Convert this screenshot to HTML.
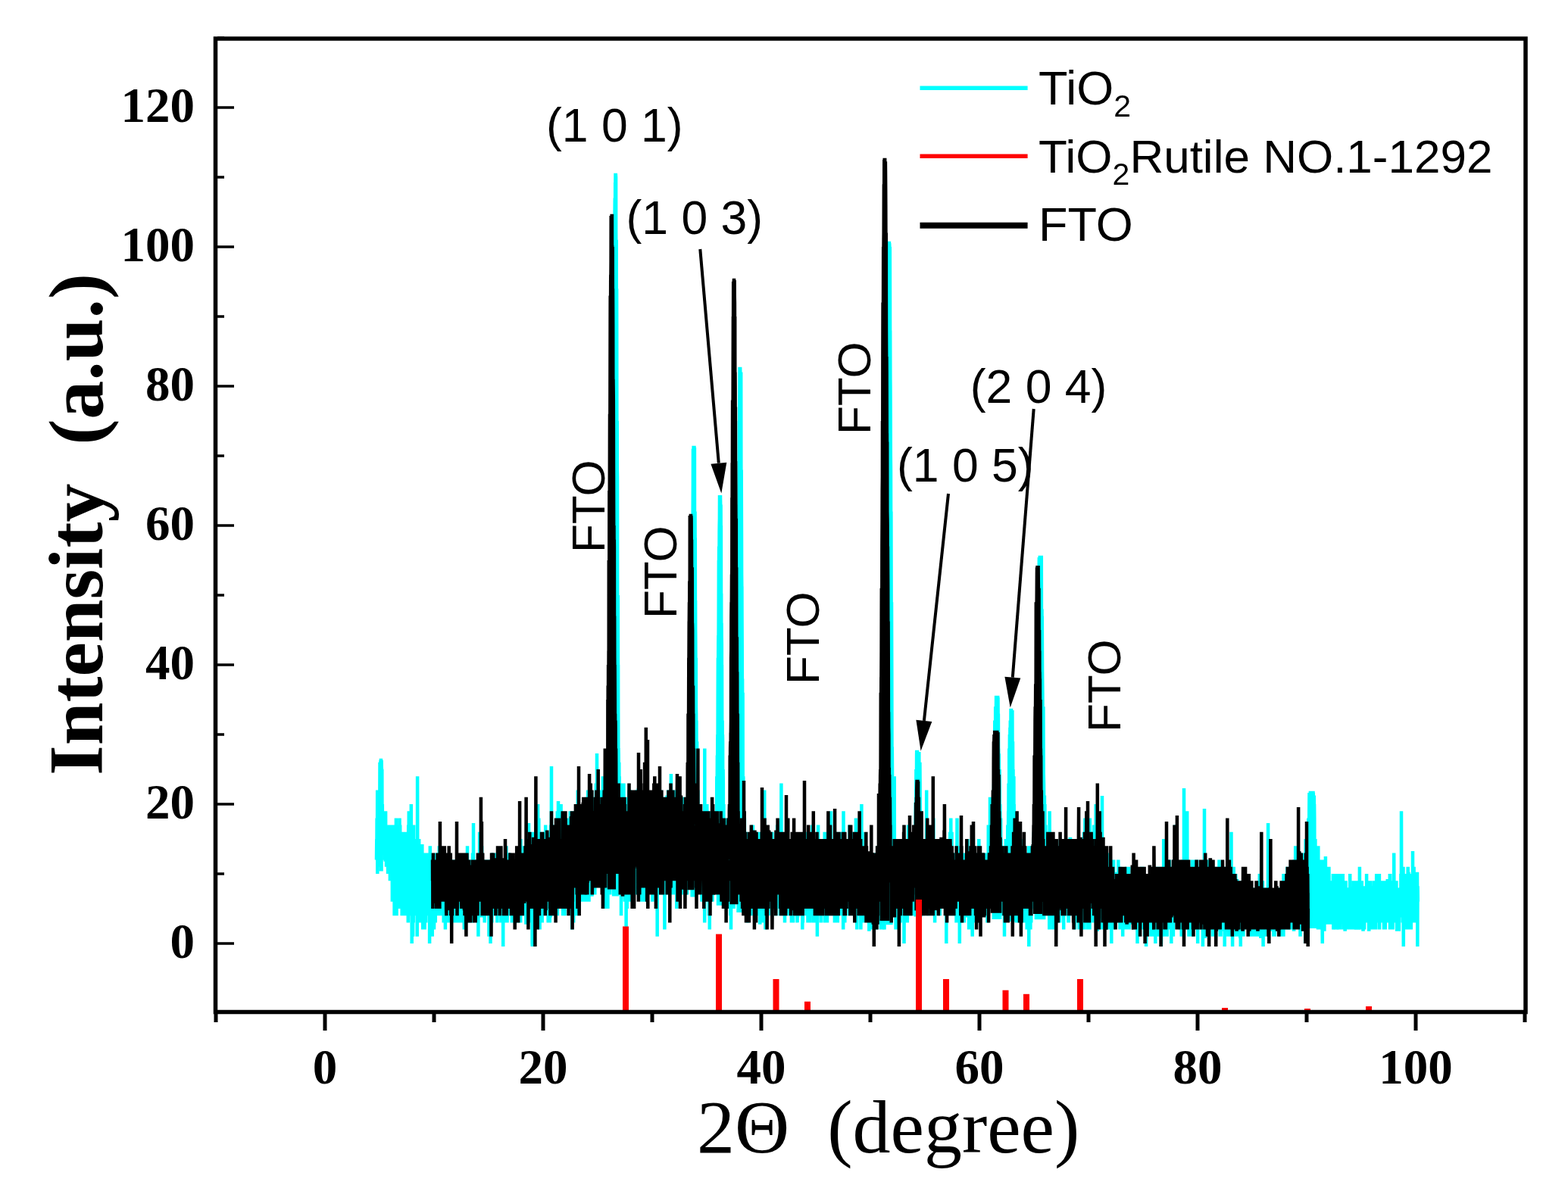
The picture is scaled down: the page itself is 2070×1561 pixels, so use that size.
<!DOCTYPE html>
<html><head><meta charset="utf-8"><title>XRD</title>
<style>html,body{margin:0;padding:0;background:#fff;} svg{display:block;}</style>
</head><body>
<svg width="2070" height="1561" viewBox="0 0 2070 1561"><rect width="2070" height="1561" fill="#fff"/><polygon fill="#00ffff" points="500.3,1150.5 500.3,1098.8 500.5,1108.0 500.6,1080.4 500.7,1089.6 500.9,1117.2 501.0,1080.4 501.2,1062.0 501.3,1062.0 501.5,1006.8 501.6,1043.6 501.8,1098.8 501.9,1016.0 502.0,1062.0 502.2,1034.4 502.3,1025.2 502.5,1004.0 502.6,1034.4 502.8,1016.0 502.9,1004.0 503.0,1004.0 503.2,1006.8 503.3,1043.6 503.5,1006.8 503.6,1004.0 503.8,1016.0 503.9,1016.0 504.1,1025.2 504.2,1025.2 504.3,1016.0 504.5,1098.8 504.6,1080.4 504.8,1062.0 504.9,1089.6 505.1,1117.2 505.2,1108.0 505.4,1089.6 505.5,1126.4 505.6,1126.4 505.8,1080.4 505.8,1150.5"/><polygon fill="#00ffff" points="807.9,1183.6 807.9,1043.6 808.0,1025.2 808.2,1006.8 808.3,1071.2 808.5,960.8 808.6,942.4 808.8,951.6 808.9,850.4 809.0,850.4 809.2,878.0 809.3,813.6 809.5,804.4 809.6,721.6 809.8,694.0 809.9,638.8 810.1,638.8 810.2,638.8 810.3,565.2 810.5,528.4 810.6,473.2 810.8,418.0 810.9,390.4 811.1,482.4 811.2,390.4 811.4,362.8 811.5,344.4 811.6,280.0 811.8,261.6 811.9,326.0 812.1,289.2 812.2,243.2 812.4,243.2 812.5,231.0 812.6,231.0 812.8,231.0 812.9,231.0 813.1,234.0 813.2,307.6 813.4,344.4 813.5,326.0 813.7,316.8 813.8,390.4 813.9,399.6 814.1,381.2 814.2,427.2 814.4,583.6 814.5,574.4 814.7,556.0 814.8,620.4 815.0,629.6 815.1,684.8 815.2,822.8 815.4,786.0 815.5,822.8 815.7,804.4 815.8,786.0 816.0,924.0 816.1,878.0 816.2,942.4 816.4,1025.2 816.5,988.4 816.7,997.6 816.8,1043.6 817.0,1052.8 817.1,1089.6 817.1,1183.6"/><polygon fill="#00ffff" points="911.4,1184.4 911.4,1052.8 911.6,1052.8 911.7,1071.2 911.9,979.2 912.0,1006.8 912.2,1016.0 912.3,1006.8 912.4,960.8 912.6,951.6 912.7,942.4 912.9,942.4 913.0,933.2 913.2,896.4 913.3,896.4 913.4,822.8 913.6,905.6 913.7,832.0 913.9,804.4 914.0,832.0 914.2,740.0 914.3,786.0 914.5,786.0 914.6,740.0 914.7,675.6 914.9,638.8 915.0,592.8 915.2,684.8 915.3,629.6 915.5,629.6 915.6,591.0 915.8,591.0 915.9,620.4 916.0,591.0 916.2,638.8 916.3,591.0 916.5,591.0 916.6,611.2 916.8,684.8 916.9,591.0 917.0,712.4 917.2,721.6 917.3,740.0 917.5,675.6 917.6,712.4 917.8,712.4 917.9,795.2 918.1,795.2 918.2,832.0 918.3,841.2 918.5,878.0 918.6,878.0 918.8,868.8 918.9,933.2 919.1,942.4 919.2,1006.8 919.4,951.6 919.5,979.2 919.6,997.6 919.8,1043.6 919.9,1034.4 920.1,979.2 920.2,1016.0 920.4,1080.4 920.5,1052.8 920.6,1135.6 920.6,1184.4"/><polygon fill="#00ffff" points="945.8,1195.8 945.8,1071.2 946.0,1108.0 946.1,1080.4 946.3,1025.2 946.4,1043.6 946.6,1025.2 946.7,1043.6 946.9,997.6 947.0,1034.4 947.1,1016.0 947.3,979.2 947.4,970.0 947.6,979.2 947.7,924.0 947.9,868.8 948.0,878.0 948.2,896.4 948.3,850.4 948.4,841.2 948.6,841.2 948.7,813.6 948.9,740.0 949.0,758.4 949.2,721.6 949.3,740.0 949.4,767.6 949.6,703.2 949.7,694.0 949.9,684.8 950.0,654.0 950.2,703.2 950.3,675.6 950.5,654.0 950.6,703.2 950.7,654.0 950.9,712.4 951.0,654.0 951.2,666.4 951.3,740.0 951.5,703.2 951.6,666.4 951.8,730.8 951.9,694.0 952.0,786.0 952.2,786.0 952.3,832.0 952.5,822.8 952.6,841.2 952.8,850.4 952.9,896.4 953.0,878.0 953.2,951.6 953.3,979.2 953.5,1006.8 953.6,951.6 953.8,1025.2 953.9,970.0 954.1,979.2 954.2,1025.2 954.3,1071.2 954.5,1062.0 954.6,1016.0 954.8,1034.4 954.9,1089.6 955.1,1071.2 955.1,1195.8"/><polygon fill="#00ffff" points="972.3,1205.1 972.3,1172.4 972.5,1052.8 972.6,1089.6 972.8,1080.4 972.9,1071.2 973.1,1052.8 973.2,1043.6 973.4,960.8 973.5,970.0 973.6,979.2 973.8,905.6 973.9,960.8 974.1,933.2 974.2,905.6 974.4,905.6 974.5,795.2 974.6,749.2 974.8,804.4 974.9,767.6 975.1,694.0 975.2,740.0 975.4,666.4 975.5,730.8 975.7,629.6 975.8,611.2 975.9,556.0 976.1,592.8 976.2,537.6 976.4,519.2 976.5,487.0 976.7,487.0 976.8,487.0 977.0,487.0 977.1,487.0 977.2,487.0 977.4,500.8 977.5,546.8 977.7,500.8 977.8,565.2 978.0,528.4 978.1,574.4 978.2,491.6 978.4,648.0 978.5,657.2 978.7,620.4 978.8,657.2 979.0,712.4 979.1,758.4 979.3,776.8 979.4,776.8 979.5,813.6 979.7,850.4 979.8,887.2 980.0,933.2 980.1,896.4 980.3,1006.8 980.4,970.0 980.6,914.8 980.7,1043.6 980.8,1034.4 981.0,1043.6 981.1,1089.6 981.3,1025.2 981.4,1089.6 981.6,1043.6 981.6,1205.1"/><polygon fill="#00ffff" points="1169.3,1221.3 1169.3,1089.6 1169.5,1089.6 1169.6,1043.6 1169.8,1062.0 1169.9,1025.2 1170.1,1043.6 1170.2,997.6 1170.3,942.4 1170.5,942.4 1170.6,942.4 1170.8,924.0 1170.9,914.8 1171.1,832.0 1171.2,859.6 1171.4,804.4 1171.5,758.4 1171.6,740.0 1171.8,684.8 1171.9,638.8 1172.1,638.8 1172.2,574.4 1172.4,556.0 1172.5,473.2 1172.6,427.2 1172.8,464.0 1172.9,427.2 1173.1,399.6 1173.2,353.6 1173.4,326.0 1173.5,362.8 1173.7,321.0 1173.8,321.0 1173.9,321.0 1174.1,372.0 1174.2,321.0 1174.4,326.0 1174.5,344.4 1174.7,408.8 1174.8,326.0 1175.0,399.6 1175.1,464.0 1175.2,436.4 1175.4,500.8 1175.5,510.0 1175.7,556.0 1175.8,602.0 1176.0,620.4 1176.1,675.6 1176.2,721.6 1176.4,675.6 1176.5,730.8 1176.7,832.0 1176.8,868.8 1177.0,795.2 1177.1,832.0 1177.3,887.2 1177.4,942.4 1177.5,988.4 1177.7,988.4 1177.8,988.4 1178.0,1016.0 1178.1,1052.8 1178.3,1089.6 1178.4,1052.8 1178.6,1080.4 1178.6,1221.3"/><polygon fill="#00ffff" points="1206.5,1210.5 1206.5,1154.0 1206.6,1190.8 1206.8,1144.8 1206.9,1126.4 1207.1,1181.6 1207.2,1135.6 1207.4,1108.0 1207.5,1135.6 1207.6,1117.2 1207.8,1181.6 1207.9,1108.0 1208.1,1098.8 1208.2,1117.2 1208.4,1135.6 1208.5,1135.6 1208.6,1089.6 1208.8,1062.0 1208.9,1062.0 1209.1,1071.2 1209.2,1062.0 1209.4,1016.0 1209.5,1098.8 1209.7,1062.0 1209.8,1089.6 1209.9,1052.8 1210.1,997.6 1210.2,993.0 1210.4,993.0 1210.5,1006.8 1210.7,1052.8 1210.8,993.0 1211.0,993.0 1211.1,1016.0 1211.2,993.0 1211.4,1034.4 1211.5,1016.0 1211.7,1043.6 1211.8,1006.8 1212.0,993.0 1212.1,1043.6 1212.2,1016.0 1212.4,1052.8 1212.5,997.6 1212.7,993.0 1212.8,1016.0 1213.0,1034.4 1213.1,997.6 1213.3,993.0 1213.4,1043.6 1213.5,1006.8 1213.7,1025.2 1213.8,1080.4 1214.0,1006.8 1214.1,1025.2 1214.3,1071.2 1214.4,1006.8 1214.6,1034.4 1214.7,1071.2 1214.8,1071.2 1215.0,1089.6 1215.1,1071.2 1215.3,1080.4 1215.4,1144.8 1215.6,1080.4 1215.7,1117.2 1215.8,1117.2 1216.0,1117.2 1216.1,1126.4 1216.3,1154.0 1216.4,1071.2 1216.6,1154.0 1216.7,1089.6 1216.9,1190.8 1217.0,1154.0 1217.1,1163.2 1217.3,1126.4 1217.4,1154.0 1217.6,1172.4 1217.6,1210.5"/><polygon fill="#00ffff" points="1309.6,1213.9 1309.6,1135.6 1309.7,1117.2 1309.9,1200.0 1310.0,1154.0 1310.2,1144.8 1310.3,1154.0 1310.5,1098.8 1310.6,1163.2 1310.7,1108.0 1310.9,1080.4 1311.0,1108.0 1311.2,1144.8 1311.3,1071.2 1311.5,1080.4 1311.6,1071.2 1311.8,1071.2 1311.9,1071.2 1312.0,1043.6 1312.2,1034.4 1312.3,1043.6 1312.5,1089.6 1312.6,1016.0 1312.8,1043.6 1312.9,1025.2 1313.0,1006.8 1313.2,970.0 1313.3,951.6 1313.5,997.6 1313.6,979.2 1313.8,988.4 1313.9,951.6 1314.1,988.4 1314.2,933.2 1314.3,951.6 1314.5,933.2 1314.6,979.2 1314.8,988.4 1314.9,942.4 1315.1,921.0 1315.2,921.0 1315.4,942.4 1315.5,921.0 1315.6,924.0 1315.8,921.0 1315.9,924.0 1316.1,921.0 1316.2,921.0 1316.4,951.6 1316.5,960.8 1316.6,921.0 1316.8,960.8 1316.9,942.4 1317.1,921.0 1317.2,921.0 1317.4,970.0 1317.5,921.0 1317.7,960.8 1317.8,979.2 1317.9,942.4 1318.1,1006.8 1318.2,988.4 1318.4,1006.8 1318.5,1043.6 1318.7,997.6 1318.8,997.6 1319.0,1043.6 1319.1,1016.0 1319.2,1043.6 1319.4,1062.0 1319.5,1016.0 1319.7,1034.4 1319.8,1080.4 1320.0,1098.8 1320.1,1117.2 1320.2,1062.0 1320.4,1080.4 1320.5,1108.0 1320.7,1089.6 1320.8,1117.2 1321.0,1126.4 1321.1,1080.4 1321.3,1154.0 1321.4,1163.2 1321.5,1108.0 1321.7,1126.4 1321.8,1144.8 1322.0,1163.2 1322.1,1135.6 1322.3,1163.2 1322.4,1172.4 1322.4,1213.9"/><polygon fill="#00ffff" points="1329.5,1216.9 1329.5,1181.6 1329.6,1135.6 1329.8,1190.8 1329.9,1172.4 1330.0,1117.2 1330.2,1163.2 1330.3,1089.6 1330.5,1172.4 1330.6,1098.8 1330.8,1135.6 1330.9,1108.0 1331.0,1117.2 1331.2,1071.2 1331.3,1098.8 1331.5,1062.0 1331.6,1034.4 1331.8,1052.8 1331.9,1043.6 1332.1,1071.2 1332.2,1071.2 1332.3,988.4 1332.5,1034.4 1332.6,1016.0 1332.8,988.4 1332.9,970.0 1333.1,1025.2 1333.2,1006.8 1333.4,960.8 1333.5,970.0 1333.6,988.4 1333.8,951.6 1333.9,970.0 1334.1,970.0 1334.2,951.6 1334.4,960.8 1334.5,938.0 1334.6,938.0 1334.8,938.0 1334.9,938.0 1335.1,938.0 1335.2,951.6 1335.4,970.0 1335.5,970.0 1335.7,938.0 1335.8,979.2 1335.9,960.8 1336.1,951.6 1336.2,988.4 1336.4,938.0 1336.5,979.2 1336.7,1016.0 1336.8,1025.2 1337.0,979.2 1337.1,1006.8 1337.2,1025.2 1337.4,1043.6 1337.5,1016.0 1337.7,1062.0 1337.8,1025.2 1338.0,1089.6 1338.1,1034.4 1338.2,1080.4 1338.4,1025.2 1338.5,1126.4 1338.7,1062.0 1338.8,1089.6 1339.0,1089.6 1339.1,1144.8 1339.3,1098.8 1339.4,1172.4 1339.5,1117.2 1339.7,1154.0 1339.8,1144.8 1340.0,1163.2 1340.1,1126.4 1340.3,1144.8 1340.4,1181.6 1340.6,1181.6 1340.6,1216.9"/><polygon fill="#00ffff" points="1365.6,1214.3 1365.6,1144.8 1365.8,1117.2 1365.9,1172.4 1366.0,1117.2 1366.2,1062.0 1366.3,1108.0 1366.5,1043.6 1366.6,1126.4 1366.8,1098.8 1366.9,1034.4 1367.0,1108.0 1367.2,1080.4 1367.3,1034.4 1367.5,1062.0 1367.6,1016.0 1367.8,1052.8 1367.9,1080.4 1368.1,1071.2 1368.2,970.0 1368.3,988.4 1368.5,1016.0 1368.6,1062.0 1368.8,933.2 1368.9,924.0 1369.1,905.6 1369.2,914.8 1369.4,979.2 1369.5,914.8 1369.6,896.4 1369.8,896.4 1369.9,896.4 1370.1,832.0 1370.2,887.2 1370.4,832.0 1370.5,878.0 1370.6,813.6 1370.8,822.8 1370.9,832.0 1371.1,795.2 1371.2,813.6 1371.4,786.0 1371.5,795.2 1371.7,767.6 1371.8,740.0 1371.9,736.0 1372.1,758.4 1372.2,749.2 1372.4,749.2 1372.5,736.0 1372.7,795.2 1372.8,736.0 1373.0,736.0 1373.1,740.0 1373.2,758.4 1373.4,736.0 1373.5,736.0 1373.7,767.6 1373.8,749.2 1374.0,749.2 1374.1,736.0 1374.2,736.0 1374.4,795.2 1374.5,795.2 1374.7,736.0 1374.8,736.0 1375.0,841.2 1375.1,804.4 1375.3,813.6 1375.4,832.0 1375.5,804.4 1375.7,887.2 1375.8,813.6 1376.0,868.8 1376.1,887.2 1376.3,905.6 1376.4,914.8 1376.6,960.8 1376.7,933.2 1376.8,960.8 1377.0,951.6 1377.1,942.4 1377.3,997.6 1377.4,933.2 1377.6,997.6 1377.7,1025.2 1377.8,1025.2 1378.0,1034.4 1378.1,1043.6 1378.3,1080.4 1378.4,1052.8 1378.6,1071.2 1378.7,1052.8 1378.9,1052.8 1379.0,1089.6 1379.1,1098.8 1379.3,1117.2 1379.4,1062.0 1379.6,1135.6 1379.7,1126.4 1379.9,1098.8 1380.0,1098.8 1380.2,1089.6 1380.3,1108.0 1380.4,1089.6 1380.4,1214.3"/><polygon fill="#00ffff" points="1724.6,1226.0 1724.6,1117.2 1724.7,1126.4 1724.9,1144.8 1725.0,1154.0 1725.2,1135.6 1725.3,1163.2 1725.5,1108.0 1725.6,1181.6 1725.8,1154.0 1725.9,1144.8 1726.0,1172.4 1726.2,1154.0 1726.3,1154.0 1726.5,1172.4 1726.6,1098.8 1726.8,1144.8 1726.9,1144.8 1727.0,1126.4 1727.2,1163.2 1727.3,1080.4 1727.5,1154.0 1727.6,1154.0 1727.8,1108.0 1727.9,1135.6 1728.1,1144.8 1728.2,1126.4 1728.3,1071.2 1728.5,1047.0 1728.6,1117.2 1728.8,1080.4 1728.9,1126.4 1729.1,1080.4 1729.2,1071.2 1729.4,1098.8 1729.5,1062.0 1729.6,1062.0 1729.8,1062.0 1729.9,1047.0 1730.1,1047.0 1730.2,1062.0 1730.4,1098.8 1730.5,1062.0 1730.6,1047.0 1730.8,1089.6 1730.9,1071.2 1731.1,1071.2 1731.2,1089.6 1731.4,1047.0 1731.5,1047.0 1731.7,1062.0 1731.8,1052.8 1731.9,1047.0 1732.1,1052.8 1732.2,1062.0 1732.4,1071.2 1732.5,1098.8 1732.7,1047.0 1732.8,1062.0 1733.0,1071.2 1733.1,1080.4 1733.2,1071.2 1733.4,1047.0 1733.5,1047.0 1733.7,1089.6 1733.8,1047.0 1734.0,1117.2 1734.1,1117.2 1734.2,1062.0 1734.4,1098.8 1734.5,1098.8 1734.7,1052.8 1734.8,1052.8 1735.0,1071.2 1735.1,1062.0 1735.3,1080.4 1735.4,1144.8 1735.5,1117.2 1735.7,1126.4 1735.8,1108.0 1736.0,1144.8 1736.1,1117.2 1736.3,1135.6 1736.4,1108.0 1736.6,1163.2 1736.7,1144.8 1736.8,1135.6 1737.0,1117.2 1737.1,1172.4 1737.3,1144.8 1737.4,1144.8 1737.6,1163.2 1737.7,1163.2 1737.8,1172.4 1738.0,1135.6 1738.1,1172.4 1738.3,1117.2 1738.4,1144.8 1738.6,1181.6 1738.7,1181.6 1738.9,1154.0 1739.0,1218.4 1739.1,1154.0 1739.3,1200.0 1739.4,1181.6 1739.4,1226.0"/><polyline fill="none" stroke="#00ffff" stroke-width="4.5" stroke-linejoin="miter" stroke-miterlimit="2" points="497.0,1135.6 497.1,1126.4 497.3,1108.0 497.4,1135.6 497.6,1080.4 497.7,1098.8 497.9,1126.4 498.0,1126.4 498.2,1043.6 498.3,1154.0 498.4,1135.6 498.6,1080.4 498.7,1144.8 498.9,1080.4 499.0,1098.8 499.2,1117.2 499.3,1089.6 499.4,1080.4 499.6,1089.6 499.7,1071.2 499.9,1108.0 500.0,1080.4 500.2,1080.4 500.3,1098.8 500.5,1108.0 500.6,1080.4 500.7,1089.6 500.9,1117.2 501.0,1080.4 501.2,1062.0 501.3,1062.0 501.5,1006.8 501.6,1043.6 501.8,1098.8 501.9,1016.0 502.0,1062.0 502.2,1034.4 502.3,1025.2 502.5,1004.0 502.6,1034.4 502.8,1016.0 502.9,1004.0 503.0,1004.0 503.2,1006.8 503.3,1043.6 503.5,1006.8 503.6,1004.0 503.8,1016.0 503.9,1016.0 504.1,1025.2 504.2,1025.2 504.3,1016.0 504.5,1098.8 504.6,1080.4 504.8,1062.0 504.9,1089.6 505.1,1117.2 505.2,1108.0 505.4,1089.6 505.5,1126.4 505.6,1126.4 505.8,1080.4 505.9,1089.6 506.1,1080.4 506.2,1098.8 506.4,1117.2 506.5,1126.4 506.6,1098.8 506.8,1117.2 506.9,1108.0 507.1,1126.4 507.2,1080.4 507.4,1135.6 507.5,1126.4 507.7,1135.6 507.8,1126.4 507.9,1135.6 508.1,1108.0 508.2,1126.4 508.4,1089.6 508.5,1117.2 508.7,1135.6 508.8,1135.6 509.0,1108.0 509.1,1071.2 509.2,1098.8 509.4,1126.4 509.5,1135.6 509.7,1117.2 509.8,1108.0 510.0,1144.8 510.1,1126.4 510.2,1098.8 510.4,1117.2 510.5,1144.8 510.7,1126.4 510.8,1126.4 511.0,1117.2 511.1,1126.4 511.3,1117.2 511.4,1098.8 511.5,1108.0 511.7,1144.8 511.8,1117.2 512.0,1135.6 512.1,1154.0 512.3,1135.6 512.4,1154.0 512.6,1117.2 512.7,1126.4 512.8,1135.6 513.0,1144.8 513.1,1126.4 513.3,1126.4 513.4,1154.0 513.6,1108.0 513.7,1089.6 513.8,1126.4 514.0,1108.0 514.1,1126.4 514.3,1108.0 514.4,1126.4 514.6,1117.2 514.7,1098.8 514.9,1163.2 515.0,1108.0 515.1,1098.8 515.3,1135.6 515.4,1098.8 515.6,1089.6 515.7,1108.0 515.9,1108.0 516.0,1089.6 516.2,1135.6 516.3,1163.2 516.4,1117.2 516.6,1144.8 516.7,1117.2 516.9,1117.2 517.0,1108.0 517.2,1144.8 517.3,1135.6 517.4,1117.2 517.6,1108.0 517.7,1098.8 517.9,1190.8 518.0,1154.0 518.2,1108.0 518.3,1163.2 518.5,1154.0 518.6,1163.2 518.7,1098.8 518.9,1089.6 519.0,1108.0 519.2,1117.2 519.3,1117.2 519.5,1126.4 519.6,1154.0 519.8,1098.8 519.9,1126.4 520.0,1163.2 520.2,1163.2 520.3,1181.6 520.5,1126.4 520.6,1209.2 520.8,1098.8 520.9,1172.4 521.0,1117.2 521.2,1144.8 521.3,1089.6 521.5,1172.4 521.6,1144.8 521.8,1098.8 521.9,1154.0 522.1,1172.4 522.2,1108.0 522.3,1154.0 522.5,1135.6 522.6,1108.0 522.8,1209.2 522.9,1080.4 523.1,1154.0 523.2,1181.6 523.4,1172.4 523.5,1190.8 523.6,1209.2 523.8,1135.6 523.9,1117.2 524.1,1190.8 524.2,1089.6 524.4,1190.8 524.5,1117.2 524.6,1181.6 524.8,1200.0 524.9,1181.6 525.1,1098.8 525.2,1181.6 525.4,1144.8 525.5,1108.0 525.7,1117.2 525.8,1108.0 525.9,1154.0 526.1,1117.2 526.2,1172.4 526.4,1135.6 526.5,1172.4 526.7,1117.2 526.8,1108.0 527.0,1172.4 527.1,1108.0 527.2,1200.0 527.4,1163.2 527.5,1080.4 527.7,1126.4 527.8,1144.8 528.0,1089.6 528.1,1126.4 528.2,1089.6 528.4,1181.6 528.5,1117.2 528.7,1181.6 528.8,1163.2 529.0,1144.8 529.1,1098.8 529.3,1181.6 529.4,1144.8 529.5,1117.2 529.7,1172.4 529.8,1181.6 530.0,1135.6 530.1,1144.8 530.3,1117.2 530.4,1200.0 530.6,1126.4 530.7,1209.2 530.8,1126.4 531.0,1117.2 531.1,1108.0 531.3,1108.0 531.4,1126.4 531.6,1163.2 531.7,1209.2 531.8,1126.4 532.0,1172.4 532.1,1163.2 532.3,1154.0 532.4,1144.8 532.6,1135.6 532.7,1098.8 532.9,1190.8 533.0,1154.0 533.1,1200.0 533.3,1144.8 533.4,1209.2 533.6,1200.0 533.7,1108.0 533.9,1209.2 534.0,1181.6 534.2,1098.8 534.3,1181.6 534.4,1172.4 534.6,1098.8 534.7,1209.2 534.9,1135.6 535.0,1108.0 535.2,1172.4 535.3,1098.8 535.4,1172.4 535.6,1181.6 535.7,1190.8 535.9,1144.8 536.0,1163.2 536.2,1163.2 536.3,1181.6 536.5,1181.6 536.6,1200.0 536.7,1209.2 536.9,1163.2 537.0,1172.4 537.2,1209.2 537.3,1108.0 537.5,1135.6 537.6,1209.2 537.8,1190.8 537.9,1135.6 538.0,1163.2 538.2,1200.0 538.3,1108.0 538.5,1144.8 538.6,1154.0 538.8,1218.4 538.9,1209.2 539.0,1144.8 539.2,1089.6 539.3,1163.2 539.5,1126.4 539.6,1117.2 539.8,1071.2 539.9,1135.6 540.1,1117.2 540.2,1126.4 540.3,1181.6 540.5,1154.0 540.6,1172.4 540.8,1117.2 540.9,1154.0 541.1,1135.6 541.2,1181.6 541.4,1209.2 541.5,1190.8 541.6,1163.2 541.8,1117.2 541.9,1190.8 542.1,1135.6 542.2,1126.4 542.4,1135.6 542.5,1190.8 542.6,1154.0 542.8,1062.0 542.9,1126.4 543.1,1154.0 543.2,1163.2 543.4,1172.4 543.5,1098.8 543.7,1246.0 543.8,1163.2 543.9,1172.4 544.1,1163.2 544.2,1190.8 544.4,1144.8 544.5,1117.2 544.7,1190.8 544.8,1163.2 545.0,1218.4 545.1,1236.8 545.2,1154.0 545.4,1163.2 545.5,1163.2 545.7,1218.4 545.8,1135.6 546.0,1135.6 546.1,1089.6 546.2,1209.2 546.4,1172.4 546.5,1144.8 546.7,1135.6 546.8,1117.2 547.0,1200.0 547.1,1117.2 547.3,1172.4 547.4,1108.0 547.5,1200.0 547.7,1172.4 547.8,1144.8 548.0,1181.6 548.1,1190.8 548.3,1200.0 548.4,1200.0 548.6,1181.6 548.7,1209.2 548.8,1200.0 549.0,1200.0 549.1,1190.8 549.3,1190.8 549.4,1172.4 549.6,1190.8 549.7,1154.0 549.8,1163.2 550.0,1163.2 550.1,1190.8 550.3,1172.4 550.4,1181.6 550.6,1172.4 550.7,1236.8 550.9,1144.8 551.0,1154.0 551.1,1025.2 551.3,1154.0 551.4,1181.6 551.6,1209.2 551.7,1144.8 551.9,1117.2 552.0,1181.6 552.2,1154.0 552.3,1144.8 552.4,1190.8 552.6,1172.4 552.7,1200.0 552.9,1172.4 553.0,1181.6 553.2,1108.0 553.3,1209.2 553.4,1163.2 553.6,1190.8 553.7,1172.4 553.9,1190.8 554.0,1172.4 554.2,1190.8 554.3,1172.4 554.5,1144.8 554.6,1117.2 554.7,1126.4 554.9,1218.4 555.0,1126.4 555.2,1190.8 555.3,1209.2 555.5,1181.6 555.6,1135.6 555.8,1126.4 555.9,1190.8 556.0,1135.6 556.2,1181.6 556.3,1135.6 556.5,1209.2 556.6,1144.8 556.8,1154.0 556.9,1209.2 557.0,1154.0 557.2,1117.2 557.3,1117.2 557.5,1181.6 557.6,1135.6 557.8,1190.8 557.9,1163.2 558.1,1172.4 558.2,1227.6 558.3,1135.6 558.5,1181.6 558.6,1154.0 558.8,1154.0 558.9,1218.4 559.1,1144.8 559.2,1181.6 559.4,1163.2 559.5,1190.8 559.6,1190.8 559.8,1154.0 559.9,1135.6 560.1,1126.4 560.2,1218.4 560.4,1209.2 560.5,1200.0 560.6,1227.6 560.8,1154.0 560.9,1181.6 561.1,1172.4 561.2,1163.2 561.4,1181.6 561.5,1181.6 561.7,1172.4 561.8,1181.6 561.9,1172.4 562.1,1200.0 562.2,1218.4 562.4,1172.4 562.5,1181.6 562.7,1181.6 562.8,1154.0 563.0,1163.2 563.1,1181.6 563.2,1209.2 563.4,1200.0 563.5,1163.2 563.7,1181.6 563.8,1190.8 564.0,1172.4 564.1,1126.4 564.2,1181.6 564.4,1154.0 564.5,1181.6 564.7,1190.8 564.8,1209.2 565.0,1181.6 565.1,1172.4 565.3,1200.0 565.4,1209.2 565.5,1190.8 565.7,1163.2 565.8,1126.4 566.0,1154.0 566.1,1144.8 566.3,1144.8 566.4,1200.0 566.6,1144.8 566.7,1144.8 566.8,1200.0 567.0,1163.2 567.1,1246.0 567.3,1172.4 567.4,1200.0 567.6,1172.4 567.7,1227.6 567.8,1117.2 568.0,1190.8 568.1,1190.8 568.3,1181.6 568.4,1163.2 568.6,1144.8 568.7,1181.6 568.9,1172.4 569.0,1218.4 569.1,1227.6 569.3,1172.4 569.4,1154.0 569.6,1154.0 569.7,1218.4 569.9,1163.2 570.0,1163.2 570.2,1163.2 570.3,1227.6 570.4,1181.6 570.6,1144.8 570.7,1236.8 570.9,1144.8 571.0,1181.6 571.2,1172.4 571.3,1209.2 571.4,1163.2 571.6,1190.8 571.7,1218.4 571.9,1200.0 572.0,1163.2 572.2,1190.8 572.3,1190.8 572.5,1172.4 572.6,1209.2 572.7,1135.6 572.9,1163.2 573.0,1227.6 573.2,1209.2 573.3,1172.4 573.5,1154.0 573.6,1172.4 573.8,1163.2 573.9,1190.8 574.0,1172.4 574.2,1181.6 574.3,1200.0 574.5,1190.8 574.6,1154.0 574.8,1218.4 574.9,1144.8 575.0,1190.8 575.2,1181.6 575.3,1181.6 575.5,1209.2 575.6,1126.4 575.8,1181.6 575.9,1200.0 576.1,1190.8 576.2,1163.2 576.3,1190.8 576.5,1144.8 576.6,1181.6 576.8,1200.0 576.9,1200.0 577.1,1163.2 577.2,1190.8 577.4,1172.4 577.5,1163.2 577.6,1172.4 577.8,1200.0 577.9,1163.2 578.1,1163.2 578.2,1163.2 578.4,1135.6 578.5,1144.8 578.6,1200.0 578.8,1190.8 578.9,1209.2 579.1,1200.0 579.2,1172.4 579.4,1172.4 579.5,1200.0 579.7,1209.2 579.8,1117.2 579.9,1144.8 580.1,1135.6 580.2,1200.0 580.4,1181.6 580.5,1172.4 580.7,1190.8 580.8,1181.6 581.0,1172.4 581.1,1163.2 581.2,1144.8 581.4,1144.8 581.5,1190.8 581.7,1172.4 581.8,1209.2 582.0,1135.6 582.1,1200.0 582.2,1181.6 582.4,1154.0 582.5,1144.8 582.7,1135.6 582.8,1181.6 583.0,1172.4 583.1,1172.4 583.3,1154.0 583.4,1181.6 583.5,1135.6 583.7,1172.4 583.8,1172.4 584.0,1209.2 584.1,1154.0 584.3,1190.8 584.4,1126.4 584.6,1163.2 584.7,1190.8 584.8,1190.8 585.0,1172.4 585.1,1163.2 585.3,1154.0 585.4,1144.8 585.6,1200.0 585.7,1218.4 585.8,1154.0 586.0,1163.2 586.1,1154.0 586.3,1190.8 586.4,1181.6 586.6,1209.2 586.7,1135.6 586.9,1181.6 587.0,1135.6 587.1,1172.4 587.3,1163.2 587.4,1181.6 587.6,1181.6 587.7,1135.6 587.9,1227.6 588.0,1163.2 588.2,1135.6 588.3,1163.2 588.4,1181.6 588.6,1200.0 588.7,1209.2 588.9,1190.8 589.0,1144.8 589.2,1135.6 589.3,1181.6 589.4,1163.2 589.6,1181.6 589.7,1154.0 589.9,1190.8 590.0,1163.2 590.2,1163.2 590.3,1144.8 590.5,1181.6 590.6,1190.8 590.7,1154.0 590.9,1154.0 591.0,1181.6 591.2,1144.8 591.3,1218.4 591.5,1144.8 591.6,1200.0 591.8,1154.0 591.9,1163.2 592.0,1209.2 592.2,1144.8 592.3,1172.4 592.5,1181.6 592.6,1181.6 592.8,1154.0 592.9,1181.6 593.0,1126.4 593.2,1172.4 593.3,1181.6 593.5,1200.0 593.6,1144.8 593.8,1144.8 593.9,1200.0 594.1,1172.4 594.2,1172.4 594.3,1181.6 594.5,1163.2 594.6,1154.0 594.8,1209.2 594.9,1163.2 595.1,1154.0 595.2,1154.0 595.4,1163.2 595.5,1144.8 595.6,1172.4 595.8,1218.4 595.9,1181.6 596.1,1144.8 596.2,1200.0 596.4,1181.6 596.5,1181.6 596.6,1190.8 596.8,1154.0 596.9,1190.8 597.1,1154.0 597.2,1163.2 597.4,1218.4 597.5,1190.8 597.7,1154.0 597.8,1190.8 597.9,1200.0 598.1,1172.4 598.2,1154.0 598.4,1181.6 598.5,1200.0 598.7,1135.6 598.8,1209.2 599.0,1163.2 599.1,1135.6 599.2,1154.0 599.4,1190.8 599.5,1181.6 599.7,1154.0 599.8,1181.6 600.0,1154.0 600.1,1181.6 600.2,1154.0 600.4,1172.4 600.5,1209.2 600.7,1218.4 600.8,1144.8 601.0,1154.0 601.1,1218.4 601.3,1190.8 601.4,1163.2 601.5,1181.6 601.7,1200.0 601.8,1190.8 602.0,1154.0 602.1,1163.2 602.3,1181.6 602.4,1190.8 602.6,1163.2 602.7,1218.4 602.8,1190.8 603.0,1154.0 603.1,1163.2 603.3,1200.0 603.4,1172.4 603.6,1200.0 603.7,1154.0 603.8,1154.0 604.0,1190.8 604.1,1218.4 604.3,1154.0 604.4,1135.6 604.6,1190.8 604.7,1190.8 604.9,1163.2 605.0,1163.2 605.1,1200.0 605.3,1163.2 605.4,1135.6 605.6,1154.0 605.7,1163.2 605.9,1200.0 606.0,1163.2 606.2,1218.4 606.3,1190.8 606.4,1144.8 606.6,1172.4 606.7,1154.0 606.9,1172.4 607.0,1200.0 607.2,1163.2 607.3,1200.0 607.4,1135.6 607.6,1172.4 607.7,1163.2 607.9,1218.4 608.0,1144.8 608.2,1190.8 608.3,1200.0 608.5,1172.4 608.6,1181.6 608.7,1172.4 608.9,1135.6 609.0,1163.2 609.2,1190.8 609.3,1181.6 609.5,1154.0 609.6,1144.8 609.8,1172.4 609.9,1172.4 610.0,1144.8 610.2,1172.4 610.3,1181.6 610.5,1190.8 610.6,1200.0 610.8,1209.2 610.9,1163.2 611.0,1163.2 611.2,1190.8 611.3,1154.0 611.5,1218.4 611.6,1181.6 611.8,1163.2 611.9,1144.8 612.1,1135.6 612.2,1209.2 612.3,1190.8 612.5,1154.0 612.6,1163.2 612.8,1227.6 612.9,1172.4 613.1,1209.2 613.2,1163.2 613.4,1163.2 613.5,1200.0 613.6,1200.0 613.8,1181.6 613.9,1190.8 614.1,1227.6 614.2,1154.0 614.4,1154.0 614.5,1209.2 614.6,1190.8 614.8,1209.2 614.9,1144.8 615.1,1181.6 615.2,1172.4 615.4,1163.2 615.5,1154.0 615.7,1163.2 615.8,1144.8 615.9,1209.2 616.1,1190.8 616.2,1209.2 616.4,1209.2 616.5,1218.4 616.7,1181.6 616.8,1190.8 617.0,1117.2 617.1,1209.2 617.2,1209.2 617.4,1172.4 617.5,1190.8 617.7,1135.6 617.8,1172.4 618.0,1154.0 618.1,1200.0 618.2,1163.2 618.4,1135.6 618.5,1163.2 618.7,1209.2 618.8,1135.6 619.0,1172.4 619.1,1135.6 619.3,1163.2 619.4,1163.2 619.5,1172.4 619.7,1209.2 619.8,1218.4 620.0,1154.0 620.1,1163.2 620.3,1144.8 620.4,1200.0 620.6,1172.4 620.7,1163.2 620.8,1163.2 621.0,1190.8 621.1,1181.6 621.3,1190.8 621.4,1163.2 621.6,1135.6 621.7,1209.2 621.8,1163.2 622.0,1200.0 622.1,1209.2 622.3,1200.0 622.4,1163.2 622.6,1190.8 622.7,1154.0 622.9,1218.4 623.0,1144.8 623.1,1209.2 623.3,1190.8 623.4,1181.6 623.6,1172.4 623.7,1218.4 623.9,1172.4 624.0,1126.4 624.2,1200.0 624.3,1135.6 624.4,1172.4 624.6,1209.2 624.7,1135.6 624.9,1200.0 625.0,1087.0 625.2,1190.8 625.3,1209.2 625.4,1135.6 625.6,1181.6 625.7,1172.4 625.9,1190.8 626.0,1163.2 626.2,1172.4 626.3,1172.4 626.5,1190.8 626.6,1172.4 626.7,1190.8 626.9,1154.0 627.0,1181.6 627.2,1190.8 627.3,1190.8 627.5,1144.8 627.6,1200.0 627.8,1163.2 627.9,1190.8 628.0,1163.2 628.2,1163.2 628.3,1181.6 628.5,1172.4 628.6,1172.4 628.8,1163.2 628.9,1144.8 629.0,1190.8 629.2,1163.2 629.3,1135.6 629.5,1190.8 629.6,1135.6 629.8,1190.8 629.9,1172.4 630.1,1172.4 630.2,1200.0 630.3,1181.6 630.5,1200.0 630.6,1154.0 630.8,1154.0 630.9,1200.0 631.1,1200.0 631.2,1135.6 631.4,1236.8 631.5,1190.8 631.6,1200.0 631.8,1190.8 631.9,1154.0 632.1,1200.0 632.2,1200.0 632.4,1190.8 632.5,1209.2 632.6,1200.0 632.8,1190.8 632.9,1200.0 633.1,1098.8 633.2,1163.2 633.4,1163.2 633.5,1135.6 633.7,1181.6 633.8,1154.0 633.9,1209.2 634.1,1181.6 634.2,1181.6 634.4,1154.0 634.5,1144.8 634.7,1190.8 634.8,1135.6 635.0,1163.2 635.1,1209.2 635.2,1209.2 635.4,1181.6 635.5,1200.0 635.7,1154.0 635.8,1209.2 636.0,1200.0 636.1,1117.2 636.2,1200.0 636.4,1163.2 636.5,1172.4 636.7,1172.4 636.8,1190.8 637.0,1209.2 637.1,1190.8 637.3,1190.8 637.4,1154.0 637.5,1181.6 637.7,1163.2 637.8,1172.4 638.0,1154.0 638.1,1181.6 638.3,1172.4 638.4,1209.2 638.6,1144.8 638.7,1209.2 638.8,1190.8 639.0,1181.6 639.1,1163.2 639.3,1154.0 639.4,1135.6 639.6,1190.8 639.7,1218.4 639.8,1181.6 640.0,1200.0 640.1,1200.0 640.3,1135.6 640.4,1181.6 640.6,1163.2 640.7,1209.2 640.9,1144.8 641.0,1135.6 641.1,1172.4 641.3,1190.8 641.4,1144.8 641.6,1200.0 641.7,1172.4 641.9,1200.0 642.0,1190.8 642.2,1154.0 642.3,1190.8 642.4,1144.8 642.6,1144.8 642.7,1181.6 642.9,1200.0 643.0,1154.0 643.2,1154.0 643.3,1172.4 643.4,1135.6 643.6,1200.0 643.7,1190.8 643.9,1163.2 644.0,1163.2 644.2,1200.0 644.3,1144.8 644.5,1200.0 644.6,1209.2 644.7,1135.6 644.9,1144.8 645.0,1163.2 645.2,1181.6 645.3,1144.8 645.5,1236.8 645.6,1135.6 645.8,1154.0 645.9,1172.4 646.0,1227.6 646.2,1172.4 646.3,1163.2 646.5,1200.0 646.6,1190.8 646.8,1236.8 646.9,1163.2 647.0,1172.4 647.2,1181.6 647.3,1172.4 647.5,1246.0 647.6,1181.6 647.8,1163.2 647.9,1218.4 648.1,1190.8 648.2,1172.4 648.3,1172.4 648.5,1163.2 648.6,1163.2 648.8,1209.2 648.9,1190.8 649.1,1190.8 649.2,1163.2 649.4,1218.4 649.5,1163.2 649.6,1200.0 649.8,1126.4 649.9,1181.6 650.1,1172.4 650.2,1172.4 650.4,1190.8 650.5,1181.6 650.6,1190.8 650.8,1209.2 650.9,1200.0 651.1,1135.6 651.2,1135.6 651.4,1181.6 651.5,1181.6 651.7,1200.0 651.8,1135.6 651.9,1190.8 652.1,1135.6 652.2,1172.4 652.4,1154.0 652.5,1144.8 652.7,1181.6 652.8,1163.2 653.0,1154.0 653.1,1154.0 653.2,1190.8 653.4,1154.0 653.5,1181.6 653.7,1144.8 653.8,1200.0 654.0,1209.2 654.1,1181.6 654.2,1163.2 654.4,1181.6 654.5,1209.2 654.7,1154.0 654.8,1154.0 655.0,1126.4 655.1,1144.8 655.3,1154.0 655.4,1200.0 655.5,1163.2 655.7,1200.0 655.8,1135.6 656.0,1209.2 656.1,1135.6 656.3,1135.6 656.4,1218.4 656.6,1181.6 656.7,1144.8 656.8,1200.0 657.0,1181.6 657.1,1163.2 657.3,1154.0 657.4,1154.0 657.6,1209.2 657.7,1163.2 657.8,1190.8 658.0,1190.8 658.1,1135.6 658.3,1172.4 658.4,1172.4 658.6,1163.2 658.7,1154.0 658.9,1181.6 659.0,1144.8 659.1,1172.4 659.3,1190.8 659.4,1181.6 659.6,1181.6 659.7,1135.6 659.9,1172.4 660.0,1135.6 660.2,1154.0 660.3,1181.6 660.4,1163.2 660.6,1181.6 660.7,1154.0 660.9,1172.4 661.0,1172.4 661.2,1172.4 661.3,1163.2 661.4,1218.4 661.6,1154.0 661.7,1144.8 661.9,1163.2 662.0,1163.2 662.2,1209.2 662.3,1190.8 662.5,1172.4 662.6,1181.6 662.7,1209.2 662.9,1163.2 663.0,1163.2 663.2,1181.6 663.3,1154.0 663.5,1200.0 663.6,1172.4 663.8,1135.6 663.9,1200.0 664.0,1154.0 664.2,1250.0 664.3,1154.0 664.5,1181.6 664.6,1172.4 664.8,1181.6 664.9,1144.8 665.0,1144.8 665.2,1190.8 665.3,1172.4 665.5,1218.4 665.6,1181.6 665.8,1190.8 665.9,1190.8 666.1,1135.6 666.2,1190.8 666.3,1163.2 666.5,1135.6 666.6,1181.6 666.8,1154.0 666.9,1135.6 667.1,1172.4 667.2,1218.4 667.4,1163.2 667.5,1181.6 667.6,1190.8 667.8,1209.2 667.9,1181.6 668.1,1154.0 668.2,1190.8 668.4,1117.2 668.5,1190.8 668.6,1154.0 668.8,1144.8 668.9,1209.2 669.1,1190.8 669.2,1209.2 669.4,1144.8 669.5,1218.4 669.7,1209.2 669.8,1154.0 669.9,1144.8 670.1,1200.0 670.2,1200.0 670.4,1172.4 670.5,1135.6 670.7,1181.6 670.8,1209.2 671.0,1190.8 671.1,1200.0 671.2,1135.6 671.4,1172.4 671.5,1181.6 671.7,1135.6 671.8,1190.8 672.0,1126.4 672.1,1163.2 672.2,1209.2 672.4,1135.6 672.5,1144.8 672.7,1200.0 672.8,1154.0 673.0,1190.8 673.1,1190.8 673.3,1181.6 673.4,1190.8 673.5,1190.8 673.7,1181.6 673.8,1163.2 674.0,1144.8 674.1,1154.0 674.3,1190.8 674.4,1172.4 674.6,1181.6 674.7,1181.6 674.8,1144.8 675.0,1144.8 675.1,1154.0 675.3,1172.4 675.4,1135.6 675.6,1163.2 675.7,1154.0 675.8,1218.4 676.0,1135.6 676.1,1172.4 676.3,1135.6 676.4,1135.6 676.6,1144.8 676.7,1200.0 676.9,1172.4 677.0,1144.8 677.1,1163.2 677.3,1200.0 677.4,1181.6 677.6,1144.8 677.7,1163.2 677.9,1154.0 678.0,1163.2 678.2,1209.2 678.3,1154.0 678.4,1135.6 678.6,1190.8 678.7,1209.2 678.9,1172.4 679.0,1154.0 679.2,1200.0 679.3,1144.8 679.4,1163.2 679.6,1135.6 679.7,1144.8 679.9,1209.2 680.0,1200.0 680.2,1154.0 680.3,1163.2 680.5,1181.6 680.6,1190.8 680.7,1209.2 680.9,1200.0 681.0,1181.6 681.2,1190.8 681.3,1190.8 681.5,1200.0 681.6,1172.4 681.8,1190.8 681.9,1144.8 682.0,1190.8 682.2,1154.0 682.3,1190.8 682.5,1172.4 682.6,1218.4 682.8,1163.2 682.9,1135.6 683.0,1200.0 683.2,1190.8 683.3,1154.0 683.5,1154.0 683.6,1181.6 683.8,1163.2 683.9,1126.4 684.1,1200.0 684.2,1144.8 684.3,1181.6 684.5,1181.6 684.6,1163.2 684.8,1163.2 684.9,1144.8 685.1,1200.0 685.2,1154.0 685.4,1218.4 685.5,1144.8 685.6,1163.2 685.8,1200.0 685.9,1172.4 686.1,1190.8 686.2,1163.2 686.4,1144.8 686.5,1135.6 686.6,1181.6 686.8,1190.8 686.9,1190.8 687.1,1172.4 687.2,1218.4 687.4,1108.0 687.5,1154.0 687.7,1154.0 687.8,1126.4 687.9,1209.2 688.1,1144.8 688.2,1126.4 688.4,1209.2 688.5,1190.8 688.7,1135.6 688.8,1163.2 689.0,1172.4 689.1,1200.0 689.2,1172.4 689.4,1181.6 689.5,1209.2 689.7,1144.8 689.8,1163.2 690.0,1154.0 690.1,1181.6 690.2,1144.8 690.4,1144.8 690.5,1154.0 690.7,1144.8 690.8,1200.0 691.0,1135.6 691.1,1172.4 691.3,1190.8 691.4,1190.8 691.5,1144.8 691.7,1172.4 691.8,1126.4 692.0,1154.0 692.1,1117.2 692.3,1126.4 692.4,1209.2 692.6,1200.0 692.7,1200.0 692.8,1209.2 693.0,1200.0 693.1,1209.2 693.3,1144.8 693.4,1144.8 693.6,1135.6 693.7,1190.8 693.8,1200.0 694.0,1126.4 694.1,1163.2 694.3,1144.8 694.4,1218.4 694.6,1218.4 694.7,1126.4 694.9,1163.2 695.0,1163.2 695.1,1144.8 695.3,1154.0 695.4,1209.2 695.6,1172.4 695.7,1172.4 695.9,1190.8 696.0,1172.4 696.2,1190.8 696.3,1135.6 696.4,1163.2 696.6,1190.8 696.7,1135.6 696.9,1154.0 697.0,1190.8 697.2,1200.0 697.3,1181.6 697.4,1126.4 697.6,1163.2 697.7,1209.2 697.9,1126.4 698.0,1087.0 698.2,1218.4 698.3,1172.4 698.5,1135.6 698.6,1181.6 698.7,1190.8 698.9,1163.2 699.0,1126.4 699.2,1154.0 699.3,1126.4 699.5,1163.2 699.6,1126.4 699.8,1163.2 699.9,1190.8 700.0,1154.0 700.2,1117.2 700.3,1181.6 700.5,1163.2 700.6,1144.8 700.8,1172.4 700.9,1144.8 701.0,1126.4 701.2,1117.2 701.3,1154.0 701.5,1163.2 701.6,1144.8 701.8,1163.2 701.9,1181.6 702.1,1154.0 702.2,1135.6 702.3,1144.8 702.5,1172.4 702.6,1246.0 702.8,1250.0 702.9,1144.8 703.1,1098.8 703.2,1181.6 703.4,1154.0 703.5,1135.6 703.6,1218.4 703.8,1154.0 703.9,1126.4 704.1,1154.0 704.2,1218.4 704.4,1144.8 704.5,1163.2 704.6,1172.4 704.8,1163.2 704.9,1144.8 705.1,1144.8 705.2,1172.4 705.4,1181.6 705.5,1163.2 705.7,1117.2 705.8,1209.2 705.9,1181.6 706.1,1200.0 706.2,1144.8 706.4,1181.6 706.5,1172.4 706.7,1200.0 706.8,1172.4 707.0,1154.0 707.1,1154.0 707.2,1154.0 707.4,1218.4 707.5,1163.2 707.7,1117.2 707.8,1117.2 708.0,1181.6 708.1,1218.4 708.2,1172.4 708.4,1181.6 708.5,1117.2 708.7,1154.0 708.8,1209.2 709.0,1181.6 709.1,1154.0 709.3,1181.6 709.4,1108.0 709.5,1154.0 709.7,1200.0 709.8,1117.2 710.0,1135.6 710.1,1062.0 710.3,1144.8 710.4,1190.8 710.6,1135.6 710.7,1218.4 710.8,1117.2 711.0,1181.6 711.1,1181.6 711.3,1080.4 711.4,1135.6 711.6,1135.6 711.7,1190.8 711.8,1154.0 712.0,1144.8 712.1,1163.2 712.3,1108.0 712.4,1200.0 712.6,1227.6 712.7,1144.8 712.9,1144.8 713.0,1190.8 713.1,1172.4 713.3,1144.8 713.4,1154.0 713.6,1200.0 713.7,1181.6 713.9,1190.8 714.0,1172.4 714.2,1172.4 714.3,1144.8 714.4,1200.0 714.6,1172.4 714.7,1172.4 714.9,1154.0 715.0,1163.2 715.2,1154.0 715.3,1163.2 715.4,1098.8 715.6,1154.0 715.7,1218.4 715.9,1163.2 716.0,1126.4 716.2,1163.2 716.3,1144.8 716.5,1154.0 716.6,1144.8 716.7,1190.8 716.9,1135.6 717.0,1154.0 717.2,1163.2 717.3,1154.0 717.5,1126.4 717.6,1144.8 717.8,1172.4 717.9,1172.4 718.0,1144.8 718.2,1163.2 718.3,1181.6 718.5,1163.2 718.6,1108.0 718.8,1135.6 718.9,1172.4 719.0,1098.8 719.2,1154.0 719.3,1200.0 719.5,1126.4 719.6,1154.0 719.8,1200.0 719.9,1135.6 720.1,1163.2 720.2,1089.6 720.3,1154.0 720.5,1154.0 720.6,1154.0 720.8,1172.4 720.9,1144.8 721.1,1098.8 721.2,1190.8 721.4,1163.2 721.5,1126.4 721.6,1135.6 721.8,1154.0 721.9,1154.0 722.1,1144.8 722.2,1126.4 722.4,1172.4 722.5,1117.2 722.6,1098.8 722.8,1126.4 722.9,1154.0 723.1,1163.2 723.2,1108.0 723.4,1181.6 723.5,1190.8 723.7,1218.4 723.8,1200.0 723.9,1126.4 724.1,1135.6 724.2,1126.4 724.4,1200.0 724.5,1209.2 724.7,1108.0 724.8,1172.4 725.0,1126.4 725.1,1181.6 725.2,1154.0 725.4,1108.0 725.5,1163.2 725.7,1117.2 725.8,1218.4 726.0,1190.8 726.1,1117.2 726.2,1200.0 726.4,1190.8 726.5,1209.2 726.7,1209.2 726.8,1108.0 727.0,1089.6 727.1,1209.2 727.3,1135.6 727.4,1108.0 727.5,1126.4 727.7,1144.8 727.8,1108.0 728.0,1012.0 728.1,1190.8 728.3,1154.0 728.4,1108.0 728.6,1154.0 728.7,1144.8 728.8,1117.2 729.0,1126.4 729.1,1108.0 729.3,1135.6 729.4,1126.4 729.6,1135.6 729.7,1209.2 729.8,1163.2 730.0,1209.2 730.1,1190.8 730.3,1200.0 730.4,1135.6 730.6,1117.2 730.7,1154.0 730.9,1172.4 731.0,1135.6 731.1,1098.8 731.3,1126.4 731.4,1135.6 731.6,1135.6 731.7,1108.0 731.9,1117.2 732.0,1144.8 732.2,1089.6 732.3,1135.6 732.4,1126.4 732.6,1089.6 732.7,1172.4 732.9,1117.2 733.0,1181.6 733.2,1172.4 733.3,1144.8 733.4,1163.2 733.6,1144.8 733.7,1144.8 733.9,1108.0 734.0,1126.4 734.2,1135.6 734.3,1190.8 734.5,1144.8 734.6,1190.8 734.7,1126.4 734.9,1144.8 735.0,1181.6 735.2,1135.6 735.3,1209.2 735.5,1172.4 735.6,1098.8 735.8,1071.2 735.9,1209.2 736.0,1154.0 736.2,1080.4 736.3,1117.2 736.5,1144.8 736.6,1144.8 736.8,1154.0 736.9,1144.8 737.0,1058.0 737.2,1144.8 737.3,1135.6 737.5,1126.4 737.6,1089.6 737.8,1089.6 737.9,1117.2 738.1,1135.6 738.2,1163.2 738.3,1172.4 738.5,1135.6 738.6,1135.6 738.8,1117.2 738.9,1144.8 739.1,1181.6 739.2,1098.8 739.4,1135.6 739.5,1117.2 739.6,1172.4 739.8,1089.6 739.9,1163.2 740.1,1108.0 740.2,1154.0 740.4,1190.8 740.5,1117.2 740.6,1062.0 740.8,1200.0 740.9,1190.8 741.1,1163.2 741.2,1200.0 741.4,1172.4 741.5,1080.4 741.7,1200.0 741.8,1181.6 741.9,1154.0 742.1,1172.4 742.2,1108.0 742.4,1154.0 742.5,1144.8 742.7,1154.0 742.8,1144.8 743.0,1154.0 743.1,1144.8 743.2,1209.2 743.4,1190.8 743.5,1080.4 743.7,1172.4 743.8,1098.8 744.0,1117.2 744.1,1172.4 744.2,1181.6 744.4,1135.6 744.5,1126.4 744.7,1126.4 744.8,1144.8 745.0,1181.6 745.1,1135.6 745.3,1144.8 745.4,1163.2 745.5,1209.2 745.7,1135.6 745.8,1126.4 746.0,1135.6 746.1,1117.2 746.3,1144.8 746.4,1108.0 746.6,1126.4 746.7,1108.0 746.8,1154.0 747.0,1163.2 747.1,1117.2 747.3,1108.0 747.4,1117.2 747.6,1108.0 747.7,1126.4 747.8,1181.6 748.0,1144.8 748.1,1108.0 748.3,1126.4 748.4,1190.8 748.6,1190.8 748.7,1172.4 748.9,1135.6 749.0,1144.8 749.1,1190.8 749.3,1163.2 749.4,1098.8 749.6,1089.6 749.7,1144.8 749.9,1181.6 750.0,1172.4 750.2,1126.4 750.3,1163.2 750.4,1172.4 750.6,1108.0 750.7,1172.4 750.9,1089.6 751.0,1098.8 751.2,1135.6 751.3,1080.4 751.4,1163.2 751.6,1190.8 751.7,1172.4 751.9,1089.6 752.0,1126.4 752.2,1080.4 752.3,1172.4 752.5,1108.0 752.6,1154.0 752.7,1071.2 752.9,1181.6 753.0,1098.8 753.2,1163.2 753.3,1126.4 753.5,1154.0 753.6,1200.0 753.8,1117.2 753.9,1190.8 754.0,1181.6 754.2,1117.2 754.3,1200.0 754.5,1089.6 754.6,1144.8 754.8,1190.8 754.9,1117.2 755.0,1144.8 755.2,1227.6 755.3,1163.2 755.5,1126.4 755.6,1200.0 755.8,1071.2 755.9,1108.0 756.1,1172.4 756.2,1181.6 756.3,1135.6 756.5,1135.6 756.6,1108.0 756.8,1190.8 756.9,1089.6 757.1,1080.4 757.2,1218.4 757.4,1098.8 757.5,1126.4 757.6,1117.2 757.8,1108.0 757.9,1163.2 758.1,1135.6 758.2,1135.6 758.4,1071.2 758.5,1098.8 758.6,1144.8 758.8,1126.4 758.9,1144.8 759.1,1144.8 759.2,1200.0 759.4,1144.8 759.5,1108.0 759.7,1172.4 759.8,1181.6 759.9,1200.0 760.1,1135.6 760.2,1181.6 760.4,1126.4 760.5,1135.6 760.7,1126.4 760.8,1080.4 761.0,1117.2 761.1,1209.2 761.2,1190.8 761.4,1126.4 761.5,1117.2 761.7,1098.8 761.8,1089.6 762.0,1126.4 762.1,1126.4 762.2,1190.8 762.4,1135.6 762.5,1108.0 762.7,1135.6 762.8,1043.6 763.0,1144.8 763.1,1172.4 763.3,1154.0 763.4,1071.2 763.5,1144.8 763.7,1126.4 763.8,1154.0 764.0,1172.4 764.1,1144.8 764.3,1144.8 764.4,1071.2 764.6,1098.8 764.7,1089.6 764.8,1098.8 765.0,1154.0 765.1,1108.0 765.3,1144.8 765.4,1098.8 765.6,1135.6 765.7,1071.2 765.8,1144.8 766.0,1108.0 766.1,1108.0 766.3,1098.8 766.4,1108.0 766.6,1108.0 766.7,1172.4 766.9,1163.2 767.0,1154.0 767.1,1154.0 767.3,1108.0 767.4,1135.6 767.6,1108.0 767.7,1089.6 767.9,1117.2 768.0,1089.6 768.2,1190.8 768.3,1144.8 768.4,1154.0 768.6,1163.2 768.7,1098.8 768.9,1144.8 769.0,1135.6 769.2,1154.0 769.3,1126.4 769.4,1089.6 769.6,1163.2 769.7,1089.6 769.9,1089.6 770.0,1071.2 770.2,1172.4 770.3,1126.4 770.5,1071.2 770.6,1172.4 770.7,1172.4 770.9,1154.0 771.0,1181.6 771.2,1098.8 771.3,1098.8 771.5,1144.8 771.6,1117.2 771.8,1080.4 771.9,1135.6 772.0,1181.6 772.2,1190.8 772.3,1154.0 772.5,1135.6 772.6,1089.6 772.8,1117.2 772.9,1144.8 773.0,1135.6 773.2,1135.6 773.3,1163.2 773.5,1172.4 773.6,1126.4 773.8,1181.6 773.9,1181.6 774.1,1089.6 774.2,1190.8 774.3,1135.6 774.5,1052.8 774.6,1098.8 774.8,1181.6 774.9,1172.4 775.1,1135.6 775.2,1144.8 775.4,1062.0 775.5,1062.0 775.6,1071.2 775.8,1154.0 775.9,1163.2 776.1,1043.6 776.2,1126.4 776.4,1098.8 776.5,1154.0 776.6,1062.0 776.8,1071.2 776.9,1126.4 777.1,1071.2 777.2,1117.2 777.4,1126.4 777.5,1190.8 777.7,1117.2 777.8,1181.6 777.9,1135.6 778.1,1163.2 778.2,1144.8 778.4,1052.8 778.5,1144.8 778.7,1144.8 778.8,1181.6 779.0,1154.0 779.1,1117.2 779.2,1117.2 779.4,1163.2 779.5,1080.4 779.7,1117.2 779.8,1089.6 780.0,1098.8 780.1,1071.2 780.2,1135.6 780.4,1117.2 780.5,1098.8 780.7,1108.0 780.8,1071.2 781.0,1108.0 781.1,1080.4 781.3,1163.2 781.4,1181.6 781.5,1181.6 781.7,1071.2 781.8,1108.0 782.0,1135.6 782.1,1052.8 782.3,1144.8 782.4,1181.6 782.6,1144.8 782.7,1135.6 782.8,1144.8 783.0,1135.6 783.1,1117.2 783.3,1062.0 783.4,1071.2 783.6,1181.6 783.7,1135.6 783.8,1144.8 784.0,1135.6 784.1,1098.8 784.3,1052.8 784.4,1062.0 784.6,1117.2 784.7,1089.6 784.9,1163.2 785.0,1126.4 785.1,1126.4 785.3,1181.6 785.4,1117.2 785.6,1163.2 785.7,1052.8 785.9,1089.6 786.0,1163.2 786.2,1135.6 786.3,1117.2 786.4,1071.2 786.6,1135.6 786.7,1071.2 786.9,1034.4 787.0,1089.6 787.2,1080.4 787.3,1144.8 787.4,1089.6 787.6,1117.2 787.7,1154.0 787.9,1117.2 788.0,995.0 788.2,1089.6 788.3,1052.8 788.5,1144.8 788.6,1135.6 788.7,1117.2 788.9,1135.6 789.0,1144.8 789.2,1071.2 789.3,1108.0 789.5,1117.2 789.6,1098.8 789.8,1126.4 789.9,1126.4 790.0,1098.8 790.2,1135.6 790.3,1154.0 790.5,1089.6 790.6,1117.2 790.8,1117.2 790.9,1126.4 791.0,1071.2 791.2,1052.8 791.3,1080.4 791.5,1089.6 791.6,1071.2 791.8,1126.4 791.9,1043.6 792.1,1154.0 792.2,1043.6 792.3,1126.4 792.5,1135.6 792.6,1080.4 792.8,1117.2 792.9,1135.6 793.1,1135.6 793.2,1117.2 793.4,1052.8 793.5,1098.8 793.6,1144.8 793.8,1108.0 793.9,1154.0 794.1,1080.4 794.2,1163.2 794.4,1126.4 794.5,1172.4 794.6,1117.2 794.8,1117.2 794.9,1126.4 795.1,1098.8 795.2,1117.2 795.4,1117.2 795.5,1098.8 795.7,1135.6 795.8,1071.2 795.9,1025.2 796.1,1154.0 796.2,1154.0 796.4,1117.2 796.5,1071.2 796.7,1089.6 796.8,1144.8 797.0,1126.4 797.1,1080.4 797.2,1126.4 797.4,1154.0 797.5,1117.2 797.7,1052.8 797.8,1089.6 798.0,1181.6 798.1,1089.6 798.2,1144.8 798.4,1098.8 798.5,1154.0 798.7,1117.2 798.8,1062.0 799.0,1144.8 799.1,1135.6 799.3,1098.8 799.4,1126.4 799.5,1200.0 799.7,1135.6 799.8,1135.6 800.0,1098.8 800.1,1089.6 800.3,1154.0 800.4,1135.6 800.6,1080.4 800.7,1089.6 800.8,1071.2 801.0,1062.0 801.1,1126.4 801.3,1052.8 801.4,1181.6 801.6,1108.0 801.7,1135.6 801.8,1108.0 802.0,1144.8 802.1,1181.6 802.3,1071.2 802.4,1200.0 802.6,1108.0 802.7,1135.6 802.9,1126.4 803.0,1108.0 803.1,1089.6 803.3,1108.0 803.4,1043.6 803.6,1154.0 803.7,1144.8 803.9,1071.2 804.0,1108.0 804.2,1126.4 804.3,1108.0 804.4,1098.8 804.6,1034.4 804.7,1117.2 804.9,1062.0 805.0,1135.6 805.2,1172.4 805.3,1181.6 805.4,1154.0 805.6,1098.8 805.7,1062.0 805.9,1108.0 806.0,1126.4 806.2,1108.0 806.3,1089.6 806.5,1108.0 806.6,1117.2 806.7,1108.0 806.9,1154.0 807.0,1154.0 807.2,1126.4 807.3,1080.4 807.5,1006.8 807.6,1062.0 807.8,1016.0 807.9,1043.6 808.0,1025.2 808.2,1006.8 808.3,1071.2 808.5,960.8 808.6,942.4 808.8,951.6 808.9,850.4 809.0,850.4 809.2,878.0 809.3,813.6 809.5,804.4 809.6,721.6 809.8,694.0 809.9,638.8 810.1,638.8 810.2,638.8 810.3,565.2 810.5,528.4 810.6,473.2 810.8,418.0 810.9,390.4 811.1,482.4 811.2,390.4 811.4,362.8 811.5,344.4 811.6,280.0 811.8,261.6 811.9,326.0 812.1,289.2 812.2,243.2 812.4,243.2 812.5,231.0 812.6,231.0 812.8,231.0 812.9,231.0 813.1,234.0 813.2,307.6 813.4,344.4 813.5,326.0 813.7,316.8 813.8,390.4 813.9,399.6 814.1,381.2 814.2,427.2 814.4,583.6 814.5,574.4 814.7,556.0 814.8,620.4 815.0,629.6 815.1,684.8 815.2,822.8 815.4,786.0 815.5,822.8 815.7,804.4 815.8,786.0 816.0,924.0 816.1,878.0 816.2,942.4 816.4,1025.2 816.5,988.4 816.7,997.6 816.8,1043.6 817.0,1052.8 817.1,1089.6 817.3,1006.8 817.4,1034.4 817.5,1117.2 817.7,1025.2 817.8,1052.8 818.0,1108.0 818.1,1089.6 818.3,1098.8 818.4,1071.2 818.6,1126.4 818.7,1126.4 818.8,1098.8 819.0,1080.4 819.1,1181.6 819.3,1154.0 819.4,1034.4 819.6,1144.8 819.7,1181.6 819.8,1062.0 820.0,1209.2 820.1,1144.8 820.3,1163.2 820.4,1135.6 820.6,1043.6 820.7,1062.0 820.9,1126.4 821.0,1080.4 821.1,1126.4 821.3,1154.0 821.4,1135.6 821.6,1144.8 821.7,1043.6 821.9,1062.0 822.0,1052.8 822.2,1117.2 822.3,1135.6 822.4,1062.0 822.6,1172.4 822.7,1126.4 822.9,1126.4 823.0,1135.6 823.2,1117.2 823.3,1163.2 823.4,1034.4 823.6,1144.8 823.7,1172.4 823.9,1135.6 824.0,1098.8 824.2,1144.8 824.3,1080.4 824.5,1108.0 824.6,1181.6 824.7,1098.8 824.9,1190.8 825.0,1098.8 825.2,1163.2 825.3,1117.2 825.5,1172.4 825.6,1163.2 825.8,1098.8 825.9,1172.4 826.0,1098.8 826.2,1117.2 826.3,1062.0 826.5,1062.0 826.6,1227.6 826.8,1098.8 826.9,1080.4 827.0,1172.4 827.2,1117.2 827.3,1098.8 827.5,1089.6 827.6,1190.8 827.8,1200.0 827.9,1144.8 828.1,1144.8 828.2,1052.8 828.3,1126.4 828.5,1089.6 828.6,1181.6 828.8,1052.8 828.9,1163.2 829.1,1135.6 829.2,1172.4 829.4,1098.8 829.5,1062.0 829.6,1135.6 829.8,1190.8 829.9,1126.4 830.1,1098.8 830.2,1126.4 830.4,1043.6 830.5,1126.4 830.6,1080.4 830.8,1144.8 830.9,1071.2 831.1,1190.8 831.2,1172.4 831.4,1108.0 831.5,1135.6 831.7,1080.4 831.8,1117.2 831.9,1043.6 832.1,1117.2 832.2,1181.6 832.4,1108.0 832.5,1144.8 832.7,1135.6 832.8,1080.4 833.0,1117.2 833.1,1126.4 833.2,1154.0 833.4,1089.6 833.5,1052.8 833.7,1108.0 833.8,1108.0 834.0,1172.4 834.1,1080.4 834.2,1071.2 834.4,1108.0 834.5,1144.8 834.7,1071.2 834.8,1126.4 835.0,1089.6 835.1,1135.6 835.3,1200.0 835.4,1135.6 835.5,1062.0 835.7,1117.2 835.8,1108.0 836.0,1117.2 836.1,1181.6 836.3,1126.4 836.4,1190.8 836.6,1108.0 836.7,1117.2 836.8,1144.8 837.0,1181.6 837.1,1154.0 837.3,1135.6 837.4,1089.6 837.6,1126.4 837.7,1108.0 837.8,1172.4 838.0,1144.8 838.1,1089.6 838.3,1154.0 838.4,1126.4 838.6,1052.8 838.7,1052.8 838.9,1135.6 839.0,1089.6 839.1,1098.8 839.3,1071.2 839.4,1098.8 839.6,1144.8 839.7,1181.6 839.9,1117.2 840.0,1181.6 840.2,1144.8 840.3,1181.6 840.4,1098.8 840.6,1043.6 840.7,1071.2 840.9,1117.2 841.0,1071.2 841.2,1126.4 841.3,1089.6 841.4,1108.0 841.6,1172.4 841.7,1135.6 841.9,1135.6 842.0,1089.6 842.2,1117.2 842.3,1144.8 842.5,1098.8 842.6,1117.2 842.7,1043.6 842.9,1043.6 843.0,1071.2 843.2,1172.4 843.3,1126.4 843.5,1181.6 843.6,1089.6 843.8,1089.6 843.9,1080.4 844.0,1108.0 844.2,1144.8 844.3,1052.8 844.5,1154.0 844.6,1163.2 844.8,1126.4 844.9,1052.8 845.0,1144.8 845.2,1144.8 845.3,1135.6 845.5,1117.2 845.6,1135.6 845.8,1126.4 845.9,1052.8 846.1,1108.0 846.2,1154.0 846.3,1181.6 846.5,1181.6 846.6,1089.6 846.8,1135.6 846.9,1135.6 847.1,1154.0 847.2,1126.4 847.4,1190.8 847.5,1098.8 847.6,1117.2 847.8,1108.0 847.9,1163.2 848.1,1117.2 848.2,1098.8 848.4,1126.4 848.5,1080.4 848.6,1135.6 848.8,1052.8 848.9,1089.6 849.1,1144.8 849.2,1144.8 849.4,1062.0 849.5,1172.4 849.7,1117.2 849.8,1154.0 849.9,1144.8 850.1,1108.0 850.2,1144.8 850.4,1190.8 850.5,1089.6 850.7,1144.8 850.8,1062.0 851.0,1098.8 851.1,1135.6 851.2,1108.0 851.4,1126.4 851.5,1126.4 851.7,1154.0 851.8,1126.4 852.0,1117.2 852.1,1062.0 852.2,1080.4 852.4,1135.6 852.5,1108.0 852.7,1144.8 852.8,1034.4 853.0,1154.0 853.1,1098.8 853.3,1154.0 853.4,1108.0 853.5,1108.0 853.7,1052.8 853.8,1190.8 854.0,1089.6 854.1,1117.2 854.3,1108.0 854.4,1126.4 854.6,1071.2 854.7,1062.0 854.8,1071.2 855.0,1108.0 855.1,1144.8 855.3,1108.0 855.4,1117.2 855.6,1089.6 855.7,1117.2 855.8,1144.8 856.0,1163.2 856.1,1062.0 856.3,1154.0 856.4,1108.0 856.6,1144.8 856.7,1117.2 856.9,1135.6 857.0,1135.6 857.1,1071.2 857.3,1135.6 857.4,1108.0 857.6,1089.6 857.7,1172.4 857.9,1098.8 858.0,1080.4 858.2,1154.0 858.3,1052.8 858.4,1117.2 858.6,1154.0 858.7,1071.2 858.9,1117.2 859.0,1062.0 859.2,1071.2 859.3,1117.2 859.4,1172.4 859.6,1117.2 859.7,1089.6 859.9,1135.6 860.0,1098.8 860.2,1098.8 860.3,1172.4 860.5,1144.8 860.6,1062.0 860.7,1108.0 860.9,1098.8 861.0,1163.2 861.2,1108.0 861.3,1190.8 861.5,1098.8 861.6,1071.2 861.8,1052.8 861.9,1062.0 862.0,1108.0 862.2,1062.0 862.3,1181.6 862.5,1052.8 862.6,1135.6 862.8,1144.8 862.9,1117.2 863.0,1154.0 863.2,1163.2 863.3,1154.0 863.5,1172.4 863.6,1117.2 863.8,1154.0 863.9,1163.2 864.1,1117.2 864.2,1181.6 864.3,1089.6 864.5,1172.4 864.6,1043.6 864.8,1144.8 864.9,1144.8 865.1,1154.0 865.2,1117.2 865.4,1172.4 865.5,1080.4 865.6,1052.8 865.8,1144.8 865.9,1126.4 866.1,1135.6 866.2,1117.2 866.4,1071.2 866.5,1135.6 866.6,1117.2 866.8,1163.2 866.9,1098.8 867.1,1080.4 867.2,1144.8 867.4,1071.2 867.5,1062.0 867.7,1236.8 867.8,1098.8 867.9,1163.2 868.1,1163.2 868.2,1154.0 868.4,1089.6 868.5,1163.2 868.7,1062.0 868.8,1089.6 869.0,1154.0 869.1,1117.2 869.2,1108.0 869.4,1117.2 869.5,1062.0 869.7,1144.8 869.8,1108.0 870.0,1154.0 870.1,1080.4 870.2,1108.0 870.4,1181.6 870.5,1080.4 870.7,1089.6 870.8,1108.0 871.0,1172.4 871.1,1043.6 871.3,1172.4 871.4,1080.4 871.5,1154.0 871.7,1052.8 871.8,1154.0 872.0,1080.4 872.1,1043.6 872.3,1172.4 872.4,1062.0 872.6,1154.0 872.7,1181.6 872.8,1071.2 873.0,1062.0 873.1,1172.4 873.3,1080.4 873.4,1172.4 873.6,1080.4 873.7,1144.8 873.8,1108.0 874.0,1163.2 874.1,1135.6 874.3,1135.6 874.4,1071.2 874.6,1144.8 874.7,1117.2 874.9,1163.2 875.0,1135.6 875.1,1117.2 875.3,1117.2 875.4,1117.2 875.6,1089.6 875.7,1098.8 875.9,1080.4 876.0,1062.0 876.2,1108.0 876.3,1181.6 876.4,1144.8 876.6,1117.2 876.7,1062.0 876.9,1062.0 877.0,1144.8 877.2,1154.0 877.3,1181.6 877.4,1227.6 877.6,1052.8 877.7,1144.8 877.9,1089.6 878.0,1071.2 878.2,1089.6 878.3,1144.8 878.5,1181.6 878.6,1135.6 878.7,1163.2 878.9,1172.4 879.0,1144.8 879.2,1126.4 879.3,1144.8 879.5,1052.8 879.6,1080.4 879.8,1108.0 879.9,1154.0 880.0,1181.6 880.2,1135.6 880.3,1098.8 880.5,1052.8 880.6,1052.8 880.8,1098.8 880.9,1080.4 881.0,1098.8 881.2,1172.4 881.3,1071.2 881.5,1071.2 881.6,1117.2 881.8,1126.4 881.9,1117.2 882.1,1043.6 882.2,1108.0 882.3,1181.6 882.5,1108.0 882.6,1108.0 882.8,1080.4 882.9,1163.2 883.1,1135.6 883.2,1043.6 883.4,1098.8 883.5,1135.6 883.6,1117.2 883.8,1071.2 883.9,1098.8 884.1,1071.2 884.2,1135.6 884.4,1172.4 884.5,1144.8 884.6,1062.0 884.8,1080.4 884.9,1144.8 885.1,1098.8 885.2,1108.0 885.4,1144.8 885.5,1071.2 885.7,1098.8 885.8,1098.8 885.9,1022.0 886.1,1135.6 886.2,1144.8 886.4,1080.4 886.5,1172.4 886.7,1163.2 886.8,1163.2 887.0,1117.2 887.1,1117.2 887.2,1163.2 887.4,1135.6 887.5,1163.2 887.7,1071.2 887.8,1080.4 888.0,1181.6 888.1,1098.8 888.2,1071.2 888.4,1108.0 888.5,1126.4 888.7,1126.4 888.8,1108.0 889.0,1126.4 889.1,1117.2 889.3,1108.0 889.4,1071.2 889.5,1144.8 889.7,1154.0 889.8,1135.6 890.0,1126.4 890.1,1098.8 890.3,1043.6 890.4,1071.2 890.6,1126.4 890.7,1089.6 890.8,1181.6 891.0,1098.8 891.1,1089.6 891.3,1163.2 891.4,1052.8 891.6,1154.0 891.7,1052.8 891.8,1108.0 892.0,1117.2 892.1,1108.0 892.3,1052.8 892.4,1163.2 892.6,1144.8 892.7,1163.2 892.9,1135.6 893.0,1117.2 893.1,1071.2 893.3,1200.0 893.4,1117.2 893.6,1163.2 893.7,1098.8 893.9,1126.4 894.0,1062.0 894.2,1172.4 894.3,1126.4 894.4,1144.8 894.6,1163.2 894.7,1163.2 894.9,1172.4 895.0,1052.8 895.2,1144.8 895.3,1098.8 895.4,1163.2 895.6,1062.0 895.7,1098.8 895.9,1135.6 896.0,1108.0 896.2,1154.0 896.3,1172.4 896.5,1098.8 896.6,1089.6 896.7,1089.6 896.9,1126.4 897.0,1135.6 897.2,1098.8 897.3,1163.2 897.5,1117.2 897.6,1126.4 897.8,1126.4 897.9,1135.6 898.0,1117.2 898.2,1089.6 898.3,1089.6 898.5,1052.8 898.6,1089.6 898.8,1089.6 898.9,1098.8 899.0,1163.2 899.2,1135.6 899.3,1062.0 899.5,1154.0 899.6,1144.8 899.8,1052.8 899.9,1126.4 900.1,1181.6 900.2,1163.2 900.3,1135.6 900.5,1089.6 900.6,1135.6 900.8,1071.2 900.9,1108.0 901.1,1135.6 901.2,1135.6 901.4,1144.8 901.5,1108.0 901.6,1071.2 901.8,1172.4 901.9,1163.2 902.1,1126.4 902.2,1135.6 902.4,1108.0 902.5,1135.6 902.6,1126.4 902.8,1052.8 902.9,1108.0 903.1,1071.2 903.2,1080.4 903.4,1098.8 903.5,1172.4 903.7,1154.0 903.8,1154.0 903.9,1062.0 904.1,1126.4 904.2,1126.4 904.4,1163.2 904.5,1154.0 904.7,1098.8 904.8,1071.2 905.0,1163.2 905.1,1154.0 905.2,1080.4 905.4,1108.0 905.5,1108.0 905.7,1089.6 905.8,1126.4 906.0,1089.6 906.1,1117.2 906.2,1163.2 906.4,1163.2 906.5,1117.2 906.7,1126.4 906.8,1098.8 907.0,1108.0 907.1,1181.6 907.3,1080.4 907.4,1126.4 907.5,1126.4 907.7,1144.8 907.8,1154.0 908.0,1154.0 908.1,1163.2 908.3,1144.8 908.4,1089.6 908.6,1117.2 908.7,1089.6 908.8,1154.0 909.0,1154.0 909.1,1144.8 909.3,1108.0 909.4,1135.6 909.6,1135.6 909.7,1135.6 909.8,1126.4 910.0,1089.6 910.1,1144.8 910.3,1135.6 910.4,1163.2 910.6,1052.8 910.7,1108.0 910.9,1126.4 911.0,1080.4 911.1,1071.2 911.3,1126.4 911.4,1052.8 911.6,1052.8 911.7,1071.2 911.9,979.2 912.0,1006.8 912.2,1016.0 912.3,1006.8 912.4,960.8 912.6,951.6 912.7,942.4 912.9,942.4 913.0,933.2 913.2,896.4 913.3,896.4 913.4,822.8 913.6,905.6 913.7,832.0 913.9,804.4 914.0,832.0 914.2,740.0 914.3,786.0 914.5,786.0 914.6,740.0 914.7,675.6 914.9,638.8 915.0,592.8 915.2,684.8 915.3,629.6 915.5,629.6 915.6,591.0 915.8,591.0 915.9,620.4 916.0,591.0 916.2,638.8 916.3,591.0 916.5,591.0 916.6,611.2 916.8,684.8 916.9,591.0 917.0,712.4 917.2,721.6 917.3,740.0 917.5,675.6 917.6,712.4 917.8,712.4 917.9,795.2 918.1,795.2 918.2,832.0 918.3,841.2 918.5,878.0 918.6,878.0 918.8,868.8 918.9,933.2 919.1,942.4 919.2,1006.8 919.4,951.6 919.5,979.2 919.6,997.6 919.8,1043.6 919.9,1034.4 920.1,979.2 920.2,1016.0 920.4,1080.4 920.5,1052.8 920.6,1135.6 920.8,1089.6 920.9,1098.8 921.1,1098.8 921.2,1089.6 921.4,1043.6 921.5,1071.2 921.7,1098.8 921.8,1098.8 921.9,1062.0 922.1,1144.8 922.2,1080.4 922.4,1126.4 922.5,1089.6 922.7,1154.0 922.8,1080.4 923.0,1126.4 923.1,1135.6 923.2,1144.8 923.4,1172.4 923.5,1135.6 923.7,1089.6 923.8,1163.2 924.0,1071.2 924.1,1154.0 924.2,1117.2 924.4,1154.0 924.5,1135.6 924.7,1098.8 924.8,1154.0 925.0,1172.4 925.1,1135.6 925.3,1089.6 925.4,1172.4 925.5,1135.6 925.7,1144.8 925.8,1154.0 926.0,1172.4 926.1,1172.4 926.3,1135.6 926.4,1172.4 926.6,1190.8 926.7,1135.6 926.8,1098.8 927.0,1126.4 927.1,1144.8 927.3,1108.0 927.4,1071.2 927.6,1172.4 927.7,1135.6 927.8,1144.8 928.0,1144.8 928.1,1154.0 928.3,1089.6 928.4,1089.6 928.6,1135.6 928.7,1135.6 928.9,1117.2 929.0,1154.0 929.1,1080.4 929.3,1144.8 929.4,1163.2 929.6,1080.4 929.7,1108.0 929.9,1144.8 930.0,1089.6 930.2,1218.4 930.3,988.4 930.4,1126.4 930.6,1126.4 930.7,1144.8 930.9,1071.2 931.0,1117.2 931.2,1080.4 931.3,1117.2 931.4,1089.6 931.6,1144.8 931.7,1144.8 931.9,1135.6 932.0,1108.0 932.2,1126.4 932.3,1126.4 932.5,1108.0 932.6,1108.0 932.7,1089.6 932.9,1080.4 933.0,1135.6 933.2,1071.2 933.3,1062.0 933.5,1089.6 933.6,1135.6 933.8,1154.0 933.9,1126.4 934.0,1181.6 934.2,1144.8 934.3,1190.8 934.5,1108.0 934.6,1163.2 934.8,1172.4 934.9,1181.6 935.0,1154.0 935.2,1117.2 935.3,1080.4 935.5,1135.6 935.6,1117.2 935.8,1098.8 935.9,1209.2 936.1,1117.2 936.2,1144.8 936.3,1098.8 936.5,1154.0 936.6,1135.6 936.8,1227.6 936.9,1098.8 937.1,1181.6 937.2,1098.8 937.4,1144.8 937.5,1071.2 937.6,1154.0 937.8,1108.0 937.9,1163.2 938.1,1163.2 938.2,1108.0 938.4,1181.6 938.5,1080.4 938.6,1181.6 938.8,1163.2 938.9,1126.4 939.1,1080.4 939.2,1117.2 939.4,1181.6 939.5,1117.2 939.7,1144.8 939.8,1172.4 939.9,1080.4 940.1,1144.8 940.2,1117.2 940.4,1098.8 940.5,1190.8 940.7,1117.2 940.8,1108.0 941.0,1117.2 941.1,1163.2 941.2,1181.6 941.4,1117.2 941.5,1126.4 941.7,1117.2 941.8,1154.0 942.0,1181.6 942.1,1135.6 942.2,1089.6 942.4,1135.6 942.5,1117.2 942.7,1144.8 942.8,1108.0 943.0,1089.6 943.1,1089.6 943.3,1163.2 943.4,1144.8 943.5,1071.2 943.7,1163.2 943.8,1144.8 944.0,1135.6 944.1,1172.4 944.3,1154.0 944.4,1108.0 944.6,1163.2 944.7,1135.6 944.8,1080.4 945.0,1144.8 945.1,1117.2 945.3,1117.2 945.4,1172.4 945.6,1154.0 945.7,1098.8 945.8,1071.2 946.0,1108.0 946.1,1080.4 946.3,1025.2 946.4,1043.6 946.6,1025.2 946.7,1043.6 946.9,997.6 947.0,1034.4 947.1,1016.0 947.3,979.2 947.4,970.0 947.6,979.2 947.7,924.0 947.9,868.8 948.0,878.0 948.2,896.4 948.3,850.4 948.4,841.2 948.6,841.2 948.7,813.6 948.9,740.0 949.0,758.4 949.2,721.6 949.3,740.0 949.4,767.6 949.6,703.2 949.7,694.0 949.9,684.8 950.0,654.0 950.2,703.2 950.3,675.6 950.5,654.0 950.6,703.2 950.7,654.0 950.9,712.4 951.0,654.0 951.2,666.4 951.3,740.0 951.5,703.2 951.6,666.4 951.8,730.8 951.9,694.0 952.0,786.0 952.2,786.0 952.3,832.0 952.5,822.8 952.6,841.2 952.8,850.4 952.9,896.4 953.0,878.0 953.2,951.6 953.3,979.2 953.5,1006.8 953.6,951.6 953.8,1025.2 953.9,970.0 954.1,979.2 954.2,1025.2 954.3,1071.2 954.5,1062.0 954.6,1016.0 954.8,1034.4 954.9,1089.6 955.1,1071.2 955.2,1080.4 955.4,1062.0 955.5,1144.8 955.6,1154.0 955.8,1108.0 955.9,1098.8 956.1,1089.6 956.2,1172.4 956.4,1163.2 956.5,1144.8 956.6,1144.8 956.8,1126.4 956.9,1144.8 957.1,1154.0 957.2,1190.8 957.4,1126.4 957.5,1172.4 957.7,1126.4 957.8,1126.4 957.9,1135.6 958.1,1163.2 958.2,1200.0 958.4,1144.8 958.5,1126.4 958.7,1154.0 958.8,1108.0 959.0,1154.0 959.1,1190.8 959.2,1154.0 959.4,1126.4 959.5,1098.8 959.7,1126.4 959.8,1181.6 960.0,1098.8 960.1,1080.4 960.2,1163.2 960.4,1108.0 960.5,1172.4 960.7,1108.0 960.8,1172.4 961.0,1098.8 961.1,1126.4 961.3,1126.4 961.4,1098.8 961.5,1144.8 961.7,1154.0 961.8,1144.8 962.0,1163.2 962.1,1163.2 962.3,1163.2 962.4,1172.4 962.6,1135.6 962.7,1172.4 962.8,1181.6 963.0,1117.2 963.1,1190.8 963.3,1126.4 963.4,1163.2 963.6,1200.0 963.7,1163.2 963.8,1135.6 964.0,1126.4 964.1,1135.6 964.3,1190.8 964.4,1209.2 964.6,1089.6 964.7,1144.8 964.9,1154.0 965.0,1227.6 965.1,1200.0 965.3,1154.0 965.4,1126.4 965.6,1163.2 965.7,1089.6 965.9,1135.6 966.0,1126.4 966.2,1117.2 966.3,1181.6 966.4,1200.0 966.6,1190.8 966.7,1126.4 966.9,1117.2 967.0,1181.6 967.2,1190.8 967.3,1144.8 967.4,1108.0 967.6,1117.2 967.7,1163.2 967.9,1135.6 968.0,1135.6 968.2,1172.4 968.3,1098.8 968.5,1163.2 968.6,1181.6 968.7,1200.0 968.9,1144.8 969.0,1098.8 969.2,1163.2 969.3,1181.6 969.5,1154.0 969.6,1172.4 969.8,1181.6 969.9,1190.8 970.0,1163.2 970.2,1117.2 970.3,1172.4 970.5,1154.0 970.6,1154.0 970.8,1181.6 970.9,1126.4 971.0,1089.6 971.2,1190.8 971.3,1154.0 971.5,1135.6 971.6,1126.4 971.8,1117.2 971.9,1135.6 972.1,1071.2 972.2,1154.0 972.3,1172.4 972.5,1052.8 972.6,1089.6 972.8,1080.4 972.9,1071.2 973.1,1052.8 973.2,1043.6 973.4,960.8 973.5,970.0 973.6,979.2 973.8,905.6 973.9,960.8 974.1,933.2 974.2,905.6 974.4,905.6 974.5,795.2 974.6,749.2 974.8,804.4 974.9,767.6 975.1,694.0 975.2,740.0 975.4,666.4 975.5,730.8 975.7,629.6 975.8,611.2 975.9,556.0 976.1,592.8 976.2,537.6 976.4,519.2 976.5,487.0 976.7,487.0 976.8,487.0 977.0,487.0 977.1,487.0 977.2,487.0 977.4,500.8 977.5,546.8 977.7,500.8 977.8,565.2 978.0,528.4 978.1,574.4 978.2,491.6 978.4,648.0 978.5,657.2 978.7,620.4 978.8,657.2 979.0,712.4 979.1,758.4 979.3,776.8 979.4,776.8 979.5,813.6 979.7,850.4 979.8,887.2 980.0,933.2 980.1,896.4 980.3,1006.8 980.4,970.0 980.6,914.8 980.7,1043.6 980.8,1034.4 981.0,1043.6 981.1,1089.6 981.3,1025.2 981.4,1089.6 981.6,1043.6 981.7,1089.6 981.8,1144.8 982.0,1117.2 982.1,1071.2 982.3,1108.0 982.4,1089.6 982.6,1163.2 982.7,1117.2 982.9,1080.4 983.0,1135.6 983.1,1163.2 983.3,1154.0 983.4,1154.0 983.6,1163.2 983.7,1098.8 983.9,1163.2 984.0,1163.2 984.2,1163.2 984.3,1126.4 984.4,1172.4 984.6,1126.4 984.7,1181.6 984.9,1108.0 985.0,1154.0 985.2,1135.6 985.3,1209.2 985.4,1098.8 985.6,1190.8 985.7,1135.6 985.9,1209.2 986.0,1190.8 986.2,1117.2 986.3,1117.2 986.5,1144.8 986.6,1163.2 986.7,1126.4 986.9,1108.0 987.0,1218.4 987.2,1181.6 987.3,1108.0 987.5,1126.4 987.6,1117.2 987.8,1172.4 987.9,1172.4 988.0,1209.2 988.2,1181.6 988.3,1135.6 988.5,1190.8 988.6,1135.6 988.8,1172.4 988.9,1163.2 989.0,1172.4 989.2,1190.8 989.3,1190.8 989.5,1117.2 989.6,1126.4 989.8,1154.0 989.9,1154.0 990.1,1135.6 990.2,1172.4 990.3,1181.6 990.5,1154.0 990.6,1163.2 990.8,1144.8 990.9,1163.2 991.1,1117.2 991.2,1172.4 991.4,1163.2 991.5,1154.0 991.6,1144.8 991.8,1190.8 991.9,1163.2 992.1,1126.4 992.2,1181.6 992.4,1108.0 992.5,1181.6 992.6,1154.0 992.8,1154.0 992.9,1200.0 993.1,1209.2 993.2,1126.4 993.4,1209.2 993.5,1154.0 993.7,1144.8 993.8,1209.2 993.9,1089.6 994.1,1144.8 994.2,1144.8 994.4,1209.2 994.5,1163.2 994.7,1163.2 994.8,1108.0 995.0,1163.2 995.1,1154.0 995.2,1154.0 995.4,1108.0 995.5,1154.0 995.7,1126.4 995.8,1190.8 996.0,1209.2 996.1,1172.4 996.2,1181.6 996.4,1163.2 996.5,1135.6 996.7,1190.8 996.8,1154.0 997.0,1190.8 997.1,1135.6 997.3,1172.4 997.4,1163.2 997.5,1144.8 997.7,1135.6 997.8,1108.0 998.0,1144.8 998.1,1154.0 998.3,1172.4 998.4,1181.6 998.6,1117.2 998.7,1154.0 998.8,1154.0 999.0,1172.4 999.1,1209.2 999.3,1126.4 999.4,1209.2 999.6,1098.8 999.7,1154.0 999.8,1154.0 1000.0,1172.4 1000.1,1108.0 1000.3,1098.8 1000.4,1144.8 1000.6,1190.8 1000.7,1163.2 1000.9,1181.6 1001.0,1190.8 1001.1,1163.2 1001.3,1163.2 1001.4,1144.8 1001.6,1117.2 1001.7,1200.0 1001.9,1163.2 1002.0,1163.2 1002.2,1181.6 1002.3,1172.4 1002.4,1108.0 1002.6,1135.6 1002.7,1172.4 1002.9,1154.0 1003.0,1190.8 1003.2,1218.4 1003.3,1218.4 1003.4,1144.8 1003.6,1135.6 1003.7,1172.4 1003.9,1172.4 1004.0,1181.6 1004.2,1181.6 1004.3,1190.8 1004.5,1144.8 1004.6,1172.4 1004.7,1098.8 1004.9,1144.8 1005.0,1181.6 1005.2,1154.0 1005.3,1135.6 1005.5,1144.8 1005.6,1135.6 1005.8,1163.2 1005.9,1163.2 1006.0,1218.4 1006.2,1154.0 1006.3,1108.0 1006.5,1163.2 1006.6,1144.8 1006.8,1200.0 1006.9,1126.4 1007.0,1190.8 1007.2,1218.4 1007.3,1098.8 1007.5,1135.6 1007.6,1163.2 1007.8,1117.2 1007.9,1126.4 1008.1,1181.6 1008.2,1126.4 1008.3,1172.4 1008.5,1172.4 1008.6,1181.6 1008.8,1126.4 1008.9,1144.8 1009.1,1089.6 1009.2,1043.6 1009.4,1181.6 1009.5,1200.0 1009.6,1172.4 1009.8,1135.6 1009.9,1172.4 1010.1,1117.2 1010.2,1190.8 1010.4,1227.6 1010.5,1181.6 1010.6,1154.0 1010.8,1135.6 1010.9,1108.0 1011.1,1218.4 1011.2,1144.8 1011.4,1135.6 1011.5,1117.2 1011.7,1117.2 1011.8,1154.0 1011.9,1126.4 1012.1,1154.0 1012.2,1190.8 1012.4,1172.4 1012.5,1154.0 1012.7,1154.0 1012.8,1135.6 1013.0,1181.6 1013.1,1144.8 1013.2,1126.4 1013.4,1181.6 1013.5,1117.2 1013.7,1144.8 1013.8,1144.8 1014.0,1163.2 1014.1,1172.4 1014.2,1172.4 1014.4,1172.4 1014.5,1209.2 1014.7,1190.8 1014.8,1126.4 1015.0,1135.6 1015.1,1190.8 1015.3,1098.8 1015.4,1190.8 1015.5,1108.0 1015.7,1172.4 1015.8,1181.6 1016.0,1117.2 1016.1,1135.6 1016.3,1098.8 1016.4,1144.8 1016.6,1117.2 1016.7,1144.8 1016.8,1172.4 1017.0,1144.8 1017.1,1172.4 1017.3,1108.0 1017.4,1181.6 1017.6,1163.2 1017.7,1135.6 1017.8,1098.8 1018.0,1144.8 1018.1,1144.8 1018.3,1098.8 1018.4,1154.0 1018.6,1126.4 1018.7,1135.6 1018.9,1117.2 1019.0,1154.0 1019.1,1126.4 1019.3,1144.8 1019.4,1098.8 1019.6,1163.2 1019.7,1135.6 1019.9,1144.8 1020.0,1190.8 1020.2,1144.8 1020.3,1126.4 1020.4,1163.2 1020.6,1200.0 1020.7,1163.2 1020.9,1126.4 1021.0,1144.8 1021.2,1126.4 1021.3,1144.8 1021.4,1108.0 1021.6,1135.6 1021.7,1172.4 1021.9,1117.2 1022.0,1181.6 1022.2,1135.6 1022.3,1117.2 1022.5,1117.2 1022.6,1172.4 1022.7,1200.0 1022.9,1190.8 1023.0,1190.8 1023.2,1117.2 1023.3,1190.8 1023.5,1154.0 1023.6,1144.8 1023.8,1181.6 1023.9,1108.0 1024.0,1172.4 1024.2,1108.0 1024.3,1209.2 1024.5,1144.8 1024.6,1126.4 1024.8,1181.6 1024.9,1190.8 1025.0,1144.8 1025.2,1154.0 1025.3,1126.4 1025.5,1190.8 1025.6,1098.8 1025.8,1190.8 1025.9,1190.8 1026.1,1089.6 1026.2,1172.4 1026.3,1163.2 1026.5,1135.6 1026.6,1172.4 1026.8,1144.8 1026.9,1098.8 1027.1,1163.2 1027.2,1117.2 1027.4,1108.0 1027.5,1172.4 1027.6,1172.4 1027.8,1172.4 1027.9,1200.0 1028.1,1154.0 1028.2,1126.4 1028.4,1181.6 1028.5,1135.6 1028.6,1108.0 1028.8,1108.0 1028.9,1181.6 1029.1,1135.6 1029.2,1181.6 1029.4,1163.2 1029.5,1108.0 1029.7,1135.6 1029.8,1190.8 1029.9,1209.2 1030.1,1172.4 1030.2,1200.0 1030.4,1181.6 1030.5,1200.0 1030.7,1190.8 1030.8,1117.2 1031.0,1163.2 1031.1,1181.6 1031.2,1154.0 1031.4,1034.4 1031.5,1135.6 1031.7,1154.0 1031.8,1098.8 1032.0,1144.8 1032.1,1154.0 1032.2,1163.2 1032.4,1135.6 1032.5,1154.0 1032.7,1117.2 1032.8,1126.4 1033.0,1154.0 1033.1,1144.8 1033.3,1181.6 1033.4,1108.0 1033.5,1135.6 1033.7,1126.4 1033.8,1135.6 1034.0,1154.0 1034.1,1209.2 1034.3,1163.2 1034.4,1117.2 1034.6,1209.2 1034.7,1144.8 1034.8,1181.6 1035.0,1154.0 1035.1,1209.2 1035.3,1117.2 1035.4,1154.0 1035.6,1154.0 1035.7,1144.8 1035.8,1163.2 1036.0,1218.4 1036.1,1144.8 1036.3,1154.0 1036.4,1135.6 1036.6,1209.2 1036.7,1117.2 1036.9,1126.4 1037.0,1181.6 1037.1,1135.6 1037.3,1181.6 1037.4,1117.2 1037.6,1209.2 1037.7,1135.6 1037.9,1154.0 1038.0,1108.0 1038.2,1144.8 1038.3,1163.2 1038.4,1126.4 1038.6,1181.6 1038.7,1117.2 1038.9,1135.6 1039.0,1126.4 1039.2,1144.8 1039.3,1172.4 1039.4,1135.6 1039.6,1209.2 1039.7,1098.8 1039.9,1209.2 1040.0,1172.4 1040.2,1181.6 1040.3,1200.0 1040.5,1117.2 1040.6,1163.2 1040.7,1172.4 1040.9,1163.2 1041.0,1154.0 1041.2,1135.6 1041.3,1154.0 1041.5,1200.0 1041.6,1144.8 1041.8,1163.2 1041.9,1163.2 1042.0,1172.4 1042.2,1163.2 1042.3,1108.0 1042.5,1135.6 1042.6,1190.8 1042.8,1144.8 1042.9,1190.8 1043.0,1190.8 1043.2,1135.6 1043.3,1126.4 1043.5,1126.4 1043.6,1163.2 1043.8,1144.8 1043.9,1154.0 1044.1,1200.0 1044.2,1117.2 1044.3,1172.4 1044.5,1126.4 1044.6,1163.2 1044.8,1163.2 1044.9,1218.4 1045.1,1163.2 1045.2,1218.4 1045.4,1135.6 1045.5,1209.2 1045.6,1181.6 1045.8,1190.8 1045.9,1209.2 1046.1,1200.0 1046.2,1108.0 1046.4,1126.4 1046.5,1172.4 1046.6,1200.0 1046.8,1181.6 1046.9,1154.0 1047.1,1218.4 1047.2,1135.6 1047.4,1135.6 1047.5,1200.0 1047.7,1108.0 1047.8,1190.8 1047.9,1190.8 1048.1,1200.0 1048.2,1163.2 1048.4,1181.6 1048.5,1172.4 1048.7,1163.2 1048.8,1135.6 1049.0,1181.6 1049.1,1117.2 1049.2,1209.2 1049.4,1154.0 1049.5,1108.0 1049.7,1172.4 1049.8,1144.8 1050.0,1135.6 1050.1,1163.2 1050.2,1163.2 1050.4,1108.0 1050.5,1200.0 1050.7,1144.8 1050.8,1163.2 1051.0,1144.8 1051.1,1172.4 1051.3,1144.8 1051.4,1144.8 1051.5,1135.6 1051.7,1108.0 1051.8,1144.8 1052.0,1209.2 1052.1,1135.6 1052.3,1172.4 1052.4,1209.2 1052.6,1218.4 1052.7,1190.8 1052.8,1200.0 1053.0,1209.2 1053.1,1209.2 1053.3,1144.8 1053.4,1135.6 1053.6,1172.4 1053.7,1126.4 1053.8,1135.6 1054.0,1181.6 1054.1,1163.2 1054.3,1190.8 1054.4,1209.2 1054.6,1181.6 1054.7,1200.0 1054.9,1144.8 1055.0,1163.2 1055.1,1200.0 1055.3,1117.2 1055.4,1108.0 1055.6,1126.4 1055.7,1144.8 1055.9,1181.6 1056.0,1190.8 1056.2,1190.8 1056.3,1172.4 1056.4,1126.4 1056.6,1144.8 1056.7,1163.2 1056.9,1190.8 1057.0,1144.8 1057.2,1172.4 1057.3,1126.4 1057.4,1135.6 1057.6,1135.6 1057.7,1135.6 1057.9,1163.2 1058.0,1200.0 1058.2,1126.4 1058.3,1135.6 1058.5,1181.6 1058.6,1181.6 1058.7,1181.6 1058.9,1209.2 1059.0,1154.0 1059.2,1108.0 1059.3,1227.6 1059.5,1190.8 1059.6,1181.6 1059.8,1135.6 1059.9,1218.4 1060.0,1144.8 1060.2,1154.0 1060.3,1200.0 1060.5,1108.0 1060.6,1163.2 1060.8,1144.8 1060.9,1181.6 1061.0,1144.8 1061.2,1172.4 1061.3,1190.8 1061.5,1108.0 1061.6,1163.2 1061.8,1135.6 1061.9,1181.6 1062.1,1126.4 1062.2,1181.6 1062.3,1144.8 1062.5,1172.4 1062.6,1172.4 1062.8,1144.8 1062.9,1144.8 1063.1,1163.2 1063.2,1098.8 1063.4,1154.0 1063.5,1126.4 1063.6,1190.8 1063.8,1117.2 1063.9,1181.6 1064.1,1181.6 1064.2,1190.8 1064.4,1190.8 1064.5,1108.0 1064.6,1209.2 1064.8,1135.6 1064.9,1209.2 1065.1,1126.4 1065.2,1144.8 1065.4,1172.4 1065.5,1144.8 1065.7,1181.6 1065.8,1135.6 1065.9,1172.4 1066.1,1209.2 1066.2,1108.0 1066.4,1181.6 1066.5,1218.4 1066.7,1172.4 1066.8,1144.8 1067.0,1163.2 1067.1,1172.4 1067.2,1108.0 1067.4,1135.6 1067.5,1154.0 1067.7,1218.4 1067.8,1117.2 1068.0,1200.0 1068.1,1163.2 1068.2,1172.4 1068.4,1172.4 1068.5,1209.2 1068.7,1163.2 1068.8,1172.4 1069.0,1163.2 1069.1,1144.8 1069.3,1209.2 1069.4,1218.4 1069.5,1190.8 1069.7,1181.6 1069.8,1209.2 1070.0,1172.4 1070.1,1209.2 1070.3,1154.0 1070.4,1209.2 1070.6,1154.0 1070.7,1181.6 1070.8,1117.2 1071.0,1181.6 1071.1,1117.2 1071.3,1209.2 1071.4,1144.8 1071.6,1144.8 1071.7,1126.4 1071.8,1144.8 1072.0,1126.4 1072.1,1172.4 1072.3,1089.6 1072.4,1209.2 1072.6,1190.8 1072.7,1117.2 1072.9,1181.6 1073.0,1154.0 1073.1,1163.2 1073.3,1190.8 1073.4,1135.6 1073.6,1172.4 1073.7,1181.6 1073.9,1144.8 1074.0,1218.4 1074.2,1126.4 1074.3,1209.2 1074.4,1209.2 1074.6,1163.2 1074.7,1163.2 1074.9,1154.0 1075.0,1144.8 1075.2,1200.0 1075.3,1163.2 1075.4,1181.6 1075.6,1135.6 1075.7,1108.0 1075.9,1172.4 1076.0,1154.0 1076.2,1181.6 1076.3,1163.2 1076.5,1117.2 1076.6,1108.0 1076.7,1190.8 1076.9,1209.2 1077.0,1190.8 1077.2,1144.8 1077.3,1200.0 1077.5,1154.0 1077.6,1135.6 1077.8,1154.0 1077.9,1181.6 1078.0,1190.8 1078.2,1218.4 1078.3,1154.0 1078.5,1181.6 1078.6,1154.0 1078.8,1190.8 1078.9,1236.8 1079.0,1190.8 1079.2,1163.2 1079.3,1190.8 1079.5,1181.6 1079.6,1190.8 1079.8,1200.0 1079.9,1209.2 1080.1,1089.6 1080.2,1209.2 1080.3,1154.0 1080.5,1172.4 1080.6,1172.4 1080.8,1108.0 1080.9,1200.0 1081.1,1200.0 1081.2,1126.4 1081.4,1135.6 1081.5,1117.2 1081.6,1209.2 1081.8,1154.0 1081.9,1163.2 1082.1,1126.4 1082.2,1163.2 1082.4,1209.2 1082.5,1144.8 1082.6,1181.6 1082.8,1190.8 1082.9,1117.2 1083.1,1181.6 1083.2,1108.0 1083.4,1126.4 1083.5,1209.2 1083.7,1172.4 1083.8,1218.4 1083.9,1144.8 1084.1,1117.2 1084.2,1163.2 1084.4,1172.4 1084.5,1172.4 1084.7,1181.6 1084.8,1163.2 1085.0,1117.2 1085.1,1144.8 1085.2,1200.0 1085.4,1126.4 1085.5,1190.8 1085.7,1163.2 1085.8,1144.8 1086.0,1163.2 1086.1,1144.8 1086.2,1163.2 1086.4,1190.8 1086.5,1126.4 1086.7,1190.8 1086.8,1163.2 1087.0,1181.6 1087.1,1190.8 1087.3,1209.2 1087.4,1163.2 1087.5,1117.2 1087.7,1108.0 1087.8,1117.2 1088.0,1135.6 1088.1,1200.0 1088.3,1126.4 1088.4,1190.8 1088.6,1200.0 1088.7,1098.8 1088.8,1218.4 1089.0,1200.0 1089.1,1144.8 1089.3,1144.8 1089.4,1190.8 1089.6,1200.0 1089.7,1144.8 1089.8,1144.8 1090.0,1126.4 1090.1,1172.4 1090.3,1108.0 1090.4,1135.6 1090.6,1200.0 1090.7,1200.0 1090.9,1126.4 1091.0,1218.4 1091.1,1190.8 1091.3,1209.2 1091.4,1108.0 1091.6,1144.8 1091.7,1154.0 1091.9,1144.8 1092.0,1218.4 1092.2,1117.2 1092.3,1200.0 1092.4,1209.2 1092.6,1181.6 1092.7,1154.0 1092.9,1209.2 1093.0,1144.8 1093.2,1181.6 1093.3,1172.4 1093.4,1135.6 1093.6,1200.0 1093.7,1154.0 1093.9,1181.6 1094.0,1154.0 1094.2,1172.4 1094.3,1181.6 1094.5,1117.2 1094.6,1172.4 1094.7,1190.8 1094.9,1181.6 1095.0,1108.0 1095.2,1172.4 1095.3,1190.8 1095.5,1181.6 1095.6,1144.8 1095.8,1181.6 1095.9,1135.6 1096.0,1209.2 1096.2,1144.8 1096.3,1172.4 1096.5,1181.6 1096.6,1126.4 1096.8,1172.4 1096.9,1172.4 1097.0,1071.2 1097.2,1117.2 1097.3,1154.0 1097.5,1135.6 1097.6,1117.2 1097.8,1154.0 1097.9,1154.0 1098.1,1108.0 1098.2,1181.6 1098.3,1154.0 1098.5,1172.4 1098.6,1144.8 1098.8,1172.4 1098.9,1163.2 1099.1,1154.0 1099.2,1163.2 1099.4,1200.0 1099.5,1154.0 1099.6,1209.2 1099.8,1172.4 1099.9,1200.0 1100.1,1144.8 1100.2,1117.2 1100.4,1135.6 1100.5,1200.0 1100.6,1181.6 1100.8,1163.2 1100.9,1163.2 1101.1,1172.4 1101.2,1117.2 1101.4,1108.0 1101.5,1154.0 1101.7,1144.8 1101.8,1117.2 1101.9,1218.4 1102.1,1172.4 1102.2,1200.0 1102.4,1117.2 1102.5,1181.6 1102.7,1181.6 1102.8,1126.4 1103.0,1135.6 1103.1,1190.8 1103.2,1209.2 1103.4,1098.8 1103.5,1163.2 1103.7,1126.4 1103.8,1163.2 1104.0,1163.2 1104.1,1117.2 1104.2,1190.8 1104.4,1117.2 1104.5,1154.0 1104.7,1190.8 1104.8,1181.6 1105.0,1190.8 1105.1,1181.6 1105.3,1126.4 1105.4,1144.8 1105.5,1163.2 1105.7,1098.8 1105.8,1218.4 1106.0,1135.6 1106.1,1144.8 1106.3,1098.8 1106.4,1163.2 1106.6,1144.8 1106.7,1181.6 1106.8,1172.4 1107.0,1200.0 1107.1,1117.2 1107.3,1172.4 1107.4,1200.0 1107.6,1117.2 1107.7,1144.8 1107.8,1181.6 1108.0,1181.6 1108.1,1154.0 1108.3,1126.4 1108.4,1135.6 1108.6,1154.0 1108.7,1200.0 1108.9,1098.8 1109.0,1108.0 1109.1,1209.2 1109.3,1181.6 1109.4,1154.0 1109.6,1135.6 1109.7,1209.2 1109.9,1126.4 1110.0,1163.2 1110.2,1154.0 1110.3,1117.2 1110.4,1190.8 1110.6,1126.4 1110.7,1135.6 1110.9,1200.0 1111.0,1172.4 1111.2,1181.6 1111.3,1181.6 1111.4,1190.8 1111.6,1181.6 1111.7,1098.8 1111.9,1190.8 1112.0,1108.0 1112.2,1172.4 1112.3,1108.0 1112.5,1181.6 1112.6,1172.4 1112.7,1126.4 1112.9,1144.8 1113.0,1181.6 1113.2,1227.6 1113.3,1190.8 1113.5,1071.2 1113.6,1117.2 1113.8,1154.0 1113.9,1135.6 1114.0,1190.8 1114.2,1154.0 1114.3,1200.0 1114.5,1154.0 1114.6,1108.0 1114.8,1209.2 1114.9,1163.2 1115.0,1144.8 1115.2,1126.4 1115.3,1218.4 1115.5,1200.0 1115.6,1144.8 1115.8,1172.4 1115.9,1154.0 1116.1,1200.0 1116.2,1181.6 1116.3,1126.4 1116.5,1126.4 1116.6,1190.8 1116.8,1135.6 1116.9,1117.2 1117.1,1144.8 1117.2,1163.2 1117.4,1172.4 1117.5,1117.2 1117.6,1190.8 1117.8,1163.2 1117.9,1190.8 1118.1,1200.0 1118.2,1154.0 1118.4,1126.4 1118.5,1163.2 1118.6,1126.4 1118.8,1172.4 1118.9,1163.2 1119.1,1200.0 1119.2,1181.6 1119.4,1163.2 1119.5,1154.0 1119.7,1163.2 1119.8,1190.8 1119.9,1200.0 1120.1,1144.8 1120.2,1172.4 1120.4,1144.8 1120.5,1135.6 1120.7,1209.2 1120.8,1200.0 1121.0,1172.4 1121.1,1126.4 1121.2,1200.0 1121.4,1172.4 1121.5,1089.6 1121.7,1144.8 1121.8,1172.4 1122.0,1108.0 1122.1,1154.0 1122.2,1172.4 1122.4,1172.4 1122.5,1098.8 1122.7,1154.0 1122.8,1181.6 1123.0,1144.8 1123.1,1200.0 1123.3,1172.4 1123.4,1117.2 1123.5,1163.2 1123.7,1181.6 1123.8,1135.6 1124.0,1117.2 1124.1,1126.4 1124.3,1200.0 1124.4,1172.4 1124.6,1108.0 1124.7,1172.4 1124.8,1144.8 1125.0,1181.6 1125.1,1163.2 1125.3,1163.2 1125.4,1144.8 1125.6,1108.0 1125.7,1154.0 1125.8,1163.2 1126.0,1172.4 1126.1,1144.8 1126.3,1163.2 1126.4,1209.2 1126.6,1098.8 1126.7,1154.0 1126.9,1154.0 1127.0,1209.2 1127.1,1144.8 1127.3,1126.4 1127.4,1154.0 1127.6,1163.2 1127.7,1190.8 1127.9,1108.0 1128.0,1144.8 1128.2,1126.4 1128.3,1144.8 1128.4,1181.6 1128.6,1172.4 1128.7,1200.0 1128.9,1108.0 1129.0,1154.0 1129.2,1117.2 1129.3,1126.4 1129.4,1163.2 1129.6,1135.6 1129.7,1154.0 1129.9,1080.4 1130.0,1200.0 1130.2,1163.2 1130.3,1135.6 1130.5,1135.6 1130.6,1181.6 1130.7,1154.0 1130.9,1163.2 1131.0,1135.6 1131.2,1172.4 1131.3,1227.6 1131.5,1144.8 1131.6,1200.0 1131.8,1190.8 1131.9,1163.2 1132.0,1117.2 1132.2,1163.2 1132.3,1108.0 1132.5,1181.6 1132.6,1154.0 1132.8,1135.6 1132.9,1144.8 1133.0,1135.6 1133.2,1108.0 1133.3,1190.8 1133.5,1209.2 1133.6,1172.4 1133.8,1117.2 1133.9,1200.0 1134.1,1135.6 1134.2,1181.6 1134.3,1172.4 1134.5,1126.4 1134.6,1144.8 1134.8,1181.6 1134.9,1163.2 1135.1,1200.0 1135.2,1126.4 1135.4,1181.6 1135.5,1144.8 1135.6,1181.6 1135.8,1163.2 1135.9,1181.6 1136.1,1135.6 1136.2,1181.6 1136.4,1227.6 1136.5,1218.4 1136.6,1144.8 1136.8,1117.2 1136.9,1172.4 1137.1,1126.4 1137.2,1163.2 1137.4,1062.0 1137.5,1181.6 1137.7,1218.4 1137.8,1190.8 1137.9,1190.8 1138.1,1218.4 1138.2,1190.8 1138.4,1163.2 1138.5,1098.8 1138.7,1200.0 1138.8,1163.2 1139.0,1126.4 1139.1,1154.0 1139.2,1154.0 1139.4,1218.4 1139.5,1135.6 1139.7,1154.0 1139.8,1190.8 1140.0,1135.6 1140.1,1190.8 1140.2,1200.0 1140.4,1144.8 1140.5,1190.8 1140.7,1172.4 1140.8,1126.4 1141.0,1209.2 1141.1,1163.2 1141.3,1200.0 1141.4,1163.2 1141.5,1172.4 1141.7,1172.4 1141.8,1154.0 1142.0,1181.6 1142.1,1163.2 1142.3,1181.6 1142.4,1209.2 1142.6,1135.6 1142.7,1190.8 1142.8,1154.0 1143.0,1163.2 1143.1,1181.6 1143.3,1209.2 1143.4,1200.0 1143.6,1209.2 1143.7,1163.2 1143.8,1209.2 1144.0,1181.6 1144.1,1172.4 1144.3,1190.8 1144.4,1172.4 1144.6,1181.6 1144.7,1163.2 1144.9,1181.6 1145.0,1190.8 1145.1,1163.2 1145.3,1181.6 1145.4,1200.0 1145.6,1172.4 1145.7,1190.8 1145.9,1172.4 1146.0,1181.6 1146.2,1163.2 1146.3,1218.4 1146.4,1209.2 1146.6,1200.0 1146.7,1200.0 1146.9,1181.6 1147.0,1163.2 1147.2,1144.8 1147.3,1227.6 1147.4,1227.6 1147.6,1154.0 1147.7,1163.2 1147.9,1190.8 1148.0,1144.8 1148.2,1190.8 1148.3,1181.6 1148.5,1200.0 1148.6,1163.2 1148.7,1181.6 1148.9,1181.6 1149.0,1190.8 1149.2,1135.6 1149.3,1163.2 1149.5,1163.2 1149.6,1126.4 1149.8,1218.4 1149.9,1163.2 1150.0,1172.4 1150.2,1200.0 1150.3,1163.2 1150.5,1209.2 1150.6,1209.2 1150.8,1144.8 1150.9,1190.8 1151.0,1209.2 1151.2,1154.0 1151.3,1144.8 1151.5,1135.6 1151.6,1227.6 1151.8,1163.2 1151.9,1190.8 1152.1,1163.2 1152.2,1172.4 1152.3,1209.2 1152.5,1163.2 1152.6,1181.6 1152.8,1218.4 1152.9,1163.2 1153.1,1181.6 1153.2,1144.8 1153.4,1218.4 1153.5,1190.8 1153.6,1200.0 1153.8,1218.4 1153.9,1154.0 1154.1,1209.2 1154.2,1200.0 1154.4,1181.6 1154.5,1190.8 1154.6,1172.4 1154.8,1227.6 1154.9,1218.4 1155.1,1181.6 1155.2,1154.0 1155.4,1200.0 1155.5,1181.6 1155.7,1126.4 1155.8,1135.6 1155.9,1200.0 1156.1,1190.8 1156.2,1163.2 1156.4,1209.2 1156.5,1190.8 1156.7,1181.6 1156.8,1126.4 1157.0,1172.4 1157.1,1227.6 1157.2,1218.4 1157.4,1190.8 1157.5,1154.0 1157.7,1190.8 1157.8,1181.6 1158.0,1200.0 1158.1,1172.4 1158.2,1218.4 1158.4,1117.2 1158.5,1209.2 1158.7,1200.0 1158.8,1190.8 1159.0,1154.0 1159.1,1190.8 1159.3,1218.4 1159.4,1218.4 1159.5,1209.2 1159.7,1209.2 1159.8,1172.4 1160.0,1190.8 1160.1,1154.0 1160.3,1181.6 1160.4,1135.6 1160.6,1200.0 1160.7,1154.0 1160.8,1163.2 1161.0,1135.6 1161.1,1190.8 1161.3,1181.6 1161.4,1209.2 1161.6,1190.8 1161.7,1154.0 1161.8,1181.6 1162.0,1135.6 1162.1,1181.6 1162.3,1154.0 1162.4,1163.2 1162.6,1154.0 1162.7,1144.8 1162.9,1227.6 1163.0,1154.0 1163.1,1181.6 1163.3,1190.8 1163.4,1181.6 1163.6,1144.8 1163.7,1144.8 1163.9,1135.6 1164.0,1135.6 1164.2,1172.4 1164.3,1200.0 1164.4,1227.6 1164.6,1163.2 1164.7,1218.4 1164.9,1144.8 1165.0,1190.8 1165.2,1200.0 1165.3,1154.0 1165.4,1163.2 1165.6,1172.4 1165.7,1144.8 1165.9,1172.4 1166.0,1126.4 1166.2,1190.8 1166.3,1190.8 1166.5,1190.8 1166.6,1181.6 1166.7,1163.2 1166.9,1126.4 1167.0,1135.6 1167.2,1154.0 1167.3,1218.4 1167.5,1227.6 1167.6,1144.8 1167.8,1172.4 1167.9,1154.0 1168.0,1163.2 1168.2,1190.8 1168.3,1117.2 1168.5,1163.2 1168.6,1163.2 1168.8,1108.0 1168.9,1126.4 1169.0,1089.6 1169.2,1135.6 1169.3,1089.6 1169.5,1089.6 1169.6,1043.6 1169.8,1062.0 1169.9,1025.2 1170.1,1043.6 1170.2,997.6 1170.3,942.4 1170.5,942.4 1170.6,942.4 1170.8,924.0 1170.9,914.8 1171.1,832.0 1171.2,859.6 1171.4,804.4 1171.5,758.4 1171.6,740.0 1171.8,684.8 1171.9,638.8 1172.1,638.8 1172.2,574.4 1172.4,556.0 1172.5,473.2 1172.6,427.2 1172.8,464.0 1172.9,427.2 1173.1,399.6 1173.2,353.6 1173.4,326.0 1173.5,362.8 1173.7,321.0 1173.8,321.0 1173.9,321.0 1174.1,372.0 1174.2,321.0 1174.4,326.0 1174.5,344.4 1174.7,408.8 1174.8,326.0 1175.0,399.6 1175.1,464.0 1175.2,436.4 1175.4,500.8 1175.5,510.0 1175.7,556.0 1175.8,602.0 1176.0,620.4 1176.1,675.6 1176.2,721.6 1176.4,675.6 1176.5,730.8 1176.7,832.0 1176.8,868.8 1177.0,795.2 1177.1,832.0 1177.3,887.2 1177.4,942.4 1177.5,988.4 1177.7,988.4 1177.8,988.4 1178.0,1016.0 1178.1,1052.8 1178.3,1089.6 1178.4,1052.8 1178.6,1080.4 1178.7,1034.4 1178.8,1052.8 1179.0,1108.0 1179.1,1154.0 1179.3,1089.6 1179.4,1135.6 1179.6,1098.8 1179.7,1154.0 1179.8,1163.2 1180.0,1144.8 1180.1,1108.0 1180.3,1098.8 1180.4,1200.0 1180.6,1144.8 1180.7,1025.2 1180.9,1163.2 1181.0,1181.6 1181.1,1172.4 1181.3,1117.2 1181.4,1190.8 1181.6,1126.4 1181.7,1209.2 1181.9,1172.4 1182.0,1117.2 1182.2,1144.8 1182.3,1200.0 1182.4,1181.6 1182.6,1227.6 1182.7,1144.8 1182.9,1190.8 1183.0,1227.6 1183.2,1163.2 1183.3,1135.6 1183.4,1190.8 1183.6,1126.4 1183.7,1135.6 1183.9,1117.2 1184.0,1190.8 1184.2,1218.4 1184.3,1163.2 1184.5,1209.2 1184.6,1163.2 1184.7,1163.2 1184.9,1181.6 1185.0,1135.6 1185.2,1190.8 1185.3,1144.8 1185.5,1144.8 1185.6,1163.2 1185.8,1163.2 1185.9,1209.2 1186.0,1181.6 1186.2,1172.4 1186.3,1190.8 1186.5,1181.6 1186.6,1209.2 1186.8,1163.2 1186.9,1218.4 1187.0,1218.4 1187.2,1126.4 1187.3,1218.4 1187.5,1172.4 1187.6,1144.8 1187.8,1172.4 1187.9,1181.6 1188.1,1181.6 1188.2,1190.8 1188.3,1181.6 1188.5,1135.6 1188.6,1218.4 1188.8,1181.6 1188.9,1135.6 1189.1,1172.4 1189.2,1108.0 1189.4,1172.4 1189.5,1181.6 1189.6,1172.4 1189.8,1117.2 1189.9,1163.2 1190.1,1190.8 1190.2,1126.4 1190.4,1209.2 1190.5,1154.0 1190.6,1209.2 1190.8,1154.0 1190.9,1172.4 1191.1,1163.2 1191.2,1144.8 1191.4,1181.6 1191.5,1108.0 1191.7,1190.8 1191.8,1154.0 1191.9,1144.8 1192.1,1172.4 1192.2,1154.0 1192.4,1144.8 1192.5,1126.4 1192.7,1163.2 1192.8,1163.2 1193.0,1163.2 1193.1,1172.4 1193.2,1117.2 1193.4,1172.4 1193.5,1246.0 1193.7,1200.0 1193.8,1200.0 1194.0,1200.0 1194.1,1209.2 1194.2,1200.0 1194.4,1126.4 1194.5,1190.8 1194.7,1190.8 1194.8,1181.6 1195.0,1163.2 1195.1,1126.4 1195.3,1135.6 1195.4,1144.8 1195.5,1172.4 1195.7,1200.0 1195.8,1172.4 1196.0,1190.8 1196.1,1200.0 1196.3,1172.4 1196.4,1154.0 1196.6,1218.4 1196.7,1117.2 1196.8,1135.6 1197.0,1172.4 1197.1,1172.4 1197.3,1163.2 1197.4,1181.6 1197.6,1144.8 1197.7,1144.8 1197.8,1218.4 1198.0,1126.4 1198.1,1154.0 1198.3,1172.4 1198.4,1209.2 1198.6,1163.2 1198.7,1181.6 1198.9,1108.0 1199.0,1181.6 1199.1,1089.6 1199.3,1117.2 1199.4,1144.8 1199.6,1172.4 1199.7,1209.2 1199.9,1108.0 1200.0,1181.6 1200.2,1126.4 1200.3,1181.6 1200.4,1181.6 1200.6,1144.8 1200.7,1117.2 1200.9,1172.4 1201.0,1117.2 1201.2,1126.4 1201.3,1209.2 1201.4,1154.0 1201.6,1181.6 1201.7,1154.0 1201.9,1163.2 1202.0,1209.2 1202.2,1126.4 1202.3,1163.2 1202.5,1209.2 1202.6,1181.6 1202.7,1126.4 1202.9,1144.8 1203.0,1117.2 1203.2,1154.0 1203.3,1163.2 1203.5,1200.0 1203.6,1126.4 1203.8,1135.6 1203.9,1181.6 1204.0,1163.2 1204.2,1172.4 1204.3,1181.6 1204.5,1190.8 1204.6,1126.4 1204.8,1209.2 1204.9,1181.6 1205.0,1154.0 1205.2,1144.8 1205.3,1154.0 1205.5,1144.8 1205.6,1172.4 1205.8,1135.6 1205.9,1126.4 1206.1,1181.6 1206.2,1117.2 1206.3,1126.4 1206.5,1154.0 1206.6,1190.8 1206.8,1144.8 1206.9,1126.4 1207.1,1181.6 1207.2,1135.6 1207.4,1108.0 1207.5,1135.6 1207.6,1117.2 1207.8,1181.6 1207.9,1108.0 1208.1,1098.8 1208.2,1117.2 1208.4,1135.6 1208.5,1135.6 1208.6,1089.6 1208.8,1062.0 1208.9,1062.0 1209.1,1071.2 1209.2,1062.0 1209.4,1016.0 1209.5,1098.8 1209.7,1062.0 1209.8,1089.6 1209.9,1052.8 1210.1,997.6 1210.2,993.0 1210.4,993.0 1210.5,1006.8 1210.7,1052.8 1210.8,993.0 1211.0,993.0 1211.1,1016.0 1211.2,993.0 1211.4,1034.4 1211.5,1016.0 1211.7,1043.6 1211.8,1006.8 1212.0,993.0 1212.1,1043.6 1212.2,1016.0 1212.4,1052.8 1212.5,997.6 1212.7,993.0 1212.8,1016.0 1213.0,1034.4 1213.1,997.6 1213.3,993.0 1213.4,1043.6 1213.5,1006.8 1213.7,1025.2 1213.8,1080.4 1214.0,1006.8 1214.1,1025.2 1214.3,1071.2 1214.4,1006.8 1214.6,1034.4 1214.7,1071.2 1214.8,1071.2 1215.0,1089.6 1215.1,1071.2 1215.3,1080.4 1215.4,1144.8 1215.6,1080.4 1215.7,1117.2 1215.8,1117.2 1216.0,1117.2 1216.1,1126.4 1216.3,1154.0 1216.4,1071.2 1216.6,1154.0 1216.7,1089.6 1216.9,1190.8 1217.0,1154.0 1217.1,1163.2 1217.3,1126.4 1217.4,1154.0 1217.6,1172.4 1217.7,1144.8 1217.9,1163.2 1218.0,1108.0 1218.2,1126.4 1218.3,1209.2 1218.4,1117.2 1218.6,1200.0 1218.7,1200.0 1218.9,1181.6 1219.0,1163.2 1219.2,1108.0 1219.3,1154.0 1219.4,1117.2 1219.6,1172.4 1219.7,1126.4 1219.9,1190.8 1220.0,1172.4 1220.2,1108.0 1220.3,1117.2 1220.5,1163.2 1220.6,1163.2 1220.7,1154.0 1220.9,1154.0 1221.0,1163.2 1221.2,1126.4 1221.3,1200.0 1221.5,1190.8 1221.6,1181.6 1221.8,1163.2 1221.9,1126.4 1222.0,1172.4 1222.2,1181.6 1222.3,1163.2 1222.5,1117.2 1222.6,1135.6 1222.8,1172.4 1222.9,1135.6 1223.0,1117.2 1223.2,1043.6 1223.3,1200.0 1223.5,1117.2 1223.6,1172.4 1223.8,1163.2 1223.9,1117.2 1224.1,1163.2 1224.2,1200.0 1224.3,1126.4 1224.5,1154.0 1224.6,1200.0 1224.8,1144.8 1224.9,1154.0 1225.1,1144.8 1225.2,1181.6 1225.4,1126.4 1225.5,1126.4 1225.6,1209.2 1225.8,1181.6 1225.9,1154.0 1226.1,1126.4 1226.2,1144.8 1226.4,1163.2 1226.5,1200.0 1226.6,1154.0 1226.8,1135.6 1226.9,1181.6 1227.1,1154.0 1227.2,1126.4 1227.4,1163.2 1227.5,1181.6 1227.7,1154.0 1227.8,1126.4 1227.9,1154.0 1228.1,1135.6 1228.2,1154.0 1228.4,1200.0 1228.5,1190.8 1228.7,1144.8 1228.8,1172.4 1229.0,1200.0 1229.1,1117.2 1229.2,1144.8 1229.4,1135.6 1229.5,1172.4 1229.7,1108.0 1229.8,1181.6 1230.0,1181.6 1230.1,1108.0 1230.2,1154.0 1230.4,1190.8 1230.5,1163.2 1230.7,1172.4 1230.8,1135.6 1231.0,1200.0 1231.1,1144.8 1231.3,1181.6 1231.4,1135.6 1231.5,1163.2 1231.7,1117.2 1231.8,1200.0 1232.0,1181.6 1232.1,1200.0 1232.3,1080.4 1232.4,1172.4 1232.6,1163.2 1232.7,1117.2 1232.8,1172.4 1233.0,1163.2 1233.1,1126.4 1233.3,1163.2 1233.4,1190.8 1233.6,1200.0 1233.7,1172.4 1233.8,1163.2 1234.0,1181.6 1234.1,1218.4 1234.3,1172.4 1234.4,1181.6 1234.6,1144.8 1234.7,1126.4 1234.9,1181.6 1235.0,1154.0 1235.1,1154.0 1235.3,1154.0 1235.4,1154.0 1235.6,1163.2 1235.7,1126.4 1235.9,1126.4 1236.0,1172.4 1236.2,1181.6 1236.3,1163.2 1236.4,1200.0 1236.6,1126.4 1236.7,1117.2 1236.9,1200.0 1237.0,1190.8 1237.2,1190.8 1237.3,1181.6 1237.4,1172.4 1237.6,1200.0 1237.7,1190.8 1237.9,1163.2 1238.0,1154.0 1238.2,1163.2 1238.3,1200.0 1238.5,1126.4 1238.6,1135.6 1238.7,1154.0 1238.9,1190.8 1239.0,1181.6 1239.2,1200.0 1239.3,1181.6 1239.5,1126.4 1239.6,1172.4 1239.8,1190.8 1239.9,1126.4 1240.0,1163.2 1240.2,1209.2 1240.3,1163.2 1240.5,1135.6 1240.6,1108.0 1240.8,1209.2 1240.9,1144.8 1241.0,1190.8 1241.2,1144.8 1241.3,1181.6 1241.5,1126.4 1241.6,1126.4 1241.8,1163.2 1241.9,1190.8 1242.1,1135.6 1242.2,1190.8 1242.3,1172.4 1242.5,1126.4 1242.6,1126.4 1242.8,1163.2 1242.9,1117.2 1243.1,1117.2 1243.2,1172.4 1243.4,1181.6 1243.5,1135.6 1243.6,1144.8 1243.8,1190.8 1243.9,1154.0 1244.1,1163.2 1244.2,1144.8 1244.4,1172.4 1244.5,1181.6 1244.6,1117.2 1244.8,1190.8 1244.9,1135.6 1245.1,1126.4 1245.2,1126.4 1245.4,1154.0 1245.5,1135.6 1245.7,1154.0 1245.8,1181.6 1245.9,1181.6 1246.1,1135.6 1246.2,1190.8 1246.4,1181.6 1246.5,1200.0 1246.7,1172.4 1246.8,1135.6 1247.0,1117.2 1247.1,1154.0 1247.2,1200.0 1247.4,1181.6 1247.5,1144.8 1247.7,1126.4 1247.8,1117.2 1248.0,1117.2 1248.1,1190.8 1248.2,1154.0 1248.4,1172.4 1248.5,1154.0 1248.7,1135.6 1248.8,1209.2 1249.0,1126.4 1249.1,1126.4 1249.3,1246.0 1249.4,1172.4 1249.5,1144.8 1249.7,1172.4 1249.8,1190.8 1250.0,1163.2 1250.1,1200.0 1250.3,1200.0 1250.4,1172.4 1250.6,1154.0 1250.7,1200.0 1250.8,1117.2 1251.0,1190.8 1251.1,1181.6 1251.3,1135.6 1251.4,1181.6 1251.6,1154.0 1251.7,1154.0 1251.8,1135.6 1252.0,1172.4 1252.1,1181.6 1252.3,1190.8 1252.4,1172.4 1252.6,1209.2 1252.7,1190.8 1252.9,1135.6 1253.0,1190.8 1253.1,1135.6 1253.3,1190.8 1253.4,1190.8 1253.6,1163.2 1253.7,1209.2 1253.9,1163.2 1254.0,1181.6 1254.2,1117.2 1254.3,1098.8 1254.4,1181.6 1254.6,1181.6 1254.7,1154.0 1254.9,1117.2 1255.0,1172.4 1255.2,1154.0 1255.3,1080.4 1255.4,1154.0 1255.6,1126.4 1255.7,1190.8 1255.9,1144.8 1256.0,1209.2 1256.2,1117.2 1256.3,1200.0 1256.5,1098.8 1256.6,1163.2 1256.7,1172.4 1256.9,1163.2 1257.0,1190.8 1257.2,1154.0 1257.3,1144.8 1257.5,1126.4 1257.6,1135.6 1257.8,1181.6 1257.9,1126.4 1258.0,1181.6 1258.2,1209.2 1258.3,1144.8 1258.5,1190.8 1258.6,1126.4 1258.8,1209.2 1258.9,1200.0 1259.0,1154.0 1259.2,1209.2 1259.3,1200.0 1259.5,1126.4 1259.6,1190.8 1259.8,1126.4 1259.9,1144.8 1260.1,1154.0 1260.2,1190.8 1260.3,1144.8 1260.5,1126.4 1260.6,1172.4 1260.8,1154.0 1260.9,1135.6 1261.1,1163.2 1261.2,1154.0 1261.4,1190.8 1261.5,1190.8 1261.6,1154.0 1261.8,1126.4 1261.9,1135.6 1262.1,1154.0 1262.2,1163.2 1262.4,1126.4 1262.5,1218.4 1262.6,1172.4 1262.8,1117.2 1262.9,1144.8 1263.1,1163.2 1263.2,1163.2 1263.4,1126.4 1263.5,1080.4 1263.7,1209.2 1263.8,1135.6 1263.9,1200.0 1264.1,1209.2 1264.2,1135.6 1264.4,1181.6 1264.5,1144.8 1264.7,1172.4 1264.8,1200.0 1265.0,1154.0 1265.1,1144.8 1265.2,1172.4 1265.4,1163.2 1265.5,1117.2 1265.7,1209.2 1265.8,1154.0 1266.0,1135.6 1266.1,1126.4 1266.2,1181.6 1266.4,1172.4 1266.5,1154.0 1266.7,1172.4 1266.8,1246.0 1267.0,1200.0 1267.1,1200.0 1267.3,1190.8 1267.4,1126.4 1267.5,1144.8 1267.7,1144.8 1267.8,1190.8 1268.0,1117.2 1268.1,1163.2 1268.3,1172.4 1268.4,1154.0 1268.6,1126.4 1268.7,1200.0 1268.8,1144.8 1269.0,1200.0 1269.1,1126.4 1269.3,1163.2 1269.4,1154.0 1269.6,1172.4 1269.7,1172.4 1269.8,1190.8 1270.0,1218.4 1270.1,1172.4 1270.3,1181.6 1270.4,1181.6 1270.6,1154.0 1270.7,1200.0 1270.9,1209.2 1271.0,1181.6 1271.1,1200.0 1271.3,1190.8 1271.4,1126.4 1271.6,1190.8 1271.7,1172.4 1271.9,1154.0 1272.0,1144.8 1272.2,1190.8 1272.3,1154.0 1272.4,1190.8 1272.6,1163.2 1272.7,1154.0 1272.9,1218.4 1273.0,1126.4 1273.2,1154.0 1273.3,1181.6 1273.4,1135.6 1273.6,1200.0 1273.7,1200.0 1273.9,1190.8 1274.0,1154.0 1274.2,1190.8 1274.3,1135.6 1274.5,1181.6 1274.6,1144.8 1274.7,1144.8 1274.9,1181.6 1275.0,1126.4 1275.2,1135.6 1275.3,1126.4 1275.5,1172.4 1275.6,1126.4 1275.8,1163.2 1275.9,1190.8 1276.0,1209.2 1276.2,1209.2 1276.3,1172.4 1276.5,1144.8 1276.6,1181.6 1276.8,1144.8 1276.9,1181.6 1277.0,1144.8 1277.2,1172.4 1277.3,1172.4 1277.5,1108.0 1277.6,1163.2 1277.8,1126.4 1277.9,1154.0 1278.1,1190.8 1278.2,1154.0 1278.3,1154.0 1278.5,1126.4 1278.6,1135.6 1278.8,1209.2 1278.9,1154.0 1279.1,1227.6 1279.2,1163.2 1279.4,1154.0 1279.5,1172.4 1279.6,1126.4 1279.8,1163.2 1279.9,1181.6 1280.1,1172.4 1280.2,1190.8 1280.4,1135.6 1280.5,1163.2 1280.6,1209.2 1280.8,1209.2 1280.9,1154.0 1281.1,1126.4 1281.2,1135.6 1281.4,1172.4 1281.5,1181.6 1281.7,1144.8 1281.8,1190.8 1281.9,1163.2 1282.1,1181.6 1282.2,1154.0 1282.4,1190.8 1282.5,1209.2 1282.7,1163.2 1282.8,1209.2 1283.0,1154.0 1283.1,1144.8 1283.2,1135.6 1283.4,1218.4 1283.5,1218.4 1283.7,1236.8 1283.8,1172.4 1284.0,1154.0 1284.1,1200.0 1284.2,1135.6 1284.4,1172.4 1284.5,1117.2 1284.7,1181.6 1284.8,1190.8 1285.0,1163.2 1285.1,1144.8 1285.3,1154.0 1285.4,1163.2 1285.5,1209.2 1285.7,1218.4 1285.8,1172.4 1286.0,1190.8 1286.1,1144.8 1286.3,1172.4 1286.4,1144.8 1286.6,1144.8 1286.7,1209.2 1286.8,1209.2 1287.0,1190.8 1287.1,1181.6 1287.3,1209.2 1287.4,1144.8 1287.6,1144.8 1287.7,1218.4 1287.8,1190.8 1288.0,1172.4 1288.1,1144.8 1288.3,1135.6 1288.4,1163.2 1288.6,1181.6 1288.7,1154.0 1288.9,1163.2 1289.0,1190.8 1289.1,1172.4 1289.3,1190.8 1289.4,1190.8 1289.6,1200.0 1289.7,1172.4 1289.9,1181.6 1290.0,1135.6 1290.2,1190.8 1290.3,1190.8 1290.4,1163.2 1290.6,1190.8 1290.7,1190.8 1290.9,1218.4 1291.0,1135.6 1291.2,1190.8 1291.3,1190.8 1291.4,1144.8 1291.6,1126.4 1291.7,1181.6 1291.9,1154.0 1292.0,1190.8 1292.2,1181.6 1292.3,1108.0 1292.5,1126.4 1292.6,1126.4 1292.7,1154.0 1292.9,1200.0 1293.0,1190.8 1293.2,1154.0 1293.3,1209.2 1293.5,1144.8 1293.6,1144.8 1293.8,1126.4 1293.9,1163.2 1294.0,1144.8 1294.2,1181.6 1294.3,1172.4 1294.5,1144.8 1294.6,1172.4 1294.8,1190.8 1294.9,1190.8 1295.0,1154.0 1295.2,1126.4 1295.3,1163.2 1295.5,1190.8 1295.6,1154.0 1295.8,1190.8 1295.9,1144.8 1296.1,1190.8 1296.2,1135.6 1296.3,1172.4 1296.5,1135.6 1296.6,1135.6 1296.8,1181.6 1296.9,1181.6 1297.1,1163.2 1297.2,1135.6 1297.4,1190.8 1297.5,1190.8 1297.6,1135.6 1297.8,1163.2 1297.9,1144.8 1298.1,1126.4 1298.2,1200.0 1298.4,1172.4 1298.5,1144.8 1298.6,1144.8 1298.8,1154.0 1298.9,1172.4 1299.1,1135.6 1299.2,1181.6 1299.4,1209.2 1299.5,1135.6 1299.7,1144.8 1299.8,1135.6 1299.9,1209.2 1300.1,1163.2 1300.2,1200.0 1300.4,1172.4 1300.5,1200.0 1300.7,1135.6 1300.8,1190.8 1301.0,1172.4 1301.1,1154.0 1301.2,1200.0 1301.4,1154.0 1301.5,1126.4 1301.7,1163.2 1301.8,1209.2 1302.0,1172.4 1302.1,1154.0 1302.2,1154.0 1302.4,1163.2 1302.5,1200.0 1302.7,1172.4 1302.8,1172.4 1303.0,1135.6 1303.1,1144.8 1303.3,1144.8 1303.4,1200.0 1303.5,1218.4 1303.7,1144.8 1303.8,1163.2 1304.0,1135.6 1304.1,1172.4 1304.3,1200.0 1304.4,1163.2 1304.6,1190.8 1304.7,1163.2 1304.8,1089.6 1305.0,1135.6 1305.1,1172.4 1305.3,1181.6 1305.4,1126.4 1305.6,1181.6 1305.7,1200.0 1305.8,1163.2 1306.0,1181.6 1306.1,1181.6 1306.3,1181.6 1306.4,1144.8 1306.6,1181.6 1306.7,1172.4 1306.9,1126.4 1307.0,1052.8 1307.1,1181.6 1307.3,1154.0 1307.4,1154.0 1307.6,1181.6 1307.7,1163.2 1307.9,1181.6 1308.0,1172.4 1308.2,1190.8 1308.3,1135.6 1308.4,1190.8 1308.6,1190.8 1308.7,1181.6 1308.9,1108.0 1309.0,1144.8 1309.2,1172.4 1309.3,1154.0 1309.4,1181.6 1309.6,1135.6 1309.7,1117.2 1309.9,1200.0 1310.0,1154.0 1310.2,1144.8 1310.3,1154.0 1310.5,1098.8 1310.6,1163.2 1310.7,1108.0 1310.9,1080.4 1311.0,1108.0 1311.2,1144.8 1311.3,1071.2 1311.5,1080.4 1311.6,1071.2 1311.8,1071.2 1311.9,1071.2 1312.0,1043.6 1312.2,1034.4 1312.3,1043.6 1312.5,1089.6 1312.6,1016.0 1312.8,1043.6 1312.9,1025.2 1313.0,1006.8 1313.2,970.0 1313.3,951.6 1313.5,997.6 1313.6,979.2 1313.8,988.4 1313.9,951.6 1314.1,988.4 1314.2,933.2 1314.3,951.6 1314.5,933.2 1314.6,979.2 1314.8,988.4 1314.9,942.4 1315.1,921.0 1315.2,921.0 1315.4,942.4 1315.5,921.0 1315.6,924.0 1315.8,921.0 1315.9,924.0 1316.1,921.0 1316.2,921.0 1316.4,951.6 1316.5,960.8 1316.6,921.0 1316.8,960.8 1316.9,942.4 1317.1,921.0 1317.2,921.0 1317.4,970.0 1317.5,921.0 1317.7,960.8 1317.8,979.2 1317.9,942.4 1318.1,1006.8 1318.2,988.4 1318.4,1006.8 1318.5,1043.6 1318.7,997.6 1318.8,997.6 1319.0,1043.6 1319.1,1016.0 1319.2,1043.6 1319.4,1062.0 1319.5,1016.0 1319.7,1034.4 1319.8,1080.4 1320.0,1098.8 1320.1,1117.2 1320.2,1062.0 1320.4,1080.4 1320.5,1108.0 1320.7,1089.6 1320.8,1117.2 1321.0,1126.4 1321.1,1080.4 1321.3,1154.0 1321.4,1163.2 1321.5,1108.0 1321.7,1126.4 1321.8,1144.8 1322.0,1163.2 1322.1,1135.6 1322.3,1163.2 1322.4,1172.4 1322.6,1154.0 1322.7,1190.8 1322.8,1135.6 1323.0,1117.2 1323.1,1144.8 1323.3,1135.6 1323.4,1154.0 1323.6,1154.0 1323.7,1200.0 1323.8,1172.4 1324.0,1163.2 1324.1,1209.2 1324.3,1117.2 1324.4,1163.2 1324.6,1135.6 1324.7,1154.0 1324.9,1144.8 1325.0,1172.4 1325.1,1190.8 1325.3,1190.8 1325.4,1172.4 1325.6,1135.6 1325.7,1126.4 1325.9,1135.6 1326.0,1236.8 1326.2,1117.2 1326.3,1190.8 1326.4,1163.2 1326.6,1200.0 1326.7,1200.0 1326.9,1172.4 1327.0,1144.8 1327.2,1126.4 1327.3,1190.8 1327.4,1190.8 1327.6,1200.0 1327.7,1163.2 1327.9,1108.0 1328.0,1163.2 1328.2,1200.0 1328.3,1209.2 1328.5,1209.2 1328.6,1117.2 1328.7,1181.6 1328.9,1181.6 1329.0,1108.0 1329.2,1154.0 1329.3,1181.6 1329.5,1181.6 1329.6,1135.6 1329.8,1190.8 1329.9,1172.4 1330.0,1117.2 1330.2,1163.2 1330.3,1089.6 1330.5,1172.4 1330.6,1098.8 1330.8,1135.6 1330.9,1108.0 1331.0,1117.2 1331.2,1071.2 1331.3,1098.8 1331.5,1062.0 1331.6,1034.4 1331.8,1052.8 1331.9,1043.6 1332.1,1071.2 1332.2,1071.2 1332.3,988.4 1332.5,1034.4 1332.6,1016.0 1332.8,988.4 1332.9,970.0 1333.1,1025.2 1333.2,1006.8 1333.4,960.8 1333.5,970.0 1333.6,988.4 1333.8,951.6 1333.9,970.0 1334.1,970.0 1334.2,951.6 1334.4,960.8 1334.5,938.0 1334.6,938.0 1334.8,938.0 1334.9,938.0 1335.1,938.0 1335.2,951.6 1335.4,970.0 1335.5,970.0 1335.7,938.0 1335.8,979.2 1335.9,960.8 1336.1,951.6 1336.2,988.4 1336.4,938.0 1336.5,979.2 1336.7,1016.0 1336.8,1025.2 1337.0,979.2 1337.1,1006.8 1337.2,1025.2 1337.4,1043.6 1337.5,1016.0 1337.7,1062.0 1337.8,1025.2 1338.0,1089.6 1338.1,1034.4 1338.2,1080.4 1338.4,1025.2 1338.5,1126.4 1338.7,1062.0 1338.8,1089.6 1339.0,1089.6 1339.1,1144.8 1339.3,1098.8 1339.4,1172.4 1339.5,1117.2 1339.7,1154.0 1339.8,1144.8 1340.0,1163.2 1340.1,1126.4 1340.3,1144.8 1340.4,1181.6 1340.6,1181.6 1340.7,1135.6 1340.8,1181.6 1341.0,1108.0 1341.1,1209.2 1341.3,1144.8 1341.4,1181.6 1341.6,1126.4 1341.7,1154.0 1341.8,1218.4 1342.0,1163.2 1342.1,1154.0 1342.3,1172.4 1342.4,1126.4 1342.6,1172.4 1342.7,1163.2 1342.9,1154.0 1343.0,1190.8 1343.1,1200.0 1343.3,1190.8 1343.4,1172.4 1343.6,1135.6 1343.7,1200.0 1343.9,1181.6 1344.0,1209.2 1344.2,1172.4 1344.3,1181.6 1344.4,1172.4 1344.6,1144.8 1344.7,1190.8 1344.9,1117.2 1345.0,1163.2 1345.2,1172.4 1345.3,1218.4 1345.4,1126.4 1345.6,1154.0 1345.7,1126.4 1345.9,1209.2 1346.0,1126.4 1346.2,1209.2 1346.3,1181.6 1346.5,1190.8 1346.6,1172.4 1346.7,1200.0 1346.9,1181.6 1347.0,1218.4 1347.2,1209.2 1347.3,1200.0 1347.5,1154.0 1347.6,1126.4 1347.8,1126.4 1347.9,1172.4 1348.0,1181.6 1348.2,1190.8 1348.3,1135.6 1348.5,1163.2 1348.6,1181.6 1348.8,1144.8 1348.9,1144.8 1349.0,1154.0 1349.2,1200.0 1349.3,1163.2 1349.5,1181.6 1349.6,1163.2 1349.8,1144.8 1349.9,1190.8 1350.1,1135.6 1350.2,1181.6 1350.3,1218.4 1350.5,1190.8 1350.6,1209.2 1350.8,1154.0 1350.9,1209.2 1351.1,1163.2 1351.2,1200.0 1351.4,1172.4 1351.5,1108.0 1351.6,1200.0 1351.8,1181.6 1351.9,1154.0 1352.1,1144.8 1352.2,1163.2 1352.4,1135.6 1352.5,1154.0 1352.6,1209.2 1352.8,1172.4 1352.9,1135.6 1353.1,1135.6 1353.2,1135.6 1353.4,1190.8 1353.5,1172.4 1353.7,1154.0 1353.8,1172.4 1353.9,1172.4 1354.1,1144.8 1354.2,1135.6 1354.4,1218.4 1354.5,1154.0 1354.7,1218.4 1354.8,1200.0 1355.0,1181.6 1355.1,1200.0 1355.2,1154.0 1355.4,1218.4 1355.5,1154.0 1355.7,1227.6 1355.8,1200.0 1356.0,1172.4 1356.1,1209.2 1356.2,1154.0 1356.4,1163.2 1356.5,1135.6 1356.7,1163.2 1356.8,1154.0 1357.0,1126.4 1357.1,1172.4 1357.3,1209.2 1357.4,1144.8 1357.5,1154.0 1357.7,1181.6 1357.8,1172.4 1358.0,1190.8 1358.1,1117.2 1358.3,1250.0 1358.4,1190.8 1358.6,1144.8 1358.7,1181.6 1358.8,1172.4 1359.0,1218.4 1359.1,1200.0 1359.3,1190.8 1359.4,1209.2 1359.6,1209.2 1359.7,1163.2 1359.8,1209.2 1360.0,1144.8 1360.1,1200.0 1360.3,1172.4 1360.4,1227.6 1360.6,1126.4 1360.7,1200.0 1360.9,1209.2 1361.0,1154.0 1361.1,1163.2 1361.3,1218.4 1361.4,1181.6 1361.6,1190.8 1361.7,1117.2 1361.9,1172.4 1362.0,1172.4 1362.2,1181.6 1362.3,1135.6 1362.4,1144.8 1362.6,1163.2 1362.7,1135.6 1362.9,1135.6 1363.0,1163.2 1363.2,1126.4 1363.3,1200.0 1363.4,1181.6 1363.6,1181.6 1363.7,1126.4 1363.9,1126.4 1364.0,1126.4 1364.2,1108.0 1364.3,1144.8 1364.5,1126.4 1364.6,1154.0 1364.7,1154.0 1364.9,1190.8 1365.0,1098.8 1365.2,1126.4 1365.3,1117.2 1365.5,1144.8 1365.6,1144.8 1365.8,1117.2 1365.9,1172.4 1366.0,1117.2 1366.2,1062.0 1366.3,1108.0 1366.5,1043.6 1366.6,1126.4 1366.8,1098.8 1366.9,1034.4 1367.0,1108.0 1367.2,1080.4 1367.3,1034.4 1367.5,1062.0 1367.6,1016.0 1367.8,1052.8 1367.9,1080.4 1368.1,1071.2 1368.2,970.0 1368.3,988.4 1368.5,1016.0 1368.6,1062.0 1368.8,933.2 1368.9,924.0 1369.1,905.6 1369.2,914.8 1369.4,979.2 1369.5,914.8 1369.6,896.4 1369.8,896.4 1369.9,896.4 1370.1,832.0 1370.2,887.2 1370.4,832.0 1370.5,878.0 1370.6,813.6 1370.8,822.8 1370.9,832.0 1371.1,795.2 1371.2,813.6 1371.4,786.0 1371.5,795.2 1371.7,767.6 1371.8,740.0 1371.9,736.0 1372.1,758.4 1372.2,749.2 1372.4,749.2 1372.5,736.0 1372.7,795.2 1372.8,736.0 1373.0,736.0 1373.1,740.0 1373.2,758.4 1373.4,736.0 1373.5,736.0 1373.7,767.6 1373.8,749.2 1374.0,749.2 1374.1,736.0 1374.2,736.0 1374.4,795.2 1374.5,795.2 1374.7,736.0 1374.8,736.0 1375.0,841.2 1375.1,804.4 1375.3,813.6 1375.4,832.0 1375.5,804.4 1375.7,887.2 1375.8,813.6 1376.0,868.8 1376.1,887.2 1376.3,905.6 1376.4,914.8 1376.6,960.8 1376.7,933.2 1376.8,960.8 1377.0,951.6 1377.1,942.4 1377.3,997.6 1377.4,933.2 1377.6,997.6 1377.7,1025.2 1377.8,1025.2 1378.0,1034.4 1378.1,1043.6 1378.3,1080.4 1378.4,1052.8 1378.6,1071.2 1378.7,1052.8 1378.9,1052.8 1379.0,1089.6 1379.1,1098.8 1379.3,1117.2 1379.4,1062.0 1379.6,1135.6 1379.7,1126.4 1379.9,1098.8 1380.0,1098.8 1380.2,1089.6 1380.3,1108.0 1380.4,1089.6 1380.6,1126.4 1380.7,1126.4 1380.9,1126.4 1381.0,1181.6 1381.2,1098.8 1381.3,1172.4 1381.4,1209.2 1381.6,1163.2 1381.7,1098.8 1381.9,1181.6 1382.0,1172.4 1382.2,1172.4 1382.3,1163.2 1382.5,1190.8 1382.6,1117.2 1382.7,1117.2 1382.9,1190.8 1383.0,1144.8 1383.2,1172.4 1383.3,1144.8 1383.5,1163.2 1383.6,1163.2 1383.8,1135.6 1383.9,1135.6 1384.0,1181.6 1384.2,1126.4 1384.3,1163.2 1384.5,1154.0 1384.6,1163.2 1384.8,1190.8 1384.9,1126.4 1385.0,1117.2 1385.2,1200.0 1385.3,1227.6 1385.5,1200.0 1385.6,1071.2 1385.8,1117.2 1385.9,1135.6 1386.1,1181.6 1386.2,1200.0 1386.3,1172.4 1386.5,1144.8 1386.6,1163.2 1386.8,1163.2 1386.9,1190.8 1387.1,1163.2 1387.2,1154.0 1387.4,1126.4 1387.5,1172.4 1387.6,1218.4 1387.8,1126.4 1387.9,1117.2 1388.1,1163.2 1388.2,1181.6 1388.4,1126.4 1388.5,1209.2 1388.6,1200.0 1388.8,1117.2 1388.9,1135.6 1389.1,1135.6 1389.2,1154.0 1389.4,1172.4 1389.5,1135.6 1389.7,1172.4 1389.8,1190.8 1389.9,1227.6 1390.1,1108.0 1390.2,1144.8 1390.4,1144.8 1390.5,1209.2 1390.7,1144.8 1390.8,1209.2 1391.0,1190.8 1391.1,1181.6 1391.2,1172.4 1391.4,1117.2 1391.5,1154.0 1391.7,1144.8 1391.8,1117.2 1392.0,1117.2 1392.1,1135.6 1392.2,1126.4 1392.4,1181.6 1392.5,1144.8 1392.7,1172.4 1392.8,1190.8 1393.0,1126.4 1393.1,1181.6 1393.3,1163.2 1393.4,1163.2 1393.5,1181.6 1393.7,1126.4 1393.8,1135.6 1394.0,1172.4 1394.1,1172.4 1394.3,1135.6 1394.4,1172.4 1394.6,1135.6 1394.7,1190.8 1394.8,1117.2 1395.0,1163.2 1395.1,1144.8 1395.3,1163.2 1395.4,1144.8 1395.6,1181.6 1395.7,1126.4 1395.8,1163.2 1396.0,1163.2 1396.1,1190.8 1396.3,1190.8 1396.4,1181.6 1396.6,1144.8 1396.7,1190.8 1396.9,1181.6 1397.0,1126.4 1397.1,1181.6 1397.3,1218.4 1397.4,1172.4 1397.6,1126.4 1397.7,1117.2 1397.9,1135.6 1398.0,1135.6 1398.2,1200.0 1398.3,1154.0 1398.4,1163.2 1398.6,1181.6 1398.7,1154.0 1398.9,1144.8 1399.0,1218.4 1399.2,1154.0 1399.3,1172.4 1399.4,1200.0 1399.6,1154.0 1399.7,1117.2 1399.9,1108.0 1400.0,1190.8 1400.2,1135.6 1400.3,1135.6 1400.5,1190.8 1400.6,1200.0 1400.7,1200.0 1400.9,1190.8 1401.0,1172.4 1401.2,1117.2 1401.3,1108.0 1401.5,1172.4 1401.6,1154.0 1401.8,1172.4 1401.9,1181.6 1402.0,1117.2 1402.2,1200.0 1402.3,1181.6 1402.5,1172.4 1402.6,1117.2 1402.8,1117.2 1402.9,1200.0 1403.0,1144.8 1403.2,1200.0 1403.3,1144.8 1403.5,1172.4 1403.6,1209.2 1403.8,1154.0 1403.9,1144.8 1404.1,1126.4 1404.2,1227.6 1404.3,1126.4 1404.5,1135.6 1404.6,1200.0 1404.8,1154.0 1404.9,1200.0 1405.1,1117.2 1405.2,1135.6 1405.4,1190.8 1405.5,1163.2 1405.6,1181.6 1405.8,1200.0 1405.9,1126.4 1406.1,1163.2 1406.2,1126.4 1406.4,1172.4 1406.5,1200.0 1406.6,1154.0 1406.8,1154.0 1406.9,1144.8 1407.1,1200.0 1407.2,1181.6 1407.4,1181.6 1407.5,1163.2 1407.7,1209.2 1407.8,1144.8 1407.9,1135.6 1408.1,1108.0 1408.2,1154.0 1408.4,1181.6 1408.5,1190.8 1408.7,1163.2 1408.8,1200.0 1409.0,1163.2 1409.1,1154.0 1409.2,1172.4 1409.4,1172.4 1409.5,1190.8 1409.7,1135.6 1409.8,1190.8 1410.0,1163.2 1410.1,1154.0 1410.2,1163.2 1410.4,1218.4 1410.5,1154.0 1410.7,1218.4 1410.8,1163.2 1411.0,1209.2 1411.1,1163.2 1411.3,1135.6 1411.4,1154.0 1411.5,1172.4 1411.7,1190.8 1411.8,1135.6 1412.0,1172.4 1412.1,1154.0 1412.3,1172.4 1412.4,1135.6 1412.6,1126.4 1412.7,1126.4 1412.8,1108.0 1413.0,1108.0 1413.1,1181.6 1413.3,1154.0 1413.4,1117.2 1413.6,1209.2 1413.7,1190.8 1413.8,1117.2 1414.0,1144.8 1414.1,1144.8 1414.3,1154.0 1414.4,1172.4 1414.6,1154.0 1414.7,1117.2 1414.9,1200.0 1415.0,1117.2 1415.1,1126.4 1415.3,1117.2 1415.4,1135.6 1415.6,1163.2 1415.7,1190.8 1415.9,1144.8 1416.0,1117.2 1416.2,1200.0 1416.3,1163.2 1416.4,1144.8 1416.6,1117.2 1416.7,1144.8 1416.9,1181.6 1417.0,1200.0 1417.2,1181.6 1417.3,1190.8 1417.4,1190.8 1417.6,1108.0 1417.7,1181.6 1417.9,1163.2 1418.0,1163.2 1418.2,1163.2 1418.3,1144.8 1418.5,1154.0 1418.6,1135.6 1418.7,1190.8 1418.9,1190.8 1419.0,1227.6 1419.2,1154.0 1419.3,1200.0 1419.5,1144.8 1419.6,1144.8 1419.8,1209.2 1419.9,1154.0 1420.0,1181.6 1420.2,1172.4 1420.3,1144.8 1420.5,1181.6 1420.6,1163.2 1420.8,1135.6 1420.9,1209.2 1421.0,1163.2 1421.2,1154.0 1421.3,1117.2 1421.5,1144.8 1421.6,1135.6 1421.8,1108.0 1421.9,1163.2 1422.1,1154.0 1422.2,1154.0 1422.3,1190.8 1422.5,1163.2 1422.6,1218.4 1422.8,1200.0 1422.9,1200.0 1423.1,1200.0 1423.2,1126.4 1423.4,1144.8 1423.5,1135.6 1423.6,1135.6 1423.8,1154.0 1423.9,1181.6 1424.1,1135.6 1424.2,1200.0 1424.4,1117.2 1424.5,1200.0 1424.6,1227.6 1424.8,1163.2 1424.9,1181.6 1425.1,1190.8 1425.2,1144.8 1425.4,1135.6 1425.5,1135.6 1425.7,1190.8 1425.8,1135.6 1425.9,1172.4 1426.1,1209.2 1426.2,1181.6 1426.4,1200.0 1426.5,1227.6 1426.7,1163.2 1426.8,1163.2 1427.0,1163.2 1427.1,1144.8 1427.2,1172.4 1427.4,1135.6 1427.5,1163.2 1427.7,1126.4 1427.8,1154.0 1428.0,1172.4 1428.1,1163.2 1428.2,1190.8 1428.4,1163.2 1428.5,1163.2 1428.7,1135.6 1428.8,1181.6 1429.0,1200.0 1429.1,1209.2 1429.3,1154.0 1429.4,1172.4 1429.5,1209.2 1429.7,1172.4 1429.8,1218.4 1430.0,1218.4 1430.1,1172.4 1430.3,1172.4 1430.4,1181.6 1430.6,1144.8 1430.7,1135.6 1430.8,1181.6 1431.0,1098.8 1431.1,1154.0 1431.3,1227.6 1431.4,1126.4 1431.6,1172.4 1431.7,1117.2 1431.8,1190.8 1432.0,1144.8 1432.1,1200.0 1432.3,1135.6 1432.4,1080.4 1432.6,1218.4 1432.7,1163.2 1432.9,1135.6 1433.0,1144.8 1433.1,1200.0 1433.3,1190.8 1433.4,1154.0 1433.6,1154.0 1433.7,1200.0 1433.9,1117.2 1434.0,1190.8 1434.2,1190.8 1434.3,1181.6 1434.4,1154.0 1434.6,1218.4 1434.7,1163.2 1434.9,1135.6 1435.0,1108.0 1435.2,1172.4 1435.3,1200.0 1435.4,1163.2 1435.6,1154.0 1435.7,1209.2 1435.9,1181.6 1436.0,1227.6 1436.2,1181.6 1436.3,1163.2 1436.5,1209.2 1436.6,1163.2 1436.7,1163.2 1436.9,1227.6 1437.0,1126.4 1437.2,1144.8 1437.3,1218.4 1437.5,1144.8 1437.6,1144.8 1437.8,1163.2 1437.9,1163.2 1438.0,1126.4 1438.2,1144.8 1438.3,1181.6 1438.5,1227.6 1438.6,1200.0 1438.8,1080.4 1438.9,1135.6 1439.0,1181.6 1439.2,1144.8 1439.3,1181.6 1439.5,1163.2 1439.6,1181.6 1439.8,1181.6 1439.9,1190.8 1440.1,1144.8 1440.2,1172.4 1440.3,1163.2 1440.5,1172.4 1440.6,1190.8 1440.8,1154.0 1440.9,1181.6 1441.1,1172.4 1441.2,1163.2 1441.4,1172.4 1441.5,1181.6 1441.6,1154.0 1441.8,1218.4 1441.9,1209.2 1442.1,1163.2 1442.2,1098.8 1442.4,1117.2 1442.5,1126.4 1442.6,1218.4 1442.8,1181.6 1442.9,1126.4 1443.1,1181.6 1443.2,1172.4 1443.4,1126.4 1443.5,1172.4 1443.7,1181.6 1443.8,1117.2 1443.9,1135.6 1444.1,1089.6 1444.2,1135.6 1444.4,1126.4 1444.5,1126.4 1444.7,1154.0 1444.8,1200.0 1445.0,1117.2 1445.1,1172.4 1445.2,1089.6 1445.4,1154.0 1445.5,1108.0 1445.7,1098.8 1445.8,1172.4 1446.0,1144.8 1446.1,1163.2 1446.2,1172.4 1446.4,1117.2 1446.5,1163.2 1446.7,1062.0 1446.8,1181.6 1447.0,1154.0 1447.1,1098.8 1447.3,1163.2 1447.4,1144.8 1447.5,1227.6 1447.7,1200.0 1447.8,1190.8 1448.0,1181.6 1448.1,1172.4 1448.3,1126.4 1448.4,1181.6 1448.6,1227.6 1448.7,1227.6 1448.8,1144.8 1449.0,1135.6 1449.1,1126.4 1449.3,1172.4 1449.4,1200.0 1449.6,1209.2 1449.7,1126.4 1449.8,1098.8 1450.0,1144.8 1450.1,1117.2 1450.3,1108.0 1450.4,1181.6 1450.6,1135.6 1450.7,1181.6 1450.9,1108.0 1451.0,1163.2 1451.1,1200.0 1451.3,1144.8 1451.4,1172.4 1451.6,1163.2 1451.7,1108.0 1451.9,1209.2 1452.0,1154.0 1452.2,1154.0 1452.3,1108.0 1452.4,1098.8 1452.6,1172.4 1452.7,1117.2 1452.9,1200.0 1453.0,1144.8 1453.2,1154.0 1453.3,1126.4 1453.4,1154.0 1453.6,1163.2 1453.7,1154.0 1453.9,1190.8 1454.0,1218.4 1454.2,1209.2 1454.3,1172.4 1454.5,1126.4 1454.6,1135.6 1454.7,1227.6 1454.9,1172.4 1455.0,1051.0 1455.2,1181.6 1455.3,1154.0 1455.5,1135.6 1455.6,1181.6 1455.8,1181.6 1455.9,1181.6 1456.0,1181.6 1456.2,1181.6 1456.3,1190.8 1456.5,1200.0 1456.6,1181.6 1456.8,1181.6 1456.9,1154.0 1457.0,1209.2 1457.2,1181.6 1457.3,1209.2 1457.5,1209.2 1457.6,1144.8 1457.8,1144.8 1457.9,1135.6 1458.1,1163.2 1458.2,1144.8 1458.3,1181.6 1458.5,1172.4 1458.6,1218.4 1458.8,1126.4 1458.9,1200.0 1459.1,1144.8 1459.2,1172.4 1459.4,1181.6 1459.5,1209.2 1459.6,1172.4 1459.8,1181.6 1459.9,1126.4 1460.1,1181.6 1460.2,1200.0 1460.4,1154.0 1460.5,1209.2 1460.6,1172.4 1460.8,1126.4 1460.9,1144.8 1461.1,1227.6 1461.2,1154.0 1461.4,1190.8 1461.5,1190.8 1461.7,1190.8 1461.8,1163.2 1461.9,1163.2 1462.1,1190.8 1462.2,1200.0 1462.4,1181.6 1462.5,1144.8 1462.7,1144.8 1462.8,1200.0 1463.0,1135.6 1463.1,1190.8 1463.2,1144.8 1463.4,1126.4 1463.5,1181.6 1463.7,1227.6 1463.8,1218.4 1464.0,1172.4 1464.1,1144.8 1464.2,1200.0 1464.4,1163.2 1464.5,1181.6 1464.7,1172.4 1464.8,1200.0 1465.0,1163.2 1465.1,1200.0 1465.3,1163.2 1465.4,1209.2 1465.5,1172.4 1465.7,1190.8 1465.8,1218.4 1466.0,1144.8 1466.1,1209.2 1466.3,1144.8 1466.4,1181.6 1466.6,1144.8 1466.7,1209.2 1466.8,1200.0 1467.0,1154.0 1467.1,1154.0 1467.3,1246.0 1467.4,1181.6 1467.6,1218.4 1467.7,1181.6 1467.8,1154.0 1468.0,1227.6 1468.1,1172.4 1468.3,1181.6 1468.4,1218.4 1468.6,1209.2 1468.7,1209.2 1468.9,1163.2 1469.0,1154.0 1469.1,1218.4 1469.3,1190.8 1469.4,1163.2 1469.6,1227.6 1469.7,1172.4 1469.9,1227.6 1470.0,1181.6 1470.2,1135.6 1470.3,1200.0 1470.4,1209.2 1470.6,1190.8 1470.7,1209.2 1470.9,1190.8 1471.0,1163.2 1471.2,1209.2 1471.3,1172.4 1471.4,1218.4 1471.6,1209.2 1471.7,1218.4 1471.9,1209.2 1472.0,1154.0 1472.2,1154.0 1472.3,1190.8 1472.5,1200.0 1472.6,1154.0 1472.7,1181.6 1472.9,1200.0 1473.0,1181.6 1473.2,1181.6 1473.3,1218.4 1473.5,1200.0 1473.6,1209.2 1473.8,1209.2 1473.9,1181.6 1474.0,1218.4 1474.2,1200.0 1474.3,1181.6 1474.5,1172.4 1474.6,1181.6 1474.8,1181.6 1474.9,1163.2 1475.0,1163.2 1475.2,1218.4 1475.3,1190.8 1475.5,1181.6 1475.6,1200.0 1475.8,1163.2 1475.9,1209.2 1476.1,1172.4 1476.2,1200.0 1476.3,1135.6 1476.5,1163.2 1476.6,1163.2 1476.8,1190.8 1476.9,1209.2 1477.1,1181.6 1477.2,1209.2 1477.4,1190.8 1477.5,1172.4 1477.6,1190.8 1477.8,1154.0 1477.9,1200.0 1478.1,1163.2 1478.2,1209.2 1478.4,1209.2 1478.5,1227.6 1478.6,1218.4 1478.8,1218.4 1478.9,1200.0 1479.1,1144.8 1479.2,1181.6 1479.4,1209.2 1479.5,1154.0 1479.7,1200.0 1479.8,1209.2 1479.9,1227.6 1480.1,1200.0 1480.2,1227.6 1480.4,1172.4 1480.5,1209.2 1480.7,1218.4 1480.8,1200.0 1481.0,1218.4 1481.1,1172.4 1481.2,1200.0 1481.4,1227.6 1481.5,1154.0 1481.7,1172.4 1481.8,1154.0 1482.0,1200.0 1482.1,1218.4 1482.2,1236.8 1482.4,1154.0 1482.5,1181.6 1482.7,1181.6 1482.8,1190.8 1483.0,1200.0 1483.1,1163.2 1483.3,1163.2 1483.4,1209.2 1483.5,1209.2 1483.7,1227.6 1483.8,1190.8 1484.0,1181.6 1484.1,1218.4 1484.3,1200.0 1484.4,1218.4 1484.6,1190.8 1484.7,1209.2 1484.8,1218.4 1485.0,1181.6 1485.1,1218.4 1485.3,1163.2 1485.4,1190.8 1485.6,1200.0 1485.7,1209.2 1485.8,1181.6 1486.0,1200.0 1486.1,1190.8 1486.3,1190.8 1486.4,1172.4 1486.6,1218.4 1486.7,1163.2 1486.9,1163.2 1487.0,1181.6 1487.1,1227.6 1487.3,1144.8 1487.4,1190.8 1487.6,1163.2 1487.7,1181.6 1487.9,1190.8 1488.0,1181.6 1488.2,1163.2 1488.3,1209.2 1488.4,1227.6 1488.6,1172.4 1488.7,1190.8 1488.9,1209.2 1489.0,1163.2 1489.2,1227.6 1489.3,1154.0 1489.4,1218.4 1489.6,1200.0 1489.7,1209.2 1489.9,1163.2 1490.0,1163.2 1490.2,1144.8 1490.3,1200.0 1490.5,1163.2 1490.6,1227.6 1490.7,1218.4 1490.9,1181.6 1491.0,1209.2 1491.2,1163.2 1491.3,1190.8 1491.5,1163.2 1491.6,1218.4 1491.8,1218.4 1491.9,1200.0 1492.0,1181.6 1492.2,1163.2 1492.3,1218.4 1492.5,1172.4 1492.6,1154.0 1492.8,1218.4 1492.9,1163.2 1493.0,1200.0 1493.2,1218.4 1493.3,1218.4 1493.5,1218.4 1493.6,1200.0 1493.8,1209.2 1493.9,1163.2 1494.1,1181.6 1494.2,1172.4 1494.3,1172.4 1494.5,1163.2 1494.6,1163.2 1494.8,1200.0 1494.9,1200.0 1495.1,1218.4 1495.2,1218.4 1495.4,1200.0 1495.5,1209.2 1495.6,1218.4 1495.8,1181.6 1495.9,1190.8 1496.1,1172.4 1496.2,1190.8 1496.4,1181.6 1496.5,1209.2 1496.6,1200.0 1496.8,1218.4 1496.9,1227.6 1497.1,1200.0 1497.2,1218.4 1497.4,1163.2 1497.5,1163.2 1497.7,1181.6 1497.8,1218.4 1497.9,1190.8 1498.1,1209.2 1498.2,1200.0 1498.4,1209.2 1498.5,1200.0 1498.7,1218.4 1498.8,1209.2 1499.0,1154.0 1499.1,1172.4 1499.2,1181.6 1499.4,1200.0 1499.5,1218.4 1499.7,1172.4 1499.8,1209.2 1500.0,1200.0 1500.1,1163.2 1500.2,1163.2 1500.4,1163.2 1500.5,1181.6 1500.7,1163.2 1500.8,1209.2 1501.0,1163.2 1501.1,1200.0 1501.3,1209.2 1501.4,1190.8 1501.5,1246.0 1501.7,1154.0 1501.8,1181.6 1502.0,1209.2 1502.1,1154.0 1502.3,1190.8 1502.4,1200.0 1502.6,1190.8 1502.7,1200.0 1502.8,1181.6 1503.0,1154.0 1503.1,1172.4 1503.3,1209.2 1503.4,1172.4 1503.6,1209.2 1503.7,1172.4 1503.8,1190.8 1504.0,1190.8 1504.1,1200.0 1504.3,1209.2 1504.4,1190.8 1504.6,1218.4 1504.7,1172.4 1504.9,1209.2 1505.0,1218.4 1505.1,1154.0 1505.3,1200.0 1505.4,1200.0 1505.6,1172.4 1505.7,1227.6 1505.9,1200.0 1506.0,1181.6 1506.2,1190.8 1506.3,1172.4 1506.4,1190.8 1506.6,1181.6 1506.7,1190.8 1506.9,1190.8 1507.0,1144.8 1507.2,1172.4 1507.3,1200.0 1507.4,1227.6 1507.6,1181.6 1507.7,1172.4 1507.9,1218.4 1508.0,1154.0 1508.2,1227.6 1508.3,1172.4 1508.5,1144.8 1508.6,1172.4 1508.7,1209.2 1508.9,1181.6 1509.0,1190.8 1509.2,1218.4 1509.3,1200.0 1509.5,1163.2 1509.6,1209.2 1509.8,1200.0 1509.9,1227.6 1510.0,1218.4 1510.2,1181.6 1510.3,1172.4 1510.5,1154.0 1510.6,1227.6 1510.8,1163.2 1510.9,1236.8 1511.0,1227.6 1511.2,1209.2 1511.3,1154.0 1511.5,1181.6 1511.6,1200.0 1511.8,1200.0 1511.9,1209.2 1512.1,1172.4 1512.2,1172.4 1512.3,1227.6 1512.5,1172.4 1512.6,1154.0 1512.8,1218.4 1512.9,1181.6 1513.1,1250.0 1513.2,1209.2 1513.4,1209.2 1513.5,1200.0 1513.6,1181.6 1513.8,1227.6 1513.9,1200.0 1514.1,1236.8 1514.2,1200.0 1514.4,1200.0 1514.5,1181.6 1514.6,1190.8 1514.8,1200.0 1514.9,1209.2 1515.1,1200.0 1515.2,1181.6 1515.4,1200.0 1515.5,1163.2 1515.7,1227.6 1515.8,1190.8 1515.9,1154.0 1516.1,1218.4 1516.2,1163.2 1516.4,1190.8 1516.5,1181.6 1516.7,1163.2 1516.8,1218.4 1517.0,1190.8 1517.1,1172.4 1517.2,1181.6 1517.4,1172.4 1517.5,1209.2 1517.7,1163.2 1517.8,1154.0 1518.0,1218.4 1518.1,1200.0 1518.2,1190.8 1518.4,1209.2 1518.5,1181.6 1518.7,1172.4 1518.8,1218.4 1519.0,1190.8 1519.1,1200.0 1519.3,1190.8 1519.4,1190.8 1519.5,1236.8 1519.7,1181.6 1519.8,1218.4 1520.0,1181.6 1520.1,1172.4 1520.3,1227.6 1520.4,1190.8 1520.6,1218.4 1520.7,1218.4 1520.8,1181.6 1521.0,1209.2 1521.1,1172.4 1521.3,1236.8 1521.4,1209.2 1521.6,1200.0 1521.7,1209.2 1521.8,1190.8 1522.0,1218.4 1522.1,1181.6 1522.3,1181.6 1522.4,1200.0 1522.6,1200.0 1522.7,1172.4 1522.9,1181.6 1523.0,1181.6 1523.1,1190.8 1523.3,1144.8 1523.4,1181.6 1523.6,1172.4 1523.7,1227.6 1523.9,1163.2 1524.0,1154.0 1524.2,1200.0 1524.3,1209.2 1524.4,1209.2 1524.6,1190.8 1524.7,1172.4 1524.9,1209.2 1525.0,1172.4 1525.2,1172.4 1525.3,1246.0 1525.4,1209.2 1525.6,1227.6 1525.7,1218.4 1525.9,1218.4 1526.0,1190.8 1526.2,1218.4 1526.3,1209.2 1526.5,1227.6 1526.6,1163.2 1526.7,1154.0 1526.9,1200.0 1527.0,1218.4 1527.2,1200.0 1527.3,1144.8 1527.5,1172.4 1527.6,1236.8 1527.8,1227.6 1527.9,1172.4 1528.0,1181.6 1528.2,1218.4 1528.3,1181.6 1528.5,1154.0 1528.6,1190.8 1528.8,1190.8 1528.9,1236.8 1529.0,1190.8 1529.2,1200.0 1529.3,1209.2 1529.5,1209.2 1529.6,1200.0 1529.8,1190.8 1529.9,1200.0 1530.1,1200.0 1530.2,1190.8 1530.3,1144.8 1530.5,1227.6 1530.6,1181.6 1530.8,1154.0 1530.9,1172.4 1531.1,1200.0 1531.2,1163.2 1531.4,1227.6 1531.5,1200.0 1531.6,1163.2 1531.8,1209.2 1531.9,1163.2 1532.1,1200.0 1532.2,1181.6 1532.4,1218.4 1532.5,1209.2 1532.6,1144.8 1532.8,1190.8 1532.9,1250.0 1533.1,1236.8 1533.2,1200.0 1533.4,1181.6 1533.5,1209.2 1533.7,1218.4 1533.8,1200.0 1533.9,1218.4 1534.1,1181.6 1534.2,1227.6 1534.4,1190.8 1534.5,1163.2 1534.7,1190.8 1534.8,1200.0 1535.0,1181.6 1535.1,1236.8 1535.2,1181.6 1535.4,1200.0 1535.5,1209.2 1535.7,1154.0 1535.8,1209.2 1536.0,1144.8 1536.1,1181.6 1536.2,1108.0 1536.4,1163.2 1536.5,1236.8 1536.7,1200.0 1536.8,1209.2 1537.0,1190.8 1537.1,1200.0 1537.3,1181.6 1537.4,1172.4 1537.5,1209.2 1537.7,1181.6 1537.8,1209.2 1538.0,1227.6 1538.1,1200.0 1538.3,1190.8 1538.4,1200.0 1538.6,1218.4 1538.7,1227.6 1538.8,1218.4 1539.0,1190.8 1539.1,1218.4 1539.3,1181.6 1539.4,1200.0 1539.6,1200.0 1539.7,1172.4 1539.8,1209.2 1540.0,1163.2 1540.1,1236.8 1540.3,1190.8 1540.4,1181.6 1540.6,1163.2 1540.7,1236.8 1540.9,1163.2 1541.0,1209.2 1541.1,1181.6 1541.3,1190.8 1541.4,1190.8 1541.6,1181.6 1541.7,1172.4 1541.9,1200.0 1542.0,1172.4 1542.2,1227.6 1542.3,1144.8 1542.4,1190.8 1542.6,1200.0 1542.7,1209.2 1542.9,1218.4 1543.0,1200.0 1543.2,1163.2 1543.3,1209.2 1543.4,1172.4 1543.6,1181.6 1543.7,1135.6 1543.9,1218.4 1544.0,1209.2 1544.2,1190.8 1544.3,1200.0 1544.5,1190.8 1544.6,1172.4 1544.7,1227.6 1544.9,1154.0 1545.0,1163.2 1545.2,1154.0 1545.3,1209.2 1545.5,1172.4 1545.6,1181.6 1545.8,1227.6 1545.9,1218.4 1546.0,1163.2 1546.2,1144.8 1546.3,1246.0 1546.5,1172.4 1546.6,1181.6 1546.8,1200.0 1546.9,1172.4 1547.0,1163.2 1547.2,1172.4 1547.3,1172.4 1547.5,1181.6 1547.6,1172.4 1547.8,1190.8 1547.9,1190.8 1548.1,1190.8 1548.2,1181.6 1548.3,1227.6 1548.5,1181.6 1548.6,1227.6 1548.8,1163.2 1548.9,1236.8 1549.1,1200.0 1549.2,1135.6 1549.4,1200.0 1549.5,1181.6 1549.6,1200.0 1549.8,1190.8 1549.9,1200.0 1550.1,1181.6 1550.2,1172.4 1550.4,1172.4 1550.5,1135.6 1550.6,1181.6 1550.8,1209.2 1550.9,1218.4 1551.1,1154.0 1551.2,1181.6 1551.4,1181.6 1551.5,1089.6 1551.7,1172.4 1551.8,1172.4 1551.9,1200.0 1552.1,1190.8 1552.2,1200.0 1552.4,1154.0 1552.5,1172.4 1552.7,1181.6 1552.8,1163.2 1553.0,1181.6 1553.1,1144.8 1553.2,1209.2 1553.4,1144.8 1553.5,1209.2 1553.7,1209.2 1553.8,1144.8 1554.0,1218.4 1554.1,1190.8 1554.2,1218.4 1554.4,1200.0 1554.5,1200.0 1554.7,1154.0 1554.8,1218.4 1555.0,1163.2 1555.1,1163.2 1555.3,1172.4 1555.4,1190.8 1555.5,1172.4 1555.7,1144.8 1555.8,1181.6 1556.0,1190.8 1556.1,1172.4 1556.3,1172.4 1556.4,1200.0 1556.6,1144.8 1556.7,1200.0 1556.8,1200.0 1557.0,1218.4 1557.1,1172.4 1557.3,1144.8 1557.4,1144.8 1557.6,1227.6 1557.7,1181.6 1557.8,1218.4 1558.0,1144.8 1558.1,1154.0 1558.3,1172.4 1558.4,1181.6 1558.6,1172.4 1558.7,1144.8 1558.9,1190.8 1559.0,1154.0 1559.1,1227.6 1559.3,1200.0 1559.4,1209.2 1559.6,1181.6 1559.7,1236.8 1559.9,1190.8 1560.0,1200.0 1560.2,1200.0 1560.3,1218.4 1560.4,1209.2 1560.6,1135.6 1560.7,1218.4 1560.9,1209.2 1561.0,1172.4 1561.2,1209.2 1561.3,1190.8 1561.4,1190.8 1561.6,1209.2 1561.7,1154.0 1561.9,1154.0 1562.0,1209.2 1562.2,1163.2 1562.3,1190.8 1562.5,1172.4 1562.6,1200.0 1562.7,1209.2 1562.9,1200.0 1563.0,1041.0 1563.2,1181.6 1563.3,1172.4 1563.5,1209.2 1563.6,1209.2 1563.8,1227.6 1563.9,1154.0 1564.0,1144.8 1564.2,1200.0 1564.3,1154.0 1564.5,1181.6 1564.6,1181.6 1564.8,1190.8 1564.9,1190.8 1565.0,1218.4 1565.2,1181.6 1565.3,1172.4 1565.5,1144.8 1565.6,1200.0 1565.8,1172.4 1565.9,1144.8 1566.1,1163.2 1566.2,1200.0 1566.3,1190.8 1566.5,1172.4 1566.6,1144.8 1566.8,1190.8 1566.9,1154.0 1567.1,1163.2 1567.2,1071.2 1567.4,1144.8 1567.5,1190.8 1567.6,1209.2 1567.8,1200.0 1567.9,1163.2 1568.1,1172.4 1568.2,1181.6 1568.4,1163.2 1568.5,1172.4 1568.6,1190.8 1568.8,1227.6 1568.9,1200.0 1569.1,1181.6 1569.2,1209.2 1569.4,1190.8 1569.5,1236.8 1569.7,1144.8 1569.8,1200.0 1569.9,1209.2 1570.1,1181.6 1570.2,1209.2 1570.4,1163.2 1570.5,1218.4 1570.7,1218.4 1570.8,1154.0 1571.0,1144.8 1571.1,1200.0 1571.2,1227.6 1571.4,1181.6 1571.5,1209.2 1571.7,1209.2 1571.8,1209.2 1572.0,1181.6 1572.1,1163.2 1572.2,1172.4 1572.4,1190.8 1572.5,1200.0 1572.7,1154.0 1572.8,1172.4 1573.0,1172.4 1573.1,1218.4 1573.3,1209.2 1573.4,1236.8 1573.5,1181.6 1573.7,1227.6 1573.8,1135.6 1574.0,1172.4 1574.1,1209.2 1574.3,1190.8 1574.4,1163.2 1574.6,1163.2 1574.7,1135.6 1574.8,1200.0 1575.0,1163.2 1575.1,1200.0 1575.3,1135.6 1575.4,1227.6 1575.6,1181.6 1575.7,1209.2 1575.8,1200.0 1576.0,1218.4 1576.1,1181.6 1576.3,1218.4 1576.4,1144.8 1576.6,1144.8 1576.7,1144.8 1576.9,1200.0 1577.0,1163.2 1577.1,1209.2 1577.3,1190.8 1577.4,1200.0 1577.6,1163.2 1577.7,1190.8 1577.9,1172.4 1578.0,1227.6 1578.2,1190.8 1578.3,1135.6 1578.4,1209.2 1578.6,1181.6 1578.7,1135.6 1578.9,1172.4 1579.0,1181.6 1579.2,1172.4 1579.3,1181.6 1579.4,1190.8 1579.6,1144.8 1579.7,1172.4 1579.9,1144.8 1580.0,1172.4 1580.2,1135.6 1580.3,1200.0 1580.5,1172.4 1580.6,1209.2 1580.7,1209.2 1580.9,1209.2 1581.0,1200.0 1581.2,1246.0 1581.3,1154.0 1581.5,1144.8 1581.6,1209.2 1581.8,1218.4 1581.9,1181.6 1582.0,1200.0 1582.2,1209.2 1582.3,1181.6 1582.5,1218.4 1582.6,1163.2 1582.8,1218.4 1582.9,1209.2 1583.0,1172.4 1583.2,1227.6 1583.3,1181.6 1583.5,1218.4 1583.6,1144.8 1583.8,1172.4 1583.9,1181.6 1584.1,1200.0 1584.2,1227.6 1584.3,1200.0 1584.5,1181.6 1584.6,1200.0 1584.8,1218.4 1584.9,1181.6 1585.1,1209.2 1585.2,1200.0 1585.4,1172.4 1585.5,1209.2 1585.6,1144.8 1585.8,1172.4 1585.9,1190.8 1586.1,1190.8 1586.2,1190.8 1586.4,1190.8 1586.5,1190.8 1586.6,1218.4 1586.8,1218.4 1586.9,1209.2 1587.1,1227.6 1587.2,1181.6 1587.4,1144.8 1587.5,1218.4 1587.7,1154.0 1587.8,1209.2 1587.9,1250.0 1588.1,1218.4 1588.2,1144.8 1588.4,1163.2 1588.5,1163.2 1588.7,1181.6 1588.8,1172.4 1589.0,1190.8 1589.1,1200.0 1589.2,1154.0 1589.4,1172.4 1589.5,1154.0 1589.7,1163.2 1589.8,1154.0 1590.0,1068.0 1590.1,1218.4 1590.2,1172.4 1590.4,1218.4 1590.5,1200.0 1590.7,1154.0 1590.8,1236.8 1591.0,1236.8 1591.1,1209.2 1591.3,1209.2 1591.4,1190.8 1591.5,1154.0 1591.7,1154.0 1591.8,1190.8 1592.0,1172.4 1592.1,1190.8 1592.3,1190.8 1592.4,1190.8 1592.6,1190.8 1592.7,1172.4 1592.8,1144.8 1593.0,1181.6 1593.1,1190.8 1593.3,1209.2 1593.4,1236.8 1593.6,1163.2 1593.7,1190.8 1593.8,1236.8 1594.0,1209.2 1594.1,1218.4 1594.3,1227.6 1594.4,1135.6 1594.6,1154.0 1594.7,1172.4 1594.9,1227.6 1595.0,1227.6 1595.1,1200.0 1595.3,1209.2 1595.4,1200.0 1595.6,1163.2 1595.7,1144.8 1595.9,1172.4 1596.0,1163.2 1596.2,1209.2 1596.3,1181.6 1596.4,1135.6 1596.6,1200.0 1596.7,1154.0 1596.9,1200.0 1597.0,1190.8 1597.2,1190.8 1597.3,1190.8 1597.4,1154.0 1597.6,1181.6 1597.7,1227.6 1597.9,1190.8 1598.0,1200.0 1598.2,1172.4 1598.3,1200.0 1598.5,1154.0 1598.6,1181.6 1598.7,1209.2 1598.9,1154.0 1599.0,1209.2 1599.2,1190.8 1599.3,1172.4 1599.5,1227.6 1599.6,1154.0 1599.8,1154.0 1599.9,1154.0 1600.0,1172.4 1600.2,1154.0 1600.3,1190.8 1600.5,1172.4 1600.6,1181.6 1600.8,1181.6 1600.9,1236.8 1601.0,1209.2 1601.2,1218.4 1601.3,1218.4 1601.5,1236.8 1601.6,1200.0 1601.8,1200.0 1601.9,1227.6 1602.1,1209.2 1602.2,1181.6 1602.3,1181.6 1602.5,1227.6 1602.6,1200.0 1602.8,1172.4 1602.9,1190.8 1603.1,1154.0 1603.2,1227.6 1603.4,1218.4 1603.5,1227.6 1603.6,1200.0 1603.8,1209.2 1603.9,1209.2 1604.1,1163.2 1604.2,1144.8 1604.4,1218.4 1604.5,1209.2 1604.6,1200.0 1604.8,1218.4 1604.9,1200.0 1605.1,1163.2 1605.2,1227.6 1605.4,1227.6 1605.5,1190.8 1605.7,1227.6 1605.8,1172.4 1605.9,1200.0 1606.1,1181.6 1606.2,1154.0 1606.4,1218.4 1606.5,1200.0 1606.7,1190.8 1606.8,1209.2 1607.0,1209.2 1607.1,1181.6 1607.2,1209.2 1607.4,1163.2 1607.5,1190.8 1607.7,1163.2 1607.8,1172.4 1608.0,1200.0 1608.1,1163.2 1608.2,1227.6 1608.4,1200.0 1608.5,1181.6 1608.7,1181.6 1608.8,1209.2 1609.0,1144.8 1609.1,1190.8 1609.3,1227.6 1609.4,1200.0 1609.5,1135.6 1609.7,1218.4 1609.8,1209.2 1610.0,1218.4 1610.1,1190.8 1610.3,1190.8 1610.4,1190.8 1610.6,1209.2 1610.7,1236.8 1610.8,1209.2 1611.0,1218.4 1611.1,1218.4 1611.3,1209.2 1611.4,1172.4 1611.6,1236.8 1611.7,1144.8 1611.8,1190.8 1612.0,1154.0 1612.1,1200.0 1612.3,1209.2 1612.4,1200.0 1612.6,1209.2 1612.7,1163.2 1612.9,1181.6 1613.0,1181.6 1613.1,1181.6 1613.3,1227.6 1613.4,1227.6 1613.6,1181.6 1613.7,1190.8 1613.9,1181.6 1614.0,1154.0 1614.2,1227.6 1614.3,1190.8 1614.4,1181.6 1614.6,1218.4 1614.7,1181.6 1614.9,1227.6 1615.0,1200.0 1615.2,1190.8 1615.3,1172.4 1615.4,1181.6 1615.6,1218.4 1615.7,1209.2 1615.9,1227.6 1616.0,1218.4 1616.2,1227.6 1616.3,1227.6 1616.5,1190.8 1616.6,1172.4 1616.7,1250.0 1616.9,1144.8 1617.0,1236.8 1617.2,1200.0 1617.3,1236.8 1617.5,1209.2 1617.6,1154.0 1617.8,1154.0 1617.9,1209.2 1618.0,1163.2 1618.2,1172.4 1618.3,1218.4 1618.5,1154.0 1618.6,1227.6 1618.8,1144.8 1618.9,1200.0 1619.0,1227.6 1619.2,1154.0 1619.3,1181.6 1619.5,1209.2 1619.6,1209.2 1619.8,1181.6 1619.9,1218.4 1620.1,1154.0 1620.2,1163.2 1620.3,1190.8 1620.5,1200.0 1620.6,1154.0 1620.8,1227.6 1620.9,1190.8 1621.1,1200.0 1621.2,1227.6 1621.4,1209.2 1621.5,1227.6 1621.6,1172.4 1621.8,1218.4 1621.9,1236.8 1622.1,1181.6 1622.2,1190.8 1622.4,1218.4 1622.5,1172.4 1622.6,1163.2 1622.8,1154.0 1622.9,1190.8 1623.1,1200.0 1623.2,1218.4 1623.4,1209.2 1623.5,1218.4 1623.7,1190.8 1623.8,1209.2 1623.9,1200.0 1624.1,1190.8 1624.2,1163.2 1624.4,1209.2 1624.5,1190.8 1624.7,1144.8 1624.8,1218.4 1625.0,1200.0 1625.1,1200.0 1625.2,1218.4 1625.4,1209.2 1625.5,1098.8 1625.7,1200.0 1625.8,1209.2 1626.0,1209.2 1626.1,1209.2 1626.2,1181.6 1626.4,1172.4 1626.5,1236.8 1626.7,1218.4 1626.8,1181.6 1627.0,1227.6 1627.1,1250.0 1627.3,1181.6 1627.4,1172.4 1627.5,1209.2 1627.7,1172.4 1627.8,1163.2 1628.0,1218.4 1628.1,1227.6 1628.3,1209.2 1628.4,1163.2 1628.6,1236.8 1628.7,1144.8 1628.8,1154.0 1629.0,1172.4 1629.1,1163.2 1629.3,1190.8 1629.4,1218.4 1629.6,1154.0 1629.7,1227.6 1629.8,1227.6 1630.0,1163.2 1630.1,1190.8 1630.3,1181.6 1630.4,1218.4 1630.6,1154.0 1630.7,1163.2 1630.9,1181.6 1631.0,1154.0 1631.1,1209.2 1631.3,1154.0 1631.4,1163.2 1631.6,1200.0 1631.7,1227.6 1631.9,1227.6 1632.0,1163.2 1632.2,1218.4 1632.3,1181.6 1632.4,1172.4 1632.6,1236.8 1632.7,1209.2 1632.9,1200.0 1633.0,1190.8 1633.2,1163.2 1633.3,1163.2 1633.4,1181.6 1633.6,1200.0 1633.7,1209.2 1633.9,1209.2 1634.0,1172.4 1634.2,1218.4 1634.3,1209.2 1634.5,1181.6 1634.6,1236.8 1634.7,1181.6 1634.9,1200.0 1635.0,1227.6 1635.2,1200.0 1635.3,1200.0 1635.5,1172.4 1635.6,1209.2 1635.8,1209.2 1635.9,1190.8 1636.0,1190.8 1636.2,1200.0 1636.3,1190.8 1636.5,1200.0 1636.6,1218.4 1636.8,1209.2 1636.9,1181.6 1637.0,1218.4 1637.2,1163.2 1637.3,1236.8 1637.5,1236.8 1637.6,1172.4 1637.8,1250.0 1637.9,1172.4 1638.1,1209.2 1638.2,1190.8 1638.3,1172.4 1638.5,1163.2 1638.6,1227.6 1638.8,1190.8 1638.9,1200.0 1639.1,1227.6 1639.2,1209.2 1639.4,1227.6 1639.5,1200.0 1639.6,1227.6 1639.8,1218.4 1639.9,1181.6 1640.1,1181.6 1640.2,1190.8 1640.4,1200.0 1640.5,1227.6 1640.6,1163.2 1640.8,1172.4 1640.9,1172.4 1641.1,1218.4 1641.2,1190.8 1641.4,1236.8 1641.5,1218.4 1641.7,1172.4 1641.8,1181.6 1641.9,1209.2 1642.1,1227.6 1642.2,1163.2 1642.4,1200.0 1642.5,1227.6 1642.7,1181.6 1642.8,1200.0 1643.0,1218.4 1643.1,1200.0 1643.2,1218.4 1643.4,1218.4 1643.5,1209.2 1643.7,1172.4 1643.8,1190.8 1644.0,1200.0 1644.1,1218.4 1644.2,1218.4 1644.4,1190.8 1644.5,1172.4 1644.7,1163.2 1644.8,1190.8 1645.0,1172.4 1645.1,1218.4 1645.3,1209.2 1645.4,1218.4 1645.5,1172.4 1645.7,1190.8 1645.8,1209.2 1646.0,1190.8 1646.1,1218.4 1646.3,1218.4 1646.4,1218.4 1646.6,1218.4 1646.7,1190.8 1646.8,1218.4 1647.0,1218.4 1647.1,1218.4 1647.3,1218.4 1647.4,1200.0 1647.6,1209.2 1647.7,1209.2 1647.8,1209.2 1648.0,1163.2 1648.1,1209.2 1648.3,1218.4 1648.4,1209.2 1648.6,1209.2 1648.7,1181.6 1648.9,1200.0 1649.0,1181.6 1649.1,1181.6 1649.3,1172.4 1649.4,1181.6 1649.6,1227.6 1649.7,1209.2 1649.9,1218.4 1650.0,1227.6 1650.2,1200.0 1650.3,1218.4 1650.4,1227.6 1650.6,1209.2 1650.7,1209.2 1650.9,1200.0 1651.0,1209.2 1651.2,1200.0 1651.3,1200.0 1651.4,1209.2 1651.6,1200.0 1651.7,1172.4 1651.9,1200.0 1652.0,1236.8 1652.2,1190.8 1652.3,1227.6 1652.5,1227.6 1652.6,1190.8 1652.7,1181.6 1652.9,1200.0 1653.0,1227.6 1653.2,1190.8 1653.3,1218.4 1653.5,1190.8 1653.6,1172.4 1653.8,1200.0 1653.9,1236.8 1654.0,1218.4 1654.2,1218.4 1654.3,1181.6 1654.5,1200.0 1654.6,1200.0 1654.8,1227.6 1654.9,1227.6 1655.0,1190.8 1655.2,1218.4 1655.3,1218.4 1655.5,1200.0 1655.6,1190.8 1655.8,1209.2 1655.9,1209.2 1656.1,1209.2 1656.2,1172.4 1656.3,1209.2 1656.5,1172.4 1656.6,1190.8 1656.8,1190.8 1656.9,1181.6 1657.1,1181.6 1657.2,1227.6 1657.4,1227.6 1657.5,1227.6 1657.6,1200.0 1657.8,1190.8 1657.9,1172.4 1658.1,1209.2 1658.2,1236.8 1658.4,1190.8 1658.5,1200.0 1658.6,1181.6 1658.8,1209.2 1658.9,1209.2 1659.1,1218.4 1659.2,1209.2 1659.4,1227.6 1659.5,1200.0 1659.7,1218.4 1659.8,1200.0 1659.9,1200.0 1660.1,1227.6 1660.2,1172.4 1660.4,1190.8 1660.5,1218.4 1660.7,1227.6 1660.8,1181.6 1661.0,1227.6 1661.1,1190.8 1661.2,1190.8 1661.4,1190.8 1661.5,1236.8 1661.7,1200.0 1661.8,1172.4 1662.0,1218.4 1662.1,1227.6 1662.2,1218.4 1662.4,1172.4 1662.5,1227.6 1662.7,1172.4 1662.8,1154.0 1663.0,1227.6 1663.1,1200.0 1663.3,1227.6 1663.4,1181.6 1663.5,1181.6 1663.7,1209.2 1663.8,1181.6 1664.0,1172.4 1664.1,1218.4 1664.3,1236.8 1664.4,1236.8 1664.6,1200.0 1664.7,1172.4 1664.8,1227.6 1665.0,1209.2 1665.1,1190.8 1665.3,1227.6 1665.4,1227.6 1665.6,1209.2 1665.7,1236.8 1665.8,1227.6 1666.0,1218.4 1666.1,1218.4 1666.3,1209.2 1666.4,1218.4 1666.6,1227.6 1666.7,1209.2 1666.9,1163.2 1667.0,1227.6 1667.1,1181.6 1667.3,1209.2 1667.4,1209.2 1667.6,1250.0 1667.7,1200.0 1667.9,1181.6 1668.0,1181.6 1668.2,1209.2 1668.3,1218.4 1668.4,1172.4 1668.6,1218.4 1668.7,1209.2 1668.9,1218.4 1669.0,1200.0 1669.2,1209.2 1669.3,1181.6 1669.4,1227.6 1669.6,1172.4 1669.7,1209.2 1669.9,1209.2 1670.0,1236.8 1670.2,1200.0 1670.3,1181.6 1670.5,1218.4 1670.6,1181.6 1670.7,1172.4 1670.9,1190.8 1671.0,1227.6 1671.2,1209.2 1671.3,1209.2 1671.5,1218.4 1671.6,1218.4 1671.8,1200.0 1671.9,1200.0 1672.0,1227.6 1672.2,1209.2 1672.3,1190.8 1672.5,1200.0 1672.6,1227.6 1672.8,1200.0 1672.9,1218.4 1673.0,1190.8 1673.2,1181.6 1673.3,1218.4 1673.5,1190.8 1673.6,1190.8 1673.8,1227.6 1673.9,1209.2 1674.1,1087.0 1674.2,1200.0 1674.3,1181.6 1674.5,1200.0 1674.6,1172.4 1674.8,1209.2 1674.9,1181.6 1675.1,1227.6 1675.2,1200.0 1675.4,1218.4 1675.5,1200.0 1675.6,1218.4 1675.8,1227.6 1675.9,1209.2 1676.1,1209.2 1676.2,1190.8 1676.4,1163.2 1676.5,1218.4 1676.6,1227.6 1676.8,1209.2 1676.9,1218.4 1677.1,1190.8 1677.2,1227.6 1677.4,1227.6 1677.5,1181.6 1677.7,1218.4 1677.8,1218.4 1677.9,1227.6 1678.1,1200.0 1678.2,1218.4 1678.4,1200.0 1678.5,1218.4 1678.7,1209.2 1678.8,1190.8 1679.0,1200.0 1679.1,1190.8 1679.2,1190.8 1679.4,1218.4 1679.5,1190.8 1679.7,1190.8 1679.8,1218.4 1680.0,1218.4 1680.1,1227.6 1680.2,1200.0 1680.4,1190.8 1680.5,1227.6 1680.7,1209.2 1680.8,1209.2 1681.0,1200.0 1681.1,1218.4 1681.3,1200.0 1681.4,1236.8 1681.5,1218.4 1681.7,1236.8 1681.8,1181.6 1682.0,1236.8 1682.1,1200.0 1682.3,1209.2 1682.4,1209.2 1682.6,1227.6 1682.7,1218.4 1682.8,1236.8 1683.0,1227.6 1683.1,1200.0 1683.3,1181.6 1683.4,1227.6 1683.6,1227.6 1683.7,1190.8 1683.8,1218.4 1684.0,1218.4 1684.1,1200.0 1684.3,1190.8 1684.4,1227.6 1684.6,1218.4 1684.7,1190.8 1684.9,1209.2 1685.0,1200.0 1685.1,1190.8 1685.3,1227.6 1685.4,1200.0 1685.6,1227.6 1685.7,1190.8 1685.9,1190.8 1686.0,1181.6 1686.2,1227.6 1686.3,1209.2 1686.4,1200.0 1686.6,1218.4 1686.7,1200.0 1686.9,1218.4 1687.0,1181.6 1687.2,1227.6 1687.3,1227.6 1687.4,1181.6 1687.6,1200.0 1687.7,1172.4 1687.9,1209.2 1688.0,1218.4 1688.2,1218.4 1688.3,1200.0 1688.5,1209.2 1688.6,1181.6 1688.7,1209.2 1688.9,1227.6 1689.0,1200.0 1689.2,1172.4 1689.3,1181.6 1689.5,1209.2 1689.6,1209.2 1689.8,1200.0 1689.9,1218.4 1690.0,1227.6 1690.2,1236.8 1690.3,1172.4 1690.5,1181.6 1690.6,1236.8 1690.8,1218.4 1690.9,1190.8 1691.0,1172.4 1691.2,1227.6 1691.3,1218.4 1691.5,1200.0 1691.6,1209.2 1691.8,1209.2 1691.9,1227.6 1692.1,1190.8 1692.2,1227.6 1692.3,1227.6 1692.5,1181.6 1692.6,1227.6 1692.8,1163.2 1692.9,1181.6 1693.1,1236.8 1693.2,1218.4 1693.4,1181.6 1693.5,1227.6 1693.6,1200.0 1693.8,1218.4 1693.9,1200.0 1694.1,1227.6 1694.2,1163.2 1694.4,1236.8 1694.5,1154.0 1694.6,1209.2 1694.8,1190.8 1694.9,1163.2 1695.1,1172.4 1695.2,1190.8 1695.4,1209.2 1695.5,1163.2 1695.7,1218.4 1695.8,1227.6 1695.9,1190.8 1696.1,1218.4 1696.2,1190.8 1696.4,1163.2 1696.5,1190.8 1696.7,1209.2 1696.8,1172.4 1697.0,1209.2 1697.1,1209.2 1697.2,1181.6 1697.4,1227.6 1697.5,1163.2 1697.7,1200.0 1697.8,1190.8 1698.0,1181.6 1698.1,1154.0 1698.2,1172.4 1698.4,1172.4 1698.5,1218.4 1698.7,1209.2 1698.8,1181.6 1699.0,1154.0 1699.1,1200.0 1699.3,1200.0 1699.4,1144.8 1699.5,1209.2 1699.7,1218.4 1699.8,1218.4 1700.0,1181.6 1700.1,1200.0 1700.3,1200.0 1700.4,1227.6 1700.6,1218.4 1700.7,1209.2 1700.8,1209.2 1701.0,1172.4 1701.1,1154.0 1701.3,1190.8 1701.4,1181.6 1701.6,1190.8 1701.7,1209.2 1701.8,1190.8 1702.0,1209.2 1702.1,1227.6 1702.3,1163.2 1702.4,1154.0 1702.6,1200.0 1702.7,1200.0 1702.9,1181.6 1703.0,1190.8 1703.1,1172.4 1703.3,1190.8 1703.4,1154.0 1703.6,1209.2 1703.7,1227.6 1703.9,1181.6 1704.0,1209.2 1704.2,1181.6 1704.3,1218.4 1704.4,1154.0 1704.6,1227.6 1704.7,1209.2 1704.9,1190.8 1705.0,1200.0 1705.2,1227.6 1705.3,1190.8 1705.4,1200.0 1705.6,1209.2 1705.7,1209.2 1705.9,1154.0 1706.0,1172.4 1706.2,1144.8 1706.3,1163.2 1706.5,1200.0 1706.6,1190.8 1706.7,1190.8 1706.9,1154.0 1707.0,1190.8 1707.2,1200.0 1707.3,1209.2 1707.5,1190.8 1707.6,1218.4 1707.8,1144.8 1707.9,1200.0 1708.0,1227.6 1708.2,1227.6 1708.3,1154.0 1708.5,1135.6 1708.6,1144.8 1708.8,1209.2 1708.9,1163.2 1709.0,1200.0 1709.2,1154.0 1709.3,1172.4 1709.5,1200.0 1709.6,1181.6 1709.8,1163.2 1709.9,1181.6 1710.1,1154.0 1710.2,1117.2 1710.3,1181.6 1710.5,1200.0 1710.6,1200.0 1710.8,1163.2 1710.9,1135.6 1711.1,1154.0 1711.2,1172.4 1711.4,1218.4 1711.5,1163.2 1711.6,1154.0 1711.8,1135.6 1711.9,1135.6 1712.1,1209.2 1712.2,1181.6 1712.4,1190.8 1712.5,1154.0 1712.6,1218.4 1712.8,1163.2 1712.9,1172.4 1713.1,1181.6 1713.2,1218.4 1713.4,1190.8 1713.5,1144.8 1713.7,1154.0 1713.8,1154.0 1713.9,1209.2 1714.1,1190.8 1714.2,1181.6 1714.4,1218.4 1714.5,1209.2 1714.7,1218.4 1714.8,1154.0 1715.0,1190.8 1715.1,1190.8 1715.2,1181.6 1715.4,1200.0 1715.5,1181.6 1715.7,1218.4 1715.8,1181.6 1716.0,1218.4 1716.1,1163.2 1716.2,1172.4 1716.4,1200.0 1716.5,1236.8 1716.7,1172.4 1716.8,1190.8 1717.0,1209.2 1717.1,1154.0 1717.3,1209.2 1717.4,1135.6 1717.5,1154.0 1717.7,1126.4 1717.8,1227.6 1718.0,1218.4 1718.1,1190.8 1718.3,1190.8 1718.4,1181.6 1718.6,1209.2 1718.7,1181.6 1718.8,1190.8 1719.0,1218.4 1719.1,1172.4 1719.3,1154.0 1719.4,1154.0 1719.6,1181.6 1719.7,1190.8 1719.8,1190.8 1720.0,1181.6 1720.1,1144.8 1720.3,1181.6 1720.4,1181.6 1720.6,1190.8 1720.7,1181.6 1720.9,1154.0 1721.0,1135.6 1721.1,1126.4 1721.3,1144.8 1721.4,1181.6 1721.6,1126.4 1721.7,1154.0 1721.9,1190.8 1722.0,1163.2 1722.2,1190.8 1722.3,1190.8 1722.4,1126.4 1722.6,1218.4 1722.7,1218.4 1722.9,1190.8 1723.0,1163.2 1723.2,1246.0 1723.3,1172.4 1723.4,1190.8 1723.6,1154.0 1723.7,1108.0 1723.9,1135.6 1724.0,1172.4 1724.2,1135.6 1724.3,1135.6 1724.5,1190.8 1724.6,1117.2 1724.7,1126.4 1724.9,1144.8 1725.0,1154.0 1725.2,1135.6 1725.3,1163.2 1725.5,1108.0 1725.6,1181.6 1725.8,1154.0 1725.9,1144.8 1726.0,1172.4 1726.2,1154.0 1726.3,1154.0 1726.5,1172.4 1726.6,1098.8 1726.8,1144.8 1726.9,1144.8 1727.0,1126.4 1727.2,1163.2 1727.3,1080.4 1727.5,1154.0 1727.6,1154.0 1727.8,1108.0 1727.9,1135.6 1728.1,1144.8 1728.2,1126.4 1728.3,1071.2 1728.5,1047.0 1728.6,1117.2 1728.8,1080.4 1728.9,1126.4 1729.1,1080.4 1729.2,1071.2 1729.4,1098.8 1729.5,1062.0 1729.6,1062.0 1729.8,1062.0 1729.9,1047.0 1730.1,1047.0 1730.2,1062.0 1730.4,1098.8 1730.5,1062.0 1730.6,1047.0 1730.8,1089.6 1730.9,1071.2 1731.1,1071.2 1731.2,1089.6 1731.4,1047.0 1731.5,1047.0 1731.7,1062.0 1731.8,1052.8 1731.9,1047.0 1732.1,1052.8 1732.2,1062.0 1732.4,1071.2 1732.5,1098.8 1732.7,1047.0 1732.8,1062.0 1733.0,1071.2 1733.1,1080.4 1733.2,1071.2 1733.4,1047.0 1733.5,1047.0 1733.7,1089.6 1733.8,1047.0 1734.0,1117.2 1734.1,1117.2 1734.2,1062.0 1734.4,1098.8 1734.5,1098.8 1734.7,1052.8 1734.8,1052.8 1735.0,1071.2 1735.1,1062.0 1735.3,1080.4 1735.4,1144.8 1735.5,1117.2 1735.7,1126.4 1735.8,1108.0 1736.0,1144.8 1736.1,1117.2 1736.3,1135.6 1736.4,1108.0 1736.6,1163.2 1736.7,1144.8 1736.8,1135.6 1737.0,1117.2 1737.1,1172.4 1737.3,1144.8 1737.4,1144.8 1737.6,1163.2 1737.7,1163.2 1737.8,1172.4 1738.0,1135.6 1738.1,1172.4 1738.3,1117.2 1738.4,1144.8 1738.6,1181.6 1738.7,1181.6 1738.9,1154.0 1739.0,1218.4 1739.1,1154.0 1739.3,1200.0 1739.4,1181.6 1739.6,1172.4 1739.7,1163.2 1739.9,1154.0 1740.0,1227.6 1740.2,1163.2 1740.3,1117.2 1740.4,1190.8 1740.6,1172.4 1740.7,1172.4 1740.9,1135.6 1741.0,1227.6 1741.2,1181.6 1741.3,1200.0 1741.4,1181.6 1741.6,1227.6 1741.7,1190.8 1741.9,1200.0 1742.0,1190.8 1742.2,1135.6 1742.3,1209.2 1742.5,1218.4 1742.6,1181.6 1742.7,1218.4 1742.9,1163.2 1743.0,1190.8 1743.2,1190.8 1743.3,1190.8 1743.5,1200.0 1743.6,1172.4 1743.8,1190.8 1743.9,1181.6 1744.0,1209.2 1744.2,1181.6 1744.3,1154.0 1744.5,1218.4 1744.6,1135.6 1744.8,1163.2 1744.9,1190.8 1745.0,1144.8 1745.2,1144.8 1745.3,1172.4 1745.5,1181.6 1745.6,1227.6 1745.8,1246.0 1745.9,1135.6 1746.1,1218.4 1746.2,1144.8 1746.3,1181.6 1746.5,1227.6 1746.6,1218.4 1746.8,1154.0 1746.9,1190.8 1747.1,1135.6 1747.2,1181.6 1747.4,1163.2 1747.5,1200.0 1747.6,1190.8 1747.8,1190.8 1747.9,1181.6 1748.1,1227.6 1748.2,1227.6 1748.4,1227.6 1748.5,1172.4 1748.6,1209.2 1748.8,1190.8 1748.9,1200.0 1749.1,1200.0 1749.2,1200.0 1749.4,1209.2 1749.5,1154.0 1749.7,1181.6 1749.8,1190.8 1749.9,1131.0 1750.1,1200.0 1750.2,1200.0 1750.4,1209.2 1750.5,1209.2 1750.7,1172.4 1750.8,1144.8 1751.0,1209.2 1751.1,1209.2 1751.2,1200.0 1751.4,1218.4 1751.5,1218.4 1751.7,1163.2 1751.8,1190.8 1752.0,1172.4 1752.1,1200.0 1752.2,1218.4 1752.4,1154.0 1752.5,1200.0 1752.7,1209.2 1752.8,1181.6 1753.0,1172.4 1753.1,1154.0 1753.3,1172.4 1753.4,1200.0 1753.5,1209.2 1753.7,1190.8 1753.8,1209.2 1754.0,1200.0 1754.1,1200.0 1754.3,1190.8 1754.4,1144.8 1754.6,1172.4 1754.7,1209.2 1754.8,1209.2 1755.0,1218.4 1755.1,1218.4 1755.3,1181.6 1755.4,1172.4 1755.6,1209.2 1755.7,1190.8 1755.8,1163.2 1756.0,1209.2 1756.1,1181.6 1756.3,1209.2 1756.4,1172.4 1756.6,1181.6 1756.7,1209.2 1756.9,1172.4 1757.0,1218.4 1757.1,1218.4 1757.3,1209.2 1757.4,1190.8 1757.6,1190.8 1757.7,1181.6 1757.9,1181.6 1758.0,1200.0 1758.2,1200.0 1758.3,1218.4 1758.4,1163.2 1758.6,1218.4 1758.7,1209.2 1758.9,1181.6 1759.0,1181.6 1759.2,1172.4 1759.3,1218.4 1759.4,1190.8 1759.6,1209.2 1759.7,1209.2 1759.9,1154.0 1760.0,1190.8 1760.2,1172.4 1760.3,1227.6 1760.5,1218.4 1760.6,1181.6 1760.7,1209.2 1760.9,1154.0 1761.0,1172.4 1761.2,1227.6 1761.3,1172.4 1761.5,1172.4 1761.6,1154.0 1761.8,1218.4 1761.9,1181.6 1762.0,1172.4 1762.2,1190.8 1762.3,1218.4 1762.5,1172.4 1762.6,1200.0 1762.8,1209.2 1762.9,1209.2 1763.0,1227.6 1763.2,1209.2 1763.3,1190.8 1763.5,1218.4 1763.6,1190.8 1763.8,1209.2 1763.9,1209.2 1764.1,1181.6 1764.2,1218.4 1764.3,1190.8 1764.5,1190.8 1764.6,1209.2 1764.8,1218.4 1764.9,1227.6 1765.1,1218.4 1765.2,1209.2 1765.4,1209.2 1765.5,1181.6 1765.6,1181.6 1765.8,1154.0 1765.9,1200.0 1766.1,1200.0 1766.2,1181.6 1766.4,1154.0 1766.5,1181.6 1766.6,1209.2 1766.8,1209.2 1766.9,1227.6 1767.1,1209.2 1767.2,1200.0 1767.4,1181.6 1767.5,1181.6 1767.7,1227.6 1767.8,1163.2 1767.9,1209.2 1768.1,1190.8 1768.2,1163.2 1768.4,1163.2 1768.5,1154.0 1768.7,1181.6 1768.8,1163.2 1769.0,1181.6 1769.1,1227.6 1769.2,1209.2 1769.4,1163.2 1769.5,1181.6 1769.7,1190.8 1769.8,1181.6 1770.0,1181.6 1770.1,1209.2 1770.2,1172.4 1770.4,1209.2 1770.5,1163.2 1770.7,1209.2 1770.8,1172.4 1771.0,1200.0 1771.1,1181.6 1771.3,1181.6 1771.4,1181.6 1771.5,1190.8 1771.7,1181.6 1771.8,1172.4 1772.0,1190.8 1772.1,1209.2 1772.3,1181.6 1772.4,1190.8 1772.6,1190.8 1772.7,1190.8 1772.8,1154.0 1773.0,1200.0 1773.1,1200.0 1773.3,1181.6 1773.4,1209.2 1773.6,1209.2 1773.7,1227.6 1773.8,1200.0 1774.0,1209.2 1774.1,1181.6 1774.3,1190.8 1774.4,1200.0 1774.6,1200.0 1774.7,1181.6 1774.9,1200.0 1775.0,1181.6 1775.1,1218.4 1775.3,1190.8 1775.4,1163.2 1775.6,1227.6 1775.7,1227.6 1775.9,1200.0 1776.0,1172.4 1776.2,1163.2 1776.3,1190.8 1776.4,1181.6 1776.6,1163.2 1776.7,1181.6 1776.9,1209.2 1777.0,1200.0 1777.2,1227.6 1777.3,1200.0 1777.4,1209.2 1777.6,1200.0 1777.7,1209.2 1777.9,1209.2 1778.0,1200.0 1778.2,1200.0 1778.3,1200.0 1778.5,1200.0 1778.6,1209.2 1778.7,1190.8 1778.9,1190.8 1779.0,1200.0 1779.2,1209.2 1779.3,1218.4 1779.5,1181.6 1779.6,1172.4 1779.8,1181.6 1779.9,1181.6 1780.0,1200.0 1780.2,1181.6 1780.3,1218.4 1780.5,1209.2 1780.6,1227.6 1780.8,1190.8 1780.9,1209.2 1781.0,1181.6 1781.2,1200.0 1781.3,1181.6 1781.5,1209.2 1781.6,1200.0 1781.8,1181.6 1781.9,1218.4 1782.1,1181.6 1782.2,1154.0 1782.3,1181.6 1782.5,1181.6 1782.6,1209.2 1782.8,1209.2 1782.9,1190.8 1783.1,1172.4 1783.2,1209.2 1783.4,1227.6 1783.5,1200.0 1783.6,1218.4 1783.8,1200.0 1783.9,1200.0 1784.1,1190.8 1784.2,1181.6 1784.4,1200.0 1784.5,1200.0 1784.6,1181.6 1784.8,1190.8 1784.9,1190.8 1785.1,1209.2 1785.2,1172.4 1785.4,1181.6 1785.5,1209.2 1785.7,1227.6 1785.8,1190.8 1785.9,1190.8 1786.1,1209.2 1786.2,1227.6 1786.4,1209.2 1786.5,1181.6 1786.7,1218.4 1786.8,1163.2 1787.0,1172.4 1787.1,1218.4 1787.2,1190.8 1787.4,1181.6 1787.5,1227.6 1787.7,1181.6 1787.8,1218.4 1788.0,1181.6 1788.1,1181.6 1788.2,1181.6 1788.4,1218.4 1788.5,1227.6 1788.7,1163.2 1788.8,1209.2 1789.0,1200.0 1789.1,1181.6 1789.3,1218.4 1789.4,1190.8 1789.5,1181.6 1789.7,1209.2 1789.8,1218.4 1790.0,1227.6 1790.1,1200.0 1790.3,1218.4 1790.4,1181.6 1790.6,1209.2 1790.7,1218.4 1790.8,1163.2 1791.0,1190.8 1791.1,1190.8 1791.3,1218.4 1791.4,1209.2 1791.6,1181.6 1791.7,1218.4 1791.8,1209.2 1792.0,1200.0 1792.1,1181.6 1792.3,1200.0 1792.4,1209.2 1792.6,1209.2 1792.7,1218.4 1792.9,1209.2 1793.0,1163.2 1793.1,1181.6 1793.3,1227.6 1793.4,1181.6 1793.6,1218.4 1793.7,1227.6 1793.9,1218.4 1794.0,1163.2 1794.2,1172.4 1794.3,1200.0 1794.4,1200.0 1794.6,1172.4 1794.7,1190.8 1794.9,1144.8 1795.0,1200.0 1795.2,1200.0 1795.3,1218.4 1795.4,1209.2 1795.6,1190.8 1795.7,1190.8 1795.9,1190.8 1796.0,1181.6 1796.2,1181.6 1796.3,1172.4 1796.5,1172.4 1796.6,1163.2 1796.7,1172.4 1796.9,1181.6 1797.0,1209.2 1797.2,1181.6 1797.3,1227.6 1797.5,1163.2 1797.6,1200.0 1797.8,1163.2 1797.9,1200.0 1798.0,1181.6 1798.2,1181.6 1798.3,1227.6 1798.5,1200.0 1798.6,1181.6 1798.8,1209.2 1798.9,1227.6 1799.0,1218.4 1799.2,1181.6 1799.3,1172.4 1799.5,1227.6 1799.6,1227.6 1799.8,1200.0 1799.9,1218.4 1800.1,1181.6 1800.2,1209.2 1800.3,1200.0 1800.5,1218.4 1800.6,1200.0 1800.8,1181.6 1800.9,1181.6 1801.1,1227.6 1801.2,1200.0 1801.4,1181.6 1801.5,1200.0 1801.6,1181.6 1801.8,1209.2 1801.9,1209.2 1802.1,1172.4 1802.2,1172.4 1802.4,1209.2 1802.5,1190.8 1802.6,1209.2 1802.8,1181.6 1802.9,1200.0 1803.1,1209.2 1803.2,1190.8 1803.4,1190.8 1803.5,1200.0 1803.7,1190.8 1803.8,1181.6 1803.9,1218.4 1804.1,1154.0 1804.2,1181.6 1804.4,1200.0 1804.5,1163.2 1804.7,1181.6 1804.8,1172.4 1805.0,1163.2 1805.1,1181.6 1805.2,1181.6 1805.4,1163.2 1805.5,1209.2 1805.7,1200.0 1805.8,1190.8 1806.0,1200.0 1806.1,1181.6 1806.2,1163.2 1806.4,1181.6 1806.5,1172.4 1806.7,1172.4 1806.8,1209.2 1807.0,1209.2 1807.1,1227.6 1807.3,1227.6 1807.4,1209.2 1807.5,1190.8 1807.7,1227.6 1807.8,1181.6 1808.0,1200.0 1808.1,1218.4 1808.3,1181.6 1808.4,1209.2 1808.6,1218.4 1808.7,1172.4 1808.8,1209.2 1809.0,1163.2 1809.1,1181.6 1809.3,1172.4 1809.4,1209.2 1809.6,1209.2 1809.7,1190.8 1809.8,1200.0 1810.0,1209.2 1810.1,1181.6 1810.3,1209.2 1810.4,1190.8 1810.6,1190.8 1810.7,1172.4 1810.9,1172.4 1811.0,1172.4 1811.1,1172.4 1811.3,1181.6 1811.4,1190.8 1811.6,1227.6 1811.7,1209.2 1811.9,1209.2 1812.0,1181.6 1812.2,1200.0 1812.3,1209.2 1812.4,1227.6 1812.6,1209.2 1812.7,1190.8 1812.9,1227.6 1813.0,1209.2 1813.2,1181.6 1813.3,1181.6 1813.4,1181.6 1813.6,1172.4 1813.7,1163.2 1813.9,1190.8 1814.0,1190.8 1814.2,1218.4 1814.3,1227.6 1814.5,1190.8 1814.6,1218.4 1814.7,1190.8 1814.9,1209.2 1815.0,1209.2 1815.2,1209.2 1815.3,1181.6 1815.5,1227.6 1815.6,1172.4 1815.8,1181.6 1815.9,1163.2 1816.0,1209.2 1816.2,1227.6 1816.3,1209.2 1816.5,1209.2 1816.6,1209.2 1816.8,1181.6 1816.9,1181.6 1817.0,1181.6 1817.2,1154.0 1817.3,1181.6 1817.5,1190.8 1817.6,1209.2 1817.8,1209.2 1817.9,1209.2 1818.1,1218.4 1818.2,1190.8 1818.3,1190.8 1818.5,1209.2 1818.6,1200.0 1818.8,1181.6 1818.9,1181.6 1819.1,1181.6 1819.2,1181.6 1819.4,1209.2 1819.5,1200.0 1819.6,1200.0 1819.8,1172.4 1819.9,1209.2 1820.1,1218.4 1820.2,1209.2 1820.4,1200.0 1820.5,1154.0 1820.6,1218.4 1820.8,1181.6 1820.9,1154.0 1821.1,1227.6 1821.2,1200.0 1821.4,1209.2 1821.5,1181.6 1821.7,1209.2 1821.8,1190.8 1821.9,1190.8 1822.1,1218.4 1822.2,1209.2 1822.4,1190.8 1822.5,1163.2 1822.7,1209.2 1822.8,1163.2 1823.0,1218.4 1823.1,1209.2 1823.2,1209.2 1823.4,1209.2 1823.5,1172.4 1823.7,1181.6 1823.8,1190.8 1824.0,1200.0 1824.1,1209.2 1824.2,1181.6 1824.4,1181.6 1824.5,1163.2 1824.7,1181.6 1824.8,1209.2 1825.0,1172.4 1825.1,1200.0 1825.3,1163.2 1825.4,1181.6 1825.5,1181.6 1825.7,1200.0 1825.8,1190.8 1826.0,1209.2 1826.1,1209.2 1826.3,1209.2 1826.4,1190.8 1826.6,1181.6 1826.7,1209.2 1826.8,1200.0 1827.0,1227.6 1827.1,1190.8 1827.3,1163.2 1827.4,1209.2 1827.6,1172.4 1827.7,1209.2 1827.8,1209.2 1828.0,1181.6 1828.1,1218.4 1828.3,1209.2 1828.4,1209.2 1828.6,1181.6 1828.7,1227.6 1828.9,1209.2 1829.0,1181.6 1829.1,1163.2 1829.3,1172.4 1829.4,1181.6 1829.6,1200.0 1829.7,1172.4 1829.9,1200.0 1830.0,1190.8 1830.2,1190.8 1830.3,1190.8 1830.4,1209.2 1830.6,1218.4 1830.7,1172.4 1830.9,1209.2 1831.0,1190.8 1831.2,1181.6 1831.3,1218.4 1831.4,1200.0 1831.6,1209.2 1831.7,1163.2 1831.9,1163.2 1832.0,1190.8 1832.2,1200.0 1832.3,1209.2 1832.5,1181.6 1832.6,1209.2 1832.7,1200.0 1832.9,1181.6 1833.0,1181.6 1833.2,1209.2 1833.3,1200.0 1833.5,1200.0 1833.6,1190.8 1833.8,1200.0 1833.9,1172.4 1834.0,1218.4 1834.2,1190.8 1834.3,1163.2 1834.5,1200.0 1834.6,1200.0 1834.8,1154.0 1834.9,1181.6 1835.0,1227.6 1835.2,1154.0 1835.3,1163.2 1835.5,1172.4 1835.6,1172.4 1835.8,1163.2 1835.9,1218.4 1836.1,1190.8 1836.2,1218.4 1836.3,1172.4 1836.5,1181.6 1836.6,1181.6 1836.8,1181.6 1836.9,1172.4 1837.1,1218.4 1837.2,1172.4 1837.4,1218.4 1837.5,1209.2 1837.6,1218.4 1837.8,1200.0 1837.9,1227.6 1838.1,1190.8 1838.2,1218.4 1838.4,1218.4 1838.5,1190.8 1838.6,1227.6 1838.8,1163.2 1838.9,1200.0 1839.1,1181.6 1839.2,1172.4 1839.4,1200.0 1839.5,1218.4 1839.7,1200.0 1839.8,1200.0 1839.9,1218.4 1840.1,1209.2 1840.2,1126.4 1840.4,1172.4 1840.5,1172.4 1840.7,1218.4 1840.8,1200.0 1841.0,1181.6 1841.1,1218.4 1841.2,1209.2 1841.4,1200.0 1841.5,1200.0 1841.7,1218.4 1841.8,1209.2 1842.0,1163.2 1842.1,1181.6 1842.2,1218.4 1842.4,1209.2 1842.5,1209.2 1842.7,1200.0 1842.8,1181.6 1843.0,1209.2 1843.1,1200.0 1843.3,1209.2 1843.4,1163.2 1843.5,1209.2 1843.7,1181.6 1843.8,1190.8 1844.0,1218.4 1844.1,1227.6 1844.3,1227.6 1844.4,1218.4 1844.6,1200.0 1844.7,1209.2 1844.8,1181.6 1845.0,1218.4 1845.1,1209.2 1845.3,1209.2 1845.4,1209.2 1845.6,1209.2 1845.7,1181.6 1845.8,1200.0 1846.0,1209.2 1846.1,1200.0 1846.3,1209.2 1846.4,1190.8 1846.6,1190.8 1846.7,1227.6 1846.9,1227.6 1847.0,1209.2 1847.1,1209.2 1847.3,1209.2 1847.4,1181.6 1847.6,1172.4 1847.7,1181.6 1847.9,1200.0 1848.0,1200.0 1848.2,1200.0 1848.3,1200.0 1848.4,1209.2 1848.6,1181.6 1848.7,1209.2 1848.9,1172.4 1849.0,1181.6 1849.2,1172.4 1849.3,1190.8 1849.4,1154.0 1849.6,1209.2 1849.7,1209.2 1849.9,1172.4 1850.0,1071.2 1850.2,1144.8 1850.3,1190.8 1850.5,1209.2 1850.6,1181.6 1850.7,1163.2 1850.9,1200.0 1851.0,1209.2 1851.2,1181.6 1851.3,1172.4 1851.5,1209.2 1851.6,1172.4 1851.8,1218.4 1851.9,1209.2 1852.0,1190.8 1852.2,1209.2 1852.3,1181.6 1852.5,1144.8 1852.6,1200.0 1852.8,1250.0 1852.9,1200.0 1853.0,1163.2 1853.2,1172.4 1853.3,1163.2 1853.5,1172.4 1853.6,1172.4 1853.8,1172.4 1853.9,1172.4 1854.1,1163.2 1854.2,1209.2 1854.3,1172.4 1854.5,1172.4 1854.6,1181.6 1854.8,1200.0 1854.9,1172.4 1855.1,1209.2 1855.2,1190.8 1855.4,1209.2 1855.5,1163.2 1855.6,1154.0 1855.8,1190.8 1855.9,1190.8 1856.1,1172.4 1856.2,1190.8 1856.4,1181.6 1856.5,1209.2 1856.6,1154.0 1856.8,1190.8 1856.9,1181.6 1857.1,1209.2 1857.2,1190.8 1857.4,1227.6 1857.5,1209.2 1857.7,1218.4 1857.8,1218.4 1857.9,1190.8 1858.1,1227.6 1858.2,1209.2 1858.4,1227.6 1858.5,1163.2 1858.7,1144.8 1858.8,1181.6 1859.0,1163.2 1859.1,1154.0 1859.2,1163.2 1859.4,1154.0 1859.5,1154.0 1859.7,1200.0 1859.8,1172.4 1860.0,1209.2 1860.1,1209.2 1860.2,1218.4 1860.4,1218.4 1860.5,1227.6 1860.7,1190.8 1860.8,1190.8 1861.0,1200.0 1861.1,1172.4 1861.3,1200.0 1861.4,1181.6 1861.5,1163.2 1861.7,1200.0 1861.8,1227.6 1862.0,1200.0 1862.1,1154.0 1862.3,1200.0 1862.4,1209.2 1862.6,1190.8 1862.7,1172.4 1862.8,1227.6 1863.0,1172.4 1863.1,1172.4 1863.3,1209.2 1863.4,1181.6 1863.6,1209.2 1863.7,1154.0 1863.8,1218.4 1864.0,1190.8 1864.1,1154.0 1864.3,1172.4 1864.4,1200.0 1864.6,1163.2 1864.7,1154.0 1864.9,1209.2 1865.0,1124.0 1865.1,1172.4 1865.3,1200.0 1865.4,1154.0 1865.6,1144.8 1865.7,1200.0 1865.9,1181.6 1866.0,1181.6 1866.2,1190.8 1866.3,1163.2 1866.4,1218.4 1866.6,1144.8 1866.7,1200.0 1866.9,1190.8 1867.0,1190.8 1867.2,1163.2 1867.3,1200.0 1867.4,1172.4 1867.6,1218.4 1867.7,1172.4 1867.9,1209.2 1868.0,1200.0 1868.2,1218.4 1868.3,1209.2 1868.5,1190.8 1868.6,1218.4 1868.7,1163.2 1868.9,1209.2 1869.0,1209.2 1869.2,1209.2 1869.3,1172.4 1869.5,1172.4 1869.6,1218.4 1869.8,1163.2 1869.9,1218.4 1870.0,1163.2 1870.2,1181.6 1870.3,1181.6 1870.5,1172.4 1870.6,1218.4 1870.8,1163.2 1870.9,1154.0 1871.0,1154.0 1871.2,1190.8 1871.3,1250.0 1871.5,1172.4 1871.6,1172.4 1871.8,1190.8 1871.9,1190.8"/><polygon fill="#000" points="802.0,1174.6 802.0,1025.2 802.1,997.6 802.3,1062.0 802.4,924.0 802.6,1052.8 802.7,905.6 802.8,970.0 803.0,942.4 803.1,878.0 803.3,960.8 803.4,914.8 803.6,859.6 803.7,896.4 803.8,740.0 804.0,767.6 804.1,776.8 804.3,786.0 804.4,648.0 804.6,740.0 804.7,675.6 804.9,592.8 805.0,546.8 805.1,629.6 805.3,574.4 805.4,528.4 805.6,427.2 805.7,390.4 805.9,399.6 806.0,436.4 806.2,372.0 806.3,362.8 806.4,372.0 806.6,344.4 806.7,285.0 806.9,298.4 807.0,316.8 807.2,335.2 807.3,335.2 807.4,285.0 807.6,326.0 807.7,285.0 807.9,285.0 808.0,326.0 808.2,326.0 808.3,372.0 808.5,399.6 808.6,344.4 808.7,326.0 808.9,418.0 809.0,381.2 809.2,427.2 809.3,510.0 809.5,500.8 809.6,510.0 809.8,528.4 809.9,565.2 810.0,620.4 810.2,694.0 810.3,703.2 810.5,694.0 810.6,749.2 810.8,712.4 810.9,721.6 811.0,832.0 811.2,813.6 811.3,868.8 811.5,896.4 811.6,878.0 811.8,924.0 811.9,988.4 812.1,942.4 812.2,1043.6 812.3,960.8 812.5,951.6 812.6,960.8 812.8,1052.8 812.9,1025.2 813.1,988.4 813.1,1174.6"/><polygon fill="#000" points="907.4,1175.2 907.4,1089.6 907.5,1117.2 907.7,1016.0 907.8,1006.8 908.0,1089.6 908.1,1034.4 908.2,1016.0 908.4,1062.0 908.5,942.4 908.7,1006.8 908.8,1006.8 909.0,997.6 909.1,933.2 909.3,868.8 909.4,905.6 909.5,868.8 909.7,822.8 909.8,822.8 910.0,795.2 910.1,841.2 910.3,767.6 910.4,832.0 910.6,767.6 910.7,786.0 910.8,681.0 911.0,703.2 911.1,684.8 911.3,681.0 911.4,703.2 911.6,730.8 911.7,684.8 911.8,681.0 912.0,681.0 912.1,730.8 912.3,684.8 912.4,681.0 912.6,684.8 912.7,712.4 912.9,721.6 913.0,712.4 913.1,786.0 913.3,786.0 913.4,804.4 913.6,795.2 913.7,749.2 913.9,832.0 914.0,822.8 914.2,832.0 914.3,905.6 914.4,933.2 914.6,914.8 914.7,960.8 914.9,933.2 915.0,905.6 915.2,988.4 915.3,942.4 915.4,1034.4 915.6,1006.8 915.7,1071.2 915.9,1016.0 916.0,988.4 916.2,1025.2 916.3,1089.6 916.5,1080.4 916.6,1052.8 916.6,1175.2"/><polygon fill="#000" points="963.4,1194.3 963.4,1117.2 963.5,1108.0 963.7,997.6 963.8,1043.6 964.0,1126.4 964.1,988.4 964.3,979.2 964.4,1025.2 964.6,1006.8 964.7,970.0 964.8,970.0 965.0,951.6 965.1,868.8 965.3,859.6 965.4,813.6 965.6,795.2 965.7,850.4 965.8,795.2 966.0,758.4 966.1,767.6 966.3,749.2 966.4,657.2 966.6,684.8 966.7,611.2 966.9,620.4 967.0,565.2 967.1,528.4 967.3,565.2 967.4,546.8 967.6,556.0 967.7,500.8 967.9,418.0 968.0,464.0 968.2,372.0 968.3,436.4 968.4,381.2 968.6,381.2 968.7,372.0 968.9,370.0 969.0,370.0 969.2,427.2 969.3,399.6 969.4,372.0 969.6,370.0 969.7,390.4 969.9,399.6 970.0,445.6 970.2,418.0 970.3,510.0 970.5,491.6 970.6,510.0 970.7,592.8 970.9,537.6 971.0,611.2 971.2,611.2 971.3,638.8 971.5,703.2 971.6,703.2 971.8,684.8 971.9,795.2 972.0,786.0 972.2,749.2 972.3,868.8 972.5,850.4 972.6,850.4 972.8,841.2 972.9,896.4 973.0,896.4 973.2,887.2 973.3,970.0 973.5,970.0 973.6,960.8 973.8,942.4 973.9,1043.6 974.1,1052.8 974.2,1006.8 974.3,1080.4 974.5,1108.0 974.5,1194.3"/><polygon fill="#000" points="1161.5,1216.0 1161.5,1062.0 1161.7,1034.4 1161.8,1098.8 1162.0,1062.0 1162.1,1025.2 1162.3,1016.0 1162.4,1043.6 1162.6,1016.0 1162.7,960.8 1162.8,914.8 1163.0,970.0 1163.1,942.4 1163.3,896.4 1163.4,896.4 1163.6,859.6 1163.7,813.6 1163.8,776.8 1164.0,813.6 1164.1,776.8 1164.3,786.0 1164.4,721.6 1164.6,684.8 1164.7,648.0 1164.9,629.6 1165.0,556.0 1165.1,620.4 1165.3,556.0 1165.4,473.2 1165.6,399.6 1165.7,427.2 1165.9,427.2 1166.0,418.0 1166.2,326.0 1166.3,372.0 1166.4,344.4 1166.6,316.8 1166.7,307.6 1166.9,243.2 1167.0,270.8 1167.2,252.4 1167.3,211.0 1167.4,243.2 1167.6,234.0 1167.7,211.0 1167.9,211.0 1168.0,211.0 1168.2,211.0 1168.3,270.8 1168.5,252.4 1168.6,243.2 1168.7,215.6 1168.9,215.6 1169.0,224.8 1169.2,252.4 1169.3,270.8 1169.5,335.2 1169.6,353.6 1169.8,307.6 1169.9,390.4 1170.0,436.4 1170.2,473.2 1170.3,473.2 1170.5,473.2 1170.6,491.6 1170.8,574.4 1170.9,574.4 1171.0,602.0 1171.2,583.6 1171.3,675.6 1171.5,684.8 1171.6,694.0 1171.8,786.0 1171.9,721.6 1172.1,758.4 1172.2,776.8 1172.3,832.0 1172.5,822.8 1172.6,822.8 1172.8,887.2 1172.9,942.4 1173.1,942.4 1173.2,960.8 1173.4,970.0 1173.5,1025.2 1173.6,1016.0 1173.8,1016.0 1173.9,1052.8 1174.1,1025.2 1174.2,1025.2 1174.4,1062.0 1174.5,1098.8 1174.5,1216.0"/><polygon fill="#000" points="1207.3,1202.6 1207.3,1154.0 1207.5,1154.0 1207.6,1144.8 1207.8,1163.2 1207.9,1126.4 1208.1,1108.0 1208.2,1089.6 1208.3,1098.8 1208.5,1108.0 1208.6,1098.8 1208.8,1117.2 1208.9,1098.8 1209.1,1062.0 1209.2,1062.0 1209.4,1080.4 1209.5,1089.6 1209.6,1080.4 1209.8,1089.6 1209.9,1052.8 1210.1,1080.4 1210.2,1043.6 1210.4,1034.4 1210.5,1032.0 1210.6,1032.0 1210.8,1032.0 1210.9,1032.0 1211.1,1071.2 1211.2,1071.2 1211.4,1032.0 1211.5,1032.0 1211.7,1071.2 1211.8,1034.4 1211.9,1080.4 1212.1,1032.0 1212.2,1089.6 1212.4,1071.2 1212.5,1108.0 1212.7,1080.4 1212.8,1052.8 1213.0,1098.8 1213.1,1108.0 1213.2,1089.6 1213.4,1080.4 1213.5,1126.4 1213.7,1108.0 1213.8,1098.8 1214.0,1163.2 1214.1,1154.0 1214.2,1071.2 1214.4,1172.4 1214.5,1190.8 1214.7,1144.8 1214.7,1202.6"/><polygon fill="#000" points="1307.6,1205.8 1307.6,1190.8 1307.7,1172.4 1307.8,1144.8 1308.0,1117.2 1308.1,1144.8 1308.3,1154.0 1308.4,1163.2 1308.6,1154.0 1308.7,1154.0 1308.9,1117.2 1309.0,1089.6 1309.1,1135.6 1309.3,1135.6 1309.4,1135.6 1309.6,1098.8 1309.7,1062.0 1309.9,1126.4 1310.0,1117.2 1310.2,1108.0 1310.3,1108.0 1310.4,1098.8 1310.6,1089.6 1310.7,1062.0 1310.9,1043.6 1311.0,1052.8 1311.2,1071.2 1311.3,1089.6 1311.4,1043.6 1311.6,1062.0 1311.7,1006.8 1311.9,979.2 1312.0,1025.2 1312.2,1034.4 1312.3,979.2 1312.5,970.0 1312.6,988.4 1312.7,979.2 1312.9,997.6 1313.0,1006.8 1313.2,967.0 1313.3,967.0 1313.5,1043.6 1313.6,997.6 1313.8,967.0 1313.9,967.0 1314.0,967.0 1314.2,967.0 1314.3,967.0 1314.5,967.0 1314.6,979.2 1314.8,988.4 1314.9,967.0 1315.0,967.0 1315.2,967.0 1315.3,970.0 1315.5,967.0 1315.6,1006.8 1315.8,970.0 1315.9,997.6 1316.1,970.0 1316.2,967.0 1316.3,967.0 1316.5,1006.8 1316.6,1006.8 1316.8,979.2 1316.9,997.6 1317.1,1034.4 1317.2,1006.8 1317.4,967.0 1317.5,997.6 1317.6,1052.8 1317.8,1025.2 1317.9,1016.0 1318.1,1034.4 1318.2,1062.0 1318.4,1034.4 1318.5,1025.2 1318.6,1025.2 1318.8,1043.6 1318.9,1098.8 1319.1,1080.4 1319.2,1071.2 1319.4,1098.8 1319.5,1080.4 1319.7,1126.4 1319.8,1108.0 1319.9,1135.6 1320.1,1117.2 1320.2,1108.0 1320.4,1108.0 1320.5,1108.0 1320.7,1144.8 1320.8,1144.8 1321.0,1172.4 1321.1,1126.4 1321.2,1135.6 1321.4,1126.4 1321.5,1154.0 1321.7,1144.8 1321.8,1154.0 1322.0,1135.6 1322.1,1126.4 1322.2,1154.0 1322.4,1172.4 1322.4,1205.8"/><polygon fill="#000" points="1364.0,1207.0 1364.0,1117.2 1364.2,1135.6 1364.3,1108.0 1364.4,1108.0 1364.6,1089.6 1364.7,1135.6 1364.9,1062.0 1365.0,1117.2 1365.2,1080.4 1365.3,1062.0 1365.4,1080.4 1365.6,997.6 1365.7,1025.2 1365.9,1071.2 1366.0,1006.8 1366.2,1052.8 1366.3,997.6 1366.5,951.6 1366.6,942.4 1366.7,933.2 1366.9,942.4 1367.0,942.4 1367.2,905.6 1367.3,905.6 1367.5,905.6 1367.6,914.8 1367.8,795.2 1367.9,878.0 1368.0,868.8 1368.2,804.4 1368.3,813.6 1368.5,850.4 1368.6,804.4 1368.8,776.8 1368.9,758.4 1369.0,749.2 1369.2,767.6 1369.3,767.6 1369.5,747.0 1369.6,776.8 1369.8,767.6 1369.9,767.6 1370.1,747.0 1370.2,776.8 1370.3,776.8 1370.5,749.2 1370.6,747.0 1370.8,767.6 1370.9,776.8 1371.1,813.6 1371.2,795.2 1371.4,804.4 1371.5,776.8 1371.6,832.0 1371.8,868.8 1371.9,878.0 1372.1,832.0 1372.2,868.8 1372.4,859.6 1372.5,933.2 1372.6,887.2 1372.8,905.6 1372.9,896.4 1373.1,970.0 1373.2,960.8 1373.4,997.6 1373.5,924.0 1373.7,979.2 1373.8,1052.8 1373.9,988.4 1374.1,1016.0 1374.2,997.6 1374.4,1052.8 1374.5,1062.0 1374.7,1062.0 1374.8,1043.6 1375.0,1117.2 1375.1,1062.0 1375.2,1117.2 1375.4,1135.6 1375.5,1089.6 1375.7,1117.2 1375.8,1154.0 1376.0,1098.8 1376.0,1207.0"/><polyline fill="none" stroke="#000" stroke-width="4.5" stroke-linejoin="miter" stroke-miterlimit="2" points="571.0,1135.6 571.1,1163.2 571.3,1154.0 571.4,1200.0 571.6,1135.6 571.7,1172.4 571.9,1126.4 572.0,1181.6 572.2,1181.6 572.3,1154.0 572.4,1135.6 572.6,1144.8 572.7,1154.0 572.9,1163.2 573.0,1163.2 573.2,1144.8 573.3,1172.4 573.4,1172.4 573.6,1190.8 573.7,1154.0 573.9,1163.2 574.0,1172.4 574.2,1154.0 574.3,1181.6 574.5,1190.8 574.6,1190.8 574.7,1163.2 574.9,1172.4 575.0,1154.0 575.2,1172.4 575.3,1172.4 575.5,1154.0 575.6,1181.6 575.8,1181.6 575.9,1190.8 576.0,1172.4 576.2,1200.0 576.3,1154.0 576.5,1135.6 576.6,1144.8 576.8,1154.0 576.9,1154.0 577.0,1154.0 577.2,1172.4 577.3,1163.2 577.5,1172.4 577.6,1126.4 577.8,1190.8 577.9,1200.0 578.1,1172.4 578.2,1181.6 578.3,1144.8 578.5,1144.8 578.6,1154.0 578.8,1200.0 578.9,1154.0 579.1,1181.6 579.2,1144.8 579.4,1144.8 579.5,1181.6 579.6,1181.6 579.8,1172.4 579.9,1154.0 580.1,1200.0 580.2,1181.6 580.4,1200.0 580.5,1144.8 580.6,1144.8 580.8,1126.4 580.9,1085.0 581.1,1190.8 581.2,1163.2 581.4,1190.8 581.5,1163.2 581.7,1163.2 581.8,1154.0 581.9,1172.4 582.1,1190.8 582.2,1135.6 582.4,1135.6 582.5,1163.2 582.7,1190.8 582.8,1181.6 583.0,1190.8 583.1,1154.0 583.2,1135.6 583.4,1154.0 583.5,1190.8 583.7,1144.8 583.8,1154.0 584.0,1144.8 584.1,1154.0 584.2,1163.2 584.4,1117.2 584.5,1154.0 584.7,1181.6 584.8,1163.2 585.0,1172.4 585.1,1154.0 585.3,1190.8 585.4,1126.4 585.5,1172.4 585.7,1126.4 585.8,1135.6 586.0,1135.6 586.1,1172.4 586.3,1190.8 586.4,1181.6 586.6,1154.0 586.7,1163.2 586.8,1117.2 587.0,1154.0 587.1,1172.4 587.3,1181.6 587.4,1172.4 587.6,1190.8 587.7,1135.6 587.8,1154.0 588.0,1190.8 588.1,1163.2 588.3,1181.6 588.4,1190.8 588.6,1144.8 588.7,1144.8 588.9,1135.6 589.0,1126.4 589.1,1200.0 589.3,1209.2 589.4,1154.0 589.6,1154.0 589.7,1200.0 589.9,1135.6 590.0,1144.8 590.2,1181.6 590.3,1163.2 590.4,1190.8 590.6,1163.2 590.7,1181.6 590.9,1181.6 591.0,1200.0 591.2,1181.6 591.3,1181.6 591.4,1154.0 591.6,1154.0 591.7,1181.6 591.9,1200.0 592.0,1200.0 592.2,1172.4 592.3,1190.8 592.5,1154.0 592.6,1154.0 592.7,1117.2 592.9,1163.2 593.0,1126.4 593.2,1190.8 593.3,1144.8 593.5,1144.8 593.6,1181.6 593.8,1200.0 593.9,1144.8 594.0,1190.8 594.2,1200.0 594.3,1181.6 594.5,1190.8 594.6,1181.6 594.8,1126.4 594.9,1154.0 595.0,1144.8 595.2,1209.2 595.3,1144.8 595.5,1144.8 595.6,1154.0 595.8,1163.2 595.9,1181.6 596.1,1190.8 596.2,1246.0 596.3,1135.6 596.5,1200.0 596.6,1163.2 596.8,1181.6 596.9,1154.0 597.1,1209.2 597.2,1172.4 597.4,1135.6 597.5,1154.0 597.6,1181.6 597.8,1163.2 597.9,1154.0 598.1,1190.8 598.2,1163.2 598.4,1135.6 598.5,1200.0 598.6,1154.0 598.8,1144.8 598.9,1181.6 599.1,1154.0 599.2,1181.6 599.4,1154.0 599.5,1154.0 599.7,1154.0 599.8,1144.8 599.9,1144.8 600.1,1172.4 600.2,1154.0 600.4,1154.0 600.5,1144.8 600.7,1163.2 600.8,1172.4 601.0,1181.6 601.1,1135.6 601.2,1154.0 601.4,1172.4 601.5,1135.6 601.7,1154.0 601.8,1163.2 602.0,1190.8 602.1,1181.6 602.2,1200.0 602.4,1172.4 602.5,1200.0 602.7,1163.2 602.8,1172.4 603.0,1085.0 603.1,1200.0 603.3,1181.6 603.4,1190.8 603.5,1209.2 603.7,1190.8 603.8,1200.0 604.0,1190.8 604.1,1154.0 604.3,1126.4 604.4,1181.6 604.6,1163.2 604.7,1135.6 604.8,1144.8 605.0,1181.6 605.1,1190.8 605.3,1154.0 605.4,1181.6 605.6,1135.6 605.7,1190.8 605.8,1163.2 606.0,1190.8 606.1,1135.6 606.3,1163.2 606.4,1190.8 606.6,1126.4 606.7,1144.8 606.9,1181.6 607.0,1181.6 607.1,1190.8 607.3,1181.6 607.4,1172.4 607.6,1172.4 607.7,1144.8 607.9,1181.6 608.0,1154.0 608.2,1163.2 608.3,1163.2 608.4,1190.8 608.6,1163.2 608.7,1154.0 608.9,1163.2 609.0,1154.0 609.2,1181.6 609.3,1200.0 609.4,1135.6 609.6,1135.6 609.7,1190.8 609.9,1154.0 610.0,1126.4 610.2,1190.8 610.3,1163.2 610.5,1163.2 610.6,1190.8 610.7,1126.4 610.9,1181.6 611.0,1172.4 611.2,1172.4 611.3,1163.2 611.5,1163.2 611.6,1154.0 611.8,1172.4 611.9,1172.4 612.0,1190.8 612.2,1135.6 612.3,1154.0 612.5,1190.8 612.6,1163.2 612.8,1172.4 612.9,1200.0 613.0,1200.0 613.2,1190.8 613.3,1154.0 613.5,1209.2 613.6,1190.8 613.8,1190.8 613.9,1200.0 614.1,1200.0 614.2,1154.0 614.3,1163.2 614.5,1126.4 614.6,1209.2 614.8,1144.8 614.9,1190.8 615.1,1144.8 615.2,1209.2 615.4,1236.8 615.5,1172.4 615.6,1154.0 615.8,1144.8 615.9,1172.4 616.1,1154.0 616.2,1218.4 616.4,1126.4 616.5,1135.6 616.6,1172.4 616.8,1154.0 616.9,1209.2 617.1,1172.4 617.2,1209.2 617.4,1181.6 617.5,1172.4 617.7,1163.2 617.8,1181.6 617.9,1190.8 618.1,1154.0 618.2,1163.2 618.4,1200.0 618.5,1218.4 618.7,1135.6 618.8,1172.4 619.0,1154.0 619.1,1190.8 619.2,1172.4 619.4,1154.0 619.5,1200.0 619.7,1181.6 619.8,1209.2 620.0,1172.4 620.1,1172.4 620.2,1190.8 620.4,1209.2 620.5,1163.2 620.7,1163.2 620.8,1190.8 621.0,1172.4 621.1,1190.8 621.3,1218.4 621.4,1172.4 621.5,1190.8 621.7,1154.0 621.8,1154.0 622.0,1144.8 622.1,1144.8 622.3,1181.6 622.4,1190.8 622.6,1190.8 622.7,1172.4 622.8,1200.0 623.0,1163.2 623.1,1172.4 623.3,1144.8 623.4,1209.2 623.6,1135.6 623.7,1190.8 623.8,1154.0 624.0,1209.2 624.1,1172.4 624.3,1181.6 624.4,1163.2 624.6,1154.0 624.7,1190.8 624.9,1144.8 625.0,1190.8 625.1,1190.8 625.3,1209.2 625.4,1181.6 625.6,1190.8 625.7,1163.2 625.9,1154.0 626.0,1181.6 626.2,1181.6 626.3,1135.6 626.4,1218.4 626.6,1163.2 626.7,1172.4 626.9,1154.0 627.0,1163.2 627.2,1218.4 627.3,1200.0 627.4,1144.8 627.6,1172.4 627.7,1218.4 627.9,1172.4 628.0,1181.6 628.2,1172.4 628.3,1200.0 628.5,1209.2 628.6,1181.6 628.7,1172.4 628.9,1144.8 629.0,1209.2 629.2,1135.6 629.3,1190.8 629.5,1154.0 629.6,1172.4 629.8,1135.6 629.9,1181.6 630.0,1163.2 630.2,1135.6 630.3,1190.8 630.5,1209.2 630.6,1190.8 630.8,1144.8 630.9,1126.4 631.0,1163.2 631.2,1154.0 631.3,1144.8 631.5,1172.4 631.6,1126.4 631.8,1172.4 631.9,1190.8 632.1,1126.4 632.2,1181.6 632.3,1154.0 632.5,1154.0 632.6,1154.0 632.8,1190.8 632.9,1181.6 633.1,1163.2 633.2,1190.8 633.4,1126.4 633.5,1154.0 633.6,1181.6 633.8,1163.2 633.9,1144.8 634.1,1181.6 634.2,1163.2 634.4,1172.4 634.5,1154.0 634.6,1181.6 634.8,1154.0 634.9,1052.8 635.1,1190.8 635.2,1135.6 635.4,1154.0 635.5,1181.6 635.7,1190.8 635.8,1181.6 635.9,1085.0 636.1,1172.4 636.2,1190.8 636.4,1172.4 636.5,1154.0 636.7,1209.2 636.8,1144.8 637.0,1172.4 637.1,1181.6 637.2,1126.4 637.4,1163.2 637.5,1154.0 637.7,1172.4 637.8,1181.6 638.0,1154.0 638.1,1200.0 638.2,1154.0 638.4,1172.4 638.5,1163.2 638.7,1209.2 638.8,1163.2 639.0,1172.4 639.1,1190.8 639.3,1163.2 639.4,1154.0 639.5,1163.2 639.7,1135.6 639.8,1200.0 640.0,1181.6 640.1,1190.8 640.3,1154.0 640.4,1181.6 640.6,1200.0 640.7,1209.2 640.8,1163.2 641.0,1209.2 641.1,1172.4 641.3,1209.2 641.4,1181.6 641.6,1163.2 641.7,1163.2 641.8,1154.0 642.0,1172.4 642.1,1200.0 642.3,1200.0 642.4,1154.0 642.6,1181.6 642.7,1135.6 642.9,1209.2 643.0,1135.6 643.1,1181.6 643.3,1154.0 643.4,1163.2 643.6,1144.8 643.7,1190.8 643.9,1181.6 644.0,1154.0 644.2,1181.6 644.3,1154.0 644.4,1135.6 644.6,1172.4 644.7,1135.6 644.9,1181.6 645.0,1154.0 645.2,1172.4 645.3,1181.6 645.4,1163.2 645.6,1209.2 645.7,1181.6 645.9,1190.8 646.0,1172.4 646.2,1200.0 646.3,1154.0 646.5,1209.2 646.6,1190.8 646.7,1144.8 646.9,1200.0 647.0,1172.4 647.2,1154.0 647.3,1181.6 647.5,1200.0 647.6,1200.0 647.8,1172.4 647.9,1144.8 648.0,1172.4 648.2,1172.4 648.3,1181.6 648.5,1236.8 648.6,1172.4 648.8,1190.8 648.9,1190.8 649.0,1126.4 649.2,1135.6 649.3,1154.0 649.5,1172.4 649.6,1163.2 649.8,1172.4 649.9,1163.2 650.1,1163.2 650.2,1163.2 650.3,1154.0 650.5,1163.2 650.6,1172.4 650.8,1144.8 650.9,1126.4 651.1,1190.8 651.2,1126.4 651.4,1172.4 651.5,1144.8 651.6,1172.4 651.8,1200.0 651.9,1163.2 652.1,1181.6 652.2,1163.2 652.4,1172.4 652.5,1190.8 652.6,1135.6 652.8,1172.4 652.9,1200.0 653.1,1190.8 653.2,1144.8 653.4,1163.2 653.5,1172.4 653.7,1181.6 653.8,1144.8 653.9,1181.6 654.1,1135.6 654.2,1135.6 654.4,1209.2 654.5,1190.8 654.7,1154.0 654.8,1172.4 655.0,1200.0 655.1,1135.6 655.2,1135.6 655.4,1190.8 655.5,1200.0 655.7,1172.4 655.8,1190.8 656.0,1163.2 656.1,1181.6 656.2,1135.6 656.4,1163.2 656.5,1135.6 656.7,1181.6 656.8,1172.4 657.0,1117.2 657.1,1190.8 657.3,1172.4 657.4,1163.2 657.5,1163.2 657.7,1163.2 657.8,1172.4 658.0,1200.0 658.1,1181.6 658.3,1144.8 658.4,1154.0 658.6,1163.2 658.7,1190.8 658.8,1144.8 659.0,1181.6 659.1,1172.4 659.3,1126.4 659.4,1190.8 659.6,1181.6 659.7,1209.2 659.8,1163.2 660.0,1172.4 660.1,1154.0 660.3,1200.0 660.4,1144.8 660.6,1163.2 660.7,1135.6 660.9,1154.0 661.0,1172.4 661.1,1181.6 661.3,1172.4 661.4,1117.2 661.6,1154.0 661.7,1181.6 661.9,1181.6 662.0,1154.0 662.2,1144.8 662.3,1135.6 662.4,1181.6 662.6,1154.0 662.7,1172.4 662.9,1135.6 663.0,1135.6 663.2,1135.6 663.3,1200.0 663.4,1181.6 663.6,1172.4 663.7,1172.4 663.9,1172.4 664.0,1163.2 664.2,1163.2 664.3,1163.2 664.5,1163.2 664.6,1181.6 664.7,1144.8 664.9,1163.2 665.0,1209.2 665.2,1172.4 665.3,1190.8 665.5,1172.4 665.6,1135.6 665.8,1163.2 665.9,1135.6 666.0,1144.8 666.2,1144.8 666.3,1144.8 666.5,1172.4 666.6,1200.0 666.8,1163.2 666.9,1190.8 667.0,1108.0 667.2,1172.4 667.3,1117.2 667.5,1135.6 667.6,1154.0 667.8,1163.2 667.9,1172.4 668.1,1144.8 668.2,1209.2 668.3,1190.8 668.5,1181.6 668.6,1190.8 668.8,1190.8 668.9,1209.2 669.1,1144.8 669.2,1172.4 669.4,1172.4 669.5,1154.0 669.6,1154.0 669.8,1200.0 669.9,1154.0 670.1,1172.4 670.2,1181.6 670.4,1172.4 670.5,1135.6 670.6,1190.8 670.8,1172.4 670.9,1172.4 671.1,1163.2 671.2,1154.0 671.4,1163.2 671.5,1135.6 671.7,1163.2 671.8,1154.0 671.9,1154.0 672.1,1154.0 672.2,1135.6 672.4,1200.0 672.5,1154.0 672.7,1163.2 672.8,1135.6 673.0,1163.2 673.1,1163.2 673.2,1172.4 673.4,1126.4 673.5,1190.8 673.7,1163.2 673.8,1135.6 674.0,1126.4 674.1,1172.4 674.2,1154.0 674.4,1172.4 674.5,1154.0 674.7,1163.2 674.8,1163.2 675.0,1209.2 675.1,1172.4 675.3,1181.6 675.4,1154.0 675.5,1126.4 675.7,1181.6 675.8,1144.8 676.0,1154.0 676.1,1181.6 676.3,1172.4 676.4,1154.0 676.6,1154.0 676.7,1154.0 676.8,1181.6 677.0,1172.4 677.1,1209.2 677.3,1154.0 677.4,1163.2 677.6,1126.4 677.7,1181.6 677.8,1144.8 678.0,1154.0 678.1,1181.6 678.3,1172.4 678.4,1135.6 678.6,1163.2 678.7,1181.6 678.9,1181.6 679.0,1163.2 679.1,1154.0 679.3,1190.8 679.4,1172.4 679.6,1144.8 679.7,1227.6 679.9,1181.6 680.0,1163.2 680.2,1172.4 680.3,1181.6 680.4,1181.6 680.6,1200.0 680.7,1209.2 680.9,1144.8 681.0,1144.8 681.2,1181.6 681.3,1172.4 681.4,1163.2 681.6,1172.4 681.7,1209.2 681.9,1181.6 682.0,1172.4 682.2,1117.2 682.3,1200.0 682.5,1135.6 682.6,1135.6 682.7,1154.0 682.9,1135.6 683.0,1163.2 683.2,1144.8 683.3,1181.6 683.5,1181.6 683.6,1200.0 683.8,1126.4 683.9,1117.2 684.0,1181.6 684.2,1218.4 684.3,1135.6 684.5,1190.8 684.6,1144.8 684.8,1200.0 684.9,1135.6 685.0,1163.2 685.2,1135.6 685.3,1190.8 685.5,1144.8 685.6,1209.2 685.8,1172.4 685.9,1190.8 686.1,1058.0 686.2,1163.2 686.3,1154.0 686.5,1135.6 686.6,1135.6 686.8,1163.2 686.9,1163.2 687.1,1190.8 687.2,1144.8 687.4,1200.0 687.5,1172.4 687.6,1154.0 687.8,1172.4 687.9,1190.8 688.1,1126.4 688.2,1163.2 688.4,1144.8 688.5,1154.0 688.6,1181.6 688.8,1144.8 688.9,1190.8 689.1,1144.8 689.2,1190.8 689.4,1181.6 689.5,1144.8 689.7,1181.6 689.8,1209.2 689.9,1172.4 690.1,1135.6 690.2,1126.4 690.4,1181.6 690.5,1172.4 690.7,1154.0 690.8,1154.0 691.0,1144.8 691.1,1144.8 691.2,1144.8 691.4,1181.6 691.5,1144.8 691.7,1144.8 691.8,1181.6 692.0,1154.0 692.1,1190.8 692.2,1190.8 692.4,1135.6 692.5,1181.6 692.7,1181.6 692.8,1144.8 693.0,1154.0 693.1,1181.6 693.3,1172.4 693.4,1172.4 693.5,1117.2 693.7,1135.6 693.8,1126.4 694.0,1190.8 694.1,1163.2 694.3,1190.8 694.4,1181.6 694.6,1052.8 694.7,1144.8 694.8,1117.2 695.0,1172.4 695.1,1163.2 695.3,1154.0 695.4,1144.8 695.6,1154.0 695.7,1154.0 695.8,1126.4 696.0,1163.2 696.1,1144.8 696.3,1117.2 696.4,1163.2 696.6,1144.8 696.7,1108.0 696.9,1135.6 697.0,1163.2 697.1,1172.4 697.3,1172.4 697.4,1227.6 697.6,1190.8 697.7,1181.6 697.9,1135.6 698.0,1172.4 698.2,1163.2 698.3,1144.8 698.4,1172.4 698.6,1172.4 698.7,1190.8 698.9,1163.2 699.0,1200.0 699.2,1135.6 699.3,1098.8 699.4,1200.0 699.6,1117.2 699.7,1163.2 699.9,1181.6 700.0,1135.6 700.2,1181.6 700.3,1181.6 700.5,1200.0 700.6,1181.6 700.7,1135.6 700.9,1190.8 701.0,1144.8 701.2,1126.4 701.3,1181.6 701.5,1154.0 701.6,1154.0 701.8,1172.4 701.9,1144.8 702.0,1117.2 702.2,1144.8 702.3,1181.6 702.5,1181.6 702.6,1135.6 702.8,1117.2 702.9,1172.4 703.0,1117.2 703.2,1117.2 703.3,1135.6 703.5,1163.2 703.6,1181.6 703.8,1200.0 703.9,1190.8 704.1,1135.6 704.2,1108.0 704.3,1108.0 704.5,1181.6 704.6,1154.0 704.8,1163.2 704.9,1144.8 705.1,1144.8 705.2,1154.0 705.4,1154.0 705.5,1126.4 705.6,1172.4 705.8,1126.4 705.9,1172.4 706.1,1190.8 706.2,1144.8 706.4,1250.0 706.5,1144.8 706.6,1172.4 706.8,1144.8 706.9,1172.4 707.1,1144.8 707.2,1172.4 707.4,1025.2 707.5,1181.6 707.7,1108.0 707.8,1172.4 707.9,1190.8 708.1,1200.0 708.2,1190.8 708.4,1163.2 708.5,1181.6 708.7,1163.2 708.8,1209.2 709.0,1126.4 709.1,1154.0 709.2,1181.6 709.4,1108.0 709.5,1126.4 709.7,1227.6 709.8,1154.0 710.0,1163.2 710.1,1181.6 710.2,1144.8 710.4,1209.2 710.5,1144.8 710.7,1108.0 710.8,1126.4 711.0,1172.4 711.1,1135.6 711.3,1181.6 711.4,1163.2 711.5,1126.4 711.7,1163.2 711.8,1190.8 712.0,1209.2 712.1,1163.2 712.3,1172.4 712.4,1190.8 712.6,1181.6 712.7,1172.4 712.8,1135.6 713.0,1172.4 713.1,1117.2 713.3,1126.4 713.4,1135.6 713.6,1126.4 713.7,1144.8 713.8,1200.0 714.0,1126.4 714.1,1172.4 714.3,1144.8 714.4,1181.6 714.6,1154.0 714.7,1126.4 714.9,1200.0 715.0,1098.8 715.1,1154.0 715.3,1117.2 715.4,1108.0 715.6,1117.2 715.7,1126.4 715.9,1117.2 716.0,1163.2 716.2,1172.4 716.3,1181.6 716.4,1098.8 716.6,1154.0 716.7,1144.8 716.9,1144.8 717.0,1135.6 717.2,1144.8 717.3,1108.0 717.4,1200.0 717.6,1163.2 717.7,1163.2 717.9,1126.4 718.0,1144.8 718.2,1172.4 718.3,1172.4 718.5,1163.2 718.6,1154.0 718.7,1135.6 718.9,1144.8 719.0,1117.2 719.2,1154.0 719.3,1163.2 719.5,1126.4 719.6,1163.2 719.8,1209.2 719.9,1135.6 720.0,1108.0 720.2,1172.4 720.3,1190.8 720.5,1200.0 720.6,1200.0 720.8,1117.2 720.9,1181.6 721.0,1181.6 721.2,1190.8 721.3,1126.4 721.5,1154.0 721.6,1154.0 721.8,1172.4 721.9,1117.2 722.1,1135.6 722.2,1098.8 722.3,1098.8 722.5,1190.8 722.6,1181.6 722.8,1135.6 722.9,1154.0 723.1,1135.6 723.2,1135.6 723.4,1163.2 723.5,1117.2 723.6,1181.6 723.8,1172.4 723.9,1108.0 724.1,1181.6 724.2,1144.8 724.4,1144.8 724.5,1144.8 724.6,1135.6 724.8,1163.2 724.9,1163.2 725.1,1181.6 725.2,1126.4 725.4,1144.8 725.5,1135.6 725.7,1144.8 725.8,1108.0 725.9,1108.0 726.1,1200.0 726.2,1144.8 726.4,1200.0 726.5,1209.2 726.7,1154.0 726.8,1108.0 727.0,1181.6 727.1,1135.6 727.2,1181.6 727.4,1200.0 727.5,1135.6 727.7,1108.0 727.8,1144.8 728.0,1071.2 728.1,1190.8 728.2,1200.0 728.4,1154.0 728.5,1172.4 728.7,1144.8 728.8,1163.2 729.0,1172.4 729.1,1163.2 729.3,1190.8 729.4,1098.8 729.5,1163.2 729.7,1108.0 729.8,1117.2 730.0,1181.6 730.1,1163.2 730.3,1126.4 730.4,1117.2 730.6,1209.2 730.7,1200.0 730.8,1117.2 731.0,1163.2 731.1,1126.4 731.3,1181.6 731.4,1108.0 731.6,1181.6 731.7,1117.2 731.8,1181.6 732.0,1108.0 732.1,1098.8 732.3,1089.6 732.4,1117.2 732.6,1154.0 732.7,1154.0 732.9,1163.2 733.0,1172.4 733.1,1181.6 733.3,1126.4 733.4,1163.2 733.6,1218.4 733.7,1089.6 733.9,1117.2 734.0,1080.4 734.2,1135.6 734.3,1154.0 734.4,1172.4 734.6,1126.4 734.7,1108.0 734.9,1200.0 735.0,1154.0 735.2,1154.0 735.3,1089.6 735.4,1172.4 735.6,1163.2 735.7,1190.8 735.9,1172.4 736.0,1144.8 736.2,1126.4 736.3,1172.4 736.5,1144.8 736.6,1117.2 736.7,1154.0 736.9,1181.6 737.0,1098.8 737.2,1172.4 737.3,1144.8 737.5,1117.2 737.6,1200.0 737.8,1144.8 737.9,1080.4 738.0,1108.0 738.2,1200.0 738.3,1154.0 738.5,1108.0 738.6,1117.2 738.8,1154.0 738.9,1154.0 739.0,1117.2 739.2,1154.0 739.3,1200.0 739.5,1163.2 739.6,1135.6 739.8,1144.8 739.9,1190.8 740.1,1190.8 740.2,1181.6 740.3,1163.2 740.5,1154.0 740.6,1154.0 740.8,1154.0 740.9,1200.0 741.1,1163.2 741.2,1126.4 741.4,1181.6 741.5,1172.4 741.6,1108.0 741.8,1126.4 741.9,1154.0 742.1,1135.6 742.2,1154.0 742.4,1154.0 742.5,1172.4 742.6,1080.4 742.8,1071.2 742.9,1117.2 743.1,1144.8 743.2,1200.0 743.4,1117.2 743.5,1080.4 743.7,1080.4 743.8,1181.6 743.9,1181.6 744.1,1144.8 744.2,1126.4 744.4,1126.4 744.5,1144.8 744.7,1190.8 744.8,1154.0 745.0,1163.2 745.1,1181.6 745.2,1098.8 745.4,1098.8 745.5,1163.2 745.7,1108.0 745.8,1163.2 746.0,1144.8 746.1,1108.0 746.2,1126.4 746.4,1071.2 746.5,1163.2 746.7,1080.4 746.8,1172.4 747.0,1163.2 747.1,1135.6 747.3,1163.2 747.4,1200.0 747.5,1135.6 747.7,1135.6 747.8,1117.2 748.0,1200.0 748.1,1126.4 748.3,1144.8 748.4,1154.0 748.6,1126.4 748.7,1163.2 748.8,1108.0 749.0,1200.0 749.1,1135.6 749.3,1154.0 749.4,1135.6 749.6,1200.0 749.7,1163.2 749.8,1144.8 750.0,1163.2 750.1,1108.0 750.3,1163.2 750.4,1089.6 750.6,1209.2 750.7,1154.0 750.9,1135.6 751.0,1154.0 751.1,1135.6 751.3,1135.6 751.4,1190.8 751.6,1126.4 751.7,1200.0 751.9,1126.4 752.0,1172.4 752.2,1144.8 752.3,1098.8 752.4,1098.8 752.6,1108.0 752.7,1126.4 752.9,1200.0 753.0,1117.2 753.2,1144.8 753.3,1181.6 753.4,1172.4 753.6,1144.8 753.7,1154.0 753.9,1108.0 754.0,1080.4 754.2,1080.4 754.3,1200.0 754.5,1135.6 754.6,1117.2 754.7,1135.6 754.9,1071.2 755.0,1154.0 755.2,1144.8 755.3,1144.8 755.5,1163.2 755.6,1227.6 755.8,1172.4 755.9,1190.8 756.0,1071.2 756.2,1108.0 756.3,1135.6 756.5,1089.6 756.6,1126.4 756.8,1117.2 756.9,1154.0 757.0,1108.0 757.2,1135.6 757.3,1163.2 757.5,1126.4 757.6,1108.0 757.8,1135.6 757.9,1144.8 758.1,1135.6 758.2,1154.0 758.3,1126.4 758.5,1117.2 758.6,1172.4 758.8,1117.2 758.9,1126.4 759.1,1098.8 759.2,1154.0 759.4,1126.4 759.5,1117.2 759.6,1117.2 759.8,1117.2 759.9,1062.0 760.1,1135.6 760.2,1089.6 760.4,1080.4 760.5,1172.4 760.6,1080.4 760.8,1126.4 760.9,1098.8 761.1,1154.0 761.2,1089.6 761.4,1098.8 761.5,1126.4 761.7,1181.6 761.8,1089.6 761.9,1089.6 762.1,1163.2 762.2,1144.8 762.4,1200.0 762.5,1135.6 762.7,1098.8 762.8,1172.4 763.0,1154.0 763.1,1126.4 763.2,1163.2 763.4,1108.0 763.5,1080.4 763.7,1135.6 763.8,1181.6 764.0,1012.0 764.1,1089.6 764.2,1126.4 764.4,1144.8 764.5,1190.8 764.7,1209.2 764.8,1117.2 765.0,1108.0 765.1,1181.6 765.3,1126.4 765.4,1108.0 765.5,1108.0 765.7,1062.0 765.8,1163.2 766.0,1080.4 766.1,1135.6 766.3,1117.2 766.4,1062.0 766.6,1117.2 766.7,1144.8 766.8,1062.0 767.0,1172.4 767.1,1144.8 767.3,1117.2 767.4,1117.2 767.6,1163.2 767.7,1108.0 767.8,1154.0 768.0,1154.0 768.1,1154.0 768.3,1172.4 768.4,1181.6 768.6,1080.4 768.7,1126.4 768.9,1108.0 769.0,1117.2 769.1,1181.6 769.3,1117.2 769.4,1117.2 769.6,1098.8 769.7,1062.0 769.9,1062.0 770.0,1108.0 770.2,1089.6 770.3,1052.8 770.4,1108.0 770.6,1089.6 770.7,1126.4 770.9,1117.2 771.0,1135.6 771.2,1062.0 771.3,1089.6 771.4,1135.6 771.6,1098.8 771.7,1126.4 771.9,1098.8 772.0,1108.0 772.2,1154.0 772.3,1181.6 772.5,1172.4 772.6,1135.6 772.7,1089.6 772.9,1098.8 773.0,1117.2 773.2,1071.2 773.3,1126.4 773.5,1181.6 773.6,1135.6 773.8,1062.0 773.9,1126.4 774.0,1163.2 774.2,1154.0 774.3,1144.8 774.5,1052.8 774.6,1117.2 774.8,1098.8 774.9,1071.2 775.0,1080.4 775.2,1126.4 775.3,1181.6 775.5,1154.0 775.6,1117.2 775.8,1163.2 775.9,1163.2 776.1,1135.6 776.2,1135.6 776.3,1071.2 776.5,1098.8 776.6,1062.0 776.8,1108.0 776.9,1117.2 777.1,1108.0 777.2,1062.0 777.4,1135.6 777.5,1089.6 777.6,1071.2 777.8,1052.8 777.9,1135.6 778.1,1022.0 778.2,1163.2 778.4,1117.2 778.5,1108.0 778.6,1126.4 778.8,1144.8 778.9,1080.4 779.1,1080.4 779.2,1080.4 779.4,1098.8 779.5,1117.2 779.7,1089.6 779.8,1034.4 779.9,1117.2 780.1,1080.4 780.2,1144.8 780.4,1163.2 780.5,1154.0 780.7,1098.8 780.8,1052.8 781.0,1080.4 781.1,1052.8 781.2,1052.8 781.4,1043.6 781.5,1089.6 781.7,1135.6 781.8,1181.6 782.0,1163.2 782.1,1071.2 782.2,1108.0 782.4,1080.4 782.5,1135.6 782.7,1144.8 782.8,1080.4 783.0,1071.2 783.1,1117.2 783.3,1135.6 783.4,1098.8 783.5,1071.2 783.7,1098.8 783.8,1080.4 784.0,1108.0 784.1,1163.2 784.3,1108.0 784.4,1098.8 784.6,1172.4 784.7,1144.8 784.8,1154.0 785.0,1135.6 785.1,1135.6 785.3,1071.2 785.4,1154.0 785.6,1172.4 785.7,1135.6 785.8,1080.4 786.0,1089.6 786.1,1052.8 786.3,1154.0 786.4,1089.6 786.6,1126.4 786.7,1144.8 786.9,1144.8 787.0,1163.2 787.1,1172.4 787.3,1043.6 787.4,1144.8 787.6,1080.4 787.7,1108.0 787.9,1172.4 788.0,1071.2 788.2,1098.8 788.3,1144.8 788.4,1071.2 788.6,1071.2 788.7,1135.6 788.9,1071.2 789.0,1098.8 789.2,1071.2 789.3,1117.2 789.4,1126.4 789.6,1126.4 789.7,1016.0 789.9,1126.4 790.0,1163.2 790.2,1154.0 790.3,1172.4 790.5,1126.4 790.6,1117.2 790.7,1154.0 790.9,1108.0 791.0,1098.8 791.2,1117.2 791.3,1135.6 791.5,1144.8 791.6,1126.4 791.8,1108.0 791.9,1126.4 792.0,1080.4 792.2,1126.4 792.3,1154.0 792.5,1089.6 792.6,1098.8 792.8,1108.0 792.9,1089.6 793.0,1062.0 793.2,1108.0 793.3,1089.6 793.5,1135.6 793.6,1126.4 793.8,1126.4 793.9,1172.4 794.1,1089.6 794.2,1117.2 794.3,1098.8 794.5,1052.8 794.6,1135.6 794.8,1181.6 794.9,1144.8 795.1,1117.2 795.2,1163.2 795.4,1052.8 795.5,1144.8 795.6,1144.8 795.8,1071.2 795.9,1200.0 796.1,1172.4 796.2,1098.8 796.4,1135.6 796.5,1126.4 796.6,1080.4 796.8,1144.8 796.9,1062.0 797.1,1052.8 797.2,1135.6 797.4,1126.4 797.5,1062.0 797.7,1043.6 797.8,1108.0 797.9,1071.2 798.1,1043.6 798.2,1144.8 798.4,1108.0 798.5,1098.8 798.7,1043.6 798.8,988.4 799.0,1172.4 799.1,1080.4 799.2,1172.4 799.4,1126.4 799.5,1034.4 799.7,1043.6 799.8,1154.0 800.0,1052.8 800.1,1126.4 800.2,1126.4 800.4,1043.6 800.5,1154.0 800.7,1043.6 800.8,1080.4 801.0,1144.8 801.1,1080.4 801.3,1080.4 801.4,1126.4 801.5,1098.8 801.7,1034.4 801.8,1089.6 802.0,1025.2 802.1,997.6 802.3,1062.0 802.4,924.0 802.6,1052.8 802.7,905.6 802.8,970.0 803.0,942.4 803.1,878.0 803.3,960.8 803.4,914.8 803.6,859.6 803.7,896.4 803.8,740.0 804.0,767.6 804.1,776.8 804.3,786.0 804.4,648.0 804.6,740.0 804.7,675.6 804.9,592.8 805.0,546.8 805.1,629.6 805.3,574.4 805.4,528.4 805.6,427.2 805.7,390.4 805.9,399.6 806.0,436.4 806.2,372.0 806.3,362.8 806.4,372.0 806.6,344.4 806.7,285.0 806.9,298.4 807.0,316.8 807.2,335.2 807.3,335.2 807.4,285.0 807.6,326.0 807.7,285.0 807.9,285.0 808.0,326.0 808.2,326.0 808.3,372.0 808.5,399.6 808.6,344.4 808.7,326.0 808.9,418.0 809.0,381.2 809.2,427.2 809.3,510.0 809.5,500.8 809.6,510.0 809.8,528.4 809.9,565.2 810.0,620.4 810.2,694.0 810.3,703.2 810.5,694.0 810.6,749.2 810.8,712.4 810.9,721.6 811.0,832.0 811.2,813.6 811.3,868.8 811.5,896.4 811.6,878.0 811.8,924.0 811.9,988.4 812.1,942.4 812.2,1043.6 812.3,960.8 812.5,951.6 812.6,960.8 812.8,1052.8 812.9,1025.2 813.1,988.4 813.2,1006.8 813.4,1080.4 813.5,1062.0 813.6,1144.8 813.8,1052.8 813.9,1108.0 814.1,1080.4 814.2,1071.2 814.4,1126.4 814.5,1126.4 814.6,1080.4 814.8,1098.8 814.9,1135.6 815.1,1154.0 815.2,1117.2 815.4,1071.2 815.5,1154.0 815.7,1135.6 815.8,1144.8 815.9,1117.2 816.1,1144.8 816.2,1135.6 816.4,1117.2 816.5,1108.0 816.7,1034.4 816.8,1062.0 817.0,1098.8 817.1,1098.8 817.2,1080.4 817.4,1080.4 817.5,1089.6 817.7,1117.2 817.8,1154.0 818.0,1062.0 818.1,1135.6 818.2,1080.4 818.4,1071.2 818.5,1108.0 818.7,1126.4 818.8,1181.6 819.0,1052.8 819.1,1071.2 819.3,1181.6 819.4,1089.6 819.5,1071.2 819.7,1117.2 819.8,1071.2 820.0,1126.4 820.1,1098.8 820.3,1108.0 820.4,1052.8 820.6,1135.6 820.7,1181.6 820.8,1052.8 821.0,1098.8 821.1,1135.6 821.3,1052.8 821.4,1080.4 821.6,1108.0 821.7,1154.0 821.8,1154.0 822.0,1181.6 822.1,1181.6 822.3,1126.4 822.4,1062.0 822.6,1126.4 822.7,1080.4 822.9,1154.0 823.0,1163.2 823.1,1135.6 823.3,1135.6 823.4,1080.4 823.6,1108.0 823.7,1117.2 823.9,1126.4 824.0,1117.2 824.2,1080.4 824.3,1098.8 824.4,1052.8 824.6,1126.4 824.7,1163.2 824.9,1108.0 825.0,1062.0 825.2,1126.4 825.3,1181.6 825.4,1144.8 825.6,1154.0 825.7,1108.0 825.9,1071.2 826.0,1154.0 826.2,1163.2 826.3,1126.4 826.5,1181.6 826.6,1154.0 826.7,1089.6 826.9,1181.6 827.0,1117.2 827.2,1071.2 827.3,1135.6 827.5,1144.8 827.6,1135.6 827.8,1163.2 827.9,1135.6 828.0,1080.4 828.2,1144.8 828.3,1172.4 828.5,1098.8 828.6,1080.4 828.8,1126.4 828.9,1117.2 829.0,1071.2 829.2,1135.6 829.3,1098.8 829.5,1117.2 829.6,1089.6 829.8,1089.6 829.9,1098.8 830.1,1144.8 830.2,1071.2 830.3,1117.2 830.5,1034.4 830.6,1154.0 830.8,1043.6 830.9,1071.2 831.1,1172.4 831.2,1181.6 831.4,1098.8 831.5,1080.4 831.6,1117.2 831.8,1117.2 831.9,1181.6 832.1,1080.4 832.2,1154.0 832.4,1089.6 832.5,1062.0 832.6,1108.0 832.8,1043.6 832.9,1062.0 833.1,1144.8 833.2,1089.6 833.4,1062.0 833.5,1154.0 833.7,1135.6 833.8,1144.8 833.9,1172.4 834.1,1052.8 834.2,1098.8 834.4,1108.0 834.5,1126.4 834.7,1200.0 834.8,1144.8 835.0,1117.2 835.1,1144.8 835.2,1117.2 835.4,1154.0 835.5,1172.4 835.7,1062.0 835.8,1098.8 836.0,1117.2 836.1,1108.0 836.2,1154.0 836.4,1126.4 836.5,1052.8 836.7,1108.0 836.8,1135.6 837.0,1043.6 837.1,1200.0 837.3,1089.6 837.4,1144.8 837.5,1144.8 837.7,1108.0 837.8,1108.0 838.0,1126.4 838.1,1126.4 838.3,1135.6 838.4,1126.4 838.6,1080.4 838.7,1098.8 838.8,1117.2 839.0,1117.2 839.1,1117.2 839.3,1062.0 839.4,1117.2 839.6,1089.6 839.7,1043.6 839.8,1117.2 840.0,1108.0 840.1,1071.2 840.3,1080.4 840.4,1089.6 840.6,1043.6 840.7,1052.8 840.9,1117.2 841.0,1144.8 841.1,1071.2 841.3,1080.4 841.4,1089.6 841.6,1062.0 841.7,1108.0 841.9,1080.4 842.0,1135.6 842.2,1117.2 842.3,1181.6 842.4,1163.2 842.6,1144.8 842.7,1117.2 842.9,1190.8 843.0,994.0 843.2,1080.4 843.3,1154.0 843.4,1080.4 843.6,1098.8 843.7,1080.4 843.9,1043.6 844.0,1043.6 844.2,1062.0 844.3,1181.6 844.5,1144.8 844.6,1098.8 844.7,1117.2 844.9,1135.6 845.0,1089.6 845.2,1062.0 845.3,1052.8 845.5,1062.0 845.6,1172.4 845.8,1016.0 845.9,1108.0 846.0,1144.8 846.2,1098.8 846.3,1089.6 846.5,1126.4 846.6,1043.6 846.8,1052.8 846.9,1154.0 847.0,1098.8 847.2,1108.0 847.3,1172.4 847.5,1062.0 847.6,1117.2 847.8,1135.6 847.9,1098.8 848.1,1117.2 848.2,1172.4 848.3,1108.0 848.5,1089.6 848.6,1154.0 848.8,1108.0 848.9,1062.0 849.1,1154.0 849.2,1144.8 849.4,1117.2 849.5,1062.0 849.6,1052.8 849.8,1154.0 849.9,1172.4 850.1,1163.2 850.2,1080.4 850.4,1135.6 850.5,1135.6 850.6,1034.4 850.8,1089.6 850.9,1071.2 851.1,1006.8 851.2,1126.4 851.4,1071.2 851.5,1071.2 851.7,1135.6 851.8,1117.2 851.9,1034.4 852.1,1052.8 852.2,1108.0 852.4,1098.8 852.5,1080.4 852.7,1098.8 852.8,960.8 853.0,1108.0 853.1,1135.6 853.2,1025.2 853.4,1043.6 853.5,1117.2 853.7,1089.6 853.8,1135.6 854.0,1108.0 854.1,1108.0 854.2,1190.8 854.4,1172.4 854.5,1080.4 854.7,1126.4 854.8,1154.0 855.0,977.0 855.1,1172.4 855.3,1200.0 855.4,1098.8 855.5,1117.2 855.7,1089.6 855.8,1135.6 856.0,1080.4 856.1,1062.0 856.3,1163.2 856.4,1043.6 856.6,1181.6 856.7,1126.4 856.8,1117.2 857.0,1062.0 857.1,1135.6 857.3,1172.4 857.4,1052.8 857.6,1071.2 857.7,1098.8 857.8,1108.0 858.0,1080.4 858.1,1126.4 858.3,1098.8 858.4,1062.0 858.6,1043.6 858.7,1080.4 858.9,1052.8 859.0,1181.6 859.1,1117.2 859.3,1108.0 859.4,1163.2 859.6,1043.6 859.7,1117.2 859.9,1080.4 860.0,1117.2 860.2,1089.6 860.3,1163.2 860.4,1144.8 860.6,1163.2 860.7,1089.6 860.9,1172.4 861.0,1181.6 861.2,1135.6 861.3,1098.8 861.4,1080.4 861.6,1126.4 861.7,1080.4 861.9,1117.2 862.0,1117.2 862.2,1052.8 862.3,1172.4 862.5,1089.6 862.6,1080.4 862.7,1144.8 862.9,1062.0 863.0,1135.6 863.2,1154.0 863.3,1034.4 863.5,1126.4 863.6,1181.6 863.8,1089.6 863.9,1163.2 864.0,1126.4 864.2,1043.6 864.3,1025.2 864.5,1154.0 864.6,1089.6 864.8,1163.2 864.9,1144.8 865.0,1135.6 865.2,1089.6 865.3,1126.4 865.5,1034.4 865.6,1126.4 865.8,1163.2 865.9,1200.0 866.1,1089.6 866.2,1062.0 866.3,1154.0 866.5,1080.4 866.6,1034.4 866.8,1135.6 866.9,1126.4 867.1,1154.0 867.2,1163.2 867.4,1108.0 867.5,1062.0 867.6,1080.4 867.8,1144.8 867.9,1126.4 868.1,1071.2 868.2,1089.6 868.4,1052.8 868.5,1163.2 868.6,1052.8 868.8,1080.4 868.9,1126.4 869.1,1126.4 869.2,1108.0 869.4,1071.2 869.5,1117.2 869.7,1172.4 869.8,1071.2 869.9,1108.0 870.1,1126.4 870.2,1043.6 870.4,1071.2 870.5,1126.4 870.7,1098.8 870.8,1154.0 871.0,1012.0 871.1,1098.8 871.2,1135.6 871.4,1135.6 871.5,1043.6 871.7,1126.4 871.8,1135.6 872.0,1135.6 872.1,1181.6 872.2,1144.8 872.4,1117.2 872.5,1089.6 872.7,1144.8 872.8,1071.2 873.0,1144.8 873.1,1144.8 873.3,1154.0 873.4,1043.6 873.5,1163.2 873.7,1163.2 873.8,1098.8 874.0,1144.8 874.1,1052.8 874.3,1117.2 874.4,1126.4 874.6,1052.8 874.7,1126.4 874.8,1154.0 875.0,1181.6 875.1,1144.8 875.3,1071.2 875.4,1126.4 875.6,1126.4 875.7,1135.6 875.8,1108.0 876.0,1154.0 876.1,1098.8 876.3,1071.2 876.4,1117.2 876.6,1062.0 876.7,1098.8 876.9,1098.8 877.0,1089.6 877.1,1163.2 877.3,1126.4 877.4,1117.2 877.6,1052.8 877.7,1071.2 877.9,1108.0 878.0,1154.0 878.2,1080.4 878.3,1080.4 878.4,1117.2 878.6,1126.4 878.7,1052.8 878.9,1126.4 879.0,1144.8 879.2,1080.4 879.3,1080.4 879.4,1163.2 879.6,1144.8 879.7,1135.6 879.9,1117.2 880.0,1117.2 880.2,1126.4 880.3,1089.6 880.5,1052.8 880.6,1117.2 880.7,1181.6 880.9,1144.8 881.0,1089.6 881.2,1135.6 881.3,1089.6 881.5,1144.8 881.6,1154.0 881.8,1062.0 881.9,1108.0 882.0,1080.4 882.2,1172.4 882.3,1108.0 882.5,1043.6 882.6,1144.8 882.8,1117.2 882.9,1135.6 883.0,1117.2 883.2,1071.2 883.3,1089.6 883.5,1135.6 883.6,1135.6 883.8,1108.0 883.9,1062.0 884.1,1144.8 884.2,1062.0 884.3,1218.4 884.5,1071.2 884.6,1098.8 884.8,1052.8 884.9,1098.8 885.1,1043.6 885.2,1126.4 885.4,1154.0 885.5,1034.4 885.6,1172.4 885.8,1117.2 885.9,1135.6 886.1,1080.4 886.2,1098.8 886.4,1108.0 886.5,1071.2 886.6,1117.2 886.8,1108.0 886.9,1098.8 887.1,1080.4 887.2,1163.2 887.4,1098.8 887.5,1117.2 887.7,1108.0 887.8,1108.0 887.9,1126.4 888.1,1163.2 888.2,1080.4 888.4,1043.6 888.5,1144.8 888.7,1098.8 888.8,1108.0 889.0,1062.0 889.1,1135.6 889.2,1117.2 889.4,1062.0 889.5,1071.2 889.7,1144.8 889.8,1052.8 890.0,1117.2 890.1,1135.6 890.2,1089.6 890.4,1135.6 890.5,1126.4 890.7,1071.2 890.8,1052.8 891.0,1163.2 891.1,1108.0 891.3,1126.4 891.4,1126.4 891.5,1144.8 891.7,1089.6 891.8,1080.4 892.0,1089.6 892.1,1108.0 892.3,1080.4 892.4,1089.6 892.6,1098.8 892.7,1089.6 892.8,1108.0 893.0,1154.0 893.1,1098.8 893.3,1080.4 893.4,1135.6 893.6,1117.2 893.7,1135.6 893.8,1052.8 894.0,1022.0 894.1,1089.6 894.3,1089.6 894.4,1098.8 894.6,1190.8 894.7,1144.8 894.9,1062.0 895.0,1117.2 895.1,1126.4 895.3,1080.4 895.4,1135.6 895.6,1098.8 895.7,1163.2 895.9,1080.4 896.0,1071.2 896.2,1098.8 896.3,1089.6 896.4,1117.2 896.6,1135.6 896.7,1117.2 896.9,1126.4 897.0,1126.4 897.2,1052.8 897.3,1034.4 897.4,1117.2 897.6,1025.2 897.7,1108.0 897.9,1181.6 898.0,1200.0 898.2,1071.2 898.3,1144.8 898.5,1089.6 898.6,1135.6 898.7,1144.8 898.9,1052.8 899.0,1052.8 899.2,1154.0 899.3,1052.8 899.5,1089.6 899.6,1126.4 899.8,1098.8 899.9,1163.2 900.0,1144.8 900.2,1172.4 900.3,1172.4 900.5,1126.4 900.6,1098.8 900.8,1071.2 900.9,1163.2 901.0,1117.2 901.2,1108.0 901.3,1144.8 901.5,1089.6 901.6,1126.4 901.8,1126.4 901.9,1172.4 902.1,1098.8 902.2,1089.6 902.3,1144.8 902.5,1071.2 902.6,1154.0 902.8,1135.6 902.9,1117.2 903.1,1080.4 903.2,1154.0 903.4,1117.2 903.5,1117.2 903.6,1163.2 903.8,1098.8 903.9,1154.0 904.1,1062.0 904.2,1108.0 904.4,1200.0 904.5,1181.6 904.6,1135.6 904.8,1163.2 904.9,1052.8 905.1,1071.2 905.2,1181.6 905.4,1126.4 905.5,1089.6 905.7,1126.4 905.8,1117.2 905.9,1089.6 906.1,1126.4 906.2,1163.2 906.4,1071.2 906.5,1089.6 906.7,1089.6 906.8,1135.6 907.0,1154.0 907.1,1117.2 907.2,1062.0 907.4,1089.6 907.5,1117.2 907.7,1016.0 907.8,1006.8 908.0,1089.6 908.1,1034.4 908.2,1016.0 908.4,1062.0 908.5,942.4 908.7,1006.8 908.8,1006.8 909.0,997.6 909.1,933.2 909.3,868.8 909.4,905.6 909.5,868.8 909.7,822.8 909.8,822.8 910.0,795.2 910.1,841.2 910.3,767.6 910.4,832.0 910.6,767.6 910.7,786.0 910.8,681.0 911.0,703.2 911.1,684.8 911.3,681.0 911.4,703.2 911.6,730.8 911.7,684.8 911.8,681.0 912.0,681.0 912.1,730.8 912.3,684.8 912.4,681.0 912.6,684.8 912.7,712.4 912.9,721.6 913.0,712.4 913.1,786.0 913.3,786.0 913.4,804.4 913.6,795.2 913.7,749.2 913.9,832.0 914.0,822.8 914.2,832.0 914.3,905.6 914.4,933.2 914.6,914.8 914.7,960.8 914.9,933.2 915.0,905.6 915.2,988.4 915.3,942.4 915.4,1034.4 915.6,1006.8 915.7,1071.2 915.9,1016.0 916.0,988.4 916.2,1025.2 916.3,1089.6 916.5,1080.4 916.6,1052.8 916.7,1062.0 916.9,1108.0 917.0,1080.4 917.2,1062.0 917.3,1062.0 917.5,1135.6 917.6,1108.0 917.8,1071.2 917.9,1163.2 918.0,1108.0 918.2,1034.4 918.3,1154.0 918.5,1071.2 918.6,1117.2 918.8,1172.4 918.9,1135.6 919.0,1163.2 919.2,1135.6 919.3,1135.6 919.5,1200.0 919.6,1108.0 919.8,1117.2 919.9,1098.8 920.1,1135.6 920.2,1126.4 920.3,1163.2 920.5,1052.8 920.6,1181.6 920.8,1154.0 920.9,1163.2 921.1,1172.4 921.2,1154.0 921.4,988.4 921.5,1144.8 921.6,1144.8 921.8,1154.0 921.9,1144.8 922.1,1135.6 922.2,1126.4 922.4,1098.8 922.5,1108.0 922.6,1098.8 922.8,1163.2 922.9,1089.6 923.1,1144.8 923.2,1089.6 923.4,1144.8 923.5,1098.8 923.7,1154.0 923.8,1098.8 923.9,1098.8 924.1,1135.6 924.2,1172.4 924.4,1135.6 924.5,1181.6 924.7,1163.2 924.8,1126.4 925.0,1108.0 925.1,1062.0 925.2,1154.0 925.4,1126.4 925.5,1135.6 925.7,1144.8 925.8,1108.0 926.0,1154.0 926.1,1117.2 926.2,1098.8 926.4,1135.6 926.5,1154.0 926.7,1117.2 926.8,1098.8 927.0,1117.2 927.1,1080.4 927.3,1071.2 927.4,1098.8 927.5,1126.4 927.7,1117.2 927.8,1163.2 928.0,1126.4 928.1,1117.2 928.3,1154.0 928.4,1135.6 928.6,1126.4 928.7,1071.2 928.8,1126.4 929.0,1117.2 929.1,1080.4 929.3,1200.0 929.4,1098.8 929.6,1126.4 929.7,1144.8 929.8,1154.0 930.0,1098.8 930.1,1126.4 930.3,1089.6 930.4,1071.2 930.6,1172.4 930.7,1089.6 930.9,1154.0 931.0,1172.4 931.1,1098.8 931.3,1080.4 931.4,1108.0 931.6,1117.2 931.7,1172.4 931.9,1080.4 932.0,1135.6 932.2,1163.2 932.3,1190.8 932.4,1144.8 932.6,1172.4 932.7,1108.0 932.9,1181.6 933.0,1172.4 933.2,1144.8 933.3,1080.4 933.4,1117.2 933.6,1108.0 933.7,1163.2 933.9,1135.6 934.0,1135.6 934.2,1071.2 934.3,1172.4 934.5,1080.4 934.6,1108.0 934.7,1071.2 934.9,1190.8 935.0,1126.4 935.2,1144.8 935.3,1071.2 935.5,1144.8 935.6,1098.8 935.8,1108.0 935.9,1117.2 936.0,1135.6 936.2,1098.8 936.3,1163.2 936.5,1098.8 936.6,1117.2 936.8,1126.4 936.9,1117.2 937.0,1144.8 937.2,1163.2 937.3,1163.2 937.5,1209.2 937.6,1154.0 937.8,1190.8 937.9,1080.4 938.1,1108.0 938.2,1098.8 938.3,1190.8 938.5,1154.0 938.6,1154.0 938.8,1144.8 938.9,1126.4 939.1,1163.2 939.2,1172.4 939.4,1135.6 939.5,1108.0 939.6,1117.2 939.8,1144.8 939.9,1154.0 940.1,1052.8 940.2,1117.2 940.4,1098.8 940.5,1098.8 940.6,1172.4 940.8,1117.2 940.9,1089.6 941.1,1062.0 941.2,1163.2 941.4,1154.0 941.5,1154.0 941.7,1154.0 941.8,1135.6 941.9,1181.6 942.1,1172.4 942.2,1108.0 942.4,1108.0 942.5,1126.4 942.7,1163.2 942.8,1154.0 943.0,1144.8 943.1,1108.0 943.2,1163.2 943.4,1080.4 943.5,1098.8 943.7,1098.8 943.8,1071.2 944.0,1126.4 944.1,1181.6 944.2,1163.2 944.4,1108.0 944.5,1126.4 944.7,1117.2 944.8,1154.0 945.0,1126.4 945.1,1108.0 945.3,1117.2 945.4,1071.2 945.5,1098.8 945.7,1154.0 945.8,1117.2 946.0,1181.6 946.1,1126.4 946.3,1144.8 946.4,1144.8 946.6,1098.8 946.7,1071.2 946.8,1117.2 947.0,1108.0 947.1,1135.6 947.3,1108.0 947.4,1089.6 947.6,1108.0 947.7,1172.4 947.8,1181.6 948.0,1154.0 948.1,1163.2 948.3,1117.2 948.4,1126.4 948.6,1144.8 948.7,1089.6 948.9,1172.4 949.0,1126.4 949.1,1089.6 949.3,1089.6 949.4,1163.2 949.6,1126.4 949.7,1108.0 949.9,1135.6 950.0,1163.2 950.2,1172.4 950.3,1117.2 950.4,1154.0 950.6,1163.2 950.7,1108.0 950.9,1163.2 951.0,1117.2 951.2,1181.6 951.3,1135.6 951.4,1163.2 951.6,1071.2 951.7,1126.4 951.9,1080.4 952.0,1098.8 952.2,1117.2 952.3,1144.8 952.5,1190.8 952.6,1154.0 952.7,1163.2 952.9,1172.4 953.0,1144.8 953.2,1172.4 953.3,1163.2 953.5,1108.0 953.6,1181.6 953.8,1154.0 953.9,1098.8 954.0,1190.8 954.2,1080.4 954.3,1163.2 954.5,1126.4 954.6,1190.8 954.8,1144.8 954.9,1144.8 955.0,1200.0 955.2,1190.8 955.3,1108.0 955.5,1108.0 955.6,1098.8 955.8,1117.2 955.9,1080.4 956.1,1135.6 956.2,1163.2 956.3,1163.2 956.5,1108.0 956.6,1117.2 956.8,1163.2 956.9,1144.8 957.1,1154.0 957.2,1154.0 957.4,1108.0 957.5,1172.4 957.6,1108.0 957.8,1089.6 957.9,1117.2 958.1,1144.8 958.2,1098.8 958.4,1108.0 958.5,1126.4 958.6,1218.4 958.8,1098.8 958.9,1126.4 959.1,1117.2 959.2,1154.0 959.4,1089.6 959.5,1108.0 959.7,1200.0 959.8,1181.6 959.9,1190.8 960.1,1135.6 960.2,1154.0 960.4,1181.6 960.5,1108.0 960.7,1108.0 960.8,1108.0 961.0,1190.8 961.1,1163.2 961.2,1117.2 961.4,1080.4 961.5,1098.8 961.7,1108.0 961.8,1163.2 962.0,1108.0 962.1,1135.6 962.2,1163.2 962.4,1080.4 962.5,1126.4 962.7,1135.6 962.8,1071.2 963.0,1062.0 963.1,1080.4 963.3,1117.2 963.4,1117.2 963.5,1108.0 963.7,997.6 963.8,1043.6 964.0,1126.4 964.1,988.4 964.3,979.2 964.4,1025.2 964.6,1006.8 964.7,970.0 964.8,970.0 965.0,951.6 965.1,868.8 965.3,859.6 965.4,813.6 965.6,795.2 965.7,850.4 965.8,795.2 966.0,758.4 966.1,767.6 966.3,749.2 966.4,657.2 966.6,684.8 966.7,611.2 966.9,620.4 967.0,565.2 967.1,528.4 967.3,565.2 967.4,546.8 967.6,556.0 967.7,500.8 967.9,418.0 968.0,464.0 968.2,372.0 968.3,436.4 968.4,381.2 968.6,381.2 968.7,372.0 968.9,370.0 969.0,370.0 969.2,427.2 969.3,399.6 969.4,372.0 969.6,370.0 969.7,390.4 969.9,399.6 970.0,445.6 970.2,418.0 970.3,510.0 970.5,491.6 970.6,510.0 970.7,592.8 970.9,537.6 971.0,611.2 971.2,611.2 971.3,638.8 971.5,703.2 971.6,703.2 971.8,684.8 971.9,795.2 972.0,786.0 972.2,749.2 972.3,868.8 972.5,850.4 972.6,850.4 972.8,841.2 972.9,896.4 973.0,896.4 973.2,887.2 973.3,970.0 973.5,970.0 973.6,960.8 973.8,942.4 973.9,1043.6 974.1,1052.8 974.2,1006.8 974.3,1080.4 974.5,1108.0 974.6,1071.2 974.8,1117.2 974.9,1117.2 975.1,1135.6 975.2,1108.0 975.4,1117.2 975.5,1154.0 975.6,1163.2 975.8,1181.6 975.9,1117.2 976.1,1098.8 976.2,1135.6 976.4,1089.6 976.5,1154.0 976.6,1117.2 976.8,1154.0 976.9,1108.0 977.1,1163.2 977.2,1154.0 977.4,1154.0 977.5,1181.6 977.7,1108.0 977.8,1089.6 977.9,1117.2 978.1,1154.0 978.2,1172.4 978.4,1098.8 978.5,1190.8 978.7,1117.2 978.8,1181.6 979.0,1108.0 979.1,1144.8 979.2,1080.4 979.4,1117.2 979.5,1144.8 979.7,1181.6 979.8,1108.0 980.0,1172.4 980.1,1200.0 980.2,1144.8 980.4,1163.2 980.5,1163.2 980.7,1144.8 980.8,1181.6 981.0,1135.6 981.1,1163.2 981.3,1154.0 981.4,1209.2 981.5,1135.6 981.7,1144.8 981.8,1181.6 982.0,1031.0 982.1,1108.0 982.3,1163.2 982.4,1172.4 982.6,1190.8 982.7,1071.2 982.8,1163.2 983.0,1163.2 983.1,1144.8 983.3,1135.6 983.4,1163.2 983.6,1117.2 983.7,1098.8 983.8,1200.0 984.0,1172.4 984.1,1126.4 984.3,1108.0 984.4,1172.4 984.6,1135.6 984.7,1144.8 984.9,1200.0 985.0,1218.4 985.1,1126.4 985.3,1117.2 985.4,1163.2 985.6,1154.0 985.7,1154.0 985.9,1181.6 986.0,1154.0 986.2,1126.4 986.3,1163.2 986.4,1172.4 986.6,1135.6 986.7,1126.4 986.9,1163.2 987.0,1135.6 987.2,1117.2 987.3,1181.6 987.4,1181.6 987.6,1117.2 987.7,1154.0 987.9,1172.4 988.0,1117.2 988.2,1163.2 988.3,1108.0 988.5,1172.4 988.6,1163.2 988.7,1098.8 988.9,1218.4 989.0,1117.2 989.2,1181.6 989.3,1209.2 989.5,1144.8 989.6,1163.2 989.8,1135.6 989.9,1117.2 990.0,1108.0 990.2,1181.6 990.3,1135.6 990.5,1172.4 990.6,1154.0 990.8,1172.4 990.9,1172.4 991.0,1163.2 991.2,1098.8 991.3,1181.6 991.5,1098.8 991.6,1126.4 991.8,1089.6 991.9,1144.8 992.1,1200.0 992.2,1181.6 992.3,1154.0 992.5,1126.4 992.6,1144.8 992.8,1154.0 992.9,1190.8 993.1,1117.2 993.2,1126.4 993.4,1135.6 993.5,1163.2 993.6,1190.8 993.8,1172.4 993.9,1144.8 994.1,1126.4 994.2,1135.6 994.4,1200.0 994.5,1098.8 994.6,1098.8 994.8,1126.4 994.9,1200.0 995.1,1144.8 995.2,1144.8 995.4,1154.0 995.5,1154.0 995.7,1117.2 995.8,1135.6 995.9,1227.6 996.1,1144.8 996.2,1163.2 996.4,1098.8 996.5,1098.8 996.7,1108.0 996.8,1190.8 997.0,1117.2 997.1,1209.2 997.2,1154.0 997.4,1163.2 997.5,1190.8 997.7,1181.6 997.8,1154.0 998.0,1126.4 998.1,1218.4 998.2,1098.8 998.4,1172.4 998.5,1098.8 998.7,1190.8 998.8,1181.6 999.0,1172.4 999.1,1135.6 999.3,1200.0 999.4,1108.0 999.5,1144.8 999.7,1144.8 999.8,1144.8 1000.0,1108.0 1000.1,1144.8 1000.3,1126.4 1000.4,1117.2 1000.6,1163.2 1000.7,1172.4 1000.8,1154.0 1001.0,1172.4 1001.1,1126.4 1001.3,1144.8 1001.4,1135.6 1001.6,1126.4 1001.7,1181.6 1001.8,1108.0 1002.0,1117.2 1002.1,1181.6 1002.3,1108.0 1002.4,1135.6 1002.6,1200.0 1002.7,1181.6 1002.9,1117.2 1003.0,1190.8 1003.1,1126.4 1003.3,1154.0 1003.4,1154.0 1003.6,1163.2 1003.7,1126.4 1003.9,1190.8 1004.0,1144.8 1004.2,1144.8 1004.3,1135.6 1004.4,1144.8 1004.6,1126.4 1004.7,1108.0 1004.9,1163.2 1005.0,1181.6 1005.2,1117.2 1005.3,1144.8 1005.4,1117.2 1005.6,1172.4 1005.7,1098.8 1005.9,1200.0 1006.0,1040.0 1006.2,1163.2 1006.3,1135.6 1006.5,1117.2 1006.6,1144.8 1006.7,1181.6 1006.9,1108.0 1007.0,1163.2 1007.2,1154.0 1007.3,1126.4 1007.5,1080.4 1007.6,1181.6 1007.8,1190.8 1007.9,1190.8 1008.0,1126.4 1008.2,1135.6 1008.3,1154.0 1008.5,1144.8 1008.6,1144.8 1008.8,1117.2 1008.9,1098.8 1009.0,1200.0 1009.2,1163.2 1009.3,1108.0 1009.5,1080.4 1009.6,1144.8 1009.8,1154.0 1009.9,1190.8 1010.1,1135.6 1010.2,1135.6 1010.3,1190.8 1010.5,1154.0 1010.6,1108.0 1010.8,1108.0 1010.9,1181.6 1011.1,1108.0 1011.2,1126.4 1011.4,1117.2 1011.5,1135.6 1011.6,1163.2 1011.8,1209.2 1011.9,1172.4 1012.1,1108.0 1012.2,1098.8 1012.4,1190.8 1012.5,1126.4 1012.6,1227.6 1012.8,1190.8 1012.9,1163.2 1013.1,1190.8 1013.2,1190.8 1013.4,1144.8 1013.5,1172.4 1013.7,1089.6 1013.8,1154.0 1013.9,1200.0 1014.1,1172.4 1014.2,1117.2 1014.4,1098.8 1014.5,1172.4 1014.7,1117.2 1014.8,1144.8 1015.0,1135.6 1015.1,1098.8 1015.2,1098.8 1015.4,1126.4 1015.5,1163.2 1015.7,1172.4 1015.8,1117.2 1016.0,1144.8 1016.1,1172.4 1016.2,1117.2 1016.4,1190.8 1016.5,1172.4 1016.7,1117.2 1016.8,1135.6 1017.0,1098.8 1017.1,1172.4 1017.3,1126.4 1017.4,1098.8 1017.5,1181.6 1017.7,1172.4 1017.8,1126.4 1018.0,1117.2 1018.1,1117.2 1018.3,1135.6 1018.4,1163.2 1018.6,1144.8 1018.7,1117.2 1018.8,1200.0 1019.0,1126.4 1019.1,1181.6 1019.3,1209.2 1019.4,1227.6 1019.6,1200.0 1019.7,1108.0 1019.8,1117.2 1020.0,1117.2 1020.1,1163.2 1020.3,1126.4 1020.4,1108.0 1020.6,1135.6 1020.7,1154.0 1020.9,1181.6 1021.0,1200.0 1021.1,1190.8 1021.3,1135.6 1021.4,1126.4 1021.6,1117.2 1021.7,1144.8 1021.9,1144.8 1022.0,1144.8 1022.2,1144.8 1022.3,1126.4 1022.4,1135.6 1022.6,1135.6 1022.7,1135.6 1022.9,1135.6 1023.0,1172.4 1023.2,1144.8 1023.3,1126.4 1023.4,1190.8 1023.6,1190.8 1023.7,1172.4 1023.9,1181.6 1024.0,1163.2 1024.2,1209.2 1024.3,1126.4 1024.5,1098.8 1024.6,1098.8 1024.7,1108.0 1024.9,1126.4 1025.0,1126.4 1025.2,1144.8 1025.3,1163.2 1025.5,1163.2 1025.6,1181.6 1025.8,1135.6 1025.9,1126.4 1026.0,1163.2 1026.2,1144.8 1026.3,1117.2 1026.5,1163.2 1026.6,1080.4 1026.8,1126.4 1026.9,1117.2 1027.0,1135.6 1027.2,1163.2 1027.3,1117.2 1027.5,1154.0 1027.6,1163.2 1027.8,1098.8 1027.9,1154.0 1028.1,1154.0 1028.2,1117.2 1028.3,1144.8 1028.5,1181.6 1028.6,1117.2 1028.8,1163.2 1028.9,1154.0 1029.1,1126.4 1029.2,1154.0 1029.4,1144.8 1029.5,1172.4 1029.6,1135.6 1029.8,1154.0 1029.9,1172.4 1030.1,1126.4 1030.2,1200.0 1030.4,1163.2 1030.5,1098.8 1030.6,1144.8 1030.8,1172.4 1030.9,1181.6 1031.1,1209.2 1031.2,1098.8 1031.4,1154.0 1031.5,1135.6 1031.7,1144.8 1031.8,1154.0 1031.9,1181.6 1032.1,1181.6 1032.2,1154.0 1032.4,1209.2 1032.5,1126.4 1032.7,1209.2 1032.8,1117.2 1033.0,1172.4 1033.1,1126.4 1033.2,1200.0 1033.4,1163.2 1033.5,1190.8 1033.7,1126.4 1033.8,1163.2 1034.0,1190.8 1034.1,1117.2 1034.2,1117.2 1034.4,1144.8 1034.5,1144.8 1034.7,1190.8 1034.8,1098.8 1035.0,1200.0 1035.1,1135.6 1035.3,1181.6 1035.4,1144.8 1035.5,1154.0 1035.7,1144.8 1035.8,1172.4 1036.0,1117.2 1036.1,1154.0 1036.3,1163.2 1036.4,1163.2 1036.6,1144.8 1036.7,1154.0 1036.8,1098.8 1037.0,1200.0 1037.1,1209.2 1037.3,1200.0 1037.4,1117.2 1037.6,1172.4 1037.7,1144.8 1037.8,1190.8 1038.0,1050.0 1038.1,1144.8 1038.3,1135.6 1038.4,1181.6 1038.6,1117.2 1038.7,1117.2 1038.9,1117.2 1039.0,1117.2 1039.1,1098.8 1039.3,1200.0 1039.4,1126.4 1039.6,1181.6 1039.7,1181.6 1039.9,1172.4 1040.0,1172.4 1040.2,1126.4 1040.3,1080.4 1040.4,1190.8 1040.6,1163.2 1040.7,1154.0 1040.9,1190.8 1041.0,1144.8 1041.2,1154.0 1041.3,1135.6 1041.4,1190.8 1041.6,1144.8 1041.7,1126.4 1041.9,1190.8 1042.0,1117.2 1042.2,1190.8 1042.3,1172.4 1042.5,1154.0 1042.6,1135.6 1042.7,1154.0 1042.9,1200.0 1043.0,1190.8 1043.2,1172.4 1043.3,1117.2 1043.5,1144.8 1043.6,1200.0 1043.8,1108.0 1043.9,1117.2 1044.0,1209.2 1044.2,1154.0 1044.3,1181.6 1044.5,1200.0 1044.6,1117.2 1044.8,1163.2 1044.9,1117.2 1045.0,1200.0 1045.2,1154.0 1045.3,1154.0 1045.5,1108.0 1045.6,1144.8 1045.8,1098.8 1045.9,1135.6 1046.1,1117.2 1046.2,1117.2 1046.3,1098.8 1046.5,1135.6 1046.6,1144.8 1046.8,1163.2 1046.9,1200.0 1047.1,1190.8 1047.2,1135.6 1047.4,1098.8 1047.5,1200.0 1047.6,1200.0 1047.8,1154.0 1047.9,1126.4 1048.1,1080.4 1048.2,1154.0 1048.4,1154.0 1048.5,1163.2 1048.6,1181.6 1048.8,1200.0 1048.9,1200.0 1049.1,1209.2 1049.2,1108.0 1049.4,1172.4 1049.5,1135.6 1049.7,1181.6 1049.8,1154.0 1049.9,1172.4 1050.1,1190.8 1050.2,1135.6 1050.4,1144.8 1050.5,1126.4 1050.7,1117.2 1050.8,1098.8 1051.0,1144.8 1051.1,1181.6 1051.2,1190.8 1051.4,1209.2 1051.5,1154.0 1051.7,1144.8 1051.8,1154.0 1052.0,1172.4 1052.1,1190.8 1052.2,1126.4 1052.4,1154.0 1052.5,1163.2 1052.7,1126.4 1052.8,1108.0 1053.0,1135.6 1053.1,1200.0 1053.3,1190.8 1053.4,1209.2 1053.5,1144.8 1053.7,1135.6 1053.8,1154.0 1054.0,1209.2 1054.1,1163.2 1054.3,1098.8 1054.4,1181.6 1054.6,1126.4 1054.7,1135.6 1054.8,1126.4 1055.0,1126.4 1055.1,1163.2 1055.3,1200.0 1055.4,1135.6 1055.6,1163.2 1055.7,1190.8 1055.8,1190.8 1056.0,1144.8 1056.1,1181.6 1056.3,1144.8 1056.4,1190.8 1056.6,1144.8 1056.7,1209.2 1056.9,1200.0 1057.0,1126.4 1057.1,1126.4 1057.3,1200.0 1057.4,1154.0 1057.6,1144.8 1057.7,1163.2 1057.9,1108.0 1058.0,1144.8 1058.2,1117.2 1058.3,1126.4 1058.4,1126.4 1058.6,1144.8 1058.7,1098.8 1058.9,1117.2 1059.0,1181.6 1059.2,1144.8 1059.3,1135.6 1059.4,1117.2 1059.6,1126.4 1059.7,1209.2 1059.9,1172.4 1060.0,1135.6 1060.2,1163.2 1060.3,1117.2 1060.5,1181.6 1060.6,1154.0 1060.7,1154.0 1060.9,1163.2 1061.0,1117.2 1061.2,1154.0 1061.3,1117.2 1061.5,1144.8 1061.6,1200.0 1061.8,1181.6 1061.9,1144.8 1062.0,1031.0 1062.2,1190.8 1062.3,1163.2 1062.5,1200.0 1062.6,1144.8 1062.8,1117.2 1062.9,1181.6 1063.0,1135.6 1063.2,1172.4 1063.3,1135.6 1063.5,1163.2 1063.6,1144.8 1063.8,1135.6 1063.9,1154.0 1064.1,1181.6 1064.2,1163.2 1064.3,1135.6 1064.5,1154.0 1064.6,1172.4 1064.8,1200.0 1064.9,1172.4 1065.1,1154.0 1065.2,1190.8 1065.4,1108.0 1065.5,1163.2 1065.6,1135.6 1065.8,1163.2 1065.9,1108.0 1066.1,1200.0 1066.2,1172.4 1066.4,1181.6 1066.5,1144.8 1066.6,1181.6 1066.8,1190.8 1066.9,1144.8 1067.1,1108.0 1067.2,1089.6 1067.4,1135.6 1067.5,1126.4 1067.7,1117.2 1067.8,1163.2 1067.9,1154.0 1068.1,1172.4 1068.2,1190.8 1068.4,1126.4 1068.5,1126.4 1068.7,1144.8 1068.8,1135.6 1069.0,1172.4 1069.1,1108.0 1069.2,1154.0 1069.4,1098.8 1069.5,1108.0 1069.7,1098.8 1069.8,1154.0 1070.0,1154.0 1070.1,1154.0 1070.2,1144.8 1070.4,1200.0 1070.5,1126.4 1070.7,1172.4 1070.8,1135.6 1071.0,1154.0 1071.1,1163.2 1071.3,1135.6 1071.4,1154.0 1071.5,1181.6 1071.7,1154.0 1071.8,1172.4 1072.0,1126.4 1072.1,1200.0 1072.3,1126.4 1072.4,1163.2 1072.6,1154.0 1072.7,1144.8 1072.8,1154.0 1073.0,1190.8 1073.1,1154.0 1073.3,1190.8 1073.4,1172.4 1073.6,1144.8 1073.7,1117.2 1073.8,1071.2 1074.0,1190.8 1074.1,1154.0 1074.3,1144.8 1074.4,1163.2 1074.6,1144.8 1074.7,1117.2 1074.9,1135.6 1075.0,1190.8 1075.1,1144.8 1075.3,1172.4 1075.4,1154.0 1075.6,1190.8 1075.7,1172.4 1075.9,1209.2 1076.0,1163.2 1076.2,1154.0 1076.3,1126.4 1076.4,1209.2 1076.6,1190.8 1076.7,1135.6 1076.9,1200.0 1077.0,1126.4 1077.2,1108.0 1077.3,1172.4 1077.4,1190.8 1077.6,1181.6 1077.7,1135.6 1077.9,1135.6 1078.0,1154.0 1078.2,1135.6 1078.3,1181.6 1078.5,1098.8 1078.6,1181.6 1078.7,1108.0 1078.9,1172.4 1079.0,1144.8 1079.2,1126.4 1079.3,1108.0 1079.5,1190.8 1079.6,1172.4 1079.8,1209.2 1079.9,1154.0 1080.0,1172.4 1080.2,1154.0 1080.3,1154.0 1080.5,1144.8 1080.6,1190.8 1080.8,1172.4 1080.9,1163.2 1081.0,1108.0 1081.2,1154.0 1081.3,1163.2 1081.5,1154.0 1081.6,1135.6 1081.8,1200.0 1081.9,1190.8 1082.1,1209.2 1082.2,1200.0 1082.3,1154.0 1082.5,1144.8 1082.6,1154.0 1082.8,1200.0 1082.9,1181.6 1083.1,1117.2 1083.2,1172.4 1083.4,1117.2 1083.5,1172.4 1083.6,1163.2 1083.8,1126.4 1083.9,1181.6 1084.1,1172.4 1084.2,1163.2 1084.4,1126.4 1084.5,1200.0 1084.6,1108.0 1084.8,1117.2 1084.9,1135.6 1085.1,1108.0 1085.2,1200.0 1085.4,1126.4 1085.5,1190.8 1085.7,1163.2 1085.8,1181.6 1085.9,1209.2 1086.1,1144.8 1086.2,1172.4 1086.4,1163.2 1086.5,1200.0 1086.7,1144.8 1086.8,1172.4 1087.0,1154.0 1087.1,1135.6 1087.2,1181.6 1087.4,1108.0 1087.5,1126.4 1087.7,1190.8 1087.8,1144.8 1088.0,1181.6 1088.1,1181.6 1088.2,1163.2 1088.4,1163.2 1088.5,1154.0 1088.7,1144.8 1088.8,1181.6 1089.0,1190.8 1089.1,1163.2 1089.3,1144.8 1089.4,1190.8 1089.5,1181.6 1089.7,1190.8 1089.8,1154.0 1090.0,1172.4 1090.1,1154.0 1090.3,1126.4 1090.4,1172.4 1090.6,1144.8 1090.7,1209.2 1090.8,1200.0 1091.0,1190.8 1091.1,1108.0 1091.3,1135.6 1091.4,1108.0 1091.6,1126.4 1091.7,1163.2 1091.8,1144.8 1092.0,1154.0 1092.1,1108.0 1092.3,1126.4 1092.4,1172.4 1092.6,1181.6 1092.7,1163.2 1092.9,1154.0 1093.0,1200.0 1093.1,1108.0 1093.3,1126.4 1093.4,1071.2 1093.6,1172.4 1093.7,1181.6 1093.9,1172.4 1094.0,1144.8 1094.2,1172.4 1094.3,1172.4 1094.4,1108.0 1094.6,1190.8 1094.7,1163.2 1094.9,1126.4 1095.0,1144.8 1095.2,1209.2 1095.3,1144.8 1095.4,1181.6 1095.6,1135.6 1095.7,1126.4 1095.9,1172.4 1096.0,1089.6 1096.2,1154.0 1096.3,1181.6 1096.5,1108.0 1096.6,1154.0 1096.7,1190.8 1096.9,1126.4 1097.0,1181.6 1097.2,1172.4 1097.3,1144.8 1097.5,1172.4 1097.6,1108.0 1097.8,1181.6 1097.9,1172.4 1098.0,1209.2 1098.2,1154.0 1098.3,1144.8 1098.5,1117.2 1098.6,1126.4 1098.8,1154.0 1098.9,1209.2 1099.0,1126.4 1099.2,1126.4 1099.3,1108.0 1099.5,1135.6 1099.6,1154.0 1099.8,1117.2 1099.9,1108.0 1100.1,1163.2 1100.2,1144.8 1100.3,1172.4 1100.5,1200.0 1100.6,1126.4 1100.8,1135.6 1100.9,1144.8 1101.1,1190.8 1101.2,1209.2 1101.4,1144.8 1101.5,1190.8 1101.6,1144.8 1101.8,1144.8 1101.9,1200.0 1102.1,1068.0 1102.2,1144.8 1102.4,1126.4 1102.5,1190.8 1102.6,1144.8 1102.8,1144.8 1102.9,1154.0 1103.1,1154.0 1103.2,1144.8 1103.4,1144.8 1103.5,1190.8 1103.7,1108.0 1103.8,1190.8 1103.9,1209.2 1104.1,1126.4 1104.2,1144.8 1104.4,1163.2 1104.5,1098.8 1104.7,1181.6 1104.8,1181.6 1105.0,1172.4 1105.1,1172.4 1105.2,1190.8 1105.4,1190.8 1105.5,1181.6 1105.7,1181.6 1105.8,1190.8 1106.0,1209.2 1106.1,1117.2 1106.2,1144.8 1106.4,1144.8 1106.5,1163.2 1106.7,1209.2 1106.8,1108.0 1107.0,1135.6 1107.1,1135.6 1107.3,1163.2 1107.4,1154.0 1107.5,1098.8 1107.7,1200.0 1107.8,1154.0 1108.0,1190.8 1108.1,1163.2 1108.3,1144.8 1108.4,1190.8 1108.6,1135.6 1108.7,1126.4 1108.8,1172.4 1109.0,1144.8 1109.1,1172.4 1109.3,1190.8 1109.4,1108.0 1109.6,1181.6 1109.7,1163.2 1109.8,1135.6 1110.0,1163.2 1110.1,1154.0 1110.3,1144.8 1110.4,1200.0 1110.6,1181.6 1110.7,1108.0 1110.9,1172.4 1111.0,1181.6 1111.1,1181.6 1111.3,1108.0 1111.4,1163.2 1111.6,1190.8 1111.7,1172.4 1111.9,1163.2 1112.0,1144.8 1112.2,1126.4 1112.3,1163.2 1112.4,1117.2 1112.6,1154.0 1112.7,1181.6 1112.9,1098.8 1113.0,1144.8 1113.2,1163.2 1113.3,1181.6 1113.4,1190.8 1113.6,1098.8 1113.7,1108.0 1113.9,1163.2 1114.0,1126.4 1114.2,1190.8 1114.3,1181.6 1114.5,1126.4 1114.6,1209.2 1114.7,1154.0 1114.9,1154.0 1115.0,1190.8 1115.2,1154.0 1115.3,1098.8 1115.5,1135.6 1115.6,1144.8 1115.8,1117.2 1115.9,1209.2 1116.0,1181.6 1116.2,1144.8 1116.3,1163.2 1116.5,1172.4 1116.6,1181.6 1116.8,1163.2 1116.9,1163.2 1117.0,1144.8 1117.2,1172.4 1117.3,1163.2 1117.5,1181.6 1117.6,1200.0 1117.8,1108.0 1117.9,1163.2 1118.1,1172.4 1118.2,1144.8 1118.3,1181.6 1118.5,1126.4 1118.6,1144.8 1118.8,1135.6 1118.9,1144.8 1119.1,1135.6 1119.2,1144.8 1119.4,1144.8 1119.5,1108.0 1119.6,1172.4 1119.8,1135.6 1119.9,1117.2 1120.1,1135.6 1120.2,1154.0 1120.4,1181.6 1120.5,1154.0 1120.6,1135.6 1120.8,1108.0 1120.9,1190.8 1121.1,1172.4 1121.2,1181.6 1121.4,1154.0 1121.5,1163.2 1121.7,1190.8 1121.8,1089.6 1121.9,1181.6 1122.1,1135.6 1122.2,1163.2 1122.4,1209.2 1122.5,1144.8 1122.7,1135.6 1122.8,1181.6 1123.0,1135.6 1123.1,1117.2 1123.2,1089.6 1123.4,1163.2 1123.5,1172.4 1123.7,1163.2 1123.8,1190.8 1124.0,1126.4 1124.1,1172.4 1124.2,1190.8 1124.4,1144.8 1124.5,1144.8 1124.7,1172.4 1124.8,1200.0 1125.0,1154.0 1125.1,1209.2 1125.3,1135.6 1125.4,1117.2 1125.5,1181.6 1125.7,1154.0 1125.8,1163.2 1126.0,1163.2 1126.1,1154.0 1126.3,1135.6 1126.4,1144.8 1126.6,1126.4 1126.7,1172.4 1126.8,1126.4 1127.0,1172.4 1127.1,1154.0 1127.3,1154.0 1127.4,1154.0 1127.6,1190.8 1127.7,1108.0 1127.8,1200.0 1128.0,1117.2 1128.1,1098.8 1128.3,1218.4 1128.4,1108.0 1128.6,1117.2 1128.7,1144.8 1128.9,1190.8 1129.0,1135.6 1129.1,1163.2 1129.3,1181.6 1129.4,1181.6 1129.6,1098.8 1129.7,1181.6 1129.9,1135.6 1130.0,1144.8 1130.2,1163.2 1130.3,1117.2 1130.4,1172.4 1130.6,1172.4 1130.7,1154.0 1130.9,1154.0 1131.0,1172.4 1131.2,1181.6 1131.3,1200.0 1131.4,1098.8 1131.6,1181.6 1131.7,1117.2 1131.9,1126.4 1132.0,1126.4 1132.2,1172.4 1132.3,1163.2 1132.5,1190.8 1132.6,1154.0 1132.7,1117.2 1132.9,1172.4 1133.0,1135.6 1133.2,1144.8 1133.3,1163.2 1133.5,1144.8 1133.6,1209.2 1133.8,1190.8 1133.9,1154.0 1134.0,1154.0 1134.2,1117.2 1134.3,1144.8 1134.5,1200.0 1134.6,1071.2 1134.8,1154.0 1134.9,1181.6 1135.0,1117.2 1135.2,1181.6 1135.3,1135.6 1135.5,1117.2 1135.6,1163.2 1135.8,1154.0 1135.9,1181.6 1136.1,1181.6 1136.2,1108.0 1136.3,1209.2 1136.5,1135.6 1136.6,1144.8 1136.8,1126.4 1136.9,1126.4 1137.1,1163.2 1137.2,1209.2 1137.4,1181.6 1137.5,1190.8 1137.6,1135.6 1137.8,1126.4 1137.9,1135.6 1138.1,1135.6 1138.2,1190.8 1138.4,1200.0 1138.5,1117.2 1138.6,1200.0 1138.8,1163.2 1138.9,1190.8 1139.1,1209.2 1139.2,1117.2 1139.4,1209.2 1139.5,1154.0 1139.7,1154.0 1139.8,1163.2 1139.9,1126.4 1140.1,1117.2 1140.2,1144.8 1140.4,1172.4 1140.5,1190.8 1140.7,1135.6 1140.8,1209.2 1141.0,1126.4 1141.1,1190.8 1141.2,1154.0 1141.4,1144.8 1141.5,1126.4 1141.7,1163.2 1141.8,1135.6 1142.0,1154.0 1142.1,1181.6 1142.2,1172.4 1142.4,1117.2 1142.5,1200.0 1142.7,1200.0 1142.8,1135.6 1143.0,1144.8 1143.1,1190.8 1143.3,1098.8 1143.4,1154.0 1143.5,1218.4 1143.7,1135.6 1143.8,1163.2 1144.0,1117.2 1144.1,1190.8 1144.3,1126.4 1144.4,1190.8 1144.6,1200.0 1144.7,1181.6 1144.8,1181.6 1145.0,1172.4 1145.1,1200.0 1145.3,1200.0 1145.4,1209.2 1145.6,1172.4 1145.7,1126.4 1145.8,1181.6 1146.0,1144.8 1146.1,1172.4 1146.3,1135.6 1146.4,1190.8 1146.6,1200.0 1146.7,1218.4 1146.9,1154.0 1147.0,1200.0 1147.1,1172.4 1147.3,1163.2 1147.4,1209.2 1147.6,1200.0 1147.7,1135.6 1147.9,1163.2 1148.0,1163.2 1148.2,1163.2 1148.3,1190.8 1148.4,1126.4 1148.6,1126.4 1148.7,1190.8 1148.9,1144.8 1149.0,1172.4 1149.2,1209.2 1149.3,1181.6 1149.4,1218.4 1149.6,1144.8 1149.7,1209.2 1149.9,1135.6 1150.0,1172.4 1150.2,1181.6 1150.3,1089.6 1150.5,1218.4 1150.6,1200.0 1150.7,1172.4 1150.9,1126.4 1151.0,1209.2 1151.2,1154.0 1151.3,1126.4 1151.5,1154.0 1151.6,1190.8 1151.8,1154.0 1151.9,1190.8 1152.0,1126.4 1152.2,1135.6 1152.3,1209.2 1152.5,1135.6 1152.6,1154.0 1152.8,1218.4 1152.9,1218.4 1153.0,1172.4 1153.2,1209.2 1153.3,1190.8 1153.5,1163.2 1153.6,1154.0 1153.8,1250.0 1153.9,1190.8 1154.1,1163.2 1154.2,1172.4 1154.3,1181.6 1154.5,1190.8 1154.6,1200.0 1154.8,1135.6 1154.9,1218.4 1155.1,1181.6 1155.2,1181.6 1155.4,1135.6 1155.5,1200.0 1155.6,1190.8 1155.8,1181.6 1155.9,1163.2 1156.1,1200.0 1156.2,1172.4 1156.4,1209.2 1156.5,1200.0 1156.6,1126.4 1156.8,1154.0 1156.9,1172.4 1157.1,1218.4 1157.2,1172.4 1157.4,1227.6 1157.5,1163.2 1157.7,1181.6 1157.8,1126.4 1157.9,1200.0 1158.1,1117.2 1158.2,1181.6 1158.4,1218.4 1158.5,1218.4 1158.7,1190.8 1158.8,1190.8 1159.0,1209.2 1159.1,1172.4 1159.2,1163.2 1159.4,1135.6 1159.5,1144.8 1159.7,1154.0 1159.8,1190.8 1160.0,1048.0 1160.1,1154.0 1160.2,1163.2 1160.4,1089.6 1160.5,1163.2 1160.7,1126.4 1160.8,1071.2 1161.0,1144.8 1161.1,1089.6 1161.3,1071.2 1161.4,1117.2 1161.5,1062.0 1161.7,1034.4 1161.8,1098.8 1162.0,1062.0 1162.1,1025.2 1162.3,1016.0 1162.4,1043.6 1162.6,1016.0 1162.7,960.8 1162.8,914.8 1163.0,970.0 1163.1,942.4 1163.3,896.4 1163.4,896.4 1163.6,859.6 1163.7,813.6 1163.8,776.8 1164.0,813.6 1164.1,776.8 1164.3,786.0 1164.4,721.6 1164.6,684.8 1164.7,648.0 1164.9,629.6 1165.0,556.0 1165.1,620.4 1165.3,556.0 1165.4,473.2 1165.6,399.6 1165.7,427.2 1165.9,427.2 1166.0,418.0 1166.2,326.0 1166.3,372.0 1166.4,344.4 1166.6,316.8 1166.7,307.6 1166.9,243.2 1167.0,270.8 1167.2,252.4 1167.3,211.0 1167.4,243.2 1167.6,234.0 1167.7,211.0 1167.9,211.0 1168.0,211.0 1168.2,211.0 1168.3,270.8 1168.5,252.4 1168.6,243.2 1168.7,215.6 1168.9,215.6 1169.0,224.8 1169.2,252.4 1169.3,270.8 1169.5,335.2 1169.6,353.6 1169.8,307.6 1169.9,390.4 1170.0,436.4 1170.2,473.2 1170.3,473.2 1170.5,473.2 1170.6,491.6 1170.8,574.4 1170.9,574.4 1171.0,602.0 1171.2,583.6 1171.3,675.6 1171.5,684.8 1171.6,694.0 1171.8,786.0 1171.9,721.6 1172.1,758.4 1172.2,776.8 1172.3,832.0 1172.5,822.8 1172.6,822.8 1172.8,887.2 1172.9,942.4 1173.1,942.4 1173.2,960.8 1173.4,970.0 1173.5,1025.2 1173.6,1016.0 1173.8,1016.0 1173.9,1052.8 1174.1,1025.2 1174.2,1025.2 1174.4,1062.0 1174.5,1098.8 1174.6,1117.2 1174.8,1135.6 1174.9,1052.8 1175.1,1080.4 1175.2,1108.0 1175.4,1089.6 1175.5,1144.8 1175.7,1154.0 1175.8,1163.2 1175.9,1163.2 1176.1,1163.2 1176.2,1117.2 1176.4,1126.4 1176.5,1163.2 1176.7,1218.4 1176.8,1135.6 1177.0,1190.8 1177.1,1135.6 1177.2,1172.4 1177.4,1190.8 1177.5,1200.0 1177.7,1163.2 1177.8,1172.4 1178.0,1172.4 1178.1,1126.4 1178.2,1163.2 1178.4,1190.8 1178.5,1172.4 1178.7,1117.2 1178.8,1190.8 1179.0,1172.4 1179.1,1209.2 1179.3,1144.8 1179.4,1181.6 1179.5,1144.8 1179.7,1209.2 1179.8,1154.0 1180.0,1135.6 1180.1,1172.4 1180.3,1154.0 1180.4,1181.6 1180.6,1163.2 1180.7,1108.0 1180.8,1209.2 1181.0,1209.2 1181.1,1108.0 1181.3,1181.6 1181.4,1163.2 1181.6,1190.8 1181.7,1190.8 1181.8,1126.4 1182.0,1172.4 1182.1,1163.2 1182.3,1135.6 1182.4,1144.8 1182.6,1163.2 1182.7,1163.2 1182.9,1200.0 1183.0,1172.4 1183.1,1181.6 1183.3,1172.4 1183.4,1144.8 1183.6,1126.4 1183.7,1117.2 1183.9,1117.2 1184.0,1117.2 1184.2,1117.2 1184.3,1154.0 1184.4,1144.8 1184.6,1135.6 1184.7,1190.8 1184.9,1154.0 1185.0,1108.0 1185.2,1172.4 1185.3,1135.6 1185.4,1135.6 1185.6,1172.4 1185.7,1163.2 1185.9,1117.2 1186.0,1190.8 1186.2,1135.6 1186.3,1172.4 1186.5,1154.0 1186.6,1163.2 1186.7,1172.4 1186.9,1250.0 1187.0,1135.6 1187.2,1126.4 1187.3,1154.0 1187.5,1209.2 1187.6,1144.8 1187.8,1172.4 1187.9,1181.6 1188.0,1190.8 1188.2,1154.0 1188.3,1209.2 1188.5,1190.8 1188.6,1126.4 1188.8,1172.4 1188.9,1209.2 1189.0,1108.0 1189.2,1163.2 1189.3,1172.4 1189.5,1163.2 1189.6,1172.4 1189.8,1172.4 1189.9,1181.6 1190.1,1144.8 1190.2,1126.4 1190.3,1172.4 1190.5,1108.0 1190.6,1154.0 1190.8,1117.2 1190.9,1135.6 1191.1,1200.0 1191.2,1135.6 1191.4,1154.0 1191.5,1163.2 1191.6,1135.6 1191.8,1163.2 1191.9,1126.4 1192.1,1135.6 1192.2,1163.2 1192.4,1108.0 1192.5,1154.0 1192.6,1163.2 1192.8,1126.4 1192.9,1154.0 1193.1,1098.8 1193.2,1154.0 1193.4,1154.0 1193.5,1089.6 1193.7,1144.8 1193.8,1163.2 1193.9,1126.4 1194.1,1154.0 1194.2,1172.4 1194.4,1209.2 1194.5,1172.4 1194.7,1190.8 1194.8,1163.2 1195.0,1200.0 1195.1,1135.6 1195.2,1117.2 1195.4,1154.0 1195.5,1117.2 1195.7,1144.8 1195.8,1181.6 1196.0,1190.8 1196.1,1172.4 1196.2,1135.6 1196.4,1190.8 1196.5,1200.0 1196.7,1209.2 1196.8,1181.6 1197.0,1135.6 1197.1,1172.4 1197.3,1163.2 1197.4,1200.0 1197.5,1108.0 1197.7,1200.0 1197.8,1108.0 1198.0,1172.4 1198.1,1190.8 1198.3,1181.6 1198.4,1144.8 1198.6,1135.6 1198.7,1200.0 1198.8,1126.4 1199.0,1117.2 1199.1,1135.6 1199.3,1154.0 1199.4,1154.0 1199.6,1126.4 1199.7,1126.4 1199.8,1144.8 1200.0,1144.8 1200.1,1117.2 1200.3,1126.4 1200.4,1209.2 1200.6,1135.6 1200.7,1144.8 1200.9,1181.6 1201.0,1077.0 1201.1,1181.6 1201.3,1190.8 1201.4,1172.4 1201.6,1172.4 1201.7,1098.8 1201.9,1126.4 1202.0,1126.4 1202.2,1154.0 1202.3,1200.0 1202.4,1209.2 1202.6,1181.6 1202.7,1117.2 1202.9,1108.0 1203.0,1190.8 1203.2,1163.2 1203.3,1144.8 1203.4,1108.0 1203.6,1144.8 1203.7,1108.0 1203.9,1117.2 1204.0,1181.6 1204.2,1181.6 1204.3,1135.6 1204.5,1181.6 1204.6,1181.6 1204.7,1190.8 1204.9,1117.2 1205.0,1181.6 1205.2,1154.0 1205.3,1108.0 1205.5,1135.6 1205.6,1135.6 1205.8,1144.8 1205.9,1126.4 1206.0,1126.4 1206.2,1089.6 1206.3,1172.4 1206.5,1144.8 1206.6,1135.6 1206.8,1154.0 1206.9,1163.2 1207.0,1135.6 1207.2,1135.6 1207.3,1154.0 1207.5,1154.0 1207.6,1144.8 1207.8,1163.2 1207.9,1126.4 1208.1,1108.0 1208.2,1089.6 1208.3,1098.8 1208.5,1108.0 1208.6,1098.8 1208.8,1117.2 1208.9,1098.8 1209.1,1062.0 1209.2,1062.0 1209.4,1080.4 1209.5,1089.6 1209.6,1080.4 1209.8,1089.6 1209.9,1052.8 1210.1,1080.4 1210.2,1043.6 1210.4,1034.4 1210.5,1032.0 1210.6,1032.0 1210.8,1032.0 1210.9,1032.0 1211.1,1071.2 1211.2,1071.2 1211.4,1032.0 1211.5,1032.0 1211.7,1071.2 1211.8,1034.4 1211.9,1080.4 1212.1,1032.0 1212.2,1089.6 1212.4,1071.2 1212.5,1108.0 1212.7,1080.4 1212.8,1052.8 1213.0,1098.8 1213.1,1108.0 1213.2,1089.6 1213.4,1080.4 1213.5,1126.4 1213.7,1108.0 1213.8,1098.8 1214.0,1163.2 1214.1,1154.0 1214.2,1071.2 1214.4,1172.4 1214.5,1190.8 1214.7,1144.8 1214.8,1172.4 1215.0,1117.2 1215.1,1144.8 1215.3,1144.8 1215.4,1126.4 1215.5,1190.8 1215.7,1172.4 1215.8,1163.2 1216.0,1154.0 1216.1,1163.2 1216.3,1172.4 1216.4,1190.8 1216.6,1071.2 1216.7,1144.8 1216.8,1154.0 1217.0,1172.4 1217.1,1117.2 1217.3,1209.2 1217.4,1108.0 1217.6,1181.6 1217.7,1135.6 1217.8,1135.6 1218.0,1181.6 1218.1,1181.6 1218.3,1108.0 1218.4,1190.8 1218.6,1135.6 1218.7,1117.2 1218.9,1181.6 1219.0,1126.4 1219.1,1181.6 1219.3,1135.6 1219.4,1163.2 1219.6,1163.2 1219.7,1117.2 1219.9,1172.4 1220.0,1154.0 1220.2,1126.4 1220.3,1172.4 1220.4,1117.2 1220.6,1126.4 1220.7,1181.6 1220.9,1181.6 1221.0,1154.0 1221.2,1163.2 1221.3,1144.8 1221.4,1209.2 1221.6,1135.6 1221.7,1172.4 1221.9,1163.2 1222.0,1108.0 1222.2,1172.4 1222.3,1135.6 1222.5,1209.2 1222.6,1144.8 1222.7,1163.2 1222.9,1172.4 1223.0,1172.4 1223.2,1181.6 1223.3,1144.8 1223.5,1172.4 1223.6,1154.0 1223.8,1144.8 1223.9,1209.2 1224.0,1135.6 1224.2,1080.4 1224.3,1126.4 1224.5,1135.6 1224.6,1154.0 1224.8,1135.6 1224.9,1154.0 1225.0,1163.2 1225.2,1190.8 1225.3,1117.2 1225.5,1154.0 1225.6,1126.4 1225.8,1144.8 1225.9,1200.0 1226.1,1154.0 1226.2,1163.2 1226.3,1163.2 1226.5,1154.0 1226.6,1181.6 1226.8,1108.0 1226.9,1172.4 1227.1,1200.0 1227.2,1135.6 1227.4,1117.2 1227.5,1172.4 1227.6,1108.0 1227.8,1172.4 1227.9,1200.0 1228.1,1154.0 1228.2,1172.4 1228.4,1172.4 1228.5,1209.2 1228.6,1089.6 1228.8,1154.0 1228.9,1200.0 1229.1,1190.8 1229.2,1172.4 1229.4,1154.0 1229.5,1135.6 1229.7,1190.8 1229.8,1181.6 1229.9,1135.6 1230.1,1163.2 1230.2,1172.4 1230.4,1190.8 1230.5,1117.2 1230.7,1172.4 1230.8,1154.0 1231.0,1135.6 1231.1,1135.6 1231.2,1126.4 1231.4,1190.8 1231.5,1154.0 1231.7,1209.2 1231.8,1025.2 1232.0,1190.8 1232.1,1117.2 1232.2,1190.8 1232.4,1117.2 1232.5,1163.2 1232.7,1200.0 1232.8,1108.0 1233.0,1135.6 1233.1,1181.6 1233.3,1200.0 1233.4,1181.6 1233.5,1135.6 1233.7,1200.0 1233.8,1135.6 1234.0,1163.2 1234.1,1154.0 1234.3,1172.4 1234.4,1172.4 1234.6,1181.6 1234.7,1200.0 1234.8,1200.0 1235.0,1126.4 1235.1,1172.4 1235.3,1126.4 1235.4,1172.4 1235.6,1172.4 1235.7,1190.8 1235.8,1190.8 1236.0,1126.4 1236.1,1117.2 1236.3,1172.4 1236.4,1135.6 1236.6,1163.2 1236.7,1108.0 1236.9,1154.0 1237.0,1154.0 1237.1,1144.8 1237.3,1135.6 1237.4,1135.6 1237.6,1135.6 1237.7,1126.4 1237.9,1126.4 1238.0,1117.2 1238.2,1190.8 1238.3,1181.6 1238.4,1126.4 1238.6,1154.0 1238.7,1172.4 1238.9,1209.2 1239.0,1190.8 1239.2,1163.2 1239.3,1144.8 1239.4,1163.2 1239.6,1126.4 1239.7,1163.2 1239.9,1144.8 1240.0,1172.4 1240.2,1172.4 1240.3,1200.0 1240.5,1108.0 1240.6,1163.2 1240.7,1126.4 1240.9,1126.4 1241.0,1135.6 1241.2,1126.4 1241.3,1200.0 1241.5,1181.6 1241.6,1163.2 1241.8,1108.0 1241.9,1172.4 1242.0,1172.4 1242.2,1154.0 1242.3,1181.6 1242.5,1108.0 1242.6,1108.0 1242.8,1190.8 1242.9,1154.0 1243.0,1172.4 1243.2,1117.2 1243.3,1144.8 1243.5,1117.2 1243.6,1126.4 1243.8,1172.4 1243.9,1135.6 1244.1,1126.4 1244.2,1135.6 1244.3,1135.6 1244.5,1144.8 1244.6,1117.2 1244.8,1163.2 1244.9,1126.4 1245.1,1200.0 1245.2,1154.0 1245.4,1172.4 1245.5,1154.0 1245.6,1117.2 1245.8,1135.6 1245.9,1154.0 1246.1,1200.0 1246.2,1190.8 1246.4,1163.2 1246.5,1098.8 1246.6,1098.8 1246.8,1163.2 1246.9,1062.0 1247.1,1135.6 1247.2,1117.2 1247.4,1172.4 1247.5,1144.8 1247.7,1126.4 1247.8,1154.0 1247.9,1209.2 1248.1,1144.8 1248.2,1172.4 1248.4,1200.0 1248.5,1181.6 1248.7,1135.6 1248.8,1126.4 1249.0,1144.8 1249.1,1172.4 1249.2,1163.2 1249.4,1172.4 1249.5,1200.0 1249.7,1172.4 1249.8,1154.0 1250.0,1163.2 1250.1,1218.4 1250.2,1126.4 1250.4,1154.0 1250.5,1108.0 1250.7,1181.6 1250.8,1190.8 1251.0,1154.0 1251.1,1163.2 1251.3,1135.6 1251.4,1190.8 1251.5,1172.4 1251.7,1181.6 1251.8,1200.0 1252.0,1126.4 1252.1,1117.2 1252.3,1108.0 1252.4,1209.2 1252.6,1154.0 1252.7,1163.2 1252.8,1172.4 1253.0,1163.2 1253.1,1154.0 1253.3,1181.6 1253.4,1117.2 1253.6,1181.6 1253.7,1144.8 1253.8,1154.0 1254.0,1163.2 1254.1,1135.6 1254.3,1181.6 1254.4,1108.0 1254.6,1117.2 1254.7,1181.6 1254.9,1209.2 1255.0,1181.6 1255.1,1154.0 1255.3,1144.8 1255.4,1181.6 1255.6,1117.2 1255.7,1154.0 1255.9,1154.0 1256.0,1154.0 1256.2,1172.4 1256.3,1117.2 1256.4,1135.6 1256.6,1190.8 1256.7,1117.2 1256.9,1135.6 1257.0,1163.2 1257.2,1209.2 1257.3,1200.0 1257.4,1172.4 1257.6,1172.4 1257.7,1126.4 1257.9,1181.6 1258.0,1172.4 1258.2,1163.2 1258.3,1154.0 1258.5,1135.6 1258.6,1163.2 1258.7,1181.6 1258.9,1163.2 1259.0,1209.2 1259.2,1135.6 1259.3,1209.2 1259.5,1144.8 1259.6,1190.8 1259.8,1144.8 1259.9,1190.8 1260.0,1163.2 1260.2,1172.4 1260.3,1172.4 1260.5,1163.2 1260.6,1172.4 1260.8,1190.8 1260.9,1154.0 1261.0,1135.6 1261.2,1163.2 1261.3,1172.4 1261.5,1144.8 1261.6,1200.0 1261.8,1135.6 1261.9,1172.4 1262.1,1144.8 1262.2,1154.0 1262.3,1172.4 1262.5,1163.2 1262.6,1117.2 1262.8,1163.2 1262.9,1190.8 1263.1,1154.0 1263.2,1181.6 1263.4,1190.8 1263.5,1172.4 1263.6,1154.0 1263.8,1172.4 1263.9,1154.0 1264.1,1163.2 1264.2,1135.6 1264.4,1190.8 1264.5,1172.4 1264.6,1163.2 1264.8,1181.6 1264.9,1144.8 1265.1,1154.0 1265.2,1181.6 1265.4,1126.4 1265.5,1172.4 1265.7,1144.8 1265.8,1181.6 1265.9,1190.8 1266.1,1154.0 1266.2,1126.4 1266.4,1181.6 1266.5,1144.8 1266.7,1172.4 1266.8,1135.6 1267.0,1154.0 1267.1,1144.8 1267.2,1144.8 1267.4,1172.4 1267.5,1172.4 1267.7,1163.2 1267.8,1181.6 1268.0,1172.4 1268.1,1144.8 1268.2,1209.2 1268.4,1172.4 1268.5,1144.8 1268.7,1135.6 1268.8,1144.8 1269.0,1077.0 1269.1,1154.0 1269.3,1190.8 1269.4,1117.2 1269.5,1144.8 1269.7,1144.8 1269.8,1144.8 1270.0,1218.4 1270.1,1144.8 1270.3,1181.6 1270.4,1163.2 1270.6,1154.0 1270.7,1181.6 1270.8,1181.6 1271.0,1181.6 1271.1,1144.8 1271.3,1190.8 1271.4,1163.2 1271.6,1144.8 1271.7,1163.2 1271.8,1172.4 1272.0,1135.6 1272.1,1172.4 1272.3,1209.2 1272.4,1144.8 1272.6,1190.8 1272.7,1135.6 1272.9,1190.8 1273.0,1181.6 1273.1,1163.2 1273.3,1172.4 1273.4,1200.0 1273.6,1172.4 1273.7,1163.2 1273.9,1172.4 1274.0,1200.0 1274.2,1172.4 1274.3,1181.6 1274.4,1172.4 1274.6,1163.2 1274.7,1209.2 1274.9,1172.4 1275.0,1181.6 1275.2,1144.8 1275.3,1144.8 1275.4,1163.2 1275.6,1190.8 1275.7,1190.8 1275.9,1126.4 1276.0,1200.0 1276.2,1144.8 1276.3,1108.0 1276.5,1209.2 1276.6,1135.6 1276.7,1154.0 1276.9,1200.0 1277.0,1172.4 1277.2,1144.8 1277.3,1172.4 1277.5,1126.4 1277.6,1126.4 1277.8,1172.4 1277.9,1190.8 1278.0,1144.8 1278.2,1126.4 1278.3,1154.0 1278.5,1190.8 1278.6,1135.6 1278.8,1181.6 1278.9,1181.6 1279.0,1181.6 1279.2,1126.4 1279.3,1172.4 1279.5,1154.0 1279.6,1172.4 1279.8,1163.2 1279.9,1154.0 1280.1,1172.4 1280.2,1209.2 1280.3,1190.8 1280.5,1172.4 1280.6,1200.0 1280.8,1154.0 1280.9,1163.2 1281.1,1172.4 1281.2,1181.6 1281.4,1154.0 1281.5,1117.2 1281.6,1181.6 1281.8,1154.0 1281.9,1181.6 1282.1,1144.8 1282.2,1126.4 1282.4,1172.4 1282.5,1172.4 1282.6,1154.0 1282.8,1089.6 1282.9,1163.2 1283.1,1200.0 1283.2,1163.2 1283.4,1154.0 1283.5,1181.6 1283.7,1181.6 1283.8,1126.4 1283.9,1190.8 1284.1,1135.6 1284.2,1126.4 1284.4,1163.2 1284.5,1154.0 1284.7,1172.4 1284.8,1154.0 1285.0,1085.0 1285.1,1126.4 1285.2,1200.0 1285.4,1172.4 1285.5,1144.8 1285.7,1181.6 1285.8,1154.0 1286.0,1190.8 1286.1,1126.4 1286.2,1190.8 1286.4,1144.8 1286.5,1135.6 1286.7,1117.2 1286.8,1181.6 1287.0,1163.2 1287.1,1163.2 1287.3,1190.8 1287.4,1126.4 1287.5,1154.0 1287.7,1181.6 1287.8,1181.6 1288.0,1209.2 1288.1,1200.0 1288.3,1172.4 1288.4,1154.0 1288.6,1163.2 1288.7,1190.8 1288.8,1181.6 1289.0,1163.2 1289.1,1227.6 1289.3,1126.4 1289.4,1209.2 1289.6,1190.8 1289.7,1181.6 1289.8,1144.8 1290.0,1190.8 1290.1,1172.4 1290.3,1144.8 1290.4,1154.0 1290.6,1172.4 1290.7,1200.0 1290.9,1181.6 1291.0,1144.8 1291.1,1181.6 1291.3,1181.6 1291.4,1163.2 1291.6,1181.6 1291.7,1117.2 1291.9,1126.4 1292.0,1181.6 1292.2,1154.0 1292.3,1154.0 1292.4,1190.8 1292.6,1181.6 1292.7,1181.6 1292.9,1209.2 1293.0,1163.2 1293.2,1135.6 1293.3,1135.6 1293.4,1218.4 1293.6,1163.2 1293.7,1181.6 1293.9,1200.0 1294.0,1117.2 1294.2,1172.4 1294.3,1135.6 1294.5,1236.8 1294.6,1163.2 1294.7,1163.2 1294.9,1181.6 1295.0,1163.2 1295.2,1181.6 1295.3,1135.6 1295.5,1200.0 1295.6,1154.0 1295.8,1163.2 1295.9,1144.8 1296.0,1190.8 1296.2,1209.2 1296.3,1144.8 1296.5,1172.4 1296.6,1172.4 1296.8,1154.0 1296.9,1190.8 1297.0,1126.4 1297.2,1135.6 1297.3,1154.0 1297.5,1181.6 1297.6,1181.6 1297.8,1172.4 1297.9,1209.2 1298.1,1190.8 1298.2,1126.4 1298.3,1135.6 1298.5,1144.8 1298.6,1154.0 1298.8,1172.4 1298.9,1209.2 1299.1,1209.2 1299.2,1163.2 1299.4,1163.2 1299.5,1172.4 1299.6,1181.6 1299.8,1163.2 1299.9,1209.2 1300.1,1163.2 1300.2,1144.8 1300.4,1135.6 1300.5,1144.8 1300.6,1172.4 1300.8,1154.0 1300.9,1172.4 1301.1,1154.0 1301.2,1144.8 1301.4,1154.0 1301.5,1190.8 1301.7,1144.8 1301.8,1172.4 1301.9,1163.2 1302.1,1172.4 1302.2,1154.0 1302.4,1181.6 1302.5,1181.6 1302.7,1144.8 1302.8,1135.6 1303.0,1200.0 1303.1,1163.2 1303.2,1154.0 1303.4,1163.2 1303.5,1181.6 1303.7,1190.8 1303.8,1135.6 1304.0,1172.4 1304.1,1144.8 1304.2,1135.6 1304.4,1163.2 1304.5,1181.6 1304.7,1144.8 1304.8,1181.6 1305.0,1172.4 1305.1,1218.4 1305.3,1200.0 1305.4,1163.2 1305.5,1135.6 1305.7,1163.2 1305.8,1135.6 1306.0,1126.4 1306.1,1163.2 1306.3,1144.8 1306.4,1154.0 1306.6,1200.0 1306.7,1172.4 1306.8,1144.8 1307.0,1144.8 1307.1,1126.4 1307.3,1144.8 1307.4,1200.0 1307.6,1190.8 1307.7,1172.4 1307.8,1144.8 1308.0,1117.2 1308.1,1144.8 1308.3,1154.0 1308.4,1163.2 1308.6,1154.0 1308.7,1154.0 1308.9,1117.2 1309.0,1089.6 1309.1,1135.6 1309.3,1135.6 1309.4,1135.6 1309.6,1098.8 1309.7,1062.0 1309.9,1126.4 1310.0,1117.2 1310.2,1108.0 1310.3,1108.0 1310.4,1098.8 1310.6,1089.6 1310.7,1062.0 1310.9,1043.6 1311.0,1052.8 1311.2,1071.2 1311.3,1089.6 1311.4,1043.6 1311.6,1062.0 1311.7,1006.8 1311.9,979.2 1312.0,1025.2 1312.2,1034.4 1312.3,979.2 1312.5,970.0 1312.6,988.4 1312.7,979.2 1312.9,997.6 1313.0,1006.8 1313.2,967.0 1313.3,967.0 1313.5,1043.6 1313.6,997.6 1313.8,967.0 1313.9,967.0 1314.0,967.0 1314.2,967.0 1314.3,967.0 1314.5,967.0 1314.6,979.2 1314.8,988.4 1314.9,967.0 1315.0,967.0 1315.2,967.0 1315.3,970.0 1315.5,967.0 1315.6,1006.8 1315.8,970.0 1315.9,997.6 1316.1,970.0 1316.2,967.0 1316.3,967.0 1316.5,1006.8 1316.6,1006.8 1316.8,979.2 1316.9,997.6 1317.1,1034.4 1317.2,1006.8 1317.4,967.0 1317.5,997.6 1317.6,1052.8 1317.8,1025.2 1317.9,1016.0 1318.1,1034.4 1318.2,1062.0 1318.4,1034.4 1318.5,1025.2 1318.6,1025.2 1318.8,1043.6 1318.9,1098.8 1319.1,1080.4 1319.2,1071.2 1319.4,1098.8 1319.5,1080.4 1319.7,1126.4 1319.8,1108.0 1319.9,1135.6 1320.1,1117.2 1320.2,1108.0 1320.4,1108.0 1320.5,1108.0 1320.7,1144.8 1320.8,1144.8 1321.0,1172.4 1321.1,1126.4 1321.2,1135.6 1321.4,1126.4 1321.5,1154.0 1321.7,1144.8 1321.8,1154.0 1322.0,1135.6 1322.1,1126.4 1322.2,1154.0 1322.4,1172.4 1322.5,1144.8 1322.7,1135.6 1322.8,1117.2 1323.0,1190.8 1323.1,1154.0 1323.3,1144.8 1323.4,1135.6 1323.5,1154.0 1323.7,1154.0 1323.8,1154.0 1324.0,1144.8 1324.1,1154.0 1324.3,1135.6 1324.4,1144.8 1324.6,1163.2 1324.7,1135.6 1324.8,1190.8 1325.0,1181.6 1325.1,1135.6 1325.3,1144.8 1325.4,1135.6 1325.6,1209.2 1325.7,1126.4 1325.8,1135.6 1326.0,1181.6 1326.1,1190.8 1326.3,1126.4 1326.4,1163.2 1326.6,1126.4 1326.7,1135.6 1326.9,1190.8 1327.0,1218.4 1327.1,1163.2 1327.3,1190.8 1327.4,1117.2 1327.6,1190.8 1327.7,1135.6 1327.9,1190.8 1328.0,1200.0 1328.2,1126.4 1328.3,1117.2 1328.4,1209.2 1328.6,1126.4 1328.7,1154.0 1328.9,1190.8 1329.0,1163.2 1329.2,1126.4 1329.3,1209.2 1329.4,1200.0 1329.6,1172.4 1329.7,1209.2 1329.9,1190.8 1330.0,1154.0 1330.2,1135.6 1330.3,1181.6 1330.5,1144.8 1330.6,1181.6 1330.7,1218.4 1330.9,1181.6 1331.0,1163.2 1331.2,1154.0 1331.3,1163.2 1331.5,1200.0 1331.6,1163.2 1331.8,1200.0 1331.9,1190.8 1332.0,1154.0 1332.2,1209.2 1332.3,1126.4 1332.5,1181.6 1332.6,1135.6 1332.8,1181.6 1332.9,1181.6 1333.0,1144.8 1333.2,1163.2 1333.3,1126.4 1333.5,1209.2 1333.6,1154.0 1333.8,1144.8 1333.9,1181.6 1334.1,1163.2 1334.2,1172.4 1334.3,1163.2 1334.5,1144.8 1334.6,1144.8 1334.8,1200.0 1334.9,1172.4 1335.1,1163.2 1335.2,1190.8 1335.4,1172.4 1335.5,1144.8 1335.6,1163.2 1335.8,1181.6 1335.9,1144.8 1336.1,1209.2 1336.2,1144.8 1336.4,1181.6 1336.5,1117.2 1336.6,1126.4 1336.8,1236.8 1336.9,1126.4 1337.1,1172.4 1337.2,1181.6 1337.4,1181.6 1337.5,1190.8 1337.7,1126.4 1337.8,1144.8 1337.9,1181.6 1338.1,1098.8 1338.2,1190.8 1338.4,1154.0 1338.5,1117.2 1338.7,1135.6 1338.8,1190.8 1339.0,1135.6 1339.1,1163.2 1339.2,1154.0 1339.4,1209.2 1339.5,1126.4 1339.7,1080.4 1339.8,1172.4 1340.0,1200.0 1340.1,1181.6 1340.2,1163.2 1340.4,1135.6 1340.5,1181.6 1340.7,1172.4 1340.8,1144.8 1341.0,1144.8 1341.1,1144.8 1341.3,1144.8 1341.4,1144.8 1341.5,1190.8 1341.7,1154.0 1341.8,1089.6 1342.0,1172.4 1342.1,1135.6 1342.3,1190.8 1342.4,1209.2 1342.6,1071.2 1342.7,1190.8 1342.8,1126.4 1343.0,1172.4 1343.1,1181.6 1343.3,1163.2 1343.4,1190.8 1343.6,1190.8 1343.7,1209.2 1343.8,1163.2 1344.0,1154.0 1344.1,1144.8 1344.3,1163.2 1344.4,1163.2 1344.6,1117.2 1344.7,1200.0 1344.9,1190.8 1345.0,1135.6 1345.1,1163.2 1345.3,1190.8 1345.4,1163.2 1345.6,1135.6 1345.7,1181.6 1345.9,1154.0 1346.0,1218.4 1346.2,1163.2 1346.3,1181.6 1346.4,1172.4 1346.6,1172.4 1346.7,1200.0 1346.9,1135.6 1347.0,1085.0 1347.2,1163.2 1347.3,1200.0 1347.4,1135.6 1347.6,1163.2 1347.7,1126.4 1347.9,1236.8 1348.0,1190.8 1348.2,1172.4 1348.3,1200.0 1348.5,1218.4 1348.6,1200.0 1348.7,1126.4 1348.9,1126.4 1349.0,1163.2 1349.2,1200.0 1349.3,1144.8 1349.5,1135.6 1349.6,1135.6 1349.8,1117.2 1349.9,1200.0 1350.0,1126.4 1350.2,1200.0 1350.3,1190.8 1350.5,1181.6 1350.6,1181.6 1350.8,1190.8 1350.9,1135.6 1351.0,1172.4 1351.2,1181.6 1351.3,1172.4 1351.5,1200.0 1351.6,1181.6 1351.8,1117.2 1351.9,1098.8 1352.1,1190.8 1352.2,1144.8 1352.3,1200.0 1352.5,1190.8 1352.6,1135.6 1352.8,1144.8 1352.9,1181.6 1353.1,1163.2 1353.2,1117.2 1353.4,1154.0 1353.5,1163.2 1353.6,1144.8 1353.8,1181.6 1353.9,1163.2 1354.1,1172.4 1354.2,1154.0 1354.4,1154.0 1354.5,1200.0 1354.6,1190.8 1354.8,1126.4 1354.9,1163.2 1355.1,1163.2 1355.2,1200.0 1355.4,1163.2 1355.5,1163.2 1355.7,1126.4 1355.8,1181.6 1355.9,1200.0 1356.1,1126.4 1356.2,1135.6 1356.4,1172.4 1356.5,1200.0 1356.7,1190.8 1356.8,1181.6 1357.0,1144.8 1357.1,1126.4 1357.2,1181.6 1357.4,1200.0 1357.5,1154.0 1357.7,1172.4 1357.8,1190.8 1358.0,1181.6 1358.1,1172.4 1358.2,1154.0 1358.4,1154.0 1358.5,1154.0 1358.7,1135.6 1358.8,1154.0 1359.0,1154.0 1359.1,1144.8 1359.3,1200.0 1359.4,1181.6 1359.5,1200.0 1359.7,1163.2 1359.8,1154.0 1360.0,1209.2 1360.1,1135.6 1360.3,1190.8 1360.4,1190.8 1360.6,1163.2 1360.7,1126.4 1360.8,1163.2 1361.0,1209.2 1361.1,1163.2 1361.3,1209.2 1361.4,1154.0 1361.6,1190.8 1361.7,1181.6 1361.8,1163.2 1362.0,1135.6 1362.1,1154.0 1362.3,1190.8 1362.4,1181.6 1362.6,1181.6 1362.7,1154.0 1362.9,1117.2 1363.0,1190.8 1363.1,1181.6 1363.3,1144.8 1363.4,1181.6 1363.6,1135.6 1363.7,1117.2 1363.9,1117.2 1364.0,1117.2 1364.2,1135.6 1364.3,1108.0 1364.4,1108.0 1364.6,1089.6 1364.7,1135.6 1364.9,1062.0 1365.0,1117.2 1365.2,1080.4 1365.3,1062.0 1365.4,1080.4 1365.6,997.6 1365.7,1025.2 1365.9,1071.2 1366.0,1006.8 1366.2,1052.8 1366.3,997.6 1366.5,951.6 1366.6,942.4 1366.7,933.2 1366.9,942.4 1367.0,942.4 1367.2,905.6 1367.3,905.6 1367.5,905.6 1367.6,914.8 1367.8,795.2 1367.9,878.0 1368.0,868.8 1368.2,804.4 1368.3,813.6 1368.5,850.4 1368.6,804.4 1368.8,776.8 1368.9,758.4 1369.0,749.2 1369.2,767.6 1369.3,767.6 1369.5,747.0 1369.6,776.8 1369.8,767.6 1369.9,767.6 1370.1,747.0 1370.2,776.8 1370.3,776.8 1370.5,749.2 1370.6,747.0 1370.8,767.6 1370.9,776.8 1371.1,813.6 1371.2,795.2 1371.4,804.4 1371.5,776.8 1371.6,832.0 1371.8,868.8 1371.9,878.0 1372.1,832.0 1372.2,868.8 1372.4,859.6 1372.5,933.2 1372.6,887.2 1372.8,905.6 1372.9,896.4 1373.1,970.0 1373.2,960.8 1373.4,997.6 1373.5,924.0 1373.7,979.2 1373.8,1052.8 1373.9,988.4 1374.1,1016.0 1374.2,997.6 1374.4,1052.8 1374.5,1062.0 1374.7,1062.0 1374.8,1043.6 1375.0,1117.2 1375.1,1062.0 1375.2,1117.2 1375.4,1135.6 1375.5,1089.6 1375.7,1117.2 1375.8,1154.0 1376.0,1098.8 1376.1,1098.8 1376.2,1144.8 1376.4,1181.6 1376.5,1071.2 1376.7,1135.6 1376.8,1190.8 1377.0,1163.2 1377.1,1190.8 1377.3,1108.0 1377.4,1190.8 1377.5,1117.2 1377.7,1172.4 1377.8,1126.4 1378.0,1135.6 1378.1,1190.8 1378.3,1154.0 1378.4,1209.2 1378.6,1126.4 1378.7,1126.4 1378.8,1181.6 1379.0,1190.8 1379.1,1163.2 1379.3,1135.6 1379.4,1209.2 1379.6,1135.6 1379.7,1181.6 1379.8,1117.2 1380.0,1181.6 1380.1,1209.2 1380.3,1181.6 1380.4,1181.6 1380.6,1172.4 1380.7,1172.4 1380.9,1117.2 1381.0,1126.4 1381.1,1126.4 1381.3,1163.2 1381.4,1209.2 1381.6,1200.0 1381.7,1117.2 1381.9,1154.0 1382.0,1190.8 1382.2,1181.6 1382.3,1181.6 1382.4,1144.8 1382.6,1209.2 1382.7,1172.4 1382.9,1209.2 1383.0,1163.2 1383.2,1172.4 1383.3,1108.0 1383.4,1098.8 1383.6,1108.0 1383.7,1126.4 1383.9,1135.6 1384.0,1154.0 1384.2,1172.4 1384.3,1163.2 1384.5,1154.0 1384.6,1126.4 1384.7,1135.6 1384.9,1181.6 1385.0,1181.6 1385.2,1135.6 1385.3,1135.6 1385.5,1209.2 1385.6,1181.6 1385.8,1190.8 1385.9,1126.4 1386.0,1135.6 1386.2,1126.4 1386.3,1108.0 1386.5,1154.0 1386.6,1135.6 1386.8,1117.2 1386.9,1108.0 1387.0,1190.8 1387.2,1135.6 1387.3,1098.8 1387.5,1144.8 1387.6,1126.4 1387.8,1135.6 1387.9,1190.8 1388.1,1126.4 1388.2,1135.6 1388.3,1172.4 1388.5,1163.2 1388.6,1154.0 1388.8,1181.6 1388.9,1117.2 1389.1,1209.2 1389.2,1181.6 1389.4,1200.0 1389.5,1154.0 1389.6,1190.8 1389.8,1181.6 1389.9,1200.0 1390.1,1108.0 1390.2,1163.2 1390.4,1098.8 1390.5,1126.4 1390.6,1126.4 1390.8,1209.2 1390.9,1108.0 1391.1,1163.2 1391.2,1163.2 1391.4,1163.2 1391.5,1108.0 1391.7,1172.4 1391.8,1154.0 1391.9,1172.4 1392.1,1135.6 1392.2,1163.2 1392.4,1135.6 1392.5,1200.0 1392.7,1144.8 1392.8,1126.4 1393.0,1163.2 1393.1,1163.2 1393.2,1181.6 1393.4,1135.6 1393.5,1135.6 1393.7,1181.6 1393.8,1181.6 1394.0,1163.2 1394.1,1181.6 1394.2,1250.0 1394.4,1209.2 1394.5,1172.4 1394.7,1108.0 1394.8,1154.0 1395.0,1144.8 1395.1,1135.6 1395.3,1135.6 1395.4,1154.0 1395.5,1126.4 1395.7,1163.2 1395.8,1200.0 1396.0,1181.6 1396.1,1181.6 1396.3,1135.6 1396.4,1154.0 1396.6,1181.6 1396.7,1200.0 1396.8,1218.4 1397.0,1163.2 1397.1,1163.2 1397.3,1190.8 1397.4,1135.6 1397.6,1172.4 1397.7,1144.8 1397.8,1154.0 1398.0,1190.8 1398.1,1117.2 1398.3,1181.6 1398.4,1117.2 1398.6,1144.8 1398.7,1154.0 1398.9,1163.2 1399.0,1163.2 1399.1,1181.6 1399.3,1200.0 1399.4,1181.6 1399.6,1098.8 1399.7,1154.0 1399.9,1135.6 1400.0,1154.0 1400.2,1126.4 1400.3,1154.0 1400.4,1154.0 1400.6,1190.8 1400.7,1144.8 1400.9,1144.8 1401.0,1126.4 1401.2,1190.8 1401.3,1126.4 1401.4,1172.4 1401.6,1200.0 1401.7,1200.0 1401.9,1154.0 1402.0,1190.8 1402.2,1181.6 1402.3,1144.8 1402.5,1126.4 1402.6,1209.2 1402.7,1144.8 1402.9,1154.0 1403.0,1190.8 1403.2,1108.0 1403.3,1190.8 1403.5,1163.2 1403.6,1172.4 1403.8,1126.4 1403.9,1126.4 1404.0,1172.4 1404.2,1108.0 1404.3,1154.0 1404.5,1190.8 1404.6,1200.0 1404.8,1181.6 1404.9,1154.0 1405.0,1126.4 1405.2,1200.0 1405.3,1181.6 1405.5,1144.8 1405.6,1209.2 1405.8,1144.8 1405.9,1172.4 1406.1,1200.0 1406.2,1181.6 1406.3,1172.4 1406.5,1163.2 1406.6,1163.2 1406.8,1154.0 1406.9,1154.0 1407.1,1066.0 1407.2,1172.4 1407.4,1154.0 1407.5,1135.6 1407.6,1200.0 1407.8,1108.0 1407.9,1181.6 1408.1,1190.8 1408.2,1135.6 1408.4,1117.2 1408.5,1144.8 1408.6,1135.6 1408.8,1126.4 1408.9,1200.0 1409.1,1163.2 1409.2,1117.2 1409.4,1200.0 1409.5,1117.2 1409.7,1135.6 1409.8,1172.4 1409.9,1190.8 1410.1,1117.2 1410.2,1163.2 1410.4,1190.8 1410.5,1181.6 1410.7,1163.2 1410.8,1108.0 1411.0,1209.2 1411.1,1163.2 1411.2,1117.2 1411.4,1117.2 1411.5,1135.6 1411.7,1163.2 1411.8,1172.4 1412.0,1117.2 1412.1,1172.4 1412.2,1154.0 1412.4,1163.2 1412.5,1144.8 1412.7,1172.4 1412.8,1209.2 1413.0,1163.2 1413.1,1172.4 1413.3,1172.4 1413.4,1190.8 1413.5,1154.0 1413.7,1154.0 1413.8,1209.2 1414.0,1200.0 1414.1,1144.8 1414.3,1108.0 1414.4,1135.6 1414.6,1144.8 1414.7,1172.4 1414.8,1163.2 1415.0,1135.6 1415.1,1144.8 1415.3,1181.6 1415.4,1117.2 1415.6,1190.8 1415.7,1209.2 1415.8,1172.4 1416.0,1209.2 1416.1,1135.6 1416.3,1190.8 1416.4,1181.6 1416.6,1126.4 1416.7,1190.8 1416.9,1108.0 1417.0,1190.8 1417.1,1218.4 1417.3,1181.6 1417.4,1209.2 1417.6,1227.6 1417.7,1163.2 1417.9,1126.4 1418.0,1135.6 1418.2,1144.8 1418.3,1181.6 1418.4,1172.4 1418.6,1154.0 1418.7,1144.8 1418.9,1209.2 1419.0,1190.8 1419.2,1190.8 1419.3,1144.8 1419.4,1200.0 1419.6,1209.2 1419.7,1135.6 1419.9,1126.4 1420.0,1172.4 1420.2,1200.0 1420.3,1154.0 1420.5,1117.2 1420.6,1200.0 1420.7,1135.6 1420.9,1108.0 1421.0,1144.8 1421.2,1190.8 1421.3,1181.6 1421.5,1181.6 1421.6,1154.0 1421.8,1181.6 1421.9,1144.8 1422.0,1163.2 1422.2,1108.0 1422.3,1126.4 1422.5,1181.6 1422.6,1117.2 1422.8,1172.4 1422.9,1209.2 1423.0,1117.2 1423.2,1163.2 1423.3,1126.4 1423.5,1181.6 1423.6,1218.4 1423.8,1126.4 1423.9,1098.8 1424.1,1066.0 1424.2,1154.0 1424.3,1135.6 1424.5,1163.2 1424.6,1126.4 1424.8,1163.2 1424.9,1135.6 1425.1,1190.8 1425.2,1209.2 1425.4,1172.4 1425.5,1172.4 1425.6,1209.2 1425.8,1117.2 1425.9,1154.0 1426.1,1190.8 1426.2,1117.2 1426.4,1209.2 1426.5,1108.0 1426.6,1108.0 1426.8,1190.8 1426.9,1172.4 1427.1,1218.4 1427.2,1172.4 1427.4,1236.8 1427.5,1209.2 1427.7,1181.6 1427.8,1200.0 1427.9,1117.2 1428.1,1181.6 1428.2,1108.0 1428.4,1172.4 1428.5,1135.6 1428.7,1126.4 1428.8,1154.0 1429.0,1172.4 1429.1,1163.2 1429.2,1144.8 1429.4,1172.4 1429.5,1200.0 1429.7,1135.6 1429.8,1117.2 1430.0,1135.6 1430.1,1117.2 1430.2,1163.2 1430.4,1190.8 1430.5,1163.2 1430.7,1135.6 1430.8,1181.6 1431.0,1190.8 1431.1,1154.0 1431.3,1163.2 1431.4,1117.2 1431.5,1200.0 1431.7,1154.0 1431.8,1172.4 1432.0,1098.8 1432.1,1108.0 1432.3,1163.2 1432.4,1218.4 1432.6,1190.8 1432.7,1135.6 1432.8,1163.2 1433.0,1190.8 1433.1,1172.4 1433.3,1163.2 1433.4,1172.4 1433.6,1209.2 1433.7,1154.0 1433.8,1135.6 1434.0,1163.2 1434.1,1126.4 1434.3,1071.2 1434.4,1135.6 1434.6,1209.2 1434.7,1190.8 1434.9,1218.4 1435.0,1144.8 1435.1,1154.0 1435.3,1117.2 1435.4,1117.2 1435.6,1154.0 1435.7,1117.2 1435.9,1108.0 1436.0,1058.0 1436.2,1218.4 1436.3,1135.6 1436.4,1200.0 1436.6,1135.6 1436.7,1163.2 1436.9,1163.2 1437.0,1209.2 1437.2,1181.6 1437.3,1163.2 1437.4,1190.8 1437.6,1126.4 1437.7,1181.6 1437.9,1218.4 1438.0,1190.8 1438.2,1126.4 1438.3,1172.4 1438.5,1144.8 1438.6,1117.2 1438.7,1144.8 1438.9,1135.6 1439.0,1126.4 1439.2,1154.0 1439.3,1126.4 1439.5,1181.6 1439.6,1117.2 1439.8,1181.6 1439.9,1163.2 1440.0,1154.0 1440.2,1163.2 1440.3,1108.0 1440.5,1172.4 1440.6,1098.8 1440.8,1117.2 1440.9,1190.8 1441.0,1190.8 1441.2,1181.6 1441.3,1163.2 1441.5,1117.2 1441.6,1172.4 1441.8,1172.4 1441.9,1190.8 1442.1,1144.8 1442.2,1108.0 1442.3,1163.2 1442.5,1172.4 1442.6,1163.2 1442.8,1200.0 1442.9,1154.0 1443.1,1172.4 1443.2,1126.4 1443.4,1172.4 1443.5,1135.6 1443.6,1154.0 1443.8,1144.8 1443.9,1135.6 1444.1,1144.8 1444.2,1209.2 1444.4,1126.4 1444.5,1154.0 1444.6,1172.4 1444.8,1144.8 1444.9,1144.8 1445.1,1163.2 1445.2,1172.4 1445.4,1135.6 1445.5,1117.2 1445.7,1172.4 1445.8,1154.0 1445.9,1190.8 1446.1,1144.8 1446.2,1135.6 1446.4,1144.8 1446.5,1190.8 1446.7,1250.0 1446.8,1108.0 1447.0,1154.0 1447.1,1218.4 1447.2,1144.8 1447.4,1209.2 1447.5,1117.2 1447.7,1135.6 1447.8,1209.2 1448.0,1209.2 1448.1,1163.2 1448.2,1144.8 1448.4,1163.2 1448.5,1135.6 1448.7,1126.4 1448.8,1034.4 1449.0,1144.8 1449.1,1126.4 1449.3,1144.8 1449.4,1154.0 1449.5,1135.6 1449.7,1163.2 1449.8,1200.0 1450.0,1172.4 1450.1,1154.0 1450.3,1108.0 1450.4,1154.0 1450.6,1117.2 1450.7,1227.6 1450.8,1181.6 1451.0,1135.6 1451.1,1163.2 1451.3,1144.8 1451.4,1172.4 1451.6,1181.6 1451.7,1071.2 1451.8,1200.0 1452.0,1144.8 1452.1,1117.2 1452.3,1126.4 1452.4,1181.6 1452.6,1098.8 1452.7,1144.8 1452.9,1154.0 1453.0,1172.4 1453.1,1126.4 1453.3,1181.6 1453.4,1135.6 1453.6,1144.8 1453.7,1154.0 1453.9,1154.0 1454.0,1200.0 1454.2,1190.8 1454.3,1200.0 1454.4,1163.2 1454.6,1190.8 1454.7,1172.4 1454.9,1135.6 1455.0,1181.6 1455.2,1144.8 1455.3,1172.4 1455.4,1172.4 1455.6,1218.4 1455.7,1172.4 1455.9,1181.6 1456.0,1209.2 1456.2,1172.4 1456.3,1108.0 1456.5,1108.0 1456.6,1172.4 1456.7,1144.8 1456.9,1190.8 1457.0,1135.6 1457.2,1126.4 1457.3,1190.8 1457.5,1209.2 1457.6,1172.4 1457.8,1218.4 1457.9,1172.4 1458.0,1209.2 1458.2,1200.0 1458.3,1117.2 1458.5,1250.0 1458.6,1135.6 1458.8,1200.0 1458.9,1200.0 1459.0,1190.8 1459.2,1126.4 1459.3,1154.0 1459.5,1172.4 1459.6,1163.2 1459.8,1209.2 1459.9,1144.8 1460.1,1144.8 1460.2,1172.4 1460.3,1227.6 1460.5,1218.4 1460.6,1117.2 1460.8,1172.4 1460.9,1144.8 1461.1,1117.2 1461.2,1190.8 1461.4,1218.4 1461.5,1154.0 1461.6,1144.8 1461.8,1181.6 1461.9,1190.8 1462.1,1181.6 1462.2,1209.2 1462.4,1154.0 1462.5,1163.2 1462.6,1200.0 1462.8,1209.2 1462.9,1190.8 1463.1,1163.2 1463.2,1181.6 1463.4,1200.0 1463.5,1209.2 1463.7,1200.0 1463.8,1200.0 1463.9,1144.8 1464.1,1163.2 1464.2,1200.0 1464.4,1172.4 1464.5,1154.0 1464.7,1218.4 1464.8,1200.0 1465.0,1172.4 1465.1,1181.6 1465.2,1163.2 1465.4,1172.4 1465.5,1200.0 1465.7,1200.0 1465.8,1172.4 1466.0,1163.2 1466.1,1209.2 1466.2,1117.2 1466.4,1172.4 1466.5,1144.8 1466.7,1163.2 1466.8,1209.2 1467.0,1218.4 1467.1,1200.0 1467.3,1163.2 1467.4,1181.6 1467.5,1163.2 1467.7,1190.8 1467.8,1144.8 1468.0,1200.0 1468.1,1181.6 1468.3,1163.2 1468.4,1200.0 1468.6,1200.0 1468.7,1172.4 1468.8,1218.4 1469.0,1181.6 1469.1,1144.8 1469.3,1181.6 1469.4,1181.6 1469.6,1172.4 1469.7,1181.6 1469.8,1163.2 1470.0,1172.4 1470.1,1172.4 1470.3,1200.0 1470.4,1163.2 1470.6,1163.2 1470.7,1200.0 1470.9,1172.4 1471.0,1181.6 1471.1,1190.8 1471.3,1209.2 1471.4,1172.4 1471.6,1190.8 1471.7,1172.4 1471.9,1200.0 1472.0,1163.2 1472.2,1181.6 1472.3,1172.4 1472.4,1172.4 1472.6,1227.6 1472.7,1172.4 1472.9,1218.4 1473.0,1200.0 1473.2,1200.0 1473.3,1163.2 1473.4,1172.4 1473.6,1190.8 1473.7,1172.4 1473.9,1172.4 1474.0,1154.0 1474.2,1200.0 1474.3,1200.0 1474.5,1190.8 1474.6,1218.4 1474.7,1190.8 1474.9,1190.8 1475.0,1190.8 1475.2,1200.0 1475.3,1154.0 1475.5,1181.6 1475.6,1190.8 1475.8,1218.4 1475.9,1181.6 1476.0,1190.8 1476.2,1154.0 1476.3,1190.8 1476.5,1190.8 1476.6,1154.0 1476.8,1181.6 1476.9,1200.0 1477.0,1190.8 1477.2,1181.6 1477.3,1200.0 1477.5,1200.0 1477.6,1190.8 1477.8,1163.2 1477.9,1218.4 1478.1,1172.4 1478.2,1200.0 1478.3,1218.4 1478.5,1200.0 1478.6,1144.8 1478.8,1190.8 1478.9,1209.2 1479.1,1190.8 1479.2,1163.2 1479.4,1181.6 1479.5,1218.4 1479.6,1200.0 1479.8,1172.4 1479.9,1200.0 1480.1,1181.6 1480.2,1218.4 1480.4,1172.4 1480.5,1200.0 1480.6,1190.8 1480.8,1181.6 1480.9,1144.8 1481.1,1181.6 1481.2,1200.0 1481.4,1172.4 1481.5,1163.2 1481.7,1154.0 1481.8,1190.8 1481.9,1154.0 1482.1,1209.2 1482.2,1172.4 1482.4,1190.8 1482.5,1181.6 1482.7,1181.6 1482.8,1172.4 1483.0,1172.4 1483.1,1163.2 1483.2,1154.0 1483.4,1200.0 1483.5,1172.4 1483.7,1181.6 1483.8,1181.6 1484.0,1200.0 1484.1,1172.4 1484.2,1144.8 1484.4,1190.8 1484.5,1172.4 1484.7,1154.0 1484.8,1190.8 1485.0,1144.8 1485.1,1181.6 1485.3,1181.6 1485.4,1172.4 1485.5,1190.8 1485.7,1181.6 1485.8,1154.0 1486.0,1190.8 1486.1,1200.0 1486.3,1218.4 1486.4,1200.0 1486.6,1190.8 1486.7,1190.8 1486.8,1190.8 1487.0,1181.6 1487.1,1190.8 1487.3,1172.4 1487.4,1163.2 1487.6,1218.4 1487.7,1218.4 1487.8,1172.4 1488.0,1218.4 1488.1,1154.0 1488.3,1163.2 1488.4,1172.4 1488.6,1172.4 1488.7,1163.2 1488.9,1181.6 1489.0,1218.4 1489.1,1190.8 1489.3,1218.4 1489.4,1200.0 1489.6,1200.0 1489.7,1181.6 1489.9,1218.4 1490.0,1181.6 1490.2,1181.6 1490.3,1172.4 1490.4,1200.0 1490.6,1190.8 1490.7,1209.2 1490.9,1181.6 1491.0,1181.6 1491.2,1190.8 1491.3,1190.8 1491.4,1200.0 1491.6,1200.0 1491.7,1190.8 1491.9,1172.4 1492.0,1163.2 1492.2,1154.0 1492.3,1181.6 1492.5,1163.2 1492.6,1172.4 1492.7,1181.6 1492.9,1190.8 1493.0,1172.4 1493.2,1200.0 1493.3,1218.4 1493.5,1172.4 1493.6,1200.0 1493.8,1172.4 1493.9,1163.2 1494.0,1190.8 1494.2,1163.2 1494.3,1154.0 1494.5,1172.4 1494.6,1163.2 1494.8,1144.8 1494.9,1144.8 1495.0,1218.4 1495.2,1200.0 1495.3,1181.6 1495.5,1154.0 1495.6,1200.0 1495.8,1218.4 1495.9,1218.4 1496.1,1227.6 1496.2,1190.8 1496.3,1172.4 1496.5,1190.8 1496.6,1126.4 1496.8,1200.0 1496.9,1163.2 1497.1,1227.6 1497.2,1200.0 1497.4,1190.8 1497.5,1163.2 1497.6,1200.0 1497.8,1154.0 1497.9,1172.4 1498.1,1181.6 1498.2,1209.2 1498.4,1181.6 1498.5,1172.4 1498.6,1200.0 1498.8,1163.2 1498.9,1227.6 1499.1,1144.8 1499.2,1209.2 1499.4,1209.2 1499.5,1209.2 1499.7,1209.2 1499.8,1172.4 1499.9,1200.0 1500.1,1135.6 1500.2,1209.2 1500.4,1172.4 1500.5,1218.4 1500.7,1190.8 1500.8,1181.6 1501.0,1154.0 1501.1,1200.0 1501.2,1190.8 1501.4,1163.2 1501.5,1200.0 1501.7,1218.4 1501.8,1144.8 1502.0,1154.0 1502.1,1190.8 1502.2,1209.2 1502.4,1154.0 1502.5,1200.0 1502.7,1218.4 1502.8,1190.8 1503.0,1181.6 1503.1,1200.0 1503.3,1218.4 1503.4,1181.6 1503.5,1190.8 1503.7,1200.0 1503.8,1200.0 1504.0,1218.4 1504.1,1190.8 1504.3,1172.4 1504.4,1154.0 1504.6,1144.8 1504.7,1154.0 1504.8,1218.4 1505.0,1181.6 1505.1,1236.8 1505.3,1190.8 1505.4,1218.4 1505.6,1190.8 1505.7,1181.6 1505.8,1209.2 1506.0,1200.0 1506.1,1200.0 1506.3,1181.6 1506.4,1172.4 1506.6,1172.4 1506.7,1190.8 1506.9,1172.4 1507.0,1190.8 1507.1,1190.8 1507.3,1163.2 1507.4,1144.8 1507.6,1190.8 1507.7,1200.0 1507.9,1190.8 1508.0,1209.2 1508.2,1181.6 1508.3,1200.0 1508.4,1181.6 1508.6,1181.6 1508.7,1144.8 1508.9,1200.0 1509.0,1200.0 1509.2,1200.0 1509.3,1144.8 1509.4,1200.0 1509.6,1181.6 1509.7,1218.4 1509.9,1190.8 1510.0,1163.2 1510.2,1190.8 1510.3,1181.6 1510.5,1200.0 1510.6,1144.8 1510.7,1172.4 1510.9,1209.2 1511.0,1172.4 1511.2,1181.6 1511.3,1227.6 1511.5,1163.2 1511.6,1246.0 1511.8,1163.2 1511.9,1200.0 1512.0,1218.4 1512.2,1172.4 1512.3,1154.0 1512.5,1218.4 1512.6,1154.0 1512.8,1190.8 1512.9,1181.6 1513.0,1181.6 1513.2,1163.2 1513.3,1172.4 1513.5,1200.0 1513.6,1181.6 1513.8,1190.8 1513.9,1218.4 1514.1,1190.8 1514.2,1200.0 1514.3,1163.2 1514.5,1190.8 1514.6,1236.8 1514.8,1200.0 1514.9,1200.0 1515.1,1154.0 1515.2,1163.2 1515.4,1200.0 1515.5,1200.0 1515.6,1172.4 1515.8,1181.6 1515.9,1181.6 1516.1,1200.0 1516.2,1181.6 1516.4,1190.8 1516.5,1200.0 1516.6,1218.4 1516.8,1172.4 1516.9,1190.8 1517.1,1163.2 1517.2,1181.6 1517.4,1209.2 1517.5,1218.4 1517.7,1181.6 1517.8,1144.8 1517.9,1144.8 1518.1,1200.0 1518.2,1154.0 1518.4,1181.6 1518.5,1181.6 1518.7,1163.2 1518.8,1154.0 1519.0,1163.2 1519.1,1200.0 1519.2,1190.8 1519.4,1218.4 1519.5,1190.8 1519.7,1209.2 1519.8,1200.0 1520.0,1172.4 1520.1,1200.0 1520.2,1163.2 1520.4,1190.8 1520.5,1200.0 1520.7,1209.2 1520.8,1200.0 1521.0,1172.4 1521.1,1144.8 1521.3,1218.4 1521.4,1172.4 1521.5,1163.2 1521.7,1163.2 1521.8,1200.0 1522.0,1200.0 1522.1,1200.0 1522.3,1218.4 1522.4,1163.2 1522.6,1163.2 1522.7,1209.2 1522.8,1154.0 1523.0,1154.0 1523.1,1218.4 1523.3,1227.6 1523.4,1117.2 1523.6,1144.8 1523.7,1172.4 1523.8,1172.4 1524.0,1190.8 1524.1,1209.2 1524.3,1218.4 1524.4,1190.8 1524.6,1181.6 1524.7,1200.0 1524.9,1190.8 1525.0,1172.4 1525.1,1200.0 1525.3,1154.0 1525.4,1209.2 1525.6,1163.2 1525.7,1200.0 1525.9,1200.0 1526.0,1172.4 1526.2,1218.4 1526.3,1172.4 1526.4,1154.0 1526.6,1163.2 1526.7,1209.2 1526.9,1209.2 1527.0,1218.4 1527.2,1172.4 1527.3,1154.0 1527.4,1144.8 1527.6,1209.2 1527.7,1200.0 1527.9,1190.8 1528.0,1209.2 1528.2,1209.2 1528.3,1181.6 1528.5,1190.8 1528.6,1190.8 1528.7,1227.6 1528.9,1144.8 1529.0,1181.6 1529.2,1172.4 1529.3,1172.4 1529.5,1190.8 1529.6,1190.8 1529.8,1144.8 1529.9,1200.0 1530.0,1163.2 1530.2,1200.0 1530.3,1209.2 1530.5,1163.2 1530.6,1163.2 1530.8,1154.0 1530.9,1227.6 1531.0,1163.2 1531.2,1190.8 1531.3,1181.6 1531.5,1172.4 1531.6,1144.8 1531.8,1209.2 1531.9,1200.0 1532.1,1200.0 1532.2,1190.8 1532.3,1209.2 1532.5,1172.4 1532.6,1250.0 1532.8,1163.2 1532.9,1190.8 1533.1,1209.2 1533.2,1163.2 1533.4,1218.4 1533.5,1181.6 1533.6,1190.8 1533.8,1190.8 1533.9,1200.0 1534.1,1144.8 1534.2,1181.6 1534.4,1181.6 1534.5,1154.0 1534.6,1209.2 1534.8,1144.8 1534.9,1172.4 1535.1,1209.2 1535.2,1181.6 1535.4,1209.2 1535.5,1190.8 1535.7,1190.8 1535.8,1209.2 1535.9,1190.8 1536.1,1190.8 1536.2,1209.2 1536.4,1218.4 1536.5,1163.2 1536.7,1190.8 1536.8,1218.4 1537.0,1200.0 1537.1,1154.0 1537.2,1154.0 1537.4,1181.6 1537.5,1227.6 1537.7,1190.8 1537.8,1154.0 1538.0,1144.8 1538.1,1209.2 1538.2,1209.2 1538.4,1172.4 1538.5,1227.6 1538.7,1172.4 1538.8,1200.0 1539.0,1227.6 1539.1,1181.6 1539.3,1163.2 1539.4,1181.6 1539.5,1172.4 1539.7,1190.8 1539.8,1172.4 1540.0,1085.0 1540.1,1144.8 1540.3,1154.0 1540.4,1209.2 1540.6,1154.0 1540.7,1181.6 1540.8,1154.0 1541.0,1218.4 1541.1,1163.2 1541.3,1135.6 1541.4,1190.8 1541.6,1163.2 1541.7,1144.8 1541.8,1172.4 1542.0,1200.0 1542.1,1190.8 1542.3,1163.2 1542.4,1218.4 1542.6,1163.2 1542.7,1218.4 1542.9,1172.4 1543.0,1172.4 1543.1,1135.6 1543.3,1163.2 1543.4,1163.2 1543.6,1163.2 1543.7,1172.4 1543.9,1218.4 1544.0,1154.0 1544.2,1154.0 1544.3,1209.2 1544.4,1190.8 1544.6,1190.8 1544.7,1154.0 1544.9,1218.4 1545.0,1209.2 1545.2,1144.8 1545.3,1163.2 1545.4,1209.2 1545.6,1181.6 1545.7,1200.0 1545.9,1163.2 1546.0,1200.0 1546.2,1209.2 1546.3,1209.2 1546.5,1209.2 1546.6,1163.2 1546.7,1190.8 1546.9,1163.2 1547.0,1200.0 1547.2,1181.6 1547.3,1154.0 1547.5,1209.2 1547.6,1181.6 1547.8,1190.8 1547.9,1200.0 1548.0,1181.6 1548.2,1144.8 1548.3,1181.6 1548.5,1200.0 1548.6,1181.6 1548.8,1154.0 1548.9,1135.6 1549.0,1209.2 1549.2,1163.2 1549.3,1163.2 1549.5,1181.6 1549.6,1209.2 1549.8,1200.0 1549.9,1154.0 1550.1,1190.8 1550.2,1135.6 1550.3,1181.6 1550.5,1089.6 1550.6,1190.8 1550.8,1181.6 1550.9,1172.4 1551.1,1209.2 1551.2,1200.0 1551.4,1209.2 1551.5,1190.8 1551.6,1218.4 1551.8,1163.2 1551.9,1144.8 1552.1,1190.8 1552.2,1144.8 1552.4,1200.0 1552.5,1172.4 1552.6,1209.2 1552.8,1163.2 1552.9,1209.2 1553.1,1181.6 1553.2,1209.2 1553.4,1190.8 1553.5,1200.0 1553.7,1227.6 1553.8,1144.8 1553.9,1077.0 1554.1,1181.6 1554.2,1181.6 1554.4,1144.8 1554.5,1218.4 1554.7,1181.6 1554.8,1144.8 1555.0,1172.4 1555.1,1172.4 1555.2,1144.8 1555.4,1190.8 1555.5,1163.2 1555.7,1200.0 1555.8,1200.0 1556.0,1154.0 1556.1,1190.8 1556.2,1227.6 1556.4,1200.0 1556.5,1200.0 1556.7,1190.8 1556.8,1172.4 1557.0,1135.6 1557.1,1172.4 1557.3,1209.2 1557.4,1163.2 1557.5,1209.2 1557.7,1154.0 1557.8,1181.6 1558.0,1200.0 1558.1,1190.8 1558.3,1172.4 1558.4,1154.0 1558.6,1144.8 1558.7,1200.0 1558.8,1209.2 1559.0,1135.6 1559.1,1190.8 1559.3,1163.2 1559.4,1163.2 1559.6,1181.6 1559.7,1135.6 1559.8,1154.0 1560.0,1209.2 1560.1,1218.4 1560.3,1190.8 1560.4,1172.4 1560.6,1154.0 1560.7,1190.8 1560.9,1190.8 1561.0,1200.0 1561.1,1181.6 1561.3,1144.8 1561.4,1181.6 1561.6,1172.4 1561.7,1163.2 1561.9,1209.2 1562.0,1227.6 1562.2,1135.6 1562.3,1154.0 1562.4,1200.0 1562.6,1172.4 1562.7,1181.6 1562.9,1163.2 1563.0,1250.0 1563.2,1200.0 1563.3,1209.2 1563.4,1200.0 1563.6,1190.8 1563.7,1209.2 1563.9,1172.4 1564.0,1172.4 1564.2,1163.2 1564.3,1181.6 1564.5,1181.6 1564.6,1209.2 1564.7,1218.4 1564.9,1135.6 1565.0,1209.2 1565.2,1181.6 1565.3,1172.4 1565.5,1181.6 1565.6,1190.8 1565.8,1218.4 1565.9,1144.8 1566.0,1190.8 1566.2,1163.2 1566.3,1163.2 1566.5,1172.4 1566.6,1163.2 1566.8,1172.4 1566.9,1154.0 1567.0,1181.6 1567.2,1172.4 1567.3,1227.6 1567.5,1172.4 1567.6,1227.6 1567.8,1190.8 1567.9,1163.2 1568.1,1181.6 1568.2,1135.6 1568.3,1172.4 1568.5,1209.2 1568.6,1181.6 1568.8,1218.4 1568.9,1190.8 1569.1,1135.6 1569.2,1144.8 1569.4,1172.4 1569.5,1163.2 1569.6,1163.2 1569.8,1144.8 1569.9,1209.2 1570.1,1172.4 1570.2,1163.2 1570.4,1200.0 1570.5,1200.0 1570.6,1200.0 1570.8,1154.0 1570.9,1190.8 1571.1,1172.4 1571.2,1172.4 1571.4,1172.4 1571.5,1154.0 1571.7,1200.0 1571.8,1181.6 1571.9,1190.8 1572.1,1163.2 1572.2,1190.8 1572.4,1200.0 1572.5,1200.0 1572.7,1172.4 1572.8,1218.4 1573.0,1172.4 1573.1,1181.6 1573.2,1144.8 1573.4,1190.8 1573.5,1172.4 1573.7,1144.8 1573.8,1209.2 1574.0,1200.0 1574.1,1163.2 1574.2,1172.4 1574.4,1172.4 1574.5,1181.6 1574.7,1181.6 1574.8,1200.0 1575.0,1227.6 1575.1,1144.8 1575.3,1172.4 1575.4,1209.2 1575.5,1236.8 1575.7,1144.8 1575.8,1172.4 1576.0,1218.4 1576.1,1190.8 1576.3,1218.4 1576.4,1209.2 1576.6,1172.4 1576.7,1144.8 1576.8,1163.2 1577.0,1218.4 1577.1,1200.0 1577.3,1172.4 1577.4,1163.2 1577.6,1181.6 1577.7,1227.6 1577.8,1218.4 1578.0,1181.6 1578.1,1154.0 1578.3,1200.0 1578.4,1144.8 1578.6,1181.6 1578.7,1172.4 1578.9,1181.6 1579.0,1227.6 1579.1,1154.0 1579.3,1190.8 1579.4,1163.2 1579.6,1135.6 1579.7,1172.4 1579.9,1163.2 1580.0,1209.2 1580.2,1190.8 1580.3,1144.8 1580.4,1181.6 1580.6,1209.2 1580.7,1227.6 1580.9,1181.6 1581.0,1144.8 1581.2,1200.0 1581.3,1154.0 1581.4,1163.2 1581.6,1144.8 1581.7,1200.0 1581.9,1190.8 1582.0,1181.6 1582.2,1190.8 1582.3,1181.6 1582.5,1190.8 1582.6,1163.2 1582.7,1190.8 1582.9,1163.2 1583.0,1200.0 1583.2,1154.0 1583.3,1190.8 1583.5,1218.4 1583.6,1163.2 1583.8,1144.8 1583.9,1200.0 1584.0,1200.0 1584.2,1190.8 1584.3,1154.0 1584.5,1209.2 1584.6,1200.0 1584.8,1172.4 1584.9,1209.2 1585.0,1135.6 1585.2,1218.4 1585.3,1200.0 1585.5,1227.6 1585.6,1190.8 1585.8,1200.0 1585.9,1218.4 1586.1,1218.4 1586.2,1154.0 1586.3,1209.2 1586.5,1144.8 1586.6,1190.8 1586.8,1209.2 1586.9,1181.6 1587.1,1200.0 1587.2,1163.2 1587.4,1218.4 1587.5,1144.8 1587.6,1200.0 1587.8,1144.8 1587.9,1163.2 1588.1,1135.6 1588.2,1172.4 1588.4,1181.6 1588.5,1200.0 1588.6,1200.0 1588.8,1172.4 1588.9,1200.0 1589.1,1172.4 1589.2,1218.4 1589.4,1200.0 1589.5,1200.0 1589.7,1172.4 1589.8,1209.2 1589.9,1209.2 1590.1,1209.2 1590.2,1190.8 1590.4,1227.6 1590.5,1209.2 1590.7,1190.8 1590.8,1209.2 1591.0,1190.8 1591.1,1172.4 1591.2,1126.4 1591.4,1227.6 1591.5,1154.0 1591.7,1218.4 1591.8,1181.6 1592.0,1135.6 1592.1,1209.2 1592.2,1200.0 1592.4,1172.4 1592.5,1181.6 1592.7,1181.6 1592.8,1181.6 1593.0,1190.8 1593.1,1181.6 1593.3,1209.2 1593.4,1163.2 1593.5,1181.6 1593.7,1144.8 1593.8,1163.2 1594.0,1236.8 1594.1,1181.6 1594.3,1200.0 1594.4,1200.0 1594.6,1181.6 1594.7,1200.0 1594.8,1172.4 1595.0,1190.8 1595.1,1154.0 1595.3,1200.0 1595.4,1200.0 1595.6,1209.2 1595.7,1190.8 1595.8,1200.0 1596.0,1144.8 1596.1,1250.0 1596.3,1172.4 1596.4,1200.0 1596.6,1181.6 1596.7,1163.2 1596.9,1172.4 1597.0,1200.0 1597.1,1163.2 1597.3,1144.8 1597.4,1190.8 1597.6,1144.8 1597.7,1135.6 1597.9,1135.6 1598.0,1209.2 1598.2,1227.6 1598.3,1172.4 1598.4,1200.0 1598.6,1200.0 1598.7,1163.2 1598.9,1227.6 1599.0,1218.4 1599.2,1144.8 1599.3,1200.0 1599.4,1209.2 1599.6,1154.0 1599.7,1190.8 1599.9,1181.6 1600.0,1209.2 1600.2,1172.4 1600.3,1154.0 1600.5,1190.8 1600.6,1209.2 1600.7,1154.0 1600.9,1172.4 1601.0,1227.6 1601.2,1163.2 1601.3,1154.0 1601.5,1135.6 1601.6,1163.2 1601.8,1227.6 1601.9,1209.2 1602.0,1144.8 1602.2,1163.2 1602.3,1190.8 1602.5,1200.0 1602.6,1218.4 1602.8,1181.6 1602.9,1163.2 1603.0,1172.4 1603.2,1144.8 1603.3,1163.2 1603.5,1190.8 1603.6,1154.0 1603.8,1209.2 1603.9,1218.4 1604.1,1144.8 1604.2,1218.4 1604.3,1144.8 1604.5,1181.6 1604.6,1218.4 1604.8,1181.6 1604.9,1181.6 1605.1,1144.8 1605.2,1250.0 1605.4,1218.4 1605.5,1200.0 1605.6,1144.8 1605.8,1227.6 1605.9,1227.6 1606.1,1190.8 1606.2,1200.0 1606.4,1190.8 1606.5,1181.6 1606.6,1218.4 1606.8,1209.2 1606.9,1181.6 1607.1,1181.6 1607.2,1144.8 1607.4,1172.4 1607.5,1163.2 1607.7,1200.0 1607.8,1163.2 1607.9,1209.2 1608.1,1144.8 1608.2,1209.2 1608.4,1181.6 1608.5,1209.2 1608.7,1181.6 1608.8,1209.2 1609.0,1144.8 1609.1,1227.6 1609.2,1200.0 1609.4,1190.8 1609.5,1200.0 1609.7,1218.4 1609.8,1190.8 1610.0,1144.8 1610.1,1181.6 1610.2,1227.6 1610.4,1181.6 1610.5,1144.8 1610.7,1227.6 1610.8,1181.6 1611.0,1200.0 1611.1,1200.0 1611.3,1154.0 1611.4,1154.0 1611.5,1209.2 1611.7,1218.4 1611.8,1200.0 1612.0,1209.2 1612.1,1209.2 1612.3,1190.8 1612.4,1154.0 1612.6,1200.0 1612.7,1163.2 1612.8,1172.4 1613.0,1209.2 1613.1,1154.0 1613.3,1209.2 1613.4,1200.0 1613.6,1190.8 1613.7,1163.2 1613.8,1181.6 1614.0,1135.6 1614.1,1144.8 1614.3,1163.2 1614.4,1190.8 1614.6,1144.8 1614.7,1172.4 1614.9,1181.6 1615.0,1209.2 1615.1,1209.2 1615.3,1181.6 1615.4,1172.4 1615.6,1218.4 1615.7,1172.4 1615.9,1144.8 1616.0,1154.0 1616.2,1209.2 1616.3,1154.0 1616.4,1154.0 1616.6,1181.6 1616.7,1209.2 1616.9,1154.0 1617.0,1200.0 1617.2,1172.4 1617.3,1200.0 1617.4,1218.4 1617.6,1144.8 1617.7,1154.0 1617.9,1181.6 1618.0,1200.0 1618.2,1218.4 1618.3,1190.8 1618.5,1200.0 1618.6,1190.8 1618.7,1181.6 1618.9,1209.2 1619.0,1227.6 1619.2,1209.2 1619.3,1144.8 1619.5,1172.4 1619.6,1200.0 1619.8,1163.2 1619.9,1154.0 1620.0,1200.0 1620.2,1154.0 1620.3,1080.4 1620.5,1227.6 1620.6,1144.8 1620.8,1181.6 1620.9,1227.6 1621.0,1172.4 1621.2,1218.4 1621.3,1163.2 1621.5,1190.8 1621.6,1144.8 1621.8,1218.4 1621.9,1200.0 1622.1,1172.4 1622.2,1200.0 1622.3,1181.6 1622.5,1154.0 1622.6,1200.0 1622.8,1144.8 1622.9,1135.6 1623.1,1227.6 1623.2,1190.8 1623.4,1227.6 1623.5,1200.0 1623.6,1190.8 1623.8,1209.2 1623.9,1172.4 1624.1,1181.6 1624.2,1181.6 1624.4,1218.4 1624.5,1154.0 1624.6,1172.4 1624.8,1144.8 1624.9,1172.4 1625.1,1209.2 1625.2,1181.6 1625.4,1209.2 1625.5,1218.4 1625.7,1200.0 1625.8,1200.0 1625.9,1190.8 1626.1,1172.4 1626.2,1200.0 1626.4,1200.0 1626.5,1209.2 1626.7,1218.4 1626.8,1236.8 1627.0,1218.4 1627.1,1227.6 1627.2,1154.0 1627.4,1172.4 1627.5,1163.2 1627.7,1200.0 1627.8,1200.0 1628.0,1209.2 1628.1,1181.6 1628.2,1200.0 1628.4,1227.6 1628.5,1172.4 1628.7,1227.6 1628.8,1181.6 1629.0,1190.8 1629.1,1227.6 1629.3,1172.4 1629.4,1154.0 1629.5,1209.2 1629.7,1172.4 1629.8,1181.6 1630.0,1209.2 1630.1,1190.8 1630.3,1209.2 1630.4,1154.0 1630.6,1218.4 1630.7,1190.8 1630.8,1181.6 1631.0,1181.6 1631.1,1209.2 1631.3,1163.2 1631.4,1163.2 1631.6,1227.6 1631.7,1218.4 1631.8,1190.8 1632.0,1209.2 1632.1,1172.4 1632.3,1181.6 1632.4,1190.8 1632.6,1227.6 1632.7,1227.6 1632.9,1190.8 1633.0,1200.0 1633.1,1209.2 1633.3,1190.8 1633.4,1181.6 1633.6,1200.0 1633.7,1172.4 1633.9,1172.4 1634.0,1181.6 1634.2,1181.6 1634.3,1200.0 1634.4,1227.6 1634.6,1218.4 1634.7,1227.6 1634.9,1190.8 1635.0,1200.0 1635.2,1163.2 1635.3,1209.2 1635.4,1181.6 1635.6,1200.0 1635.7,1190.8 1635.9,1190.8 1636.0,1181.6 1636.2,1218.4 1636.3,1209.2 1636.5,1190.8 1636.6,1218.4 1636.7,1190.8 1636.9,1200.0 1637.0,1172.4 1637.2,1209.2 1637.3,1181.6 1637.5,1209.2 1637.6,1218.4 1637.8,1172.4 1637.9,1209.2 1638.0,1190.8 1638.2,1209.2 1638.3,1163.2 1638.5,1200.0 1638.6,1209.2 1638.8,1163.2 1638.9,1218.4 1639.0,1190.8 1639.2,1200.0 1639.3,1172.4 1639.5,1190.8 1639.6,1227.6 1639.8,1163.2 1639.9,1200.0 1640.1,1209.2 1640.2,1209.2 1640.3,1218.4 1640.5,1227.6 1640.6,1227.6 1640.8,1209.2 1640.9,1172.4 1641.1,1144.8 1641.2,1190.8 1641.4,1218.4 1641.5,1209.2 1641.6,1181.6 1641.8,1154.0 1641.9,1163.2 1642.1,1218.4 1642.2,1227.6 1642.4,1163.2 1642.5,1227.6 1642.6,1172.4 1642.8,1172.4 1642.9,1209.2 1643.1,1209.2 1643.2,1190.8 1643.4,1227.6 1643.5,1200.0 1643.7,1181.6 1643.8,1200.0 1643.9,1181.6 1644.1,1144.8 1644.2,1209.2 1644.4,1181.6 1644.5,1209.2 1644.7,1209.2 1644.8,1181.6 1645.0,1200.0 1645.1,1200.0 1645.2,1190.8 1645.4,1209.2 1645.5,1209.2 1645.7,1209.2 1645.8,1209.2 1646.0,1200.0 1646.1,1181.6 1646.2,1209.2 1646.4,1209.2 1646.5,1154.0 1646.7,1181.6 1646.8,1218.4 1647.0,1218.4 1647.1,1190.8 1647.3,1209.2 1647.4,1181.6 1647.5,1181.6 1647.7,1236.8 1647.8,1209.2 1648.0,1172.4 1648.1,1209.2 1648.3,1181.6 1648.4,1163.2 1648.6,1200.0 1648.7,1172.4 1648.8,1154.0 1649.0,1227.6 1649.1,1227.6 1649.3,1227.6 1649.4,1227.6 1649.6,1218.4 1649.7,1190.8 1649.8,1190.8 1650.0,1218.4 1650.1,1172.4 1650.3,1209.2 1650.4,1200.0 1650.6,1218.4 1650.7,1200.0 1650.9,1209.2 1651.0,1209.2 1651.1,1172.4 1651.3,1209.2 1651.4,1227.6 1651.6,1190.8 1651.7,1190.8 1651.9,1190.8 1652.0,1181.6 1652.2,1200.0 1652.3,1163.2 1652.4,1190.8 1652.6,1190.8 1652.7,1209.2 1652.9,1200.0 1653.0,1190.8 1653.2,1209.2 1653.3,1181.6 1653.4,1209.2 1653.6,1190.8 1653.7,1190.8 1653.9,1181.6 1654.0,1209.2 1654.2,1209.2 1654.3,1190.8 1654.5,1181.6 1654.6,1200.0 1654.7,1190.8 1654.9,1200.0 1655.0,1172.4 1655.2,1227.6 1655.3,1209.2 1655.5,1227.6 1655.6,1209.2 1655.8,1200.0 1655.9,1209.2 1656.0,1190.8 1656.2,1218.4 1656.3,1227.6 1656.5,1209.2 1656.6,1190.8 1656.8,1227.6 1656.9,1209.2 1657.0,1181.6 1657.2,1209.2 1657.3,1209.2 1657.5,1181.6 1657.6,1209.2 1657.8,1190.8 1657.9,1200.0 1658.1,1227.6 1658.2,1218.4 1658.3,1200.0 1658.5,1218.4 1658.6,1163.2 1658.8,1209.2 1658.9,1209.2 1659.1,1163.2 1659.2,1190.8 1659.4,1209.2 1659.5,1200.0 1659.6,1190.8 1659.8,1200.0 1659.9,1218.4 1660.1,1172.4 1660.2,1181.6 1660.4,1227.6 1660.5,1227.6 1660.6,1200.0 1660.8,1209.2 1660.9,1209.2 1661.1,1209.2 1661.2,1181.6 1661.4,1218.4 1661.5,1181.6 1661.7,1209.2 1661.8,1218.4 1661.9,1209.2 1662.1,1172.4 1662.2,1172.4 1662.4,1190.8 1662.5,1209.2 1662.7,1181.6 1662.8,1218.4 1663.0,1181.6 1663.1,1181.6 1663.2,1209.2 1663.4,1172.4 1663.5,1190.8 1663.7,1181.6 1663.8,1209.2 1664.0,1218.4 1664.1,1218.4 1664.2,1227.6 1664.4,1209.2 1664.5,1190.8 1664.7,1227.6 1664.8,1172.4 1665.0,1200.0 1665.1,1190.8 1665.3,1098.8 1665.4,1181.6 1665.5,1200.0 1665.7,1209.2 1665.8,1181.6 1666.0,1200.0 1666.1,1218.4 1666.3,1172.4 1666.4,1200.0 1666.6,1218.4 1666.7,1209.2 1666.8,1200.0 1667.0,1200.0 1667.1,1190.8 1667.3,1172.4 1667.4,1209.2 1667.6,1200.0 1667.7,1227.6 1667.8,1190.8 1668.0,1190.8 1668.1,1181.6 1668.3,1200.0 1668.4,1209.2 1668.6,1209.2 1668.7,1200.0 1668.9,1181.6 1669.0,1200.0 1669.1,1190.8 1669.3,1227.6 1669.4,1181.6 1669.6,1190.8 1669.7,1218.4 1669.9,1209.2 1670.0,1190.8 1670.2,1200.0 1670.3,1190.8 1670.4,1172.4 1670.6,1227.6 1670.7,1209.2 1670.9,1190.8 1671.0,1172.4 1671.2,1209.2 1671.3,1227.6 1671.4,1181.6 1671.6,1200.0 1671.7,1209.2 1671.9,1209.2 1672.0,1190.8 1672.2,1190.8 1672.3,1218.4 1672.5,1172.4 1672.6,1209.2 1672.7,1227.6 1672.9,1209.2 1673.0,1209.2 1673.2,1181.6 1673.3,1209.2 1673.5,1190.8 1673.6,1172.4 1673.8,1200.0 1673.9,1172.4 1674.0,1209.2 1674.2,1209.2 1674.3,1190.8 1674.5,1236.8 1674.6,1209.2 1674.8,1190.8 1674.9,1190.8 1675.0,1209.2 1675.2,1181.6 1675.3,1246.0 1675.5,1181.6 1675.6,1218.4 1675.8,1190.8 1675.9,1190.8 1676.1,1200.0 1676.2,1209.2 1676.3,1190.8 1676.5,1190.8 1676.6,1181.6 1676.8,1172.4 1676.9,1190.8 1677.1,1190.8 1677.2,1218.4 1677.4,1108.0 1677.5,1190.8 1677.6,1181.6 1677.8,1218.4 1677.9,1200.0 1678.1,1200.0 1678.2,1190.8 1678.4,1200.0 1678.5,1209.2 1678.6,1218.4 1678.8,1218.4 1678.9,1200.0 1679.1,1218.4 1679.2,1200.0 1679.4,1227.6 1679.5,1190.8 1679.7,1190.8 1679.8,1209.2 1679.9,1190.8 1680.1,1209.2 1680.2,1181.6 1680.4,1190.8 1680.5,1190.8 1680.7,1209.2 1680.8,1172.4 1681.0,1181.6 1681.1,1190.8 1681.2,1209.2 1681.4,1218.4 1681.5,1209.2 1681.7,1172.4 1681.8,1190.8 1682.0,1218.4 1682.1,1200.0 1682.2,1181.6 1682.4,1209.2 1682.5,1200.0 1682.7,1181.6 1682.8,1190.8 1683.0,1209.2 1683.1,1209.2 1683.3,1218.4 1683.4,1190.8 1683.5,1209.2 1683.7,1227.6 1683.8,1181.6 1684.0,1209.2 1684.1,1218.4 1684.3,1163.2 1684.4,1181.6 1684.6,1200.0 1684.7,1172.4 1684.8,1181.6 1685.0,1190.8 1685.1,1190.8 1685.3,1172.4 1685.4,1172.4 1685.6,1172.4 1685.7,1209.2 1685.8,1181.6 1686.0,1209.2 1686.1,1227.6 1686.3,1227.6 1686.4,1218.4 1686.6,1172.4 1686.7,1227.6 1686.9,1181.6 1687.0,1218.4 1687.1,1190.8 1687.3,1190.8 1687.4,1200.0 1687.6,1227.6 1687.7,1209.2 1687.9,1172.4 1688.0,1200.0 1688.2,1200.0 1688.3,1236.8 1688.4,1227.6 1688.6,1218.4 1688.7,1190.8 1688.9,1190.8 1689.0,1227.6 1689.2,1218.4 1689.3,1209.2 1689.4,1200.0 1689.6,1181.6 1689.7,1172.4 1689.9,1209.2 1690.0,1200.0 1690.2,1218.4 1690.3,1209.2 1690.5,1209.2 1690.6,1200.0 1690.7,1181.6 1690.9,1181.6 1691.0,1181.6 1691.2,1190.8 1691.3,1209.2 1691.5,1209.2 1691.6,1163.2 1691.8,1209.2 1691.9,1181.6 1692.0,1181.6 1692.2,1200.0 1692.3,1227.6 1692.5,1181.6 1692.6,1209.2 1692.8,1181.6 1692.9,1172.4 1693.0,1200.0 1693.2,1190.8 1693.3,1200.0 1693.5,1209.2 1693.6,1163.2 1693.8,1227.6 1693.9,1181.6 1694.1,1172.4 1694.2,1172.4 1694.3,1200.0 1694.5,1181.6 1694.6,1190.8 1694.8,1181.6 1694.9,1209.2 1695.1,1200.0 1695.2,1209.2 1695.4,1209.2 1695.5,1200.0 1695.6,1209.2 1695.8,1200.0 1695.9,1209.2 1696.1,1200.0 1696.2,1181.6 1696.4,1181.6 1696.5,1172.4 1696.6,1181.6 1696.8,1200.0 1696.9,1209.2 1697.1,1190.8 1697.2,1190.8 1697.4,1181.6 1697.5,1209.2 1697.7,1227.6 1697.8,1172.4 1697.9,1209.2 1698.1,1163.2 1698.2,1218.4 1698.4,1163.2 1698.5,1154.0 1698.7,1190.8 1698.8,1209.2 1699.0,1200.0 1699.1,1172.4 1699.2,1200.0 1699.4,1209.2 1699.5,1163.2 1699.7,1181.6 1699.8,1144.8 1700.0,1209.2 1700.1,1181.6 1700.2,1190.8 1700.4,1163.2 1700.5,1172.4 1700.7,1163.2 1700.8,1181.6 1701.0,1200.0 1701.1,1190.8 1701.3,1227.6 1701.4,1190.8 1701.5,1190.8 1701.7,1172.4 1701.8,1218.4 1702.0,1190.8 1702.1,1200.0 1702.3,1154.0 1702.4,1181.6 1702.6,1163.2 1702.7,1154.0 1702.8,1218.4 1703.0,1209.2 1703.1,1163.2 1703.3,1190.8 1703.4,1218.4 1703.6,1135.6 1703.7,1200.0 1703.8,1181.6 1704.0,1172.4 1704.1,1218.4 1704.3,1200.0 1704.4,1172.4 1704.6,1200.0 1704.7,1200.0 1704.9,1190.8 1705.0,1181.6 1705.1,1154.0 1705.3,1135.6 1705.4,1144.8 1705.6,1181.6 1705.7,1181.6 1705.9,1218.4 1706.0,1209.2 1706.2,1144.8 1706.3,1163.2 1706.4,1135.6 1706.6,1154.0 1706.7,1190.8 1706.9,1190.8 1707.0,1190.8 1707.2,1181.6 1707.3,1209.2 1707.4,1190.8 1707.6,1144.8 1707.7,1200.0 1707.9,1209.2 1708.0,1218.4 1708.2,1209.2 1708.3,1144.8 1708.5,1172.4 1708.6,1144.8 1708.7,1227.6 1708.9,1154.0 1709.0,1163.2 1709.2,1172.4 1709.3,1181.6 1709.5,1154.0 1709.6,1181.6 1709.8,1218.4 1709.9,1172.4 1710.0,1181.6 1710.2,1218.4 1710.3,1135.6 1710.5,1200.0 1710.6,1144.8 1710.8,1163.2 1710.9,1172.4 1711.0,1181.6 1711.2,1190.8 1711.3,1144.8 1711.5,1190.8 1711.6,1227.6 1711.8,1200.0 1711.9,1154.0 1712.1,1227.6 1712.2,1200.0 1712.3,1218.4 1712.5,1190.8 1712.6,1181.6 1712.8,1154.0 1712.9,1144.8 1713.1,1200.0 1713.2,1135.6 1713.4,1181.6 1713.5,1172.4 1713.6,1154.0 1713.8,1200.0 1713.9,1227.6 1714.1,1066.0 1714.2,1154.0 1714.4,1190.8 1714.5,1181.6 1714.6,1172.4 1714.8,1200.0 1714.9,1163.2 1715.1,1200.0 1715.2,1126.4 1715.4,1126.4 1715.5,1209.2 1715.7,1154.0 1715.8,1218.4 1715.9,1135.6 1716.1,1200.0 1716.2,1172.4 1716.4,1154.0 1716.5,1163.2 1716.7,1154.0 1716.8,1135.6 1717.0,1190.8 1717.1,1144.8 1717.2,1163.2 1717.4,1126.4 1717.5,1135.6 1717.7,1181.6 1717.8,1126.4 1718.0,1163.2 1718.1,1163.2 1718.2,1218.4 1718.4,1218.4 1718.5,1144.8 1718.7,1181.6 1718.8,1163.2 1719.0,1190.8 1719.1,1172.4 1719.3,1209.2 1719.4,1181.6 1719.5,1209.2 1719.7,1209.2 1719.8,1190.8 1720.0,1227.6 1720.1,1227.6 1720.3,1190.8 1720.4,1190.8 1720.6,1218.4 1720.7,1135.6 1720.8,1144.8 1721.0,1190.8 1721.1,1144.8 1721.3,1154.0 1721.4,1190.8 1721.6,1144.8 1721.7,1172.4 1721.8,1163.2 1722.0,1181.6 1722.1,1172.4 1722.3,1209.2 1722.4,1144.8 1722.6,1218.4 1722.7,1154.0 1722.9,1190.8 1723.0,1154.0 1723.1,1200.0 1723.3,1209.2 1723.4,1246.0 1723.6,1200.0 1723.7,1181.6 1723.9,1126.4 1724.0,1227.6 1724.2,1190.8 1724.3,1163.2 1724.4,1163.2 1724.6,1190.8 1724.7,1190.8 1724.9,1181.6 1725.0,1085.0 1725.2,1181.6 1725.3,1190.8 1725.4,1163.2 1725.6,1144.8 1725.7,1227.6 1725.9,1200.0 1726.0,1227.6 1726.2,1209.2 1726.3,1154.0 1726.5,1181.6 1726.6,1181.6 1726.7,1250.0 1726.9,1200.0"/><rect x="822.0" y="1223.5" width="8" height="114.5" fill="#ff0000"/><rect x="945.0" y="1233.6" width="8" height="104.4" fill="#ff0000"/><rect x="1020.5" y="1293.0" width="8" height="45.0" fill="#ff0000"/><rect x="1062.0" y="1322.7" width="8" height="15.3" fill="#ff0000"/><rect x="1209.0" y="1188.0" width="8" height="150.0" fill="#ff0000"/><rect x="1245.0" y="1293.0" width="8" height="45.0" fill="#ff0000"/><rect x="1323.5" y="1307.7" width="8" height="30.3" fill="#ff0000"/><rect x="1351.0" y="1312.8" width="8" height="25.2" fill="#ff0000"/><rect x="1422.0" y="1293.0" width="8" height="45.0" fill="#ff0000"/><rect x="1522.0" y="1334.0" width="8" height="4.0" fill="#ff0000"/><rect x="1613.0" y="1331.0" width="8" height="7.0" fill="#ff0000"/><rect x="1637.0" y="1334.0" width="8" height="4.0" fill="#ff0000"/><rect x="1722.0" y="1332.0" width="8" height="6.0" fill="#ff0000"/><rect x="1803.0" y="1329.0" width="8" height="9.0" fill="#ff0000"/><rect x="284.5" y="51" width="1729.5" height="1285.5" fill="none" stroke="#000" stroke-width="5.5"/><line x1="287" y1="1246.0" x2="309" y2="1246.0" stroke="#000" stroke-width="3.5"/><line x1="287" y1="1062.0" x2="309" y2="1062.0" stroke="#000" stroke-width="3.5"/><line x1="287" y1="878.0" x2="309" y2="878.0" stroke="#000" stroke-width="3.5"/><line x1="287" y1="694.0" x2="309" y2="694.0" stroke="#000" stroke-width="3.5"/><line x1="287" y1="510.0" x2="309" y2="510.0" stroke="#000" stroke-width="3.5"/><line x1="287" y1="326.0" x2="309" y2="326.0" stroke="#000" stroke-width="3.5"/><line x1="287" y1="142.0" x2="309" y2="142.0" stroke="#000" stroke-width="3.5"/><line x1="287" y1="1154.0" x2="296" y2="1154.0" stroke="#000" stroke-width="3.5"/><line x1="287" y1="970.0" x2="296" y2="970.0" stroke="#000" stroke-width="3.5"/><line x1="287" y1="786.0" x2="296" y2="786.0" stroke="#000" stroke-width="3.5"/><line x1="287" y1="602.0" x2="296" y2="602.0" stroke="#000" stroke-width="3.5"/><line x1="287" y1="418.0" x2="296" y2="418.0" stroke="#000" stroke-width="3.5"/><line x1="287" y1="234.0" x2="296" y2="234.0" stroke="#000" stroke-width="3.5"/><line x1="287" y1="50.0" x2="296" y2="50.0" stroke="#000" stroke-width="3.5"/><line x1="429.0" y1="1338" x2="429.0" y2="1361" stroke="#000" stroke-width="5"/><line x1="717.0" y1="1338" x2="717.0" y2="1361" stroke="#000" stroke-width="5"/><line x1="1005.0" y1="1338" x2="1005.0" y2="1361" stroke="#000" stroke-width="5"/><line x1="1293.0" y1="1338" x2="1293.0" y2="1361" stroke="#000" stroke-width="5"/><line x1="1581.0" y1="1338" x2="1581.0" y2="1361" stroke="#000" stroke-width="5"/><line x1="1869.0" y1="1338" x2="1869.0" y2="1361" stroke="#000" stroke-width="5"/><line x1="285.0" y1="1338" x2="285.0" y2="1350" stroke="#000" stroke-width="5"/><line x1="573.0" y1="1338" x2="573.0" y2="1350" stroke="#000" stroke-width="5"/><line x1="861.0" y1="1338" x2="861.0" y2="1350" stroke="#000" stroke-width="5"/><line x1="1149.0" y1="1338" x2="1149.0" y2="1350" stroke="#000" stroke-width="5"/><line x1="1437.0" y1="1338" x2="1437.0" y2="1350" stroke="#000" stroke-width="5"/><line x1="1725.0" y1="1338" x2="1725.0" y2="1350" stroke="#000" stroke-width="5"/><line x1="2013.0" y1="1338" x2="2013.0" y2="1350" stroke="#000" stroke-width="5"/><text x="257" y="1265.0" text-anchor="end" style="font-family:'Liberation Serif','Times New Roman',serif;font-weight:bold;font-size:65px">0</text><text x="257" y="1081.0" text-anchor="end" style="font-family:'Liberation Serif','Times New Roman',serif;font-weight:bold;font-size:65px">20</text><text x="257" y="897.0" text-anchor="end" style="font-family:'Liberation Serif','Times New Roman',serif;font-weight:bold;font-size:65px">40</text><text x="257" y="713.0" text-anchor="end" style="font-family:'Liberation Serif','Times New Roman',serif;font-weight:bold;font-size:65px">60</text><text x="257" y="529.0" text-anchor="end" style="font-family:'Liberation Serif','Times New Roman',serif;font-weight:bold;font-size:65px">80</text><text x="257" y="345.0" text-anchor="end" style="font-family:'Liberation Serif','Times New Roman',serif;font-weight:bold;font-size:65px">100</text><text x="257" y="161.0" text-anchor="end" style="font-family:'Liberation Serif','Times New Roman',serif;font-weight:bold;font-size:65px">120</text><text x="429.0" y="1431" text-anchor="middle" style="font-family:'Liberation Serif','Times New Roman',serif;font-weight:bold;font-size:65px">0</text><text x="717.0" y="1431" text-anchor="middle" style="font-family:'Liberation Serif','Times New Roman',serif;font-weight:bold;font-size:65px">20</text><text x="1005.0" y="1431" text-anchor="middle" style="font-family:'Liberation Serif','Times New Roman',serif;font-weight:bold;font-size:65px">40</text><text x="1293.0" y="1431" text-anchor="middle" style="font-family:'Liberation Serif','Times New Roman',serif;font-weight:bold;font-size:65px">60</text><text x="1581.0" y="1431" text-anchor="middle" style="font-family:'Liberation Serif','Times New Roman',serif;font-weight:bold;font-size:65px">80</text><text x="1869.0" y="1431" text-anchor="middle" style="font-family:'Liberation Serif','Times New Roman',serif;font-weight:bold;font-size:65px">100</text><text x="920" y="1522" style="font-family:'Liberation Serif','Times New Roman',serif;font-size:100px;white-space:pre" xml:space="preserve">2Θ  (degree)</text><text transform="translate(134.6,1024) rotate(-90)" x="0" y="0" style="font-family:'Liberation Serif','Times New Roman',serif;font-weight:bold;font-size:102px;white-space:pre" xml:space="preserve">Intensity  (a.u.)</text><line x1="1214.5" y1="116.3" x2="1356.6" y2="116.3" stroke="#00ffff" stroke-width="5.6"/><line x1="1214.5" y1="206.3" x2="1356.6" y2="206.3" stroke="#ff0000" stroke-width="5.4"/><line x1="1214.5" y1="297.8" x2="1356.6" y2="297.8" stroke="#000" stroke-width="8"/><text x="1371" y="138" style="font-family:'Liberation Sans',Arial,sans-serif;font-size:63px">TiO<tspan dy="16" style="font-size:41px">2</tspan></text><text x="1371" y="228" style="font-family:'Liberation Sans',Arial,sans-serif;font-size:62px">TiO<tspan dy="16" style="font-size:41px">2</tspan><tspan dy="-16">Rutile NO.1-1292</tspan></text><text x="1371" y="318" style="font-family:'Liberation Sans',Arial,sans-serif;font-size:63px">FTO</text><text x="721" y="187" style="font-family:'Liberation Sans',Arial,sans-serif;font-size:62.5px;white-space:pre" xml:space="preserve">(1 0 1)</text><text x="826.5" y="309" style="font-family:'Liberation Sans',Arial,sans-serif;font-size:62.5px;white-space:pre" xml:space="preserve">(1 0 3)</text><text x="1280.8" y="532" style="font-family:'Liberation Sans',Arial,sans-serif;font-size:62.5px;white-space:pre" xml:space="preserve">(2 0 4)</text><text x="1184" y="636" style="font-family:'Liberation Sans',Arial,sans-serif;font-size:62.5px;white-space:pre" xml:space="preserve">(1 0 5)</text><text transform="translate(797.8,730) rotate(-90)" style="font-family:'Liberation Sans',Arial,sans-serif;font-size:62px">FTO</text><text transform="translate(892.8,817) rotate(-90)" style="font-family:'Liberation Sans',Arial,sans-serif;font-size:62px">FTO</text><text transform="translate(1080.7,904) rotate(-90)" style="font-family:'Liberation Sans',Arial,sans-serif;font-size:62px">FTO</text><text transform="translate(1149,574) rotate(-90)" style="font-family:'Liberation Sans',Arial,sans-serif;font-size:62px">FTO</text><text transform="translate(1478.5,967) rotate(-90)" style="font-family:'Liberation Sans',Arial,sans-serif;font-size:62px">FTO</text><line x1="924.3" y1="329" x2="948.8" y2="611.7" stroke="#000" stroke-width="4"/><polygon points="952.3,651.6 938.4,612.7 959.3,610.8" fill="#000"/><line x1="1252" y1="652" x2="1219.9" y2="951.9" stroke="#000" stroke-width="4"/><polygon points="1215.6,991.7 1209.4,950.8 1230.3,953.0" fill="#000"/><line x1="1364.7" y1="540" x2="1336.8" y2="894.6" stroke="#000" stroke-width="4"/><polygon points="1333.7,934.5 1326.4,893.8 1347.3,895.4" fill="#000"/></svg>
</body></html>
